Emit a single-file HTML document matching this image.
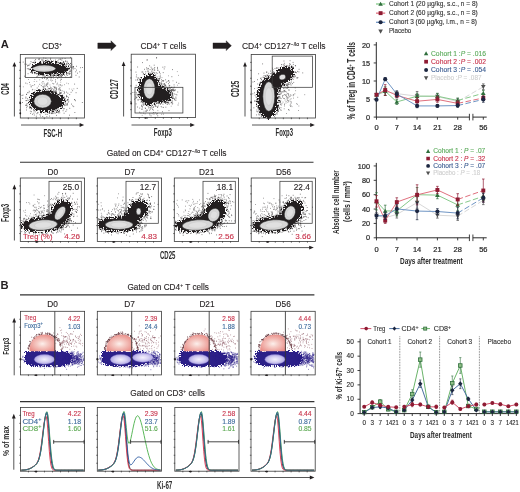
<!DOCTYPE html>
<html><head><meta charset="utf-8"><style>html,body{margin:0;padding:0;background:#fff;width:520px;height:492px;overflow:hidden}svg text{font-family:"Liberation Sans", sans-serif}</style></head><body>
<svg width="520" height="492" viewBox="0 0 520 492" style="position:absolute;left:0;top:0;will-change:transform" font-family="Liberation Sans, sans-serif">
<defs><filter id="spk" x="-50%" y="-50%" width="200%" height="200%" color-interpolation-filters="sRGB"><feGaussianBlur in="SourceAlpha" stdDeviation="2.2" result="b"/><feTurbulence type="fractalNoise" baseFrequency="0.7" numOctaves="2" seed="4" result="n"/><feColorMatrix in="n" type="matrix" values="0 0 0 0 0  0 0 0 0 0  0 0 0 0 0  4 0 0 0 -1.5" result="na"/><feComposite in="b" in2="na" operator="arithmetic" k1="0" k2="1.8" k3="-1.0" k4="0" result="m"/><feComponentTransfer in="m" result="t"><feFuncA type="discrete" tableValues="0 1"/></feComponentTransfer><feFlood flood-color="#231f20"/><feComposite operator="in" in2="t"/></filter><filter id="spkn" x="-50%" y="-50%" width="200%" height="200%" color-interpolation-filters="sRGB"><feGaussianBlur in="SourceAlpha" stdDeviation="1.6" result="b"/><feTurbulence type="fractalNoise" baseFrequency="0.7" numOctaves="2" seed="9" result="n"/><feColorMatrix in="n" type="matrix" values="0 0 0 0 0  0 0 0 0 0  0 0 0 0 0  4 0 0 0 -1.5" result="na"/><feComposite in="b" in2="na" operator="arithmetic" k1="0" k2="1.8" k3="-1.0" k4="0" result="m"/><feComponentTransfer in="m" result="t"><feFuncA type="discrete" tableValues="0 1"/></feComponentTransfer><feFlood flood-color="#2c2088"/><feComposite operator="in" in2="t"/></filter></defs>
<defs><filter id="bl" x="-30%" y="-30%" width="160%" height="160%"><feGaussianBlur stdDeviation="0.9"/></filter><filter id="bl2" x="-30%" y="-30%" width="160%" height="160%"><feGaussianBlur stdDeviation="0.5"/></filter></defs>
<rect width="520" height="492" fill="#ffffff"/>
<text x="0.7" y="48.3" font-size="11.2" fill="#231f20" font-weight="bold">A</text>
<text x="42.0" y="49.25" font-size="8.5" fill="#231f20" stroke="#231f20" stroke-width="0.12">CD3<tspan font-size="5.0" dy="-3.2">+</tspan><tspan dy="3.2">​</tspan></text>
<text x="140.4" y="49.3" font-size="8.5" fill="#231f20" stroke="#231f20" stroke-width="0.12" textLength="46.1" lengthAdjust="spacingAndGlyphs">CD4<tspan font-size="5.0" dy="-3.2">+</tspan><tspan dy="3.2">​</tspan> T cells</text>
<text x="241.9" y="49.1" font-size="8.5" fill="#231f20" stroke="#231f20" stroke-width="0.12" textLength="83.7" lengthAdjust="spacingAndGlyphs">CD4<tspan font-size="5.0" dy="-3.2">+</tspan><tspan dy="3.2">​</tspan> CD127<tspan font-size="5.0" dy="-3.2">−/lo</tspan><tspan dy="3.2">​</tspan> T cells</text>
<path d="M97.8,42.95 L111.2,42.95 L110.9,40.800000000000004 L116.2,45.7 L110.9,50.6 L111.2,48.45 L97.8,48.45 Z" fill="#231f20" stroke="#231f20" stroke-width="0.4" stroke-linejoin="round"/>
<path d="M213.0,42.95 L226.4,42.95 L226.1,40.800000000000004 L231.4,45.7 L226.1,50.6 L226.4,48.45 L213.0,48.45 Z" fill="#231f20" stroke="#231f20" stroke-width="0.4" stroke-linejoin="round"/>
<path d="M38.5 70.7h0.75M62.9 66.7h0.75M37.4 68.7h0.75M57.3 73.9h0.75M38.6 63.2h0.75M59.8 71.1h0.75M68.9 73.4h0.75M50.9 67.8h0.75M80.3 67.7h0.75M43.4 63.9h0.75M53.1 69.7h0.75M48.2 68.7h0.75M55.0 72.1h0.75M64.1 69.9h0.75M32.3 72.2h0.75M36.4 68.2h0.75M35.8 69.0h0.75M43.4 70.0h0.75M61.3 63.0h0.75M48.8 72.0h0.75M51.0 70.7h0.75M53.1 64.5h0.75M58.2 65.3h0.75M72.6 66.7h0.75M59.5 69.0h0.75M62.5 66.3h0.75M63.0 68.4h0.75M65.9 71.8h0.75M53.6 65.5h0.75M60.4 71.1h0.75M70.1 67.3h0.75M58.1 71.3h0.75M55.1 69.9h0.75M54.0 66.3h0.75M40.8 67.2h0.75M58.5 75.8h0.75M62.7 73.7h0.75M60.6 72.1h0.75M54.0 72.5h0.75M71.5 67.5h0.75M44.4 77.8h0.75M54.7 73.4h0.75M61.6 63.9h0.75M78.8 77.0h0.75M53.9 72.4h0.75M53.4 65.0h0.75M50.8 70.7h0.75M64.3 72.2h0.75M52.7 75.1h0.75M43.6 72.6h0.75M64.2 67.7h0.75M32.3 64.9h0.75M54.6 71.4h0.75M69.0 64.5h0.75M52.0 71.9h0.75M50.3 58.3h0.75M60.9 79.4h0.75M63.0 64.9h0.75M47.5 70.0h0.75M79.4 71.8h0.75M53.3 76.0h0.75M51.1 77.4h0.75M44.5 66.9h0.75M59.9 75.4h0.75M59.2 70.4h0.75M32.0 65.8h0.75M45.3 66.6h0.75M58.5 67.5h0.75M60.7 69.4h0.75M48.3 69.5h0.75M56.7 72.9h0.75M46.7 68.0h0.75M37.0 76.2h0.75M68.0 68.2h0.75M46.7 63.4h0.75M53.9 69.9h0.75M76.0 70.1h0.75M43.4 58.0h0.75M67.5 69.9h0.75M34.3 69.8h0.75M34.3 84.7h0.75M64.3 71.6h0.75M50.1 59.4h0.75M50.6 62.0h0.75M58.6 59.4h0.75M42.0 74.5h0.75M70.1 63.7h0.75M35.1 73.0h0.75M61.4 64.6h0.75M44.4 65.9h0.75M38.9 65.9h0.75M65.8 72.1h0.75M74.6 68.6h0.75M50.5 64.6h0.75M50.6 63.1h0.75M32.4 72.1h0.75M67.8 72.8h0.75M66.7 70.1h0.75M44.1 69.4h0.75M47.9 64.0h0.75M33.4 62.3h0.75M51.9 69.7h0.75M46.8 75.4h0.75M54.0 71.6h0.75M65.4 65.3h0.75M30.3 72.4h0.75M44.4 74.9h0.75M55.7 73.5h0.75M60.4 59.6h0.75M59.9 66.0h0.75M43.7 67.0h0.75M60.4 73.0h0.75M63.1 61.5h0.75M45.5 58.3h0.75M50.9 71.7h0.75M43.6 70.1h0.75M54.5 73.5h0.75M43.0 65.3h0.75M43.6 76.9h0.75M64.0 68.4h0.75M54.5 69.5h0.75M54.2 68.1h0.75M48.3 63.3h0.75M44.9 76.4h0.75M57.9 69.3h0.75M49.6 69.3h0.75M55.9 66.1h0.75M54.2 70.1h0.75M43.8 65.4h0.75M41.0 64.2h0.75M61.8 58.4h0.75M49.1 66.2h0.75M45.2 69.4h0.75M64.4 69.3h0.75M50.5 66.2h0.75M50.6 73.1h0.75M47.7 63.8h0.75M38.1 64.0h0.75M36.7 73.9h0.75M55.9 67.9h0.75M68.1 66.0h0.75M60.3 72.6h0.75M35.0 62.0h0.75M41.8 73.1h0.75M66.3 63.5h0.75M63.5 67.3h0.75M47.7 66.5h0.75M48.4 60.8h0.75M41.0 63.4h0.75M57.4 78.4h0.75M82.0 67.5h0.75M33.1 67.2h0.75M41.7 77.9h0.75M58.3 65.7h0.75M62.3 71.4h0.75M34.1 66.6h0.75M49.4 69.1h0.75M53.5 67.5h0.75M54.1 66.4h0.75M42.1 75.8h0.75M56.0 71.0h0.75M34.5 68.3h0.75M61.0 63.2h0.75M64.1 67.2h0.75M56.4 68.4h0.75M54.4 74.4h0.75M47.6 76.0h0.75M43.4 64.8h0.75M59.8 64.2h0.75M47.9 73.1h0.75M65.3 61.0h0.75M57.6 77.5h0.75M65.1 67.9h0.75M45.4 67.7h0.75M39.3 67.8h0.75M49.9 68.3h0.75M65.0 68.0h0.75M36.0 73.7h0.75M40.2 67.0h0.75M50.5 67.5h0.75M41.0 67.9h0.75M76.0 66.3h0.75M50.5 74.1h0.75M60.2 72.4h0.75M61.5 60.1h0.75M42.5 69.6h0.75M57.5 74.8h0.75M57.2 67.9h0.75M52.4 68.1h0.75M54.7 72.0h0.75M48.3 65.3h0.75M42.6 73.9h0.75M66.1 73.5h0.75M61.4 72.7h0.75M52.0 72.0h0.75M40.4 68.1h0.75M43.9 72.3h0.75M45.6 68.5h0.75M56.4 75.1h0.75M43.3 64.8h0.75M61.0 64.0h0.75M57.0 66.4h0.75M50.8 60.8h0.75M59.8 66.7h0.75M42.1 78.3h0.75M59.8 84.8h0.75M56.5 67.4h0.75M53.2 76.2h0.75M51.7 71.0h0.75M57.7 64.9h0.75M53.4 66.7h0.75M38.3 72.9h0.75M59.3 69.3h0.75M42.0 60.0h0.75M57.3 68.6h0.75M33.5 68.7h0.75M35.3 68.9h0.75M53.6 70.6h0.75M54.4 69.8h0.75M39.5 67.3h0.75M46.4 67.9h0.75M55.0 71.8h0.75M70.0 57.4h0.75M56.4 68.1h0.75M77.0 73.2h0.75M33.8 70.8h0.75M46.3 73.5h0.75M40.4 68.5h0.75M50.6 68.6h0.75M45.6 60.7h0.75M57.1 73.5h0.75M51.2 64.4h0.75M54.2 71.5h0.75M50.1 68.9h0.75M67.5 64.0h0.75M45.9 60.4h0.75M44.3 65.7h0.75M41.4 65.9h0.75M71.8 68.1h0.75M50.7 78.9h0.75M51.3 61.2h0.75M56.4 64.8h0.75M70.0 63.4h0.75M45.6 61.8h0.75M53.1 64.4h0.75M51.3 67.3h0.75M45.3 73.2h0.75M62.3 69.3h0.75M42.1 64.2h0.75M55.0 79.8h0.75M47.0 65.5h0.75M44.3 64.1h0.75M41.3 68.1h0.75M67.8 69.0h0.75M46.4 61.7h0.75M54.3 68.9h0.75M38.5 64.1h0.75M51.5 73.6h0.75M58.9 69.9h0.75" stroke="#231f20" stroke-width="0.75" opacity="0.9"/>
<path d="M44.4 103.4h0.75M35.5 98.2h0.75M61.9 99.0h0.75M63.7 100.7h0.75M49.6 98.2h0.75M32.8 93.7h0.75M72.4 105.8h0.75M54.7 108.2h0.75M54.3 108.7h0.75M45.1 99.3h0.75M58.8 98.4h0.75M33.4 99.3h0.75M42.0 105.6h0.75M40.1 93.0h0.75M44.3 112.6h0.75M47.5 102.2h0.75M48.1 103.2h0.75M58.2 111.5h0.75M29.9 111.2h0.75M48.0 98.6h0.75M74.4 99.7h0.75M69.4 108.3h0.75M36.7 104.7h0.75M56.1 100.1h0.75M22.4 98.4h0.75M45.9 92.7h0.75M68.1 99.2h0.75M43.7 98.8h0.75M39.4 95.2h0.75M49.0 103.3h0.75M42.4 100.3h0.75M32.7 104.9h0.75M39.8 102.6h0.75M38.0 97.1h0.75M50.4 91.9h0.75M75.2 100.7h0.75M47.2 95.5h0.75M65.5 111.4h0.75M51.3 90.7h0.75M42.5 105.6h0.75M42.4 92.1h0.75M34.9 95.2h0.75M48.2 96.1h0.75M67.5 93.2h0.75M51.8 101.7h0.75M46.5 108.8h0.75M44.3 98.6h0.75M43.9 100.2h0.75M62.1 106.8h0.75M33.2 97.7h0.75M39.2 107.1h0.75M50.5 107.7h0.75M47.3 86.7h0.75M53.0 102.7h0.75M53.6 91.2h0.75M48.9 95.8h0.75M40.4 103.7h0.75M51.9 94.3h0.75M29.2 82.4h0.75M41.7 109.4h0.75M47.4 84.1h0.75M38.5 104.2h0.75M66.4 109.8h0.75M52.0 102.5h0.75M36.3 97.6h0.75M44.3 95.2h0.75M48.7 98.1h0.75M51.7 111.8h0.75M56.2 104.1h0.75M45.4 89.6h0.75M46.7 105.1h0.75M36.9 110.4h0.75M44.3 103.8h0.75M44.4 91.6h0.75M70.7 92.3h0.75M58.1 96.8h0.75M51.1 95.0h0.75M43.4 107.9h0.75M69.4 94.6h0.75M48.1 108.1h0.75M41.1 106.3h0.75M39.4 105.5h0.75M52.8 110.1h0.75M52.0 92.1h0.75M55.3 92.7h0.75M56.3 112.3h0.75M54.6 96.9h0.75M61.1 102.3h0.75M34.3 98.3h0.75M63.6 98.7h0.75M49.3 98.4h0.75M29.5 97.2h0.75M51.9 102.6h0.75M46.1 85.0h0.75M61.4 106.4h0.75M59.3 110.8h0.75M43.1 96.5h0.75M51.5 113.6h0.75M29.5 99.3h0.75M40.1 105.2h0.75M64.1 98.8h0.75M34.4 101.4h0.75M44.9 89.4h0.75M57.7 97.1h0.75M55.5 91.1h0.75M60.1 90.2h0.75M59.6 87.4h0.75M63.2 98.2h0.75M30.9 99.2h0.75M51.7 93.6h0.75M42.6 103.0h0.75M46.1 78.0h0.75M43.3 104.2h0.75M51.3 108.6h0.75M56.8 103.3h0.75M59.9 108.2h0.75M49.1 96.3h0.75M59.3 104.2h0.75M27.2 92.7h0.75M53.1 101.8h0.75M51.1 105.8h0.75M49.6 112.9h0.75M41.5 98.0h0.75M51.5 106.6h0.75M56.7 112.2h0.75M42.8 109.8h0.75M53.1 93.2h0.75M46.5 116.6h0.75M56.6 97.5h0.75M21.6 95.5h0.75M40.3 101.6h0.75M73.4 106.6h0.75M51.4 94.0h0.75M35.0 99.4h0.75M43.6 96.4h0.75M60.4 101.6h0.75M34.4 110.7h0.75M44.6 91.0h0.75M51.5 104.7h0.75M44.3 106.2h0.75M57.0 94.4h0.75M25.4 83.1h0.75M46.6 110.2h0.75M59.0 111.4h0.75M68.4 101.1h0.75M59.6 89.5h0.75M55.6 103.9h0.75M47.0 97.7h0.75M35.7 102.1h0.75M62.1 98.2h0.75M53.8 96.0h0.75M50.8 93.4h0.75M52.2 99.4h0.75M51.5 96.5h0.75M35.1 98.5h0.75M59.4 112.8h0.75M44.4 107.0h0.75M56.3 103.9h0.75M30.9 103.4h0.75M37.3 109.8h0.75M56.7 105.6h0.75M55.7 91.4h0.75M58.7 101.6h0.75M46.0 95.7h0.75M36.8 97.7h0.75M81.9 102.5h0.75M50.3 96.1h0.75M41.2 96.9h0.75M38.2 107.6h0.75M45.0 107.5h0.75M35.3 108.0h0.75M47.7 106.0h0.75M46.9 94.3h0.75M61.3 97.7h0.75M46.4 94.4h0.75M50.2 98.1h0.75M51.1 103.6h0.75M40.4 90.4h0.75M52.8 107.9h0.75M55.7 92.4h0.75M54.7 103.9h0.75M51.1 104.2h0.75M44.4 102.6h0.75M58.2 97.2h0.75M32.2 100.2h0.75M50.2 87.2h0.75M40.6 105.4h0.75M46.3 101.7h0.75M34.1 107.8h0.75M67.3 99.5h0.75M39.9 92.3h0.75M57.8 101.8h0.75M39.3 110.1h0.75M56.4 105.5h0.75M28.6 100.2h0.75M54.9 91.8h0.75M58.2 111.7h0.75M59.4 95.6h0.75M40.2 108.1h0.75M58.9 110.2h0.75M61.2 100.3h0.75M43.5 87.1h0.75M42.9 97.4h0.75M55.1 103.8h0.75M32.9 95.6h0.75M35.9 116.2h0.75M40.1 107.4h0.75M69.1 115.2h0.75M63.7 113.2h0.75M34.4 98.4h0.75M40.0 98.8h0.75M76.8 88.4h0.75M54.1 91.7h0.75M62.7 110.7h0.75M42.4 116.5h0.75M48.8 110.8h0.75M51.4 96.8h0.75M43.8 100.1h0.75M54.8 101.9h0.75M74.0 99.6h0.75M42.9 95.6h0.75M39.5 90.2h0.75M37.2 107.8h0.75M48.7 99.7h0.75M51.9 109.0h0.75M54.8 106.8h0.75M41.8 99.0h0.75M39.5 100.3h0.75M39.0 98.2h0.75M46.1 99.4h0.75M45.1 97.3h0.75M62.4 98.4h0.75M36.9 102.5h0.75M36.0 93.0h0.75M48.9 88.5h0.75M59.4 88.5h0.75M38.1 105.3h0.75M26.1 94.4h0.75M34.8 99.5h0.75M26.3 107.7h0.75M46.4 103.3h0.75M44.4 85.1h0.75M46.3 90.9h0.75M48.1 94.6h0.75M44.5 99.4h0.75M56.5 106.8h0.75M36.9 100.9h0.75M64.1 104.7h0.75M40.0 100.1h0.75M44.2 108.1h0.75M48.4 103.8h0.75M72.3 90.7h0.75M36.8 88.0h0.75M30.5 107.4h0.75M51.2 113.2h0.75M26.3 94.4h0.75M63.9 108.7h0.75M57.7 107.5h0.75M48.4 100.9h0.75M48.4 107.3h0.75M46.2 103.4h0.75M64.0 92.6h0.75M39.7 105.2h0.75M45.1 99.8h0.75M71.1 104.1h0.75M43.4 109.2h0.75M75.7 92.7h0.75M40.6 101.9h0.75M53.8 98.0h0.75M53.4 95.0h0.75M41.3 101.8h0.75M74.3 84.1h0.75M52.6 111.1h0.75M56.1 115.4h0.75M53.0 102.1h0.75M46.6 94.6h0.75M66.0 92.1h0.75M46.6 97.1h0.75M39.4 84.3h0.75M43.8 102.0h0.75M49.6 107.3h0.75M46.2 96.2h0.75M51.4 106.0h0.75M38.1 89.6h0.75M36.7 108.9h0.75M59.0 94.4h0.75M49.2 107.3h0.75M62.6 96.1h0.75M45.4 111.6h0.75M74.5 112.5h0.75M35.5 104.4h0.75M44.7 100.6h0.75" stroke="#231f20" stroke-width="0.75" opacity="0.9"/>
<path d="M42.0 81.6h0.75M49.9 93.0h0.75M58.4 86.1h0.75M50.3 80.2h0.75M47.2 90.2h0.75M60.0 93.8h0.75M53.1 83.9h0.75M30.6 86.0h0.75M29.3 91.6h0.75M42.4 84.0h0.75M33.8 81.5h0.75M38.8 89.7h0.75M53.0 78.1h0.75M26.8 83.7h0.75M44.2 78.4h0.75M57.1 83.1h0.75M51.3 81.0h0.75M43.2 81.7h0.75M30.8 87.1h0.75M54.8 75.4h0.75M51.2 89.8h0.75M52.8 90.5h0.75M46.8 84.0h0.75M34.4 79.5h0.75M28.1 79.5h0.75M52.9 86.6h0.75M64.0 84.7h0.75M38.1 86.2h0.75M48.3 92.9h0.75M73.5 88.8h0.75M36.4 81.4h0.75M52.3 80.4h0.75M56.3 87.4h0.75M60.1 85.1h0.75M39.4 79.8h0.75M48.5 90.6h0.75M68.9 88.9h0.75M54.4 87.4h0.75M59.9 90.5h0.75M60.3 76.3h0.75M61.4 85.9h0.75M44.5 86.6h0.75M53.5 83.7h0.75M29.7 84.6h0.75M56.7 83.8h0.75M30.9 86.3h0.75M58.6 84.9h0.75M55.1 82.2h0.75M42.1 86.6h0.75M45.7 84.9h0.75M51.6 75.9h0.75M51.2 87.8h0.75M41.5 82.8h0.75M22.9 86.8h0.75M42.9 87.4h0.75M66.4 83.2h0.75M61.8 85.3h0.75M47.5 82.6h0.75M39.8 90.4h0.75M60.6 79.0h0.75M60.1 80.4h0.75M31.9 90.0h0.75M34.6 89.9h0.75M52.4 88.5h0.75M56.1 89.8h0.75M54.2 86.9h0.75M53.0 89.5h0.75M45.3 89.1h0.75M68.1 83.7h0.75M55.3 81.4h0.75M46.5 85.3h0.75M45.9 79.6h0.75M49.6 85.0h0.75M53.9 87.6h0.75M28.7 91.1h0.75M47.9 80.1h0.75M45.5 86.2h0.75M60.4 82.2h0.75M51.9 76.0h0.75M52.0 83.4h0.75M44.8 88.4h0.75M71.5 89.2h0.75M40.6 91.6h0.75M46.0 83.8h0.75M43.0 86.3h0.75M56.6 84.7h0.75M47.5 83.3h0.75M45.2 88.9h0.75M43.8 83.3h0.75" stroke="#231f20" stroke-width="0.75" opacity="0.6"/>
<path d="M43.0 61.6h0.75M35.3 59.5h0.75M57.9 73.9h0.75M42.8 60.1h0.75M27.7 73.7h0.75M50.9 77.5h0.75M42.8 75.4h0.75M66.0 70.2h0.75M67.9 69.5h0.75M55.1 60.1h0.75M65.7 67.0h0.75M67.9 63.5h0.75M51.5 75.8h0.75M69.8 65.5h0.75M58.9 63.1h0.75M67.2 73.3h0.75M31.7 71.4h0.75M34.7 73.0h0.75M37.9 75.6h0.75M56.3 73.8h0.75M31.8 72.7h0.75M39.1 62.3h0.75M48.8 76.4h0.75M31.0 71.8h0.75M60.9 75.9h0.75M28.5 65.5h0.75M41.0 59.9h0.75M36.4 73.4h0.75M63.7 71.0h0.75M30.4 68.4h0.75M29.8 63.8h0.75M47.1 75.2h0.75M69.6 69.6h0.75M24.6 64.1h0.75M46.2 75.5h0.75M28.9 69.7h0.75M31.9 62.5h0.75M32.0 64.9h0.75M63.5 65.7h0.75M30.6 61.6h0.75M30.8 72.5h0.75M56.2 61.6h0.75M65.3 61.3h0.75M70.5 70.5h0.75M61.0 74.6h0.75M37.0 73.4h0.75M65.4 67.1h0.75M50.0 75.9h0.75M40.6 62.2h0.75M31.7 66.4h0.75M34.5 72.4h0.75M34.5 60.8h0.75M27.6 65.6h0.75M57.6 60.7h0.75M65.7 66.7h0.75M62.8 62.7h0.75M40.6 75.0h0.75M38.2 59.2h0.75M64.6 66.6h0.75M33.9 62.8h0.75M26.9 68.7h0.75M43.5 75.5h0.75M47.4 60.0h0.75M47.6 75.2h0.75M39.0 75.1h0.75M62.7 74.5h0.75M64.4 71.1h0.75M42.7 61.4h0.75M66.1 74.8h0.75M28.9 69.1h0.75M59.5 76.3h0.75M70.0 71.4h0.75M46.9 78.6h0.75M34.6 72.5h0.75M44.1 61.7h0.75M36.2 77.0h0.75M39.1 74.2h0.75M59.8 58.8h0.75M26.4 64.3h0.75M33.2 62.5h0.75M55.8 62.1h0.75M34.1 73.6h0.75M39.5 62.2h0.75M66.8 68.9h0.75M22.8 62.1h0.75M61.5 74.7h0.75M38.9 59.7h0.75M31.8 73.1h0.75M63.7 65.2h0.75M43.8 61.7h0.75M62.4 73.8h0.75M45.5 61.1h0.75M67.0 67.9h0.75M66.5 69.5h0.75M27.2 65.9h0.75M41.4 74.6h0.75M53.2 61.0h0.75M32.2 73.3h0.75M34.6 63.3h0.75M24.1 76.2h0.75M38.9 58.6h0.75M58.8 74.4h0.75M59.0 77.5h0.75M47.3 77.9h0.75M28.1 68.8h0.75M66.6 69.2h0.75M28.7 64.8h0.75M44.2 77.1h0.75M50.4 76.8h0.75M46.5 75.1h0.75" stroke="#231f20" stroke-width="0.75" opacity="0.9"/>
<path d="M75.4 71.8h0.75M52.8 75.5h0.75M69.5 72.0h0.75M73.2 68.9h0.75M62.2 75.5h0.75M45.6 72.6h0.75M62.3 63.4h0.75M46.5 67.2h0.75M50.6 63.6h0.75M70.4 66.6h0.75M68.1 63.4h0.75M63.8 64.2h0.75M56.2 63.4h0.75M63.9 74.1h0.75M68.6 73.7h0.75M58.3 62.7h0.75M53.6 74.4h0.75M60.8 74.4h0.75M73.3 67.1h0.75M62.3 63.7h0.75M61.1 63.5h0.75M62.9 62.1h0.75M63.9 63.6h0.75M75.6 75.3h0.75M73.2 66.6h0.75M58.0 76.1h0.75M71.5 64.8h0.75M59.7 74.8h0.75M46.5 73.7h0.75M63.7 62.2h0.75M49.0 73.9h0.75M55.5 75.6h0.75M68.0 65.7h0.75M51.5 74.3h0.75M57.3 62.8h0.75M41.6 66.6h0.75M52.8 63.7h0.75M66.1 73.9h0.75M51.0 73.6h0.75M46.4 68.9h0.75M47.0 72.7h0.75M72.7 66.8h0.75M61.9 75.4h0.75M58.4 62.4h0.75M69.8 73.6h0.75M69.4 67.7h0.75M61.1 76.7h0.75M64.3 75.3h0.75M55.8 76.3h0.75M49.6 77.4h0.75M65.4 77.0h0.75M69.9 76.7h0.75M48.0 63.5h0.75M61.5 76.0h0.75M45.5 63.6h0.75M46.9 63.4h0.75M45.0 68.8h0.75M64.3 64.0h0.75M51.9 61.6h0.75M46.7 72.0h0.75M49.0 72.8h0.75M43.4 65.5h0.75M41.7 68.2h0.75M46.3 71.0h0.75M42.8 64.1h0.75M67.3 75.3h0.75M41.0 70.6h0.75M53.5 74.2h0.75M56.7 61.8h0.75M65.8 64.8h0.75M68.9 74.4h0.75M59.2 74.6h0.75M66.8 62.3h0.75M66.7 61.3h0.75M64.7 58.5h0.75M69.2 71.3h0.75M66.3 64.8h0.75M62.9 62.6h0.75M40.3 71.5h0.75" stroke="#231f20" stroke-width="0.75" opacity="0.9"/>
<g filter="url(#spk)"><ellipse cx="47.50" cy="68.20" rx="16.80" ry="6.80"/><ellipse cx="58.00" cy="69.00" rx="11.80" ry="5.60"/></g>
<ellipse cx="44.20" cy="68.60" rx="11.6" ry="3.5" fill="#d6d6d6" stroke="#1a1a1a" stroke-width="0.5"/>
<ellipse cx="44.20" cy="68.60" rx="6.96" ry="2.1" fill="#e0e0e0" stroke="#bcbcbc" stroke-width="0.3"/>
<path d="M49.2 112.8h0.75M41.0 112.6h0.75M29.1 97.2h0.75M47.9 88.3h0.75M48.3 90.9h0.75M53.0 92.3h0.75M60.3 92.8h0.75M48.6 89.1h0.75M58.1 109.1h0.75M62.6 104.5h0.75M54.7 87.1h0.75M55.7 109.4h0.75M54.5 90.0h0.75M32.2 93.3h0.75M59.0 100.3h0.75M49.3 116.1h0.75M40.9 85.6h0.75M49.2 113.0h0.75M62.1 102.5h0.75M34.8 111.9h0.75M40.2 116.1h0.75M31.7 94.3h0.75M55.5 110.4h0.75M38.1 89.5h0.75M54.8 108.6h0.75M60.1 96.4h0.75M49.4 113.2h0.75M60.7 100.8h0.75M30.3 113.4h0.75M37.7 112.7h0.75M33.2 92.6h0.75M29.4 106.8h0.75M26.1 104.9h0.75M25.7 100.6h0.75M39.3 89.8h0.75M45.4 114.3h0.75M55.0 92.5h0.75M39.6 114.7h0.75M25.0 105.3h0.75M62.0 95.1h0.75M28.5 92.7h0.75M26.2 105.7h0.75M40.7 113.1h0.75M27.2 106.1h0.75M38.6 90.4h0.75M37.0 91.6h0.75M56.5 111.7h0.75M55.1 94.6h0.75M33.5 113.2h0.75M51.4 89.1h0.75M25.5 97.1h0.75M56.6 108.2h0.75M33.7 110.0h0.75M33.0 109.4h0.75M32.2 114.3h0.75M56.0 94.4h0.75M34.0 93.1h0.75M26.6 103.7h0.75M36.5 113.7h0.75M32.5 85.5h0.75M65.2 98.8h0.75M64.7 100.5h0.75M32.4 89.4h0.75M39.0 89.8h0.75M29.9 103.7h0.75M30.8 108.2h0.75M60.6 100.4h0.75M47.8 112.8h0.75M31.1 108.6h0.75M42.9 88.7h0.75M34.5 91.7h0.75M33.5 93.6h0.75M50.4 88.9h0.75M42.0 90.3h0.75M27.6 103.6h0.75M64.8 102.8h0.75M61.7 90.8h0.75M61.2 103.2h0.75M25.5 98.2h0.75M55.4 108.6h0.75M25.9 100.6h0.75M55.4 109.9h0.75M56.7 107.2h0.75M27.5 100.3h0.75M29.0 107.9h0.75M29.2 104.6h0.75M22.6 95.1h0.75M56.9 108.8h0.75M56.1 88.4h0.75M26.2 110.0h0.75M63.4 97.8h0.75M29.4 107.8h0.75M49.8 91.3h0.75M42.3 90.1h0.75M27.3 98.7h0.75M60.7 103.5h0.75M60.1 98.6h0.75M34.4 92.3h0.75M30.5 107.0h0.75M56.5 106.3h0.75M58.1 95.2h0.75M33.9 115.0h0.75M54.9 94.0h0.75M61.8 96.5h0.75M57.3 94.2h0.75M30.8 108.9h0.75M31.1 111.7h0.75M33.4 110.8h0.75M29.6 106.2h0.75M51.3 91.7h0.75M62.2 106.9h0.75M31.5 108.0h0.75M46.8 114.4h0.75M37.2 112.8h0.75M28.7 102.3h0.75M22.2 102.5h0.75M67.8 102.2h0.75M64.5 101.9h0.75" stroke="#231f20" stroke-width="0.75" opacity="0.9"/>
<path d="M40.7 95.5h0.75M43.0 96.3h0.75M44.2 108.5h0.75M39.4 95.2h0.75M46.7 112.1h0.75M53.3 93.1h0.75M65.9 104.8h0.75M51.4 110.9h0.75M58.0 89.0h0.75M41.0 107.7h0.75M50.3 110.1h0.75M65.7 100.6h0.75M59.3 93.3h0.75M59.0 92.1h0.75M55.9 92.8h0.75M54.1 92.5h0.75M67.0 104.7h0.75M66.1 96.8h0.75M40.3 90.4h0.75M53.2 92.3h0.75M37.8 95.4h0.75M42.9 105.7h0.75M44.7 88.7h0.75M63.9 105.6h0.75M56.3 89.3h0.75M43.2 108.4h0.75M40.6 104.6h0.75M47.9 109.5h0.75M51.8 92.0h0.75M59.1 93.8h0.75M46.4 93.2h0.75M61.8 107.4h0.75M47.2 112.3h0.75M64.2 97.1h0.75M56.7 112.3h0.75M60.3 93.0h0.75M63.2 108.8h0.75M67.0 103.6h0.75M39.1 106.1h0.75M66.6 96.7h0.75M40.3 101.9h0.75M55.6 90.9h0.75M62.1 106.7h0.75M41.4 96.4h0.75M56.7 110.3h0.75M45.3 109.3h0.75M40.5 95.5h0.75M42.4 97.6h0.75M60.9 92.7h0.75M38.0 102.9h0.75M66.9 100.3h0.75M54.7 113.4h0.75M52.2 110.3h0.75M52.3 113.3h0.75M64.9 105.2h0.75M50.0 91.1h0.75M39.5 106.0h0.75M67.3 99.9h0.75M66.0 95.4h0.75M54.5 110.6h0.75M53.3 91.3h0.75M60.6 93.6h0.75M65.6 103.6h0.75M38.0 97.8h0.75M44.8 112.0h0.75M54.7 87.9h0.75M58.7 90.1h0.75M56.0 112.3h0.75M58.1 112.8h0.75M62.1 107.8h0.75M54.7 88.3h0.75M66.5 96.4h0.75M46.6 89.8h0.75M49.5 88.5h0.75M49.2 112.2h0.75M51.5 113.1h0.75M53.1 113.1h0.75M52.7 110.3h0.75M49.9 109.6h0.75M39.7 102.4h0.75M51.3 110.2h0.75M38.8 100.9h0.75M63.7 93.6h0.75M63.7 91.4h0.75M39.8 93.6h0.75M40.3 99.4h0.75M44.0 91.1h0.75M52.1 112.1h0.75M66.7 105.1h0.75M56.0 92.4h0.75M54.5 112.2h0.75M51.4 92.5h0.75M68.1 97.4h0.75M46.3 108.4h0.75" stroke="#231f20" stroke-width="0.75" opacity="0.9"/>
<g filter="url(#spk)"><ellipse cx="43.80" cy="101.20" rx="14.80" ry="11.10"/><ellipse cx="53.00" cy="101.50" rx="11.80" ry="8.60"/></g>
<ellipse cx="42.60" cy="101.20" rx="8.8" ry="6.9" fill="#d6d6d6" stroke="#1a1a1a" stroke-width="0.5"/>
<ellipse cx="42.60" cy="101.20" rx="5.28" ry="4.14" fill="#e0e0e0" stroke="#bcbcbc" stroke-width="0.3"/>
<rect x="20.3" y="54.4" width="64.10000000000001" height="63.6" stroke="#3a3a3a" stroke-width="0.8" fill="none"/>
<line x1="19.20" y1="62.35" x2="20.70" y2="62.35" stroke="#333" stroke-width="0.7"/>
<line x1="19.20" y1="70.30" x2="20.70" y2="70.30" stroke="#333" stroke-width="0.7"/>
<line x1="19.20" y1="78.25" x2="20.70" y2="78.25" stroke="#333" stroke-width="0.7"/>
<line x1="19.20" y1="86.20" x2="20.70" y2="86.20" stroke="#333" stroke-width="0.7"/>
<line x1="19.20" y1="94.15" x2="20.70" y2="94.15" stroke="#333" stroke-width="0.7"/>
<line x1="19.20" y1="102.10" x2="20.70" y2="102.10" stroke="#333" stroke-width="0.7"/>
<line x1="19.20" y1="110.05" x2="20.70" y2="110.05" stroke="#333" stroke-width="0.7"/>
<line x1="28.31" y1="119.20" x2="28.31" y2="117.60" stroke="#333" stroke-width="0.7"/>
<line x1="36.33" y1="119.20" x2="36.33" y2="117.60" stroke="#333" stroke-width="0.7"/>
<line x1="44.34" y1="119.20" x2="44.34" y2="117.60" stroke="#333" stroke-width="0.7"/>
<line x1="52.35" y1="119.20" x2="52.35" y2="117.60" stroke="#333" stroke-width="0.7"/>
<line x1="60.36" y1="119.20" x2="60.36" y2="117.60" stroke="#333" stroke-width="0.7"/>
<line x1="68.38" y1="119.20" x2="68.38" y2="117.60" stroke="#333" stroke-width="0.7"/>
<line x1="76.39" y1="119.20" x2="76.39" y2="117.60" stroke="#333" stroke-width="0.7"/>
<rect x="25.3" y="58.0" width="46.45" height="19.4" stroke="#3a3a3a" stroke-width="0.75" fill="none"/>
<line x1="14.40" y1="116.50" x2="14.40" y2="65.00" stroke="#444" stroke-width="0.9"/>
<path d="M12.5,66.6 L14.4,62.0 L16.3,66.6 Z" fill="#231f20"/>
<line x1="21.00" y1="125.00" x2="81.20" y2="125.00" stroke="#444" stroke-width="0.9"/>
<path d="M79.60000000000001,123.1 L84.2,125.0 L79.60000000000001,126.9 Z" fill="#231f20"/>
<text x="0" y="0" font-size="10.39" fill="#2a2a2a" font-weight="bold" transform="translate(8.8 94.8) rotate(-90)" textLength="11.6" lengthAdjust="spacingAndGlyphs">CD4</text>
<text x="43.5" y="136.6" font-size="10.18" fill="#2a2a2a" font-weight="bold" textLength="18.5" lengthAdjust="spacingAndGlyphs">FSC-H</text>
<path d="M165.5 107.2h0.75M148.2 85.1h0.75M153.2 85.8h0.75M146.1 86.6h0.75M157.3 88.3h0.75M152.1 85.9h0.75M148.4 85.1h0.75M160.9 91.9h0.75M162.8 87.0h0.75M159.2 72.4h0.75M146.6 88.4h0.75M144.6 87.7h0.75M142.2 87.1h0.75M144.4 89.1h0.75M147.5 77.0h0.75M146.6 89.4h0.75M139.2 90.3h0.75M160.8 86.4h0.75M154.8 96.6h0.75M143.2 105.0h0.75M171.5 76.7h0.75M168.4 80.5h0.75M162.5 67.2h0.75M159.8 90.8h0.75M139.1 79.2h0.75M141.1 78.2h0.75M153.3 86.9h0.75M154.1 90.2h0.75M164.5 66.9h0.75M152.1 89.5h0.75M156.2 72.9h0.75M138.9 87.0h0.75M150.7 67.2h0.75M153.2 89.0h0.75M156.3 57.6h0.75M154.4 78.4h0.75M146.0 98.5h0.75M164.5 90.9h0.75M149.1 104.9h0.75M142.4 87.2h0.75M145.7 77.2h0.75M151.7 113.7h0.75M152.2 95.1h0.75M149.8 102.7h0.75M151.6 78.4h0.75M150.9 106.4h0.75M149.3 103.6h0.75M149.5 113.6h0.75M152.5 97.0h0.75M147.6 99.2h0.75M148.1 71.2h0.75M152.7 74.5h0.75M162.7 98.7h0.75M150.2 97.4h0.75M144.5 97.2h0.75M172.0 69.6h0.75M146.5 93.2h0.75M153.7 68.7h0.75M142.1 107.0h0.75M144.9 95.8h0.75M138.4 78.1h0.75M134.5 92.3h0.75M160.0 90.2h0.75M147.7 92.0h0.75M154.1 85.6h0.75M154.8 112.7h0.75M169.1 82.2h0.75M139.3 112.2h0.75M158.5 103.8h0.75M155.2 86.4h0.75M158.4 102.6h0.75M160.1 76.0h0.75M158.9 84.9h0.75M147.0 93.4h0.75M154.9 92.3h0.75M148.4 92.1h0.75M148.1 96.1h0.75M157.5 99.2h0.75M139.3 85.1h0.75M150.8 74.4h0.75M153.3 87.4h0.75M150.6 93.7h0.75M144.8 107.9h0.75M158.9 82.5h0.75M154.1 98.1h0.75M143.5 84.8h0.75M156.1 58.0h0.75M138.8 93.1h0.75M155.4 77.9h0.75M157.4 115.8h0.75M151.9 88.6h0.75M150.7 76.9h0.75M154.8 91.3h0.75M156.5 106.3h0.75M150.4 91.3h0.75M152.9 110.1h0.75M137.6 89.1h0.75M144.7 90.7h0.75M157.2 90.0h0.75M156.4 91.4h0.75M144.0 81.2h0.75M138.3 91.8h0.75M146.7 99.3h0.75M158.4 78.5h0.75M140.8 96.5h0.75M142.6 91.7h0.75M155.3 84.5h0.75M165.3 79.8h0.75M153.7 84.2h0.75M148.7 96.1h0.75M149.0 80.3h0.75M145.7 85.5h0.75M156.6 85.8h0.75M160.6 99.5h0.75M143.8 101.6h0.75M141.7 88.0h0.75M160.0 89.1h0.75M148.7 104.6h0.75M143.6 79.1h0.75M158.4 96.5h0.75M137.9 91.0h0.75M156.8 87.2h0.75M146.7 90.8h0.75M151.9 80.7h0.75M157.2 70.1h0.75M149.5 114.9h0.75M141.0 88.7h0.75M140.3 89.9h0.75M145.9 111.3h0.75M142.2 88.8h0.75M152.0 96.9h0.75M157.7 70.3h0.75M168.8 85.4h0.75M144.0 69.3h0.75M146.3 67.8h0.75M151.7 81.9h0.75M152.9 79.6h0.75M150.7 115.9h0.75M160.1 91.1h0.75M141.7 106.7h0.75M135.6 72.1h0.75M161.1 81.9h0.75M161.6 96.0h0.75M168.6 110.6h0.75M155.1 81.5h0.75M155.1 106.0h0.75M146.8 84.7h0.75M149.6 84.9h0.75M159.8 73.8h0.75M153.8 65.2h0.75M143.7 78.3h0.75M144.1 96.4h0.75M155.0 90.0h0.75M151.7 80.7h0.75M141.6 72.0h0.75M146.5 75.4h0.75M147.3 97.8h0.75M154.7 105.0h0.75M142.1 62.6h0.75M140.6 113.0h0.75M156.0 83.8h0.75M161.3 84.0h0.75M164.3 84.2h0.75M146.6 97.4h0.75M140.3 87.0h0.75M166.5 94.3h0.75M140.6 86.0h0.75M149.8 79.9h0.75M153.5 104.0h0.75M150.4 99.7h0.75M152.5 90.7h0.75M143.6 100.6h0.75M161.5 83.6h0.75M142.5 95.3h0.75M150.9 102.5h0.75M154.2 87.4h0.75M138.2 96.5h0.75M150.8 73.8h0.75M137.3 67.0h0.75M155.3 83.8h0.75M144.6 87.7h0.75M150.3 84.9h0.75M156.3 101.3h0.75M148.1 107.9h0.75M148.9 78.6h0.75M151.3 71.8h0.75M147.4 76.2h0.75M146.3 91.3h0.75M152.2 86.4h0.75M156.1 93.1h0.75M146.9 76.9h0.75M156.2 98.1h0.75M137.4 80.2h0.75M139.9 98.9h0.75M145.1 73.9h0.75M162.8 94.4h0.75M152.0 91.9h0.75M148.5 89.4h0.75M157.6 94.3h0.75M146.1 90.1h0.75M165.9 82.3h0.75M138.7 90.3h0.75M155.3 96.0h0.75M153.1 112.6h0.75M141.3 88.3h0.75M135.7 103.9h0.75M149.3 110.2h0.75M147.6 76.4h0.75M143.9 98.6h0.75M142.9 92.0h0.75M143.8 80.3h0.75M145.2 108.5h0.75M140.8 92.8h0.75M156.8 79.9h0.75M137.1 107.0h0.75M164.8 85.9h0.75M139.7 99.4h0.75M149.6 79.0h0.75M146.6 60.0h0.75M142.9 74.2h0.75M138.6 95.9h0.75M152.2 109.4h0.75M142.7 104.9h0.75M158.8 90.3h0.75M150.7 79.7h0.75M145.5 83.5h0.75M156.2 114.0h0.75M160.5 94.8h0.75M157.0 68.4h0.75M141.2 99.1h0.75M146.6 69.2h0.75M149.8 73.2h0.75M149.9 107.8h0.75M140.1 83.3h0.75M154.6 88.5h0.75M151.4 78.6h0.75M146.9 59.9h0.75M148.3 104.3h0.75M140.2 86.5h0.75M155.9 103.6h0.75M159.8 78.0h0.75M146.3 110.1h0.75M145.8 92.2h0.75M142.6 80.8h0.75M141.4 105.2h0.75M156.4 93.6h0.75M145.4 71.8h0.75M153.9 78.7h0.75M148.8 100.2h0.75M148.2 88.4h0.75M141.2 101.5h0.75M154.4 97.3h0.75M163.8 68.9h0.75M150.0 96.5h0.75M152.7 92.4h0.75M153.8 70.1h0.75M149.1 102.9h0.75M149.3 86.3h0.75M157.1 67.4h0.75M153.2 107.2h0.75M147.6 78.7h0.75M154.3 83.2h0.75M142.7 90.7h0.75M135.5 96.8h0.75M139.5 82.0h0.75M156.0 88.3h0.75M152.0 105.4h0.75M162.9 114.1h0.75M145.0 99.9h0.75M135.5 98.4h0.75M161.0 79.8h0.75M153.8 98.9h0.75M148.4 80.9h0.75M162.8 72.6h0.75M151.2 100.3h0.75M151.8 107.9h0.75M162.5 94.4h0.75M165.1 97.8h0.75M139.2 84.7h0.75M152.1 91.0h0.75M136.3 74.9h0.75M153.6 91.1h0.75M163.0 91.4h0.75" stroke="#231f20" stroke-width="0.75" opacity="0.9"/>
<path d="M167.1 98.9h0.75M160.4 87.6h0.75M162.0 100.5h0.75M163.1 101.8h0.75M161.5 99.1h0.75M165.0 99.6h0.75M164.9 96.0h0.75M162.0 101.8h0.75M164.7 97.7h0.75M168.8 89.9h0.75M159.8 94.6h0.75M172.6 89.0h0.75M158.7 89.4h0.75M162.5 88.9h0.75M159.9 97.8h0.75M158.3 94.8h0.75M157.7 93.8h0.75M168.0 83.7h0.75M165.2 96.2h0.75M164.5 96.3h0.75M167.4 87.7h0.75M164.1 98.5h0.75M172.7 87.3h0.75M161.3 87.3h0.75M164.8 88.9h0.75M158.9 99.2h0.75M178.5 83.4h0.75M174.9 89.8h0.75M169.0 96.9h0.75M172.4 93.8h0.75M159.9 94.6h0.75M169.7 89.9h0.75M167.4 94.9h0.75M166.0 95.0h0.75M168.6 99.4h0.75M163.1 93.0h0.75M151.9 90.0h0.75M155.7 98.7h0.75M158.4 91.0h0.75M168.1 100.4h0.75M172.3 90.2h0.75M166.4 100.9h0.75M159.8 93.7h0.75M157.5 91.4h0.75M169.2 95.4h0.75M162.7 91.8h0.75M174.1 99.1h0.75M157.4 107.0h0.75M162.4 94.1h0.75M161.9 91.7h0.75M168.8 86.9h0.75M165.1 93.1h0.75M175.5 97.1h0.75M167.6 97.9h0.75M168.5 95.6h0.75M150.1 97.3h0.75M163.0 98.8h0.75M166.8 91.9h0.75M159.5 89.3h0.75M166.6 94.3h0.75M159.6 92.9h0.75M167.0 91.2h0.75M164.2 91.6h0.75M149.2 95.4h0.75M165.3 99.4h0.75M172.8 90.9h0.75M168.5 96.4h0.75M165.4 99.5h0.75M170.2 87.9h0.75M173.9 94.0h0.75M160.9 91.1h0.75M163.6 88.7h0.75M171.5 97.3h0.75M159.5 99.5h0.75M166.4 95.4h0.75M170.7 94.4h0.75M163.4 97.7h0.75M153.9 88.3h0.75M168.0 100.9h0.75M154.8 95.0h0.75M160.9 93.4h0.75M168.6 103.2h0.75M175.6 100.2h0.75M168.8 95.7h0.75M153.7 97.1h0.75M157.7 88.8h0.75M165.7 86.2h0.75M175.6 98.3h0.75M167.1 97.6h0.75M166.4 95.3h0.75M169.2 91.2h0.75M166.6 95.9h0.75M169.6 88.9h0.75M166.4 94.2h0.75M168.7 97.9h0.75M166.1 97.5h0.75M167.6 102.5h0.75M166.8 97.9h0.75M159.3 93.8h0.75M169.6 100.8h0.75M159.1 94.7h0.75M163.3 95.3h0.75M162.1 92.6h0.75M164.6 95.6h0.75M171.1 90.3h0.75M159.2 99.3h0.75M168.0 93.9h0.75M158.0 100.8h0.75M158.5 101.2h0.75M166.5 94.1h0.75M163.9 99.5h0.75M165.0 85.4h0.75M160.7 83.1h0.75M167.4 100.1h0.75M171.2 87.5h0.75M177.7 105.0h0.75M164.3 84.0h0.75M159.7 100.7h0.75M177.4 92.0h0.75M153.8 89.6h0.75M176.5 94.9h0.75M156.5 83.4h0.75M168.8 99.4h0.75M162.1 93.9h0.75M165.4 93.1h0.75M161.6 91.8h0.75M161.4 101.7h0.75M167.4 100.6h0.75M176.0 82.3h0.75M164.5 100.2h0.75M163.7 91.7h0.75M167.3 92.0h0.75M159.9 93.3h0.75M165.3 95.0h0.75M170.4 95.1h0.75M162.1 111.7h0.75M163.6 93.5h0.75M164.1 91.1h0.75M155.5 96.0h0.75M173.7 84.9h0.75M160.4 97.3h0.75M160.8 97.9h0.75M164.6 88.9h0.75M163.6 92.1h0.75M168.2 81.0h0.75M167.4 102.3h0.75M165.8 96.3h0.75M161.7 96.8h0.75M164.1 87.9h0.75M157.8 82.2h0.75M167.5 95.9h0.75M171.5 96.4h0.75M169.1 87.6h0.75M153.7 91.8h0.75M163.0 96.9h0.75M164.1 94.0h0.75M165.2 96.3h0.75M166.1 96.7h0.75M161.9 94.4h0.75M156.1 88.8h0.75M163.3 97.3h0.75M160.4 87.2h0.75M170.7 90.3h0.75M154.6 89.6h0.75M157.8 81.6h0.75M162.6 104.2h0.75M160.5 90.4h0.75M171.8 95.4h0.75M164.3 102.4h0.75M157.8 94.6h0.75M168.0 96.1h0.75M157.9 89.8h0.75M175.6 94.4h0.75M163.4 100.9h0.75M154.2 94.6h0.75M154.4 102.6h0.75M159.0 95.6h0.75M159.4 95.7h0.75M166.8 95.0h0.75M163.0 96.3h0.75M163.5 92.2h0.75M168.7 99.7h0.75M156.8 89.4h0.75M160.3 96.6h0.75M156.5 103.5h0.75M165.2 95.8h0.75M170.2 90.8h0.75M167.2 97.2h0.75M172.7 89.2h0.75M173.3 98.2h0.75M166.5 100.8h0.75M163.5 93.9h0.75M170.0 93.0h0.75M171.5 102.5h0.75M166.3 96.0h0.75M161.1 89.9h0.75M173.6 89.3h0.75M165.5 96.6h0.75M159.6 91.2h0.75M160.8 106.6h0.75" stroke="#231f20" stroke-width="0.75" opacity="0.9"/>
<path d="M161.7 107.3h0.75M178.3 103.1h0.75M171.2 87.2h0.75M151.1 108.0h0.75M172.6 80.8h0.75M169.5 95.3h0.75M166.0 102.7h0.75M177.0 85.2h0.75M158.1 105.9h0.75M155.5 98.1h0.75M157.3 73.4h0.75M152.6 101.8h0.75M152.7 75.3h0.75M153.1 93.3h0.75M163.0 95.8h0.75M163.4 80.6h0.75M152.1 83.7h0.75M153.8 97.0h0.75M171.5 89.6h0.75M168.8 104.4h0.75M146.7 83.2h0.75M159.7 77.1h0.75M176.9 71.6h0.75M146.0 100.8h0.75M150.8 100.0h0.75M148.4 103.8h0.75M152.4 100.2h0.75M168.2 75.8h0.75M149.4 73.0h0.75M147.2 102.4h0.75M157.9 101.6h0.75M172.4 103.6h0.75M165.5 87.6h0.75M154.4 95.8h0.75M166.9 104.2h0.75M161.3 89.1h0.75M157.5 110.6h0.75M161.1 114.3h0.75M151.2 101.9h0.75M160.5 100.7h0.75M150.8 96.1h0.75M157.7 89.3h0.75M146.4 76.8h0.75M155.0 98.4h0.75M160.9 95.0h0.75M161.6 77.6h0.75M168.9 93.1h0.75M150.9 86.4h0.75M168.2 94.5h0.75M141.8 115.4h0.75M143.6 111.2h0.75M166.8 81.4h0.75M170.8 106.2h0.75M168.8 99.5h0.75M161.6 94.8h0.75M153.1 95.4h0.75M171.1 91.3h0.75M178.0 75.4h0.75M158.7 76.2h0.75M140.9 95.2h0.75" stroke="#231f20" stroke-width="0.75" opacity="0.6"/>
<path d="M143.2 73.4h0.75M137.6 99.9h0.75M137.9 87.9h0.75M135.5 80.0h0.75M151.8 73.8h0.75M156.3 103.0h0.75M163.2 95.8h0.75M142.9 113.2h0.75M135.9 97.4h0.75M147.1 105.8h0.75M151.6 70.1h0.75M154.4 67.5h0.75M160.8 89.6h0.75M157.2 79.0h0.75M159.0 96.3h0.75M135.9 76.9h0.75M142.4 72.0h0.75M152.8 106.9h0.75M139.0 93.1h0.75M161.0 103.4h0.75M156.7 102.5h0.75M137.0 79.3h0.75M165.6 90.0h0.75M141.4 100.4h0.75M157.0 107.4h0.75M157.1 113.7h0.75M149.7 69.6h0.75M153.6 114.1h0.75M157.5 101.2h0.75M159.1 78.8h0.75M159.3 80.0h0.75M142.9 102.0h0.75M149.9 109.2h0.75M151.6 68.4h0.75M136.5 97.4h0.75M141.5 101.6h0.75M137.4 94.6h0.75M142.3 109.1h0.75M139.3 82.9h0.75M140.8 100.2h0.75M141.9 102.7h0.75M139.8 96.5h0.75M159.2 83.9h0.75M144.7 104.3h0.75M141.8 101.4h0.75M139.2 80.0h0.75M155.4 74.8h0.75M158.4 100.1h0.75M159.6 91.0h0.75M147.2 71.1h0.75M152.3 72.2h0.75M144.7 104.9h0.75M150.4 74.1h0.75M136.8 95.2h0.75M139.4 108.1h0.75M148.4 106.2h0.75M154.4 70.1h0.75M161.2 84.8h0.75M163.1 81.1h0.75M153.3 72.4h0.75M137.8 95.9h0.75M155.1 75.5h0.75M159.0 78.6h0.75M156.7 77.0h0.75M146.9 104.4h0.75M144.7 113.8h0.75M137.6 77.8h0.75M154.5 72.8h0.75M147.9 72.9h0.75M143.6 102.5h0.75M160.0 94.8h0.75M137.8 99.9h0.75M138.9 82.9h0.75M145.4 111.1h0.75M143.7 103.2h0.75M137.1 90.5h0.75M160.6 95.2h0.75M146.1 104.7h0.75M160.8 92.7h0.75M132.5 92.5h0.75M142.1 102.1h0.75M138.9 95.1h0.75M157.5 98.6h0.75M152.2 69.6h0.75M142.8 103.8h0.75M149.3 65.8h0.75M154.5 76.3h0.75M157.8 79.4h0.75M134.6 94.8h0.75M135.8 85.3h0.75M154.3 73.2h0.75M158.9 71.8h0.75M140.3 77.6h0.75M140.1 79.9h0.75M138.5 92.0h0.75M140.6 102.1h0.75M139.2 83.3h0.75M155.6 101.6h0.75M147.9 68.8h0.75M145.5 104.1h0.75M150.9 104.9h0.75M147.7 68.4h0.75M147.0 110.2h0.75M159.3 97.9h0.75M163.4 97.9h0.75M159.4 83.0h0.75M138.9 91.5h0.75M141.0 109.2h0.75M162.4 81.0h0.75M158.2 102.7h0.75M144.0 74.9h0.75M158.4 100.7h0.75M136.2 92.8h0.75M134.0 99.2h0.75M162.5 80.5h0.75M158.7 80.2h0.75M149.6 107.7h0.75M136.6 94.3h0.75M141.2 106.0h0.75M159.7 88.7h0.75M158.3 98.2h0.75M152.0 105.3h0.75M165.1 95.8h0.75" stroke="#231f20" stroke-width="0.75" opacity="0.9"/>
<path d="M163.7 102.3h0.75M169.4 85.4h0.75M163.1 107.4h0.75M172.6 89.8h0.75M155.5 84.8h0.75M159.8 86.8h0.75M152.2 96.9h0.75M152.7 88.0h0.75M158.8 103.4h0.75M169.8 91.0h0.75M165.4 102.4h0.75M174.0 87.2h0.75M169.6 87.9h0.75M163.7 83.5h0.75M148.8 93.6h0.75M164.1 85.8h0.75M163.9 86.8h0.75M158.0 87.8h0.75M146.8 99.9h0.75M149.6 102.2h0.75M154.2 88.1h0.75M155.2 104.8h0.75M150.0 88.2h0.75M156.8 86.2h0.75M162.0 85.7h0.75M153.4 99.5h0.75M155.0 88.5h0.75M169.7 92.9h0.75M155.5 101.2h0.75M165.2 103.4h0.75M153.4 101.9h0.75M152.0 85.7h0.75M171.9 93.4h0.75M157.2 85.7h0.75M152.2 91.3h0.75M171.2 96.5h0.75M152.4 87.5h0.75M167.9 88.3h0.75M152.6 87.3h0.75M171.2 89.6h0.75M162.8 84.7h0.75M169.6 93.4h0.75M150.4 90.5h0.75M149.8 90.5h0.75M154.8 106.2h0.75M153.6 91.3h0.75M173.2 90.6h0.75M159.9 84.8h0.75M174.5 90.6h0.75M154.8 102.2h0.75M170.5 93.1h0.75M171.3 91.8h0.75M155.3 101.7h0.75M172.7 98.5h0.75M159.9 103.6h0.75M152.3 92.3h0.75M154.0 100.9h0.75M171.0 90.9h0.75M166.6 102.5h0.75M169.8 93.4h0.75M160.1 104.3h0.75M151.6 98.2h0.75M152.2 96.1h0.75M172.6 96.3h0.75M157.4 103.2h0.75M159.6 83.2h0.75M154.3 85.4h0.75M157.7 85.2h0.75M172.5 95.6h0.75M164.8 84.8h0.75M169.3 92.2h0.75M151.1 93.8h0.75M152.8 90.9h0.75M169.5 91.0h0.75M151.8 96.9h0.75" stroke="#231f20" stroke-width="0.75" opacity="0.9"/>
<path d="M158.5 103.1h0.75M172.3 98.7h0.75M167.9 102.8h0.75M164.3 102.6h0.75M163.1 90.3h0.75M174.3 90.7h0.75M171.7 93.2h0.75M166.4 102.0h0.75M160.9 92.9h0.75M174.7 100.2h0.75M172.3 101.9h0.75M165.3 90.3h0.75M168.0 90.5h0.75M174.1 99.1h0.75M158.6 96.2h0.75M158.5 98.8h0.75M172.5 97.5h0.75M158.5 94.7h0.75M171.7 100.6h0.75M165.4 89.9h0.75M167.5 88.8h0.75M159.8 92.4h0.75M165.4 102.7h0.75M164.9 102.8h0.75M167.4 89.3h0.75M162.7 100.3h0.75M172.1 94.7h0.75M166.6 87.9h0.75M172.0 98.3h0.75M170.7 102.9h0.75M161.9 91.5h0.75M172.3 94.3h0.75M167.8 102.8h0.75M171.2 102.2h0.75M161.2 98.9h0.75M161.6 101.3h0.75M169.4 90.5h0.75M160.6 94.8h0.75M161.9 92.2h0.75M172.4 90.1h0.75M167.2 102.5h0.75M163.8 89.4h0.75M166.8 104.2h0.75M171.9 104.0h0.75M172.3 93.0h0.75M159.4 94.1h0.75M171.8 92.7h0.75M171.8 98.4h0.75M171.0 91.8h0.75M162.2 101.7h0.75" stroke="#231f20" stroke-width="0.75" opacity="0.9"/>
<g filter="url(#spk)"><ellipse cx="149.20" cy="89.50" rx="10.60" ry="15.80"/><ellipse cx="161.00" cy="95.00" rx="8.80" ry="7.80" transform="rotate(-15 161 95)"/><ellipse cx="166.50" cy="96.00" rx="5.80" ry="5.80"/></g>
<ellipse cx="149.30" cy="88.80" rx="5.8" ry="10.1" fill="#d6d6d6" stroke="#1a1a1a" stroke-width="0.5"/>
<ellipse cx="149.30" cy="88.80" rx="3.48" ry="6.06" fill="#e0e0e0" stroke="#bcbcbc" stroke-width="0.3"/>
<rect x="131.2" y="54.2" width="64.30000000000001" height="63.39999999999999" stroke="#3a3a3a" stroke-width="0.8" fill="none"/>
<line x1="130.10" y1="62.12" x2="131.60" y2="62.12" stroke="#333" stroke-width="0.7"/>
<line x1="130.10" y1="70.05" x2="131.60" y2="70.05" stroke="#333" stroke-width="0.7"/>
<line x1="130.10" y1="77.97" x2="131.60" y2="77.97" stroke="#333" stroke-width="0.7"/>
<line x1="130.10" y1="85.90" x2="131.60" y2="85.90" stroke="#333" stroke-width="0.7"/>
<line x1="130.10" y1="93.82" x2="131.60" y2="93.82" stroke="#333" stroke-width="0.7"/>
<line x1="130.10" y1="101.75" x2="131.60" y2="101.75" stroke="#333" stroke-width="0.7"/>
<line x1="130.10" y1="109.67" x2="131.60" y2="109.67" stroke="#333" stroke-width="0.7"/>
<line x1="139.24" y1="118.80" x2="139.24" y2="117.20" stroke="#333" stroke-width="0.7"/>
<line x1="147.27" y1="118.80" x2="147.27" y2="117.20" stroke="#333" stroke-width="0.7"/>
<line x1="155.31" y1="118.80" x2="155.31" y2="117.20" stroke="#333" stroke-width="0.7"/>
<line x1="163.35" y1="118.80" x2="163.35" y2="117.20" stroke="#333" stroke-width="0.7"/>
<line x1="171.39" y1="118.80" x2="171.39" y2="117.20" stroke="#333" stroke-width="0.7"/>
<line x1="179.43" y1="118.80" x2="179.43" y2="117.20" stroke="#333" stroke-width="0.7"/>
<line x1="187.46" y1="118.80" x2="187.46" y2="117.20" stroke="#333" stroke-width="0.7"/>
<rect x="135.0" y="87.3" width="47.9" height="25.7" stroke="#3a3a3a" stroke-width="0.75" fill="none"/>
<line x1="123.60" y1="116.50" x2="123.60" y2="64.50" stroke="#444" stroke-width="0.9"/>
<path d="M121.69999999999999,66.1 L123.6,61.5 L125.5,66.1 Z" fill="#231f20"/>
<line x1="131.50" y1="125.00" x2="191.80" y2="125.00" stroke="#444" stroke-width="0.9"/>
<path d="M190.20000000000002,123.1 L194.8,125.0 L190.20000000000002,126.9 Z" fill="#231f20"/>
<text x="0" y="0" font-size="10.39" fill="#2a2a2a" font-weight="bold" transform="translate(118.1 99.1) rotate(-90)" textLength="19.9" lengthAdjust="spacingAndGlyphs">CD127</text>
<text x="153.8" y="136.4" font-size="10.18" fill="#2a2a2a" font-weight="bold" textLength="18.0" lengthAdjust="spacingAndGlyphs">Foxp3</text>
<path d="M271.2 103.4h0.75M275.1 88.0h0.75M261.2 111.2h0.75M272.9 111.1h0.75M270.6 103.1h0.75M262.9 103.6h0.75M263.3 84.7h0.75M275.7 114.0h0.75M268.2 83.0h0.75M265.5 116.0h0.75M264.5 101.2h0.75M272.6 91.1h0.75M268.6 95.5h0.75M267.0 96.1h0.75M261.2 105.3h0.75M262.6 108.0h0.75M263.3 106.7h0.75M267.6 96.1h0.75M268.6 103.2h0.75M270.1 105.0h0.75M259.0 94.6h0.75M268.5 96.3h0.75M265.0 109.9h0.75M275.0 87.7h0.75M258.1 102.8h0.75M264.6 98.0h0.75M271.7 97.4h0.75M268.1 111.2h0.75M260.2 104.6h0.75M261.0 109.5h0.75M256.9 102.1h0.75M272.1 68.2h0.75M271.4 97.1h0.75M254.3 101.0h0.75M253.5 107.8h0.75M265.4 97.0h0.75M266.3 87.9h0.75M252.5 93.8h0.75M267.9 96.3h0.75M266.9 95.6h0.75M268.7 82.4h0.75M274.4 98.6h0.75M254.3 88.6h0.75M272.2 89.8h0.75M265.0 107.5h0.75M274.1 105.1h0.75M269.4 110.2h0.75M271.5 113.4h0.75M278.0 83.0h0.75M259.0 93.9h0.75M266.6 96.5h0.75M281.2 86.3h0.75M262.9 97.7h0.75M266.4 103.6h0.75M275.1 114.7h0.75M254.1 92.8h0.75M265.1 113.5h0.75M270.6 78.6h0.75M276.7 102.0h0.75M272.6 102.6h0.75M268.2 107.9h0.75M254.7 101.1h0.75M269.0 92.7h0.75M265.6 81.8h0.75M257.8 99.8h0.75M262.3 92.9h0.75M264.4 100.5h0.75M262.6 111.3h0.75M260.3 107.9h0.75M263.9 113.9h0.75M265.4 99.3h0.75M278.1 98.0h0.75M271.2 114.6h0.75M270.4 100.3h0.75M271.2 101.0h0.75M264.2 100.3h0.75M262.4 83.3h0.75M280.3 109.9h0.75M256.3 114.9h0.75M266.8 114.1h0.75M264.1 91.5h0.75M264.9 89.6h0.75M274.3 100.3h0.75M278.0 111.5h0.75M259.6 100.4h0.75M269.6 92.1h0.75M273.5 107.9h0.75M260.8 85.1h0.75M266.9 84.3h0.75M264.6 87.0h0.75M264.9 100.5h0.75M271.6 78.7h0.75M273.4 108.7h0.75M266.1 88.1h0.75M264.2 93.4h0.75M269.2 101.1h0.75M265.1 101.2h0.75M273.6 102.1h0.75M272.4 111.7h0.75M272.1 107.4h0.75M276.9 87.6h0.75M262.2 85.0h0.75M269.2 96.5h0.75M275.5 97.1h0.75M263.5 98.5h0.75M258.8 115.0h0.75M266.5 82.1h0.75M264.4 97.5h0.75M274.6 83.7h0.75M272.7 98.6h0.75M262.3 63.9h0.75M268.7 92.2h0.75M263.2 101.8h0.75M268.7 85.3h0.75M262.0 85.6h0.75M259.9 83.3h0.75M272.5 87.6h0.75M262.0 84.4h0.75M264.9 95.5h0.75M266.9 92.2h0.75M258.3 73.8h0.75M276.1 93.4h0.75M268.5 89.7h0.75M267.5 111.7h0.75M280.6 107.7h0.75M277.9 106.4h0.75M275.4 104.7h0.75M267.9 100.8h0.75M265.8 85.1h0.75M271.2 93.6h0.75M269.0 92.7h0.75M273.9 103.7h0.75M265.5 88.0h0.75M266.1 81.6h0.75M264.0 92.1h0.75M264.4 114.3h0.75M265.3 98.2h0.75M276.7 102.3h0.75M266.4 92.4h0.75M261.5 98.5h0.75M272.0 101.3h0.75M275.5 86.8h0.75M272.5 98.0h0.75M277.7 80.7h0.75M270.1 102.7h0.75M263.1 113.7h0.75M266.7 95.7h0.75M272.6 97.3h0.75M260.7 96.6h0.75M263.1 105.5h0.75M263.8 108.1h0.75M262.5 88.3h0.75M273.4 86.3h0.75M266.7 75.0h0.75M261.6 99.8h0.75M264.9 101.9h0.75M272.2 99.6h0.75M269.7 105.8h0.75M275.3 101.2h0.75M266.8 100.9h0.75M269.0 109.0h0.75M270.0 71.1h0.75M269.0 87.1h0.75M257.0 79.7h0.75M259.7 96.2h0.75M263.4 91.3h0.75M278.1 92.7h0.75M268.5 80.1h0.75M268.7 97.9h0.75M277.2 106.9h0.75M270.8 105.0h0.75M275.7 97.0h0.75M263.4 94.5h0.75M259.4 100.2h0.75M288.3 87.4h0.75M270.3 102.0h0.75M270.6 96.9h0.75M265.4 104.5h0.75M268.6 93.0h0.75M266.8 98.4h0.75M279.9 94.1h0.75M269.3 84.7h0.75M262.7 83.4h0.75M265.4 110.2h0.75M257.6 100.2h0.75M280.2 104.6h0.75M270.2 93.0h0.75M267.8 91.7h0.75M265.9 111.0h0.75M265.4 110.6h0.75M252.6 82.0h0.75M271.5 88.9h0.75M268.3 111.5h0.75M275.2 114.8h0.75M263.0 94.5h0.75M275.8 93.2h0.75M273.5 100.2h0.75M267.2 86.9h0.75M269.0 110.8h0.75M277.1 99.7h0.75M275.1 100.2h0.75M277.4 84.9h0.75M272.5 82.8h0.75M273.5 95.1h0.75M267.0 91.6h0.75M268.3 92.1h0.75M284.3 82.1h0.75M269.4 108.6h0.75M276.2 105.7h0.75M271.4 101.7h0.75M258.1 98.8h0.75M268.8 98.4h0.75M271.4 107.3h0.75M270.1 103.4h0.75M256.2 101.3h0.75M276.3 104.7h0.75M259.0 93.1h0.75M267.3 106.5h0.75M269.9 85.4h0.75M266.6 84.8h0.75M270.5 85.4h0.75M264.1 82.1h0.75M275.1 77.8h0.75M266.8 102.3h0.75M257.4 92.1h0.75M266.3 112.9h0.75M274.2 100.2h0.75M277.6 85.7h0.75M265.1 92.7h0.75M270.2 94.4h0.75M278.2 107.3h0.75M264.0 95.3h0.75M275.0 86.0h0.75M272.3 100.7h0.75M256.0 106.4h0.75M257.5 111.8h0.75M266.7 84.9h0.75M271.3 91.9h0.75M280.1 87.8h0.75M272.4 89.6h0.75M267.2 108.9h0.75M268.4 73.3h0.75M270.6 115.5h0.75M265.9 99.6h0.75M269.4 103.0h0.75M266.2 92.2h0.75M283.8 90.5h0.75M256.4 103.5h0.75M264.2 95.1h0.75M267.9 90.7h0.75M273.6 103.7h0.75M262.7 97.0h0.75M264.7 99.8h0.75M270.4 87.2h0.75M263.5 97.4h0.75M260.9 116.2h0.75M263.7 79.7h0.75M262.1 103.9h0.75M273.3 85.9h0.75M265.0 115.9h0.75M272.9 92.7h0.75M269.0 101.2h0.75M258.2 108.5h0.75M261.0 99.6h0.75M275.9 90.0h0.75M269.4 94.5h0.75M266.1 99.9h0.75M271.5 113.2h0.75M269.4 99.1h0.75M260.9 112.3h0.75M262.5 95.1h0.75M263.2 108.2h0.75M264.2 104.6h0.75M263.7 115.9h0.75M264.8 107.8h0.75M278.2 106.1h0.75M273.7 92.8h0.75M272.4 95.8h0.75M271.2 96.1h0.75M269.8 102.9h0.75M261.7 97.3h0.75M265.7 94.2h0.75" stroke="#231f20" stroke-width="0.75" opacity="0.9"/>
<path d="M279.1 91.5h0.75M273.9 76.1h0.75M290.5 76.7h0.75M284.4 71.7h0.75M295.9 77.9h0.75M287.1 79.5h0.75M281.2 66.3h0.75M283.9 73.7h0.75M280.6 76.2h0.75M278.2 75.4h0.75M283.0 83.1h0.75M281.9 76.7h0.75M291.5 76.2h0.75M282.8 77.2h0.75M287.8 66.3h0.75M274.3 87.6h0.75M285.9 73.5h0.75M275.8 78.4h0.75M276.8 82.7h0.75M286.1 76.8h0.75M289.4 74.3h0.75M288.8 73.7h0.75M280.1 68.6h0.75M283.2 78.0h0.75M286.0 74.3h0.75M283.8 80.6h0.75M287.7 70.3h0.75M290.1 64.3h0.75M283.2 75.5h0.75M286.2 77.1h0.75M279.5 80.5h0.75M278.3 73.0h0.75M287.6 74.8h0.75M292.1 83.6h0.75M282.3 84.9h0.75M283.6 75.4h0.75M274.5 78.9h0.75M282.5 72.9h0.75M278.8 78.9h0.75M282.1 76.5h0.75M287.0 74.5h0.75M276.3 79.0h0.75M291.4 65.8h0.75M283.2 76.2h0.75M284.9 76.9h0.75M290.3 83.8h0.75M274.6 68.6h0.75M276.0 72.6h0.75M284.3 81.0h0.75M285.5 70.2h0.75M278.7 76.5h0.75M278.6 77.4h0.75M277.7 73.9h0.75M283.4 74.4h0.75M283.9 76.5h0.75M294.7 72.0h0.75M293.6 77.7h0.75M283.2 75.5h0.75M277.0 86.8h0.75M279.1 71.3h0.75M293.0 76.4h0.75M284.5 74.6h0.75M290.6 70.0h0.75M268.3 77.7h0.75M287.3 81.6h0.75M291.6 78.3h0.75M277.2 73.5h0.75M282.9 73.5h0.75M287.6 77.0h0.75M292.8 68.1h0.75M279.8 70.3h0.75M275.8 79.5h0.75M282.8 80.5h0.75M279.7 72.2h0.75M284.8 77.9h0.75M288.6 74.2h0.75M291.2 79.5h0.75M285.0 73.0h0.75M283.1 82.7h0.75M275.9 68.2h0.75M285.7 70.8h0.75M278.7 79.5h0.75M274.2 82.0h0.75M285.5 73.8h0.75M273.4 81.0h0.75M282.2 77.1h0.75M281.6 80.2h0.75M275.6 80.3h0.75M279.2 72.8h0.75M291.6 72.0h0.75M280.2 68.4h0.75M288.4 69.9h0.75M285.7 84.9h0.75M291.8 75.7h0.75M277.8 83.0h0.75M295.0 72.1h0.75M281.2 71.5h0.75M298.7 69.3h0.75M284.3 74.8h0.75M274.2 82.6h0.75M290.9 81.0h0.75M275.0 88.9h0.75M284.0 84.6h0.75M285.6 68.1h0.75M275.5 82.4h0.75M280.4 85.2h0.75M279.2 71.2h0.75M287.6 75.4h0.75M278.7 84.2h0.75M287.0 83.8h0.75M276.5 80.4h0.75M281.9 70.6h0.75M282.8 84.4h0.75M281.4 76.2h0.75M276.5 85.7h0.75M289.6 68.2h0.75M285.1 74.3h0.75M289.0 71.7h0.75M276.4 80.5h0.75M286.9 76.4h0.75M277.3 86.3h0.75M277.5 85.1h0.75M283.5 71.4h0.75M286.0 76.5h0.75M283.7 82.9h0.75M285.2 76.5h0.75M281.4 71.3h0.75M278.1 77.9h0.75M280.2 71.8h0.75M280.7 76.8h0.75M289.7 75.9h0.75M286.9 68.5h0.75M288.6 70.5h0.75M278.2 76.4h0.75M281.2 77.9h0.75M276.2 73.2h0.75M279.8 81.2h0.75M284.4 90.9h0.75M275.9 83.2h0.75M278.4 79.1h0.75M293.2 72.2h0.75M290.0 79.1h0.75M283.7 65.7h0.75M293.6 71.9h0.75M276.0 78.7h0.75M289.6 74.9h0.75M286.6 77.8h0.75M288.5 89.9h0.75M281.2 70.3h0.75M283.6 61.0h0.75M291.2 77.0h0.75M286.8 73.3h0.75M285.2 79.9h0.75M280.9 77.1h0.75M283.0 79.0h0.75M286.8 77.5h0.75M273.8 89.7h0.75M284.6 84.4h0.75M284.4 65.1h0.75M281.1 72.8h0.75M279.2 81.0h0.75M289.5 77.8h0.75M285.3 71.4h0.75M302.4 72.9h0.75M287.9 75.3h0.75M287.6 77.3h0.75M279.0 72.8h0.75M277.6 75.9h0.75M290.0 77.8h0.75M288.1 67.4h0.75M290.1 72.8h0.75M279.6 74.1h0.75M290.1 79.5h0.75M281.7 79.8h0.75M293.4 76.7h0.75M286.0 77.6h0.75M281.8 70.0h0.75M284.5 77.5h0.75M289.7 68.4h0.75M297.5 77.6h0.75M285.9 71.1h0.75M284.1 73.8h0.75M297.0 78.0h0.75M291.6 71.8h0.75M292.6 76.0h0.75M288.6 76.6h0.75M284.7 78.9h0.75M289.5 70.0h0.75M282.3 78.8h0.75M291.7 70.7h0.75M283.4 72.2h0.75M275.1 86.4h0.75M274.0 84.2h0.75M285.6 68.1h0.75M276.8 75.6h0.75M279.0 79.9h0.75M289.1 74.3h0.75M283.9 73.8h0.75M288.0 84.2h0.75M278.4 89.6h0.75" stroke="#231f20" stroke-width="0.75" opacity="0.9"/>
<path d="M297.4 97.3h0.75M284.5 91.7h0.75M288.8 96.8h0.75M287.1 98.1h0.75M286.1 88.2h0.75M287.2 100.3h0.75M298.5 106.0h0.75M280.4 100.7h0.75M279.7 98.3h0.75M274.6 89.2h0.75M292.9 94.7h0.75M288.0 94.1h0.75M286.4 96.6h0.75M280.5 81.6h0.75M285.2 81.9h0.75M277.4 95.9h0.75M275.9 97.2h0.75M275.8 108.6h0.75M281.1 92.0h0.75M278.6 77.1h0.75M282.0 96.2h0.75M288.7 90.2h0.75M285.0 95.1h0.75M276.7 104.2h0.75M285.1 91.4h0.75M280.9 93.7h0.75M278.9 108.5h0.75M290.9 101.9h0.75M284.6 88.7h0.75M279.5 89.9h0.75M280.4 70.9h0.75M284.2 104.7h0.75M280.4 103.2h0.75M276.8 108.8h0.75M265.2 103.6h0.75M286.8 99.9h0.75M296.0 103.7h0.75M283.0 79.2h0.75M286.1 95.9h0.75M277.1 114.0h0.75M293.4 94.8h0.75M293.0 98.1h0.75M280.0 91.2h0.75M297.2 104.3h0.75M269.1 108.5h0.75M289.7 96.5h0.75M270.0 96.9h0.75M280.2 102.5h0.75M287.2 97.3h0.75M292.8 95.7h0.75M288.1 109.7h0.75M289.7 99.8h0.75M282.2 72.9h0.75M283.6 90.9h0.75M290.7 98.7h0.75M283.8 108.8h0.75M277.6 97.3h0.75M279.5 76.6h0.75M285.7 101.5h0.75M285.9 83.9h0.75M273.6 101.4h0.75M288.1 82.6h0.75M287.6 85.8h0.75M281.6 103.7h0.75M286.3 85.6h0.75M280.1 101.3h0.75M286.4 94.3h0.75M290.7 95.3h0.75M288.2 109.6h0.75M288.9 110.2h0.75M282.6 102.1h0.75M283.5 91.6h0.75M281.2 105.0h0.75M278.4 82.9h0.75M276.3 102.7h0.75M284.1 94.5h0.75M286.0 92.0h0.75M283.4 95.3h0.75M285.6 103.0h0.75M288.4 94.9h0.75M284.7 100.0h0.75M275.6 107.3h0.75M290.6 105.6h0.75M290.3 104.1h0.75M287.7 87.3h0.75M287.3 86.3h0.75M273.7 93.7h0.75M289.8 101.7h0.75M294.5 93.8h0.75M288.1 101.3h0.75M290.9 103.0h0.75M279.5 102.0h0.75M278.8 92.0h0.75M282.7 85.8h0.75M290.2 106.5h0.75M288.3 97.9h0.75M290.0 94.9h0.75M288.4 95.7h0.75M284.2 98.5h0.75M289.7 105.2h0.75M295.3 90.7h0.75M273.4 101.9h0.75M287.9 93.8h0.75M291.6 106.6h0.75M275.2 99.1h0.75M284.1 106.0h0.75M285.9 97.1h0.75M285.3 95.2h0.75M287.5 102.3h0.75M282.1 95.7h0.75M288.4 100.5h0.75M282.6 92.1h0.75M286.6 98.7h0.75M304.4 94.7h0.75M275.4 82.8h0.75M298.0 110.5h0.75M283.2 98.4h0.75M286.9 88.0h0.75M268.7 100.7h0.75M280.9 110.3h0.75M284.2 104.0h0.75M286.0 113.5h0.75M282.3 97.2h0.75M287.0 93.4h0.75M294.8 87.9h0.75M283.3 78.1h0.75" stroke="#231f20" stroke-width="0.75" opacity="0.7"/>
<path d="M273.3 80.3h0.75M259.2 111.5h0.75M261.3 116.0h0.75M278.5 98.8h0.75M278.6 94.3h0.75M278.9 107.3h0.75M277.4 111.1h0.75M257.9 108.0h0.75M260.2 113.0h0.75M258.1 91.5h0.75M279.7 97.2h0.75M277.2 87.7h0.75M256.6 92.2h0.75M277.4 81.7h0.75M270.5 78.5h0.75M258.4 114.1h0.75M279.9 90.1h0.75M279.2 108.6h0.75M280.2 101.7h0.75M265.0 75.8h0.75M277.3 110.8h0.75M266.0 77.9h0.75M279.3 91.7h0.75M260.3 82.7h0.75M258.6 110.1h0.75M278.1 97.4h0.75M278.7 85.1h0.75M266.4 71.8h0.75M266.9 75.9h0.75M256.7 100.0h0.75M276.9 112.3h0.75M278.0 109.7h0.75M277.8 91.9h0.75M260.4 82.3h0.75M278.0 104.8h0.75M263.4 77.4h0.75M256.3 97.6h0.75M258.7 109.6h0.75M270.8 78.2h0.75M257.2 107.8h0.75M257.5 91.2h0.75M265.2 76.3h0.75M259.6 83.1h0.75M257.5 90.5h0.75M259.6 85.1h0.75M257.8 93.6h0.75M274.7 83.3h0.75M259.6 83.3h0.75M260.3 83.9h0.75M275.6 84.6h0.75M276.6 81.4h0.75M273.9 81.9h0.75M279.5 94.7h0.75M278.8 90.5h0.75M276.9 109.9h0.75M260.2 82.3h0.75M260.7 78.0h0.75M280.7 98.6h0.75M277.4 87.3h0.75M257.4 102.6h0.75M260.9 115.8h0.75M271.1 78.2h0.75M257.4 84.0h0.75M261.2 79.5h0.75M278.3 96.5h0.75M259.7 114.1h0.75M254.0 81.5h0.75M263.7 75.5h0.75M259.7 111.5h0.75M263.9 77.7h0.75M277.8 110.4h0.75M279.3 97.1h0.75M270.1 76.5h0.75M255.6 96.9h0.75M278.1 102.6h0.75M276.3 113.1h0.75M256.7 101.9h0.75M277.9 92.1h0.75M278.8 96.5h0.75M275.9 83.5h0.75M261.7 82.3h0.75M280.5 92.9h0.75M266.4 72.5h0.75M279.2 94.4h0.75M268.6 77.5h0.75M256.5 110.0h0.75M256.9 88.0h0.75M278.8 102.0h0.75M256.4 106.1h0.75M255.8 101.1h0.75M277.2 90.4h0.75M264.4 77.3h0.75M277.4 78.5h0.75M258.3 106.9h0.75M274.5 80.0h0.75M260.3 78.6h0.75M277.3 86.8h0.75M258.7 111.1h0.75M270.6 78.6h0.75M278.4 77.3h0.75M257.5 94.7h0.75M254.7 95.2h0.75M262.6 77.2h0.75M278.7 102.5h0.75M273.9 82.4h0.75M274.1 116.6h0.75M261.8 80.7h0.75M276.9 86.9h0.75M263.6 73.1h0.75M257.1 106.1h0.75M258.8 109.3h0.75M279.3 84.5h0.75M278.7 101.1h0.75M265.9 76.2h0.75M258.8 87.2h0.75M256.6 111.6h0.75M256.3 99.4h0.75M271.4 77.9h0.75M272.1 79.7h0.75M260.4 112.4h0.75" stroke="#231f20" stroke-width="0.75" opacity="0.9"/>
<path d="M277.0 88.6h0.75M290.7 85.0h0.75M276.4 67.9h0.75M270.2 73.6h0.75M297.2 71.4h0.75M274.2 84.7h0.75M271.1 80.7h0.75M269.8 83.8h0.75M283.6 66.4h0.75M294.5 76.5h0.75M287.0 85.4h0.75M287.4 65.8h0.75M292.3 67.2h0.75M276.9 68.1h0.75M269.7 85.1h0.75M272.2 75.6h0.75M273.9 72.4h0.75M270.8 80.0h0.75M274.6 87.0h0.75M293.4 82.4h0.75M279.5 85.6h0.75M266.0 89.0h0.75M270.9 89.0h0.75M286.0 65.6h0.75M271.1 84.1h0.75M296.0 72.7h0.75M276.0 88.4h0.75M293.0 67.5h0.75M271.5 81.9h0.75M273.4 72.7h0.75M269.7 84.0h0.75M276.0 87.0h0.75M274.0 73.0h0.75M272.9 83.4h0.75M288.8 84.3h0.75M278.5 68.0h0.75M291.7 67.8h0.75M268.7 85.3h0.75M293.6 75.0h0.75M278.2 87.3h0.75M271.7 78.8h0.75M265.8 83.6h0.75M294.9 65.5h0.75M282.7 85.2h0.75M269.6 80.0h0.75M292.9 64.4h0.75M272.9 87.8h0.75M268.3 81.9h0.75M286.9 84.6h0.75M294.8 72.5h0.75M267.0 83.8h0.75M282.8 64.6h0.75M270.0 77.4h0.75M292.0 78.1h0.75M273.9 86.3h0.75M295.3 65.9h0.75M281.2 64.5h0.75M276.0 86.1h0.75M289.2 65.9h0.75M289.3 65.2h0.75M271.9 72.4h0.75M274.0 88.6h0.75M272.1 70.8h0.75M289.5 66.9h0.75M289.1 63.8h0.75M276.3 71.1h0.75M271.6 73.2h0.75M286.2 85.1h0.75M272.4 74.8h0.75M288.3 84.0h0.75M287.0 87.9h0.75M271.0 75.2h0.75M273.3 75.0h0.75M274.1 87.7h0.75M272.4 74.6h0.75M292.7 62.4h0.75M289.7 60.7h0.75M290.7 82.6h0.75M295.1 76.0h0.75M292.8 79.4h0.75M268.7 77.8h0.75M272.1 82.9h0.75M271.9 76.9h0.75M272.6 69.6h0.75M283.9 63.3h0.75M294.2 74.9h0.75M298.5 71.9h0.75M289.1 82.5h0.75M292.0 67.1h0.75M271.3 86.8h0.75M292.9 67.1h0.75M271.3 75.7h0.75M279.8 86.1h0.75" stroke="#231f20" stroke-width="0.75" opacity="0.9"/>
<path d="M281.0 79.4h0.75M265.9 87.5h0.75M281.3 80.5h0.75M279.8 89.2h0.75M266.2 82.2h0.75M269.7 93.5h0.75M278.2 76.5h0.75M281.6 85.6h0.75M264.6 95.3h0.75M281.0 86.0h0.75M264.9 82.2h0.75M268.1 90.1h0.75M264.7 86.1h0.75M278.1 94.4h0.75M267.3 80.2h0.75M273.5 74.3h0.75M281.1 81.0h0.75M279.8 90.0h0.75M266.0 89.5h0.75M276.0 93.2h0.75M265.8 81.2h0.75M267.2 77.7h0.75M280.0 91.4h0.75M266.6 81.7h0.75M284.7 79.2h0.75M281.8 91.7h0.75M268.4 90.4h0.75M285.0 79.5h0.75M280.6 87.4h0.75M267.5 90.2h0.75M262.8 84.4h0.75M278.6 77.6h0.75M271.6 73.7h0.75M263.3 82.7h0.75M279.7 74.4h0.75M279.8 78.7h0.75M284.7 87.0h0.75M266.0 84.0h0.75M266.8 91.3h0.75M263.9 80.3h0.75M269.3 75.8h0.75M272.7 92.5h0.75M270.0 92.7h0.75M264.2 89.6h0.75M281.2 83.1h0.75M273.4 92.9h0.75M283.7 84.5h0.75M267.3 75.4h0.75M267.3 79.4h0.75M267.3 90.9h0.75M281.2 84.9h0.75M279.8 89.2h0.75M273.3 71.8h0.75M269.1 91.3h0.75M275.1 93.0h0.75M264.1 78.6h0.75M271.1 92.4h0.75M281.7 77.8h0.75M265.4 79.1h0.75M276.9 97.3h0.75M283.2 85.0h0.75M270.3 91.7h0.75M275.2 74.2h0.75M268.4 75.4h0.75M281.0 76.4h0.75M283.3 88.6h0.75M279.5 78.2h0.75M265.0 80.7h0.75M267.4 80.7h0.75M282.7 78.0h0.75" stroke="#231f20" stroke-width="0.75" opacity="0.9"/>
<g filter="url(#spk)"><ellipse cx="267.80" cy="98.50" rx="10.60" ry="20.80"/><ellipse cx="283.00" cy="76.00" rx="12.30" ry="8.00" transform="rotate(-35 283 76)"/><ellipse cx="274.00" cy="84.00" rx="7.30" ry="8.30"/></g>
<ellipse cx="268.80" cy="96.50" rx="6.0" ry="14.8" fill="#d6d6d6" stroke="#1a1a1a" stroke-width="0.5"/>
<ellipse cx="268.80" cy="96.50" rx="3.5999999999999996" ry="8.88" fill="#e0e0e0" stroke="#bcbcbc" stroke-width="0.3"/>
<ellipse cx="282.40" cy="77.10" rx="3.4" ry="2.7" fill="#e0e0e0" stroke="#1a1a1a" stroke-width="0.45" transform="rotate(-20 282.4 77.1)"/>
<rect x="251.2" y="54.4" width="64.30000000000001" height="63.6" stroke="#3a3a3a" stroke-width="0.8" fill="none"/>
<line x1="250.10" y1="62.35" x2="251.60" y2="62.35" stroke="#333" stroke-width="0.7"/>
<line x1="250.10" y1="70.30" x2="251.60" y2="70.30" stroke="#333" stroke-width="0.7"/>
<line x1="250.10" y1="78.25" x2="251.60" y2="78.25" stroke="#333" stroke-width="0.7"/>
<line x1="250.10" y1="86.20" x2="251.60" y2="86.20" stroke="#333" stroke-width="0.7"/>
<line x1="250.10" y1="94.15" x2="251.60" y2="94.15" stroke="#333" stroke-width="0.7"/>
<line x1="250.10" y1="102.10" x2="251.60" y2="102.10" stroke="#333" stroke-width="0.7"/>
<line x1="250.10" y1="110.05" x2="251.60" y2="110.05" stroke="#333" stroke-width="0.7"/>
<line x1="259.24" y1="119.20" x2="259.24" y2="117.60" stroke="#333" stroke-width="0.7"/>
<line x1="267.27" y1="119.20" x2="267.27" y2="117.60" stroke="#333" stroke-width="0.7"/>
<line x1="275.31" y1="119.20" x2="275.31" y2="117.60" stroke="#333" stroke-width="0.7"/>
<line x1="283.35" y1="119.20" x2="283.35" y2="117.60" stroke="#333" stroke-width="0.7"/>
<line x1="291.39" y1="119.20" x2="291.39" y2="117.60" stroke="#333" stroke-width="0.7"/>
<line x1="299.43" y1="119.20" x2="299.43" y2="117.60" stroke="#333" stroke-width="0.7"/>
<line x1="307.46" y1="119.20" x2="307.46" y2="117.60" stroke="#333" stroke-width="0.7"/>
<rect x="272.2" y="56.1" width="40.2" height="31.2" stroke="#3a3a3a" stroke-width="0.75" fill="none"/>
<line x1="245.00" y1="116.50" x2="245.00" y2="65.00" stroke="#444" stroke-width="0.9"/>
<path d="M243.1,66.6 L245.0,62.0 L246.9,66.6 Z" fill="#231f20"/>
<line x1="252.00" y1="125.00" x2="311.80" y2="125.00" stroke="#444" stroke-width="0.9"/>
<path d="M310.2,123.1 L314.8,125.0 L310.2,126.9 Z" fill="#231f20"/>
<text x="0" y="0" font-size="10.39" fill="#2a2a2a" font-weight="bold" transform="translate(239.4 97.0) rotate(-90)" textLength="16.3" lengthAdjust="spacingAndGlyphs">CD25</text>
<text x="275.5" y="136.4" font-size="10.18" fill="#2a2a2a" font-weight="bold" textLength="17.5" lengthAdjust="spacingAndGlyphs">Foxp3</text>
<text x="106.7" y="156.3" font-size="8.4" fill="#231f20" stroke="#231f20" stroke-width="0.12" textLength="119.8" lengthAdjust="spacingAndGlyphs">Gated on CD4<tspan font-size="5.0" dy="-3">+</tspan><tspan dy="3">​</tspan> CD127<tspan font-size="5.0" dy="-3">−/lo</tspan><tspan dy="3">​</tspan> T cells</text>
<line x1="20.00" y1="162.30" x2="313.50" y2="162.30" stroke="#333" stroke-width="1.1"/>
<rect x="49.0" y="181.3" width="32.3" height="42.0" stroke="#3a3a3a" stroke-width="0.75" fill="none"/>
<path d="M30.9 217.2h0.75M47.6 225.0h0.75M28.1 223.5h0.75M51.9 229.6h0.75M40.0 228.4h0.75M48.6 220.1h0.75M49.4 222.9h0.75M67.7 217.8h0.75M44.8 224.0h0.75M67.3 220.2h0.75M38.0 216.6h0.75M53.8 220.4h0.75M36.6 221.9h0.75M52.3 224.0h0.75M55.2 224.4h0.75M47.1 223.9h0.75M44.4 223.7h0.75M37.7 227.1h0.75M36.4 223.9h0.75M57.3 223.0h0.75M60.9 221.8h0.75M67.8 225.7h0.75M43.4 228.6h0.75M30.0 224.1h0.75M59.5 221.8h0.75M53.3 223.8h0.75M57.1 220.4h0.75M23.6 224.3h0.75M57.9 217.8h0.75M32.3 217.4h0.75M45.3 227.8h0.75M36.7 216.6h0.75M59.9 220.6h0.75M35.2 225.3h0.75M26.2 219.3h0.75M40.3 224.2h0.75M54.0 230.2h0.75M43.3 227.1h0.75M24.8 230.4h0.75M38.7 227.0h0.75M48.9 226.0h0.75M39.6 229.1h0.75M27.4 226.0h0.75M48.9 223.9h0.75M25.0 228.8h0.75M45.1 227.2h0.75M64.3 223.9h0.75M41.9 224.1h0.75M43.4 230.7h0.75M28.3 224.5h0.75M41.5 227.1h0.75M38.7 220.9h0.75M25.8 222.8h0.75M40.1 224.7h0.75M61.7 227.0h0.75M50.5 227.9h0.75M37.2 227.5h0.75M56.5 220.8h0.75M59.5 220.0h0.75M59.2 225.5h0.75M35.6 220.8h0.75M38.5 230.2h0.75M60.8 221.8h0.75M56.1 232.7h0.75M53.2 229.9h0.75M40.1 228.1h0.75M55.2 220.5h0.75M45.0 224.9h0.75M49.0 227.3h0.75M28.8 224.4h0.75M22.6 220.8h0.75M51.1 222.8h0.75M58.8 218.8h0.75M51.2 223.6h0.75M53.7 225.4h0.75M44.0 224.6h0.75M44.5 221.4h0.75M47.7 225.3h0.75M39.9 226.1h0.75M41.8 226.1h0.75M32.4 224.6h0.75M58.8 224.1h0.75M44.0 228.2h0.75M55.5 222.3h0.75M62.8 222.1h0.75M54.4 223.8h0.75M54.5 226.9h0.75M37.6 217.5h0.75M54.3 218.2h0.75M48.9 221.2h0.75M39.9 223.5h0.75M25.1 215.2h0.75M71.1 230.4h0.75M55.0 223.5h0.75M23.7 218.6h0.75M45.6 229.7h0.75M47.2 227.0h0.75M33.1 224.2h0.75M23.8 218.3h0.75M42.1 222.7h0.75M42.9 218.5h0.75M39.4 226.6h0.75M53.8 224.8h0.75M40.6 226.7h0.75M33.8 220.9h0.75M56.4 221.8h0.75M37.9 226.6h0.75M52.7 233.5h0.75M24.2 221.4h0.75M48.0 224.9h0.75M40.3 220.9h0.75M40.6 228.9h0.75M34.0 224.7h0.75M46.6 220.0h0.75M44.9 219.9h0.75M45.5 227.6h0.75M46.6 225.9h0.75M33.6 225.4h0.75M49.3 231.2h0.75M33.2 221.8h0.75M48.3 219.5h0.75M60.6 232.0h0.75M26.2 227.9h0.75M28.1 230.9h0.75M61.5 227.4h0.75M59.4 223.9h0.75M44.9 223.0h0.75M34.6 226.2h0.75M37.4 222.6h0.75M31.1 227.3h0.75M45.2 222.2h0.75M61.6 225.6h0.75M49.4 222.3h0.75M49.8 226.1h0.75M61.6 229.0h0.75M42.8 226.6h0.75M50.0 223.5h0.75M55.2 230.0h0.75M35.0 214.6h0.75M57.8 224.4h0.75M50.0 220.5h0.75M26.8 223.8h0.75M28.2 223.9h0.75M31.7 230.1h0.75M36.0 225.9h0.75M28.1 228.0h0.75M35.7 228.2h0.75M38.4 227.5h0.75M39.1 219.9h0.75M40.7 217.9h0.75M35.2 225.8h0.75M36.1 223.3h0.75M28.2 223.0h0.75M45.7 233.6h0.75M22.9 223.7h0.75M26.9 227.2h0.75M47.5 223.8h0.75M46.8 222.1h0.75M50.4 223.3h0.75M44.7 230.5h0.75M64.1 222.0h0.75M39.4 221.3h0.75M45.9 222.3h0.75M43.0 224.2h0.75M28.6 219.0h0.75M39.8 223.5h0.75M45.8 218.2h0.75M48.9 224.0h0.75M39.3 225.0h0.75M39.0 222.3h0.75M41.4 223.7h0.75M50.6 220.3h0.75M29.8 227.7h0.75M32.8 225.4h0.75M43.5 226.1h0.75M45.5 225.9h0.75M51.3 228.6h0.75M61.3 221.9h0.75M52.9 225.0h0.75M34.9 223.5h0.75M42.3 216.3h0.75M44.9 221.7h0.75M38.1 221.7h0.75M31.8 219.4h0.75M42.5 222.7h0.75M37.9 226.5h0.75M25.4 225.2h0.75M34.8 226.7h0.75M64.1 223.8h0.75M43.3 224.4h0.75M35.9 223.4h0.75M69.1 227.0h0.75M63.2 223.8h0.75M63.5 221.1h0.75M52.8 222.2h0.75M24.8 225.9h0.75M59.6 225.9h0.75M50.1 224.9h0.75M35.5 223.0h0.75M45.3 222.6h0.75M38.6 218.1h0.75M67.8 220.5h0.75M47.1 227.3h0.75M44.2 228.4h0.75M52.6 225.8h0.75M48.5 228.2h0.75M57.7 222.8h0.75M34.2 223.4h0.75M51.2 220.0h0.75M37.7 225.9h0.75M47.4 222.5h0.75M35.4 223.4h0.75M35.9 225.6h0.75M44.9 227.3h0.75M30.7 227.9h0.75M43.7 222.8h0.75M36.1 224.7h0.75M41.3 219.9h0.75M39.8 228.5h0.75M75.1 222.7h0.75M40.5 224.5h0.75M39.4 221.7h0.75M21.6 224.0h0.75" stroke="#231f20" stroke-width="0.75" opacity="0.9"/>
<path d="M69.5 219.7h0.75M67.8 209.7h0.75M66.9 221.6h0.75M66.1 222.2h0.75M72.3 209.1h0.75M63.5 211.5h0.75M63.9 206.5h0.75M65.4 214.1h0.75M59.9 209.9h0.75M63.5 220.0h0.75M51.6 206.2h0.75M57.8 206.2h0.75M64.2 216.7h0.75M66.1 200.1h0.75M63.7 219.8h0.75M61.8 211.2h0.75M55.4 209.6h0.75M66.5 205.2h0.75M61.2 210.7h0.75M60.0 215.9h0.75M47.5 214.3h0.75M61.8 207.5h0.75M62.2 216.7h0.75M56.7 203.7h0.75M63.5 214.3h0.75M61.8 216.2h0.75M68.3 208.7h0.75M58.4 201.0h0.75M65.0 212.8h0.75M58.6 203.8h0.75M66.3 213.0h0.75M57.5 194.1h0.75M63.8 221.9h0.75M65.2 217.6h0.75M64.8 207.6h0.75M72.2 213.6h0.75M63.5 205.7h0.75M61.0 215.8h0.75M69.8 190.0h0.75M60.3 213.6h0.75M72.2 199.0h0.75M60.7 220.1h0.75M68.6 210.9h0.75M63.2 211.0h0.75M61.3 214.3h0.75M69.0 209.7h0.75M56.8 206.7h0.75M70.8 213.8h0.75M67.6 213.0h0.75M57.1 202.4h0.75M72.8 193.3h0.75M61.9 207.7h0.75M67.8 209.7h0.75M64.2 206.1h0.75M58.5 215.2h0.75M64.5 210.6h0.75M57.4 213.6h0.75M76.9 207.9h0.75M69.1 220.0h0.75M66.1 207.4h0.75M59.4 209.8h0.75M67.9 199.7h0.75M65.9 213.7h0.75M65.0 214.3h0.75M75.9 211.8h0.75M62.6 212.5h0.75M63.9 212.4h0.75M71.1 206.6h0.75M58.3 208.2h0.75M66.0 226.8h0.75M62.4 207.4h0.75M67.9 208.4h0.75M55.6 215.4h0.75M59.3 210.3h0.75M64.0 216.4h0.75M51.3 214.2h0.75M65.5 224.9h0.75M60.1 211.4h0.75M78.6 235.8h0.75M65.2 210.6h0.75M51.0 198.6h0.75M51.3 216.1h0.75M66.1 212.6h0.75M59.9 207.9h0.75M64.4 206.6h0.75M64.6 213.4h0.75M71.6 206.9h0.75M62.7 202.6h0.75M63.0 211.7h0.75M61.7 216.7h0.75M53.6 217.1h0.75M67.0 218.3h0.75M71.3 208.5h0.75M57.5 208.0h0.75M57.3 219.4h0.75M60.9 213.3h0.75M62.4 207.9h0.75M57.4 214.2h0.75M57.3 211.2h0.75M53.8 208.1h0.75M67.5 211.5h0.75M61.7 212.2h0.75M64.0 215.6h0.75M76.3 212.3h0.75M69.2 209.1h0.75M58.4 211.3h0.75M61.2 222.7h0.75M55.2 205.4h0.75M68.2 203.0h0.75M69.4 197.8h0.75M69.8 211.4h0.75M58.4 220.3h0.75M73.1 209.5h0.75M55.7 205.1h0.75M59.0 212.5h0.75M55.7 213.4h0.75M61.4 206.2h0.75M59.7 214.2h0.75M61.1 212.5h0.75M65.4 219.5h0.75M54.7 216.0h0.75M64.7 210.1h0.75M73.6 216.2h0.75M61.8 212.7h0.75M57.7 206.2h0.75M52.1 204.5h0.75M60.7 215.1h0.75M65.2 218.1h0.75M58.7 209.4h0.75M63.0 210.7h0.75M64.1 206.9h0.75M67.8 205.2h0.75M67.3 208.7h0.75M67.6 214.1h0.75M57.4 211.3h0.75M63.8 211.0h0.75M62.5 211.4h0.75M59.7 211.1h0.75M60.6 199.0h0.75M57.8 202.5h0.75M62.7 217.6h0.75M63.1 208.6h0.75M65.6 203.9h0.75M64.5 211.1h0.75M69.7 216.1h0.75M70.5 214.8h0.75M62.9 214.4h0.75M64.5 201.3h0.75M63.6 212.1h0.75M58.4 213.9h0.75M64.1 210.2h0.75M65.3 193.3h0.75M59.7 206.4h0.75M59.2 207.4h0.75M64.7 204.7h0.75M72.0 210.3h0.75M66.9 214.2h0.75M55.9 197.6h0.75M67.2 219.7h0.75M51.7 214.4h0.75M64.9 211.0h0.75M59.2 211.7h0.75M66.3 212.8h0.75M57.9 220.7h0.75M64.7 216.0h0.75M51.4 212.3h0.75M62.7 214.2h0.75M67.3 225.8h0.75M55.0 210.6h0.75M57.6 197.8h0.75M69.4 209.6h0.75M55.9 212.0h0.75M61.8 204.5h0.75M52.4 212.8h0.75M58.2 214.6h0.75M54.8 204.4h0.75M62.2 209.0h0.75M55.5 221.0h0.75M79.0 206.9h0.75M62.4 213.5h0.75M60.8 215.0h0.75M55.8 198.5h0.75M54.0 206.7h0.75M71.6 203.0h0.75M77.0 228.1h0.75M57.3 200.0h0.75M64.8 213.5h0.75M68.5 223.2h0.75M67.4 214.3h0.75M60.0 212.6h0.75M67.6 217.5h0.75M66.9 220.3h0.75M59.5 210.1h0.75M55.4 199.6h0.75M55.9 206.2h0.75M61.6 212.7h0.75M65.1 208.7h0.75M55.4 196.3h0.75" stroke="#231f20" stroke-width="0.75" opacity="0.9"/>
<path d="M47.3 211.4h0.75M50.9 211.2h0.75M52.4 210.2h0.75M44.5 218.3h0.75M50.7 212.1h0.75M51.0 214.3h0.75M29.4 203.9h0.75M35.4 211.4h0.75M41.2 211.9h0.75M39.6 215.4h0.75M48.6 214.4h0.75M47.3 213.1h0.75M64.1 213.6h0.75M28.5 202.5h0.75M36.2 210.0h0.75M39.7 208.1h0.75M44.3 195.7h0.75M48.3 213.7h0.75M52.3 204.3h0.75M33.6 209.9h0.75M53.6 198.2h0.75M42.5 224.0h0.75M50.0 199.5h0.75M32.9 205.3h0.75M53.4 216.2h0.75M43.5 208.8h0.75M33.7 195.0h0.75M38.5 203.7h0.75M35.7 207.8h0.75M38.7 217.8h0.75M41.3 218.2h0.75M44.2 208.5h0.75M46.5 209.9h0.75M44.3 218.8h0.75M37.0 210.3h0.75M57.0 207.0h0.75M35.8 214.4h0.75M30.0 221.1h0.75M32.8 210.7h0.75M35.6 207.2h0.75M39.0 211.9h0.75M43.0 205.6h0.75M26.0 202.6h0.75M37.2 201.7h0.75M36.1 215.8h0.75M53.5 210.4h0.75M39.0 199.7h0.75M32.1 220.3h0.75M52.5 209.6h0.75M38.7 206.4h0.75M34.5 204.4h0.75M48.3 206.4h0.75M60.6 205.9h0.75M38.6 202.6h0.75M40.5 217.7h0.75M23.4 210.9h0.75M33.6 215.0h0.75M42.3 218.2h0.75M49.5 218.0h0.75M48.6 212.2h0.75M29.4 216.0h0.75M34.2 207.3h0.75M43.2 217.4h0.75M53.8 214.4h0.75M47.1 209.6h0.75M61.1 216.2h0.75M41.2 212.9h0.75M74.0 202.6h0.75M31.9 220.8h0.75M42.2 212.3h0.75M76.3 212.4h0.75M41.7 220.5h0.75M38.8 212.8h0.75M55.8 208.7h0.75M61.9 209.9h0.75M45.3 216.1h0.75M35.4 216.3h0.75M58.8 217.6h0.75M54.2 209.1h0.75M44.4 220.9h0.75M37.1 224.1h0.75M51.1 205.2h0.75M24.7 212.5h0.75M35.0 210.6h0.75M49.1 217.5h0.75M34.4 219.2h0.75M40.2 207.5h0.75M45.8 215.1h0.75M41.8 216.3h0.75M64.1 215.9h0.75M43.6 207.7h0.75M40.7 211.0h0.75M44.1 210.8h0.75M38.2 211.3h0.75M47.7 210.6h0.75M34.4 210.5h0.75M41.3 207.0h0.75M37.9 215.3h0.75M38.0 208.5h0.75M65.5 218.5h0.75M47.5 207.0h0.75M43.2 215.5h0.75M54.6 212.8h0.75M42.6 210.7h0.75M53.7 211.5h0.75M61.2 204.9h0.75M50.6 204.0h0.75M32.2 219.0h0.75M35.9 209.4h0.75M27.9 222.1h0.75M52.8 210.3h0.75M41.7 211.7h0.75M28.2 217.9h0.75M38.2 199.4h0.75M46.9 221.3h0.75M33.3 206.0h0.75M46.7 210.9h0.75M47.2 205.0h0.75M36.6 213.1h0.75M51.8 211.4h0.75M76.8 216.2h0.75M43.7 215.2h0.75M63.4 209.6h0.75M33.2 219.0h0.75M53.4 211.8h0.75M25.1 210.2h0.75M26.5 222.5h0.75M46.3 214.5h0.75M37.0 199.2h0.75M65.4 222.9h0.75M39.0 213.9h0.75M36.4 219.9h0.75M26.5 216.1h0.75M67.5 217.2h0.75M39.1 217.3h0.75M61.3 214.6h0.75M52.1 214.7h0.75M49.6 205.4h0.75M34.3 212.2h0.75M50.0 204.7h0.75M30.0 213.7h0.75M61.8 205.8h0.75M32.7 205.9h0.75M40.3 219.4h0.75M43.7 205.4h0.75M20.9 220.5h0.75M39.4 218.3h0.75M62.4 198.8h0.75M58.2 214.4h0.75M40.5 213.8h0.75" stroke="#231f20" stroke-width="0.75" opacity="0.7"/>
<path d="M32.2 218.5h0.75M22.8 221.4h0.75M60.7 227.8h0.75M46.3 233.9h0.75M62.9 229.6h0.75M68.7 218.5h0.75M56.8 218.5h0.75M54.2 230.1h0.75M63.7 224.6h0.75M23.2 219.2h0.75M62.0 227.7h0.75M50.5 213.0h0.75M46.0 216.5h0.75M26.1 231.5h0.75M43.6 214.8h0.75M67.5 218.2h0.75M49.0 215.8h0.75M47.2 216.3h0.75M63.8 223.6h0.75M58.0 217.1h0.75M25.0 221.3h0.75M24.1 231.7h0.75M32.9 217.1h0.75M60.7 218.3h0.75M70.9 221.7h0.75M62.9 221.6h0.75M62.5 224.5h0.75M24.6 219.2h0.75M33.4 217.5h0.75M28.6 232.7h0.75M54.8 230.1h0.75M41.9 233.9h0.75M49.6 215.9h0.75M21.4 231.6h0.75M21.6 224.1h0.75M61.1 219.7h0.75M64.8 227.5h0.75M33.2 234.0h0.75M61.0 218.9h0.75M22.7 228.4h0.75M26.8 219.5h0.75M53.4 214.5h0.75M51.1 231.2h0.75M22.2 227.5h0.75M29.2 232.3h0.75M62.8 222.9h0.75M71.0 220.6h0.75M38.8 212.4h0.75M64.2 224.7h0.75M38.8 232.7h0.75M37.2 217.3h0.75M66.0 223.2h0.75M33.5 232.1h0.75M60.6 227.9h0.75M41.5 233.7h0.75M24.5 233.1h0.75M51.3 231.8h0.75M65.7 227.4h0.75M64.9 218.2h0.75M21.0 227.7h0.75M59.1 219.0h0.75M42.1 217.1h0.75M57.6 232.1h0.75M42.6 233.8h0.75M22.3 224.0h0.75M58.4 228.5h0.75M47.5 215.5h0.75M29.9 218.7h0.75M41.9 232.6h0.75M41.7 215.9h0.75M38.6 215.6h0.75M42.0 232.5h0.75M65.4 220.1h0.75M25.1 232.7h0.75M22.9 222.2h0.75M43.1 215.4h0.75M39.7 232.4h0.75M59.4 231.1h0.75M66.7 224.6h0.75M52.5 232.6h0.75M33.2 217.9h0.75M33.3 218.0h0.75M57.2 231.2h0.75M22.3 223.9h0.75M21.3 225.7h0.75M68.4 221.2h0.75M26.2 220.2h0.75M72.8 225.1h0.75M28.0 218.4h0.75M35.3 233.8h0.75M63.4 219.6h0.75M55.6 216.5h0.75M33.5 232.3h0.75M64.0 222.5h0.75M29.2 233.3h0.75M34.3 232.7h0.75M60.6 228.5h0.75M58.9 217.0h0.75M41.5 215.3h0.75M51.0 231.2h0.75M41.0 217.0h0.75M46.6 216.7h0.75M63.0 227.9h0.75M31.3 218.8h0.75M25.3 220.6h0.75M59.1 217.4h0.75M38.8 234.9h0.75M68.0 223.8h0.75M51.0 232.0h0.75M55.6 217.5h0.75M50.1 217.0h0.75M32.9 231.9h0.75M36.0 232.2h0.75M60.3 227.0h0.75M65.6 223.1h0.75M37.7 216.6h0.75M61.9 217.5h0.75M47.1 232.8h0.75M50.4 235.2h0.75M63.0 221.7h0.75M45.3 232.5h0.75" stroke="#231f20" stroke-width="0.75" opacity="0.9"/>
<path d="M62.6 225.5h0.75M69.2 222.1h0.75M55.5 224.1h0.75M72.4 205.4h0.75M57.5 201.3h0.75M69.4 217.1h0.75M62.9 224.1h0.75M67.1 198.3h0.75M51.3 206.2h0.75M70.1 216.5h0.75M58.5 192.4h0.75M71.3 202.3h0.75M52.7 199.6h0.75M47.0 221.7h0.75M47.7 221.0h0.75M54.2 223.7h0.75M61.3 226.0h0.75M42.0 218.0h0.75M62.1 193.8h0.75M70.7 220.7h0.75M54.8 226.2h0.75M76.4 202.1h0.75M61.3 230.0h0.75M61.2 197.4h0.75M64.4 197.4h0.75M70.0 196.1h0.75M66.2 200.2h0.75M66.1 222.4h0.75M61.4 199.1h0.75M47.6 222.9h0.75M62.7 197.7h0.75M50.1 225.7h0.75M64.2 223.6h0.75M68.3 198.1h0.75M74.7 204.3h0.75M46.6 215.9h0.75M71.4 215.3h0.75M60.1 224.6h0.75M56.3 227.0h0.75M72.0 208.2h0.75M77.2 204.2h0.75M58.6 199.7h0.75M53.7 204.6h0.75M61.2 223.9h0.75M71.5 212.5h0.75M66.4 196.2h0.75M50.5 218.5h0.75M75.4 203.9h0.75M44.7 217.3h0.75M65.7 223.4h0.75M55.7 226.6h0.75M54.2 203.5h0.75M69.1 198.7h0.75M70.9 215.0h0.75M47.4 223.1h0.75M46.9 226.2h0.75M69.7 218.5h0.75M56.1 227.9h0.75M73.2 221.5h0.75M63.0 225.9h0.75M52.6 223.1h0.75M65.5 199.6h0.75M62.3 193.6h0.75M53.5 224.4h0.75M50.4 222.0h0.75M58.5 199.9h0.75M57.3 200.8h0.75M77.0 210.3h0.75M51.4 224.8h0.75M67.9 222.3h0.75M48.9 212.9h0.75M54.8 202.6h0.75M77.5 206.5h0.75M69.4 220.5h0.75M62.6 195.9h0.75M56.5 225.7h0.75M71.1 203.3h0.75M51.6 221.8h0.75M63.3 199.4h0.75M74.2 202.2h0.75M46.4 211.3h0.75M73.2 216.6h0.75M57.1 201.9h0.75M56.7 230.1h0.75M77.1 199.2h0.75M44.0 225.1h0.75M45.7 220.1h0.75M70.2 220.1h0.75M74.9 211.3h0.75M63.3 225.1h0.75M71.2 214.6h0.75M43.4 213.0h0.75M64.5 222.3h0.75M47.3 201.1h0.75M65.3 194.0h0.75M73.5 214.1h0.75M53.6 226.9h0.75M49.9 218.7h0.75M48.6 214.6h0.75M56.7 200.6h0.75M69.8 218.7h0.75M48.7 218.1h0.75M66.9 222.1h0.75M50.9 211.3h0.75M76.1 209.5h0.75M64.3 233.9h0.75M53.6 228.7h0.75M58.4 202.0h0.75M74.6 209.3h0.75" stroke="#231f20" stroke-width="0.75" opacity="0.9"/>
<path d="M43.9 226.0h0.75M46.5 229.2h0.75M59.4 226.2h0.75M58.8 230.1h0.75M62.7 220.6h0.75M63.4 221.1h0.75M58.5 212.4h0.75M41.6 220.9h0.75M43.8 224.7h0.75M52.3 214.2h0.75M58.7 214.0h0.75M57.7 215.0h0.75M56.5 229.5h0.75M66.0 220.4h0.75M62.3 220.5h0.75M63.3 221.5h0.75M61.9 227.2h0.75M52.9 209.7h0.75M57.6 228.9h0.75M58.8 227.9h0.75M62.0 223.6h0.75M63.8 222.9h0.75M65.0 219.6h0.75M43.1 223.8h0.75M41.9 218.4h0.75M63.0 216.9h0.75M62.1 219.1h0.75M65.2 218.4h0.75M48.0 229.6h0.75M47.7 215.0h0.75M63.0 226.1h0.75M55.7 229.2h0.75M64.7 219.4h0.75M54.4 212.8h0.75M48.1 228.1h0.75M54.6 211.2h0.75M47.5 228.4h0.75M40.1 223.9h0.75M38.4 222.7h0.75M59.5 227.3h0.75M55.1 229.2h0.75M55.6 229.1h0.75M61.7 217.9h0.75M53.7 212.2h0.75M50.0 228.8h0.75M49.4 213.9h0.75M45.8 227.3h0.75M49.0 227.7h0.75M41.5 221.3h0.75M61.6 225.9h0.75M42.8 220.8h0.75M64.6 220.1h0.75M44.1 215.5h0.75M50.2 229.0h0.75M63.2 226.2h0.75M55.2 214.2h0.75M66.3 226.3h0.75M45.4 226.8h0.75M50.5 213.2h0.75M57.2 228.0h0.75M54.3 213.7h0.75M65.2 221.1h0.75M42.4 217.0h0.75M55.9 227.7h0.75M62.7 217.4h0.75M47.8 228.0h0.75M46.4 227.6h0.75M63.9 218.9h0.75M64.2 221.9h0.75M42.8 215.4h0.75M47.3 227.1h0.75M59.7 228.2h0.75M61.4 217.0h0.75M65.0 216.8h0.75M57.0 226.9h0.75" stroke="#231f20" stroke-width="0.75" opacity="0.9"/>
<g filter="url(#spk)"><ellipse cx="42.10" cy="224.60" rx="21.30" ry="7.60" transform="rotate(-4 42.1 224.6)"/><ellipse cx="61.10" cy="212.30" rx="13.60" ry="9.80" transform="rotate(-55 61.099999999999994 212.3)"/><ellipse cx="52.30" cy="221.00" rx="9.80" ry="6.80"/></g>
<ellipse cx="43.10" cy="225.00" rx="14.4" ry="5.2" fill="#d6d6d6" stroke="#1a1a1a" stroke-width="0.5" transform="rotate(-4 43.1 225.0)"/>
<ellipse cx="43.10" cy="225.00" rx="8.64" ry="3.12" fill="#e0e0e0" stroke="#bcbcbc" stroke-width="0.3" transform="rotate(-4 43.1 225.0)"/>
<ellipse cx="60.10" cy="213.20" rx="7.8" ry="4.2" fill="#d6d6d6" stroke="#1a1a1a" stroke-width="0.5" transform="rotate(-55 60.099999999999994 213.2)"/>
<ellipse cx="60.10" cy="213.20" rx="4.68" ry="2.52" fill="#e0e0e0" stroke="#bcbcbc" stroke-width="0.3" transform="rotate(-55 60.099999999999994 213.2)"/>
<rect x="20.3" y="178.0" width="64.3" height="63.5" stroke="#3a3a3a" stroke-width="0.8" fill="none"/>
<line x1="19.20" y1="185.94" x2="20.70" y2="185.94" stroke="#333" stroke-width="0.7"/>
<line x1="19.20" y1="193.88" x2="20.70" y2="193.88" stroke="#333" stroke-width="0.7"/>
<line x1="19.20" y1="201.81" x2="20.70" y2="201.81" stroke="#333" stroke-width="0.7"/>
<line x1="19.20" y1="209.75" x2="20.70" y2="209.75" stroke="#333" stroke-width="0.7"/>
<line x1="19.20" y1="217.69" x2="20.70" y2="217.69" stroke="#333" stroke-width="0.7"/>
<line x1="19.20" y1="225.62" x2="20.70" y2="225.62" stroke="#333" stroke-width="0.7"/>
<line x1="19.20" y1="233.56" x2="20.70" y2="233.56" stroke="#333" stroke-width="0.7"/>
<line x1="28.34" y1="242.70" x2="28.34" y2="241.10" stroke="#333" stroke-width="0.7"/>
<line x1="36.38" y1="242.70" x2="36.38" y2="241.10" stroke="#333" stroke-width="0.7"/>
<line x1="44.41" y1="242.70" x2="44.41" y2="241.10" stroke="#333" stroke-width="0.7"/>
<line x1="52.45" y1="242.70" x2="52.45" y2="241.10" stroke="#333" stroke-width="0.7"/>
<line x1="60.49" y1="242.70" x2="60.49" y2="241.10" stroke="#333" stroke-width="0.7"/>
<line x1="68.52" y1="242.70" x2="68.52" y2="241.10" stroke="#333" stroke-width="0.7"/>
<line x1="76.56" y1="242.70" x2="76.56" y2="241.10" stroke="#333" stroke-width="0.7"/>
<text x="52.7" y="174.9" font-size="8.3" fill="#231f20" stroke="#231f20" stroke-width="0.12" text-anchor="middle">D0</text>
<text x="79.0" y="189.7" font-size="8.3" fill="#231f20" stroke="#231f20" stroke-width="0.12" text-anchor="end">25.0</text>
<text x="80.1" y="239.0" font-size="8.1" fill="#c8324a" stroke="#c8324a" stroke-width="0.12" text-anchor="end">4.26</text>
<rect x="126.0" y="181.3" width="32.3" height="42.0" stroke="#3a3a3a" stroke-width="0.75" fill="none"/>
<path d="M98.5 219.9h0.75M141.3 227.3h0.75M130.4 228.9h0.75M117.4 227.1h0.75M110.8 222.0h0.75M108.2 223.0h0.75M100.4 223.3h0.75M99.4 225.7h0.75M136.3 226.1h0.75M100.2 226.5h0.75M132.9 234.0h0.75M122.2 222.9h0.75M112.1 222.0h0.75M113.1 218.6h0.75M111.9 230.9h0.75M106.7 222.4h0.75M118.6 231.9h0.75M124.6 231.2h0.75M115.6 226.4h0.75M134.9 225.6h0.75M129.3 226.6h0.75M120.9 223.1h0.75M101.3 226.5h0.75M128.2 224.4h0.75M111.2 226.5h0.75M131.3 225.9h0.75M127.5 225.9h0.75M126.2 227.5h0.75M126.7 223.5h0.75M124.9 226.1h0.75M130.3 227.2h0.75M123.6 230.2h0.75M124.7 227.4h0.75M128.7 228.1h0.75M133.0 230.0h0.75M116.2 226.5h0.75M123.4 228.3h0.75M140.8 229.8h0.75M129.5 225.4h0.75M124.9 221.4h0.75M133.3 218.9h0.75M121.2 218.1h0.75M128.1 222.2h0.75M113.7 222.2h0.75M123.4 225.5h0.75M117.4 221.4h0.75M126.7 223.2h0.75M115.8 223.6h0.75M113.6 224.0h0.75M129.5 236.3h0.75M139.0 231.7h0.75M129.0 221.2h0.75M111.0 220.2h0.75M124.4 223.4h0.75M125.9 219.0h0.75M108.4 232.3h0.75M115.6 222.6h0.75M114.3 222.5h0.75M116.7 228.3h0.75M103.8 222.2h0.75M126.7 227.5h0.75M111.1 229.2h0.75M127.7 222.9h0.75M122.1 226.0h0.75M112.8 226.1h0.75M133.0 224.5h0.75M130.1 216.6h0.75M127.8 221.3h0.75M112.4 228.5h0.75M117.9 226.6h0.75M99.8 223.1h0.75M100.5 223.2h0.75M112.4 230.3h0.75M110.3 224.8h0.75M134.1 225.5h0.75M127.4 223.1h0.75M114.6 229.5h0.75M120.2 218.6h0.75M101.9 227.6h0.75M121.1 230.3h0.75M137.5 225.2h0.75M112.8 219.1h0.75M122.6 221.5h0.75M109.9 222.1h0.75M117.3 226.5h0.75M122.0 222.5h0.75M119.0 226.7h0.75M112.7 229.7h0.75M120.7 221.4h0.75M102.3 217.0h0.75M128.2 220.8h0.75M110.1 222.3h0.75M122.7 222.1h0.75M110.5 221.2h0.75M122.1 226.6h0.75M133.6 224.0h0.75M108.3 227.9h0.75M131.3 221.3h0.75M108.7 228.6h0.75M103.1 228.8h0.75M113.5 222.1h0.75M118.4 223.0h0.75M129.6 224.2h0.75M128.9 225.2h0.75M124.4 220.9h0.75M114.9 226.4h0.75M101.1 231.6h0.75M108.0 228.6h0.75M130.5 225.8h0.75M117.1 225.0h0.75M121.2 228.3h0.75M145.5 226.0h0.75M114.7 226.2h0.75M119.5 226.6h0.75M111.4 221.4h0.75M114.5 220.0h0.75M127.4 225.7h0.75M117.7 219.5h0.75M128.4 225.7h0.75M102.9 224.3h0.75M122.0 225.1h0.75M134.5 228.3h0.75M109.5 221.6h0.75M112.5 224.5h0.75M122.1 221.8h0.75M117.5 225.7h0.75M116.7 217.3h0.75M132.4 221.3h0.75M114.1 225.4h0.75M130.5 224.4h0.75M101.2 218.1h0.75M99.1 222.5h0.75M126.5 218.5h0.75M100.2 222.6h0.75M117.1 222.7h0.75M112.4 221.8h0.75M100.1 225.3h0.75M112.0 223.0h0.75M124.4 227.2h0.75M102.8 220.3h0.75M113.8 224.2h0.75M106.1 228.3h0.75M146.2 225.1h0.75M105.4 222.2h0.75M116.2 224.6h0.75M123.3 221.1h0.75M100.5 224.3h0.75M127.2 221.8h0.75M123.3 224.6h0.75M110.3 224.3h0.75M131.5 228.1h0.75M104.6 226.0h0.75M123.7 229.6h0.75M125.0 223.3h0.75M113.3 223.1h0.75M142.3 230.1h0.75M125.2 227.0h0.75M103.9 222.0h0.75M137.2 228.6h0.75M112.1 221.0h0.75M108.0 233.3h0.75M105.4 222.4h0.75M107.4 227.5h0.75M129.0 219.7h0.75M127.7 221.8h0.75M120.1 226.4h0.75M138.3 218.9h0.75M110.4 225.9h0.75M131.5 226.2h0.75M124.2 222.8h0.75M127.1 226.1h0.75M117.7 222.9h0.75M118.9 225.8h0.75M115.6 226.4h0.75M111.1 223.5h0.75M123.5 223.5h0.75M116.0 222.3h0.75M106.4 223.7h0.75M136.5 224.2h0.75M115.0 230.8h0.75M106.6 226.9h0.75M124.6 217.2h0.75M130.5 223.8h0.75M114.1 224.5h0.75M123.5 227.1h0.75M110.2 225.6h0.75M104.2 226.0h0.75M125.5 221.7h0.75M113.6 224.5h0.75M119.6 212.7h0.75M134.0 222.4h0.75M123.8 221.1h0.75M131.0 226.7h0.75M120.5 221.1h0.75M117.5 223.9h0.75M113.4 231.8h0.75M129.5 224.5h0.75M102.1 222.6h0.75M114.6 226.8h0.75M129.8 222.9h0.75M107.1 223.0h0.75M119.3 227.0h0.75M116.5 219.5h0.75M133.2 227.8h0.75M115.5 217.9h0.75M126.3 222.7h0.75M119.7 225.2h0.75M130.0 225.8h0.75M119.4 229.9h0.75M105.2 226.0h0.75M110.3 219.6h0.75M142.4 228.1h0.75M123.4 220.6h0.75M134.3 219.9h0.75M115.9 228.7h0.75M111.3 225.7h0.75M133.1 223.6h0.75M145.4 225.0h0.75M114.0 221.4h0.75M105.4 224.8h0.75M112.6 223.0h0.75M116.4 221.4h0.75M124.4 222.2h0.75M129.0 222.8h0.75M118.8 223.1h0.75M118.5 224.2h0.75M116.2 224.2h0.75M119.4 226.2h0.75M106.1 218.6h0.75M124.0 227.5h0.75M124.5 222.3h0.75M120.2 221.3h0.75M122.2 227.6h0.75M131.6 222.8h0.75M121.7 222.0h0.75M117.4 221.6h0.75" stroke="#231f20" stroke-width="0.75" opacity="0.9"/>
<path d="M135.3 208.9h0.75M133.0 218.3h0.75M138.5 209.2h0.75M133.6 213.5h0.75M130.8 223.7h0.75M130.7 206.3h0.75M143.6 210.9h0.75M140.5 206.8h0.75M150.0 204.4h0.75M130.2 214.3h0.75M130.1 209.6h0.75M137.6 217.8h0.75M141.5 213.0h0.75M135.8 216.1h0.75M134.8 210.9h0.75M139.5 202.9h0.75M142.5 211.2h0.75M146.6 215.7h0.75M133.3 207.4h0.75M137.7 203.1h0.75M136.6 205.8h0.75M131.3 204.5h0.75M130.7 212.4h0.75M138.9 200.4h0.75M139.1 217.9h0.75M127.4 207.5h0.75M140.9 209.6h0.75M132.7 217.1h0.75M145.7 212.4h0.75M145.1 206.9h0.75M132.7 218.9h0.75M144.9 215.6h0.75M139.3 208.5h0.75M134.0 211.0h0.75M140.6 217.4h0.75M150.1 204.3h0.75M151.6 212.2h0.75M131.1 206.1h0.75M138.6 205.5h0.75M141.1 209.2h0.75M131.4 213.6h0.75M131.6 213.3h0.75M146.5 212.4h0.75M141.9 200.1h0.75M141.1 213.9h0.75M136.1 207.2h0.75M141.3 206.4h0.75M139.7 201.0h0.75M132.3 199.6h0.75M138.0 203.5h0.75M137.7 192.6h0.75M131.6 199.7h0.75M129.1 211.4h0.75M142.8 209.8h0.75M151.0 206.0h0.75M142.2 208.2h0.75M135.7 208.5h0.75M133.7 214.5h0.75M154.0 203.0h0.75M137.6 215.3h0.75M150.5 217.0h0.75M143.6 203.1h0.75M146.2 212.0h0.75M139.2 205.1h0.75M136.0 207.8h0.75M134.3 218.0h0.75M128.2 219.9h0.75M131.1 207.5h0.75M142.6 200.1h0.75M142.0 206.9h0.75M145.1 212.9h0.75M150.7 218.6h0.75M129.1 213.8h0.75M143.6 208.7h0.75M141.0 210.2h0.75M131.9 209.6h0.75M140.6 206.3h0.75M135.2 212.3h0.75M140.7 214.0h0.75M132.2 204.8h0.75M141.3 208.5h0.75M148.0 194.8h0.75M140.5 214.8h0.75M132.7 214.1h0.75M135.1 209.4h0.75M140.0 202.7h0.75M139.6 212.1h0.75M133.5 206.4h0.75M140.3 203.3h0.75M141.6 194.7h0.75M135.4 202.8h0.75M149.1 206.3h0.75M139.3 223.1h0.75M133.6 213.1h0.75M147.4 207.2h0.75M136.9 213.8h0.75M135.8 213.4h0.75M138.7 222.1h0.75M133.7 210.9h0.75M136.1 203.7h0.75M131.1 208.8h0.75M148.0 196.0h0.75M142.7 208.2h0.75M146.4 200.5h0.75M139.8 213.3h0.75M139.6 215.5h0.75M140.9 196.5h0.75M140.2 200.1h0.75M140.6 205.0h0.75M126.9 217.3h0.75M139.1 204.6h0.75M139.5 210.1h0.75M132.2 210.7h0.75M139.9 207.1h0.75M143.8 205.4h0.75M141.5 204.9h0.75M150.4 207.9h0.75M142.9 205.5h0.75M139.4 213.3h0.75M129.1 214.4h0.75M145.9 217.3h0.75M147.7 212.7h0.75M136.7 201.2h0.75M130.6 206.2h0.75M135.5 199.3h0.75M142.5 211.0h0.75M138.0 202.0h0.75M136.3 204.9h0.75M136.4 214.8h0.75M137.9 210.3h0.75M138.3 210.2h0.75M134.9 209.2h0.75M145.8 207.8h0.75M131.3 200.8h0.75M132.9 201.1h0.75M144.4 217.9h0.75M138.2 209.0h0.75M138.9 197.6h0.75M141.0 220.8h0.75M137.7 211.2h0.75M128.7 211.2h0.75M126.9 216.9h0.75M135.2 211.8h0.75M147.0 209.9h0.75M138.1 211.4h0.75M132.0 208.9h0.75M130.3 222.6h0.75M136.3 206.7h0.75M137.4 212.3h0.75M139.1 218.2h0.75M143.6 198.3h0.75M139.8 213.8h0.75M148.8 197.6h0.75M124.5 210.9h0.75M141.4 204.2h0.75M142.1 216.0h0.75M135.7 202.1h0.75M147.7 204.4h0.75M127.3 210.7h0.75M132.4 203.5h0.75M133.7 211.3h0.75M149.1 212.1h0.75M140.2 203.5h0.75M138.7 205.7h0.75M127.9 215.2h0.75M132.6 197.5h0.75M135.4 221.3h0.75M140.3 199.3h0.75M135.5 217.6h0.75M145.8 220.9h0.75M147.0 214.9h0.75M133.3 202.0h0.75M138.3 222.6h0.75M148.7 197.4h0.75M143.7 208.7h0.75M140.3 212.0h0.75M131.7 201.7h0.75M137.7 208.4h0.75M129.8 209.2h0.75M128.4 216.7h0.75M139.9 198.6h0.75M133.3 210.3h0.75M137.8 209.6h0.75M146.8 210.5h0.75M131.5 211.7h0.75M143.8 200.6h0.75M151.3 196.6h0.75M125.4 213.6h0.75M140.8 208.6h0.75M137.7 216.5h0.75M132.6 218.2h0.75M131.9 211.7h0.75M136.9 209.2h0.75M144.7 213.2h0.75M144.4 212.9h0.75M142.1 209.3h0.75M144.3 211.9h0.75M118.6 213.9h0.75M133.5 214.9h0.75M144.9 207.2h0.75" stroke="#231f20" stroke-width="0.75" opacity="0.9"/>
<path d="M116.3 208.8h0.75M125.5 212.6h0.75M126.1 211.4h0.75M108.4 217.3h0.75M118.3 210.5h0.75M108.3 212.3h0.75M115.1 216.5h0.75M118.4 211.7h0.75M108.7 219.4h0.75M120.9 219.4h0.75M134.2 212.4h0.75M123.0 204.3h0.75M115.5 206.0h0.75M104.6 224.4h0.75M127.4 215.5h0.75M100.7 217.0h0.75M119.7 215.5h0.75M143.1 211.3h0.75M131.3 214.5h0.75M138.1 216.9h0.75M128.6 212.1h0.75M107.9 213.1h0.75M133.5 215.6h0.75M137.3 213.7h0.75M111.2 217.5h0.75M122.9 223.6h0.75M120.9 219.7h0.75M114.7 204.1h0.75M117.0 207.2h0.75M130.7 203.2h0.75M103.9 211.0h0.75M125.8 210.2h0.75M120.6 209.3h0.75M132.6 216.9h0.75M106.7 222.5h0.75M117.6 224.3h0.75M116.9 210.2h0.75M125.9 208.8h0.75M100.7 202.7h0.75M131.5 205.2h0.75M101.8 223.5h0.75M119.6 215.2h0.75M113.3 214.5h0.75M111.4 218.6h0.75M100.9 213.3h0.75M114.6 214.6h0.75M133.5 212.4h0.75M131.0 224.8h0.75M112.6 213.9h0.75M125.5 213.4h0.75M104.0 227.2h0.75M121.0 213.0h0.75M123.9 220.4h0.75M104.4 218.3h0.75M128.6 230.6h0.75M105.3 221.6h0.75M106.8 217.6h0.75M114.6 209.1h0.75M104.7 217.4h0.75M102.2 223.5h0.75M107.1 214.7h0.75M113.8 208.3h0.75M131.1 216.9h0.75M119.5 223.3h0.75M120.1 217.7h0.75M128.9 216.7h0.75M115.1 205.9h0.75M100.9 205.9h0.75M122.8 211.1h0.75M112.0 209.7h0.75M126.7 216.1h0.75M122.8 216.9h0.75M101.9 209.6h0.75M122.7 207.1h0.75M118.5 203.9h0.75M102.1 208.6h0.75M127.5 217.5h0.75M98.4 210.1h0.75M109.1 213.9h0.75M117.4 221.6h0.75M117.9 215.4h0.75M122.1 216.0h0.75M129.0 217.6h0.75M105.4 223.1h0.75M108.6 213.1h0.75M123.8 215.5h0.75M113.7 222.7h0.75M98.3 204.3h0.75M132.7 213.8h0.75M133.2 218.0h0.75M131.1 216.0h0.75M129.2 228.4h0.75M124.3 207.9h0.75M112.1 213.6h0.75M140.0 204.3h0.75M120.2 217.5h0.75M122.3 200.8h0.75M124.1 212.5h0.75M123.0 207.9h0.75M117.3 214.8h0.75M120.7 205.7h0.75M120.9 211.1h0.75M137.9 216.8h0.75M122.4 207.5h0.75M119.6 217.3h0.75M117.0 197.9h0.75M127.3 207.7h0.75M118.2 193.8h0.75M124.8 214.5h0.75M110.3 224.2h0.75M131.4 211.2h0.75M124.0 203.1h0.75M129.1 204.5h0.75M134.9 220.3h0.75M112.5 217.9h0.75M108.5 219.8h0.75M128.5 211.6h0.75M141.1 217.4h0.75M111.2 211.5h0.75M115.7 204.2h0.75M111.3 214.0h0.75M117.1 215.3h0.75M138.5 207.0h0.75M110.8 214.3h0.75M118.5 214.0h0.75M115.0 212.4h0.75M136.9 221.7h0.75M125.8 208.2h0.75M139.3 208.3h0.75M113.9 215.4h0.75M114.2 209.9h0.75M120.9 207.4h0.75M122.4 200.1h0.75M114.9 211.7h0.75M98.0 218.5h0.75M124.1 203.7h0.75M129.0 212.6h0.75M118.3 215.5h0.75M111.1 220.2h0.75M122.7 197.1h0.75M112.6 214.2h0.75M106.6 214.3h0.75M118.2 205.3h0.75M100.1 210.0h0.75M103.1 217.0h0.75M135.9 204.2h0.75M108.1 210.4h0.75M120.1 211.8h0.75M135.4 215.0h0.75M128.1 209.2h0.75M122.9 210.7h0.75M132.2 220.2h0.75M109.3 216.8h0.75M126.4 212.0h0.75M119.3 209.5h0.75" stroke="#231f20" stroke-width="0.75" opacity="0.7"/>
<path d="M117.7 233.7h0.75M138.9 225.1h0.75M106.0 217.2h0.75M138.2 228.2h0.75M142.2 226.7h0.75M99.3 219.9h0.75M99.0 228.8h0.75M105.8 231.2h0.75M109.4 217.4h0.75M137.7 225.6h0.75M136.2 232.0h0.75M139.6 227.2h0.75M98.8 228.9h0.75M136.8 218.9h0.75M139.0 228.5h0.75M101.9 229.4h0.75M125.5 231.8h0.75M108.4 217.8h0.75M111.8 232.0h0.75M123.1 232.1h0.75M125.8 231.4h0.75M136.2 217.2h0.75M135.1 229.7h0.75M135.7 229.3h0.75M137.9 223.7h0.75M136.4 227.8h0.75M124.1 231.7h0.75M99.8 219.7h0.75M120.1 216.2h0.75M105.0 231.9h0.75M109.3 216.9h0.75M109.4 217.8h0.75M123.6 217.5h0.75M105.7 231.9h0.75M124.9 217.4h0.75M120.4 232.6h0.75M137.8 225.4h0.75M111.3 215.7h0.75M130.3 218.6h0.75M140.6 231.0h0.75M118.4 231.9h0.75M102.1 219.3h0.75M100.9 217.1h0.75M132.0 230.6h0.75M125.0 215.9h0.75M136.1 228.6h0.75M98.7 227.1h0.75M115.6 232.2h0.75M139.0 226.6h0.75M127.1 232.4h0.75M129.2 218.2h0.75M123.6 233.2h0.75M144.4 226.0h0.75M116.5 232.9h0.75M118.9 217.0h0.75M126.0 235.1h0.75M111.9 231.8h0.75M127.8 231.3h0.75M105.9 231.8h0.75M111.0 234.9h0.75M101.4 230.8h0.75M135.9 230.1h0.75M137.7 222.0h0.75M137.3 221.7h0.75M101.6 230.1h0.75M123.8 233.5h0.75M139.8 226.0h0.75M123.9 215.6h0.75M120.2 215.5h0.75M144.2 225.2h0.75M111.2 232.5h0.75M100.5 219.7h0.75M117.7 217.0h0.75M103.8 217.6h0.75M99.9 219.9h0.75M123.1 216.4h0.75M136.4 229.2h0.75M141.3 222.3h0.75M128.0 230.6h0.75M99.7 228.6h0.75M103.6 230.4h0.75M105.1 230.4h0.75M138.9 224.1h0.75M131.2 217.1h0.75M115.8 217.1h0.75M144.5 226.9h0.75M141.6 228.4h0.75M107.6 231.9h0.75M116.1 217.0h0.75M125.6 216.1h0.75M108.1 230.8h0.75M129.0 216.4h0.75M140.2 225.6h0.75M139.0 223.8h0.75M127.1 217.5h0.75M98.1 219.8h0.75M99.6 227.8h0.75M101.4 215.2h0.75M132.5 231.4h0.75M134.9 219.7h0.75M107.2 232.4h0.75M99.2 219.2h0.75M136.0 228.6h0.75M101.0 229.0h0.75M103.5 233.1h0.75M123.4 232.1h0.75M130.4 218.5h0.75M123.8 217.1h0.75M138.7 226.4h0.75" stroke="#231f20" stroke-width="0.75" opacity="0.9"/>
<path d="M134.4 219.6h0.75M127.2 206.1h0.75M144.5 216.2h0.75M130.6 203.9h0.75M150.1 218.3h0.75M153.4 209.2h0.75M153.7 206.5h0.75M127.1 212.3h0.75M124.8 216.4h0.75M136.8 199.4h0.75M149.8 211.6h0.75M149.7 213.3h0.75M153.5 209.5h0.75M135.8 194.0h0.75M139.9 223.2h0.75M136.5 193.0h0.75M126.7 210.5h0.75M132.5 201.7h0.75M135.9 220.0h0.75M128.7 204.6h0.75M128.0 215.6h0.75M143.8 217.7h0.75M131.9 225.7h0.75M147.5 215.0h0.75M147.6 215.5h0.75M147.2 203.6h0.75M125.9 217.5h0.75M127.1 216.5h0.75M149.3 207.2h0.75M148.6 207.5h0.75M140.4 193.9h0.75M129.5 200.1h0.75M124.5 209.3h0.75M139.2 218.8h0.75M141.9 193.8h0.75M136.3 220.5h0.75M144.9 219.2h0.75M127.0 218.7h0.75M147.3 218.0h0.75M149.7 211.4h0.75M139.1 195.6h0.75M142.6 218.6h0.75M142.7 200.1h0.75M157.6 204.4h0.75M131.0 201.3h0.75M121.1 210.1h0.75M129.1 199.5h0.75M141.8 219.3h0.75M135.3 219.5h0.75M141.3 218.9h0.75M146.6 215.1h0.75M149.4 203.8h0.75M123.8 214.1h0.75M146.9 200.1h0.75M124.5 210.6h0.75M149.2 197.8h0.75M130.5 219.6h0.75M129.3 219.1h0.75M143.0 217.1h0.75M139.7 220.9h0.75M128.2 222.5h0.75M147.2 203.3h0.75M151.8 211.7h0.75M150.3 203.0h0.75M145.1 216.0h0.75M144.2 216.5h0.75M137.5 220.0h0.75M130.4 204.5h0.75M145.4 215.5h0.75M133.0 201.9h0.75M147.4 194.1h0.75M140.1 197.1h0.75M139.9 218.9h0.75M146.4 213.8h0.75M149.2 206.1h0.75M150.0 206.8h0.75M148.4 206.8h0.75M148.5 211.3h0.75M138.2 199.1h0.75M140.1 199.6h0.75M146.8 213.3h0.75M138.2 199.4h0.75M129.5 220.3h0.75M139.4 198.4h0.75M142.6 199.4h0.75M127.6 202.8h0.75M146.6 217.0h0.75M150.0 203.5h0.75M138.5 221.2h0.75M148.7 210.3h0.75M149.2 200.5h0.75M136.2 220.8h0.75" stroke="#231f20" stroke-width="0.75" opacity="0.9"/>
<path d="M129.6 227.1h0.75M116.1 219.7h0.75M127.9 211.9h0.75M138.5 215.0h0.75M138.2 215.7h0.75M128.9 212.4h0.75M136.5 225.2h0.75M119.5 218.2h0.75M128.6 226.7h0.75M139.6 219.7h0.75M119.2 217.2h0.75M119.1 220.8h0.75M136.3 212.9h0.75M124.2 223.9h0.75M142.8 220.3h0.75M119.3 220.5h0.75M124.1 212.5h0.75M142.6 214.2h0.75M125.4 224.7h0.75M127.9 226.7h0.75M122.6 224.0h0.75M140.6 213.6h0.75M122.6 214.1h0.75M140.9 223.2h0.75M134.3 224.5h0.75M129.7 226.1h0.75M126.1 213.5h0.75M119.3 216.6h0.75M124.2 213.6h0.75M123.0 225.1h0.75M120.6 218.0h0.75M121.3 220.7h0.75M121.6 218.9h0.75M140.7 217.0h0.75M128.5 211.3h0.75M135.4 225.8h0.75M125.1 224.9h0.75M140.5 222.7h0.75M139.1 219.8h0.75M127.7 224.9h0.75M121.3 223.5h0.75M128.2 225.1h0.75M118.0 219.8h0.75M125.6 210.6h0.75M142.2 223.4h0.75M139.8 224.3h0.75M135.8 210.5h0.75M140.5 215.6h0.75M126.2 226.9h0.75M136.3 211.4h0.75M121.1 214.0h0.75M122.0 224.4h0.75M139.4 216.7h0.75M138.2 215.5h0.75M123.3 224.3h0.75M133.0 209.1h0.75M126.6 212.3h0.75M121.3 224.1h0.75M133.8 212.5h0.75M132.1 211.0h0.75M137.4 223.4h0.75M125.1 211.3h0.75M126.6 213.3h0.75M120.0 212.0h0.75M124.1 224.6h0.75M139.8 220.5h0.75M128.0 225.3h0.75" stroke="#231f20" stroke-width="0.75" opacity="0.9"/>
<g filter="url(#spk)"><ellipse cx="117.80" cy="224.40" rx="20.80" ry="7.40"/><ellipse cx="138.10" cy="209.60" rx="10.80" ry="9.20" transform="rotate(-35 138.1 209.6)"/><ellipse cx="130.30" cy="219.00" rx="8.80" ry="6.30"/></g>
<ellipse cx="119.10" cy="224.80" rx="13.9" ry="4.6" fill="#d6d6d6" stroke="#1a1a1a" stroke-width="0.5"/>
<ellipse cx="119.10" cy="224.80" rx="8.34" ry="2.76" fill="#e0e0e0" stroke="#bcbcbc" stroke-width="0.3"/>
<ellipse cx="138.60" cy="211.40" rx="2.4" ry="3.4" fill="#e0e0e0" stroke="#1a1a1a" stroke-width="0.45"/>
<rect x="97.3" y="178.0" width="64.3" height="63.5" stroke="#3a3a3a" stroke-width="0.8" fill="none"/>
<line x1="96.20" y1="185.94" x2="97.70" y2="185.94" stroke="#333" stroke-width="0.7"/>
<line x1="96.20" y1="193.88" x2="97.70" y2="193.88" stroke="#333" stroke-width="0.7"/>
<line x1="96.20" y1="201.81" x2="97.70" y2="201.81" stroke="#333" stroke-width="0.7"/>
<line x1="96.20" y1="209.75" x2="97.70" y2="209.75" stroke="#333" stroke-width="0.7"/>
<line x1="96.20" y1="217.69" x2="97.70" y2="217.69" stroke="#333" stroke-width="0.7"/>
<line x1="96.20" y1="225.62" x2="97.70" y2="225.62" stroke="#333" stroke-width="0.7"/>
<line x1="96.20" y1="233.56" x2="97.70" y2="233.56" stroke="#333" stroke-width="0.7"/>
<line x1="105.34" y1="242.70" x2="105.34" y2="241.10" stroke="#333" stroke-width="0.7"/>
<line x1="113.38" y1="242.70" x2="113.38" y2="241.10" stroke="#333" stroke-width="0.7"/>
<line x1="121.41" y1="242.70" x2="121.41" y2="241.10" stroke="#333" stroke-width="0.7"/>
<line x1="129.45" y1="242.70" x2="129.45" y2="241.10" stroke="#333" stroke-width="0.7"/>
<line x1="137.49" y1="242.70" x2="137.49" y2="241.10" stroke="#333" stroke-width="0.7"/>
<line x1="145.52" y1="242.70" x2="145.52" y2="241.10" stroke="#333" stroke-width="0.7"/>
<line x1="153.56" y1="242.70" x2="153.56" y2="241.10" stroke="#333" stroke-width="0.7"/>
<text x="129.7" y="174.9" font-size="8.3" fill="#231f20" stroke="#231f20" stroke-width="0.12" text-anchor="middle">D7</text>
<text x="156.0" y="189.7" font-size="8.3" fill="#231f20" stroke="#231f20" stroke-width="0.12" text-anchor="end">12.7</text>
<text x="157.1" y="239.0" font-size="8.1" fill="#c8324a" stroke="#c8324a" stroke-width="0.12" text-anchor="end">4.83</text>
<rect x="203.0" y="181.3" width="32.3" height="42.0" stroke="#3a3a3a" stroke-width="0.75" fill="none"/>
<path d="M198.6 226.1h0.75M198.1 224.8h0.75M201.6 223.9h0.75M201.6 227.1h0.75M209.5 220.6h0.75M209.1 225.1h0.75M213.6 223.8h0.75M208.8 224.5h0.75M201.5 227.3h0.75M196.2 229.5h0.75M196.6 226.1h0.75M198.2 224.8h0.75M204.3 222.2h0.75M204.1 222.3h0.75M215.7 218.8h0.75M213.8 222.3h0.75M200.8 213.0h0.75M175.1 229.3h0.75M205.0 226.6h0.75M182.7 233.6h0.75M226.2 220.7h0.75M220.3 222.7h0.75M197.2 221.6h0.75M194.2 221.8h0.75M219.9 228.3h0.75M187.1 221.5h0.75M181.6 218.7h0.75M202.7 215.7h0.75M199.4 226.3h0.75M204.7 231.0h0.75M207.0 220.1h0.75M200.5 227.4h0.75M178.1 225.2h0.75M193.9 227.8h0.75M204.4 215.5h0.75M178.5 223.3h0.75M201.6 224.6h0.75M202.5 224.4h0.75M181.2 224.5h0.75M216.5 222.7h0.75M201.6 230.1h0.75M205.4 227.2h0.75M179.7 233.5h0.75M188.5 226.4h0.75M196.5 220.2h0.75M196.0 223.0h0.75M203.0 223.5h0.75M228.8 220.7h0.75M196.8 224.1h0.75M176.9 226.4h0.75M176.3 223.5h0.75M204.7 218.6h0.75M196.0 223.6h0.75M222.3 226.4h0.75M202.3 222.8h0.75M201.2 226.6h0.75M203.9 229.4h0.75M197.2 222.6h0.75M194.3 224.3h0.75M184.0 217.4h0.75M189.0 222.8h0.75M196.3 223.5h0.75M202.3 226.5h0.75M190.6 228.1h0.75M202.0 221.3h0.75M214.3 227.0h0.75M197.5 223.8h0.75M201.6 216.9h0.75M194.2 228.7h0.75M188.9 229.6h0.75M197.5 227.1h0.75M208.3 218.2h0.75M176.3 222.0h0.75M192.5 229.7h0.75M206.6 222.6h0.75M204.6 219.3h0.75M191.6 224.1h0.75M195.2 227.2h0.75M181.2 228.2h0.75M183.3 222.9h0.75M188.3 219.7h0.75M219.3 221.4h0.75M220.6 224.2h0.75M209.5 229.5h0.75M192.5 224.0h0.75M196.1 223.0h0.75M200.2 215.4h0.75M182.9 224.0h0.75M223.9 226.5h0.75M192.9 228.8h0.75M183.8 225.5h0.75M202.1 219.0h0.75M180.4 222.5h0.75M215.8 223.3h0.75M191.5 223.7h0.75M186.8 226.4h0.75M207.9 231.7h0.75M201.6 234.6h0.75M204.1 232.0h0.75M194.2 215.7h0.75M176.2 227.8h0.75M199.5 222.4h0.75M197.4 221.9h0.75M175.9 223.4h0.75M197.6 221.0h0.75M217.0 228.0h0.75M195.3 231.7h0.75M198.4 224.2h0.75M193.0 221.1h0.75M196.2 229.2h0.75M195.4 227.9h0.75M190.9 222.0h0.75M208.4 227.6h0.75M202.8 223.6h0.75M203.2 226.9h0.75M182.9 223.6h0.75M180.2 225.0h0.75M205.9 226.5h0.75M211.8 223.8h0.75M202.2 225.3h0.75M190.6 227.7h0.75M194.7 219.7h0.75M220.9 222.3h0.75M209.2 220.2h0.75M200.6 222.0h0.75M177.6 220.5h0.75M209.0 227.6h0.75M186.2 220.6h0.75M198.8 226.5h0.75M211.3 224.2h0.75M207.9 227.2h0.75M192.1 221.9h0.75M211.5 218.9h0.75M182.2 226.5h0.75M203.0 225.4h0.75M202.2 219.6h0.75M209.0 225.7h0.75M189.4 223.9h0.75M188.8 222.7h0.75M198.1 225.0h0.75M218.3 223.7h0.75M182.6 225.8h0.75M192.5 223.0h0.75M213.5 227.2h0.75M205.8 222.5h0.75M199.6 224.0h0.75M205.5 221.3h0.75M193.4 221.6h0.75M191.8 223.2h0.75M181.1 223.0h0.75M197.4 226.4h0.75M191.5 229.8h0.75M205.3 228.1h0.75M204.3 223.4h0.75M198.0 222.8h0.75M198.0 222.4h0.75M203.8 220.7h0.75M206.4 227.1h0.75M194.6 224.0h0.75M195.2 225.6h0.75M194.3 221.4h0.75M201.3 221.9h0.75M193.7 226.4h0.75M209.6 228.3h0.75M200.9 223.7h0.75M201.7 229.0h0.75M180.9 229.6h0.75M216.5 219.7h0.75M196.6 220.4h0.75M181.7 225.3h0.75M207.2 219.7h0.75M191.1 224.1h0.75M187.9 226.3h0.75M213.3 215.8h0.75M211.1 233.3h0.75M188.1 231.9h0.75M193.2 224.8h0.75M192.5 226.5h0.75M201.4 226.3h0.75M192.0 227.7h0.75M199.7 222.7h0.75M204.6 226.0h0.75M208.5 225.0h0.75M193.6 216.1h0.75M200.0 224.8h0.75M193.6 222.4h0.75M193.0 228.6h0.75M216.1 234.9h0.75M175.8 225.1h0.75M196.5 222.7h0.75M206.2 230.7h0.75M213.0 214.3h0.75M203.8 228.4h0.75M200.1 232.1h0.75M215.9 225.9h0.75M192.7 218.7h0.75M221.9 221.5h0.75M189.5 221.4h0.75M187.7 225.4h0.75M192.0 217.4h0.75M184.3 227.6h0.75M198.2 220.3h0.75M204.3 226.7h0.75M183.3 232.2h0.75M211.4 227.1h0.75M216.3 225.8h0.75M199.9 222.6h0.75M185.9 225.2h0.75M192.8 225.7h0.75M199.4 222.4h0.75M198.6 226.6h0.75M207.6 225.6h0.75M175.4 221.8h0.75M202.8 224.2h0.75M214.7 220.6h0.75M209.8 226.4h0.75M202.0 224.1h0.75M195.9 230.0h0.75M182.4 223.0h0.75M198.5 222.1h0.75M204.0 222.2h0.75M206.5 225.3h0.75" stroke="#231f20" stroke-width="0.75" opacity="0.9"/>
<path d="M219.8 212.0h0.75M219.1 211.4h0.75M222.4 208.1h0.75M213.2 203.8h0.75M212.1 212.6h0.75M220.3 200.9h0.75M219.5 215.5h0.75M215.2 219.0h0.75M224.2 210.6h0.75M220.9 213.3h0.75M212.1 212.8h0.75M207.6 202.3h0.75M224.0 211.9h0.75M226.2 226.3h0.75M221.6 218.7h0.75M221.9 205.6h0.75M219.3 201.5h0.75M221.3 215.0h0.75M232.2 201.6h0.75M215.8 217.4h0.75M203.8 211.5h0.75M224.5 207.3h0.75M216.5 218.2h0.75M216.1 215.2h0.75M226.7 202.5h0.75M210.5 211.4h0.75M216.1 211.7h0.75M224.1 223.1h0.75M209.4 204.7h0.75M217.9 197.3h0.75M218.9 210.0h0.75M219.7 215.5h0.75M209.2 203.5h0.75M215.0 213.3h0.75M218.4 209.8h0.75M219.3 214.0h0.75M223.8 197.2h0.75M220.1 211.3h0.75M221.0 206.6h0.75M214.9 203.2h0.75M222.4 214.4h0.75M217.1 213.3h0.75M215.5 209.3h0.75M201.2 206.8h0.75M209.1 216.5h0.75M209.4 198.6h0.75M227.0 209.6h0.75M212.4 214.5h0.75M209.3 211.9h0.75M210.6 203.6h0.75M203.2 207.3h0.75M213.5 214.9h0.75M222.0 200.5h0.75M203.7 216.2h0.75M209.6 206.8h0.75M218.0 202.9h0.75M223.6 194.3h0.75M196.6 221.1h0.75M220.7 210.1h0.75M211.9 230.7h0.75M226.0 209.5h0.75M213.2 211.3h0.75M215.7 207.1h0.75M209.8 213.2h0.75M219.2 209.5h0.75M217.4 214.3h0.75M211.8 208.8h0.75M219.3 211.3h0.75M217.6 211.0h0.75M217.0 210.6h0.75M210.9 197.6h0.75M203.6 205.4h0.75M208.3 204.2h0.75M221.4 206.6h0.75M221.4 207.2h0.75M207.6 193.4h0.75M217.1 210.4h0.75M210.1 214.1h0.75M215.5 195.6h0.75M208.7 221.8h0.75M217.0 213.4h0.75M213.5 210.6h0.75M220.3 207.8h0.75M222.1 207.7h0.75M220.6 205.1h0.75M223.4 206.9h0.75M218.3 213.3h0.75M220.6 212.1h0.75M229.8 201.6h0.75M212.9 217.2h0.75M219.1 213.8h0.75M219.8 213.0h0.75M203.0 213.8h0.75M219.6 197.8h0.75M221.3 208.7h0.75M204.8 214.8h0.75M217.1 215.0h0.75M234.4 220.9h0.75M218.0 219.9h0.75M216.4 221.4h0.75M222.3 215.9h0.75M211.9 207.7h0.75M205.1 209.8h0.75M209.0 208.8h0.75M220.8 215.1h0.75M206.7 204.2h0.75M207.8 218.2h0.75M220.9 210.9h0.75M217.1 211.5h0.75M231.4 215.6h0.75M211.8 203.5h0.75M217.3 217.5h0.75M205.1 201.6h0.75M228.7 212.1h0.75M209.8 213.6h0.75M228.2 203.6h0.75M215.3 209.4h0.75M225.3 220.8h0.75M223.2 201.2h0.75M220.2 210.9h0.75M216.7 215.7h0.75M211.9 214.0h0.75M226.1 203.8h0.75M229.5 200.7h0.75M224.0 217.2h0.75M224.7 201.8h0.75M219.0 206.9h0.75M213.2 206.3h0.75M218.4 218.7h0.75M202.6 212.2h0.75M219.9 215.6h0.75M220.1 217.7h0.75M216.7 215.7h0.75M218.7 210.8h0.75M204.5 227.9h0.75M218.1 212.1h0.75M210.2 222.4h0.75M215.0 202.4h0.75M207.8 209.4h0.75M228.7 216.8h0.75M209.4 211.3h0.75M228.0 197.6h0.75M212.1 198.8h0.75M229.4 217.4h0.75M220.9 209.5h0.75M204.1 209.0h0.75M221.0 209.9h0.75M215.1 221.8h0.75M215.9 207.7h0.75M223.4 208.5h0.75M218.9 217.2h0.75M213.7 210.9h0.75M210.5 218.7h0.75M209.0 219.0h0.75M215.2 196.6h0.75M226.6 203.5h0.75M218.5 210.4h0.75M220.9 213.8h0.75M215.2 204.0h0.75M215.6 216.2h0.75M223.4 216.3h0.75M216.2 208.5h0.75M217.0 200.4h0.75M220.9 200.0h0.75M218.4 211.7h0.75M203.2 208.2h0.75M213.4 221.5h0.75M216.0 206.9h0.75M223.6 212.1h0.75M217.0 209.4h0.75M209.1 229.8h0.75M209.6 218.8h0.75M207.4 199.1h0.75M214.6 222.6h0.75M212.0 204.4h0.75M224.5 207.3h0.75M209.1 218.7h0.75M213.1 209.5h0.75M207.1 219.2h0.75M222.3 214.7h0.75M213.6 225.4h0.75M214.7 208.1h0.75M214.2 195.1h0.75M218.2 211.8h0.75M211.5 211.6h0.75M220.1 217.9h0.75M212.5 198.0h0.75M228.7 213.4h0.75M209.7 212.7h0.75M216.4 210.3h0.75M208.7 202.3h0.75M227.0 222.8h0.75M231.3 220.9h0.75M215.2 209.5h0.75M224.3 212.4h0.75M203.7 203.0h0.75M219.4 210.1h0.75M215.1 210.1h0.75M210.3 208.5h0.75M215.0 213.6h0.75" stroke="#231f20" stroke-width="0.75" opacity="0.9"/>
<path d="M177.3 205.4h0.75M178.0 207.1h0.75M199.6 217.7h0.75M201.3 211.9h0.75M193.3 208.3h0.75M233.5 202.2h0.75M220.0 211.1h0.75M188.5 211.5h0.75M217.9 210.5h0.75M186.9 202.7h0.75M194.9 206.4h0.75M176.8 200.3h0.75M211.4 206.7h0.75M184.7 219.8h0.75M193.0 210.1h0.75M195.8 223.8h0.75M205.1 206.1h0.75M195.1 213.8h0.75M202.5 206.7h0.75M205.0 210.1h0.75M190.9 213.2h0.75M207.7 219.2h0.75M203.1 219.0h0.75M190.1 218.8h0.75M187.8 213.5h0.75M189.5 214.9h0.75M198.6 219.3h0.75M199.0 199.9h0.75M194.2 207.5h0.75M185.4 224.9h0.75M198.8 210.4h0.75M197.1 201.7h0.75M180.4 220.3h0.75M202.8 212.0h0.75M196.3 211.9h0.75M202.3 205.3h0.75M198.8 209.0h0.75M213.8 212.6h0.75M194.3 208.7h0.75M202.0 206.3h0.75M194.6 210.8h0.75M184.5 217.5h0.75M213.7 211.0h0.75M208.2 213.1h0.75M184.9 215.8h0.75M206.2 217.6h0.75M206.4 215.7h0.75M197.0 215.2h0.75M181.8 199.9h0.75M204.2 215.4h0.75M202.7 211.0h0.75M216.3 210.8h0.75M198.4 211.0h0.75M199.9 216.5h0.75M204.5 216.5h0.75M190.2 206.3h0.75M188.4 200.7h0.75M196.6 213.4h0.75M202.3 212.9h0.75M207.4 211.0h0.75M204.6 214.6h0.75M211.8 206.6h0.75M209.3 214.3h0.75M206.2 215.7h0.75M217.5 211.3h0.75M206.4 217.4h0.75M207.3 210.7h0.75M214.2 205.6h0.75M206.4 198.5h0.75M191.9 212.1h0.75M219.8 214.9h0.75M210.4 211.5h0.75M194.0 209.8h0.75M207.8 217.6h0.75M212.9 216.8h0.75M204.4 215.4h0.75M213.9 208.4h0.75M176.3 203.9h0.75M193.6 217.1h0.75M189.3 216.7h0.75M193.1 201.3h0.75M209.1 217.5h0.75M203.4 210.5h0.75M180.6 217.8h0.75M198.2 215.0h0.75M184.9 209.9h0.75M204.3 212.0h0.75M192.6 212.3h0.75M186.5 200.8h0.75M198.8 215.3h0.75M176.8 213.5h0.75M202.1 217.3h0.75M185.2 210.7h0.75M208.2 203.3h0.75M211.3 212.5h0.75M183.5 212.0h0.75M204.0 210.0h0.75M195.9 211.2h0.75M185.4 201.3h0.75M209.1 212.4h0.75M202.3 212.7h0.75M195.1 218.7h0.75M188.2 221.9h0.75M202.9 211.4h0.75M207.4 214.1h0.75M193.5 204.5h0.75M219.3 204.2h0.75M197.8 230.4h0.75M206.1 204.2h0.75M178.2 214.6h0.75M200.6 210.8h0.75M217.0 225.1h0.75M205.8 216.3h0.75M188.8 205.4h0.75M206.7 208.7h0.75M193.0 209.4h0.75M198.8 216.1h0.75M195.7 216.6h0.75M185.1 206.2h0.75M197.4 216.3h0.75M186.9 215.5h0.75M206.1 216.4h0.75M201.5 211.3h0.75M226.3 202.2h0.75M201.2 217.2h0.75M197.7 214.3h0.75M180.3 217.8h0.75M193.5 214.5h0.75M191.1 205.1h0.75M192.4 199.4h0.75M204.5 219.6h0.75M190.8 216.7h0.75M192.6 202.9h0.75M224.0 205.0h0.75M228.3 216.5h0.75M200.4 203.6h0.75M178.5 216.0h0.75M197.3 215.8h0.75M197.4 207.6h0.75M195.2 218.7h0.75M208.3 222.1h0.75M221.0 220.1h0.75M176.7 223.7h0.75M183.6 215.4h0.75M189.6 214.6h0.75M196.6 217.6h0.75M196.6 203.4h0.75M204.2 210.0h0.75M199.3 204.5h0.75M206.4 210.9h0.75M194.7 203.6h0.75M205.4 214.6h0.75M206.3 214.8h0.75M200.9 213.2h0.75M216.7 212.0h0.75M189.6 208.8h0.75M207.1 206.5h0.75" stroke="#231f20" stroke-width="0.75" opacity="0.7"/>
<path d="M216.1 225.2h0.75M218.9 223.1h0.75M203.1 216.3h0.75M202.3 216.6h0.75M217.5 223.4h0.75M187.2 233.5h0.75M195.6 215.5h0.75M213.6 227.9h0.75M216.7 224.4h0.75M212.4 229.1h0.75M196.2 232.1h0.75M197.9 232.6h0.75M194.8 216.7h0.75M201.5 232.5h0.75M211.0 229.8h0.75M218.6 224.8h0.75M187.4 217.9h0.75M215.9 220.2h0.75M177.1 222.6h0.75M175.0 221.2h0.75M207.3 216.6h0.75M198.6 233.4h0.75M219.4 226.7h0.75M187.1 217.9h0.75M203.5 216.2h0.75M199.0 215.1h0.75M207.3 231.5h0.75M210.9 216.9h0.75M175.7 225.0h0.75M217.6 220.5h0.75M213.2 228.1h0.75M220.3 225.8h0.75M217.0 219.7h0.75M181.7 216.9h0.75M208.5 217.8h0.75M190.9 233.0h0.75M179.4 230.4h0.75M209.3 233.7h0.75M216.0 220.6h0.75M201.0 216.4h0.75M190.3 233.5h0.75M213.1 228.2h0.75M212.9 218.7h0.75M216.9 227.0h0.75M190.7 217.7h0.75M215.7 219.7h0.75M203.9 232.0h0.75M175.8 230.2h0.75M175.3 223.4h0.75M214.3 218.9h0.75M181.5 230.7h0.75M182.8 235.3h0.75M183.2 232.0h0.75M197.0 232.3h0.75M205.8 216.3h0.75M221.0 222.0h0.75M199.2 232.8h0.75M185.0 217.6h0.75M179.2 231.6h0.75M221.0 225.4h0.75M179.5 232.4h0.75M214.5 230.0h0.75M181.3 218.2h0.75M217.5 221.8h0.75M186.2 233.5h0.75M194.5 232.2h0.75M218.2 222.6h0.75M205.8 217.0h0.75M216.8 220.5h0.75M214.8 219.1h0.75M219.4 225.0h0.75M217.3 220.5h0.75M184.7 218.6h0.75M222.1 224.2h0.75M202.4 216.9h0.75M198.8 216.5h0.75M216.6 219.9h0.75M207.4 230.1h0.75M195.9 233.8h0.75M196.9 233.1h0.75M215.0 227.7h0.75M215.9 220.9h0.75M208.6 217.8h0.75M214.5 230.8h0.75M187.9 215.6h0.75M219.8 219.7h0.75M214.5 229.5h0.75M218.5 226.9h0.75M215.9 217.6h0.75M208.8 232.8h0.75M186.0 217.8h0.75M217.8 225.8h0.75M176.2 223.3h0.75M201.2 217.0h0.75M213.8 218.7h0.75M175.6 227.1h0.75M181.1 231.9h0.75M191.1 217.6h0.75M188.3 232.8h0.75M203.1 216.7h0.75M181.5 220.2h0.75M220.3 224.0h0.75M184.0 231.6h0.75M186.7 233.3h0.75M184.7 231.8h0.75M185.4 231.9h0.75M175.3 223.2h0.75M194.6 215.3h0.75M183.1 231.6h0.75M175.1 229.7h0.75M204.5 215.8h0.75M197.3 216.8h0.75" stroke="#231f20" stroke-width="0.75" opacity="0.9"/>
<path d="M201.4 225.2h0.75M214.3 196.3h0.75M202.1 224.9h0.75M222.1 220.8h0.75M220.3 224.4h0.75M218.2 223.9h0.75M214.0 199.9h0.75M204.3 212.1h0.75M211.8 197.1h0.75M228.7 198.6h0.75M220.8 220.8h0.75M218.1 197.4h0.75M228.1 211.1h0.75M203.8 214.3h0.75M215.4 198.6h0.75M208.5 227.4h0.75M204.3 206.3h0.75M220.6 223.8h0.75M218.7 198.2h0.75M222.9 217.9h0.75M220.7 194.5h0.75M213.1 200.9h0.75M220.4 200.1h0.75M214.8 199.2h0.75M226.3 200.7h0.75M202.4 218.7h0.75M226.9 209.4h0.75M223.4 223.7h0.75M221.4 195.3h0.75M201.0 212.7h0.75M204.4 223.8h0.75M208.3 225.2h0.75M211.0 201.5h0.75M208.1 225.3h0.75M231.2 214.9h0.75M225.2 204.0h0.75M204.4 219.8h0.75M230.0 209.1h0.75M213.8 198.2h0.75M203.7 203.7h0.75M200.2 216.1h0.75M210.1 203.1h0.75M214.3 200.6h0.75M203.6 228.6h0.75M220.7 199.1h0.75M208.0 228.9h0.75M215.6 224.3h0.75M227.0 207.1h0.75M227.7 206.0h0.75M224.3 203.0h0.75M202.0 209.5h0.75M202.1 220.0h0.75M226.7 196.0h0.75M221.7 219.6h0.75M228.1 202.0h0.75M217.1 198.2h0.75M229.8 203.2h0.75M203.9 218.3h0.75M226.4 205.9h0.75M211.7 224.4h0.75M206.1 224.8h0.75M229.7 194.6h0.75M227.3 211.3h0.75M206.0 223.8h0.75M226.5 207.9h0.75M201.0 216.8h0.75M224.8 220.0h0.75M218.2 225.0h0.75M218.6 194.7h0.75M217.2 199.7h0.75M222.1 199.0h0.75M223.1 195.8h0.75M201.1 214.9h0.75M220.1 199.9h0.75M210.9 225.5h0.75M225.7 199.4h0.75M230.8 205.7h0.75M209.4 225.0h0.75M203.3 224.0h0.75M224.9 202.5h0.75M218.9 200.1h0.75M216.0 190.4h0.75M227.0 215.4h0.75M223.8 199.3h0.75M220.8 197.0h0.75M214.7 200.9h0.75M228.0 203.8h0.75M213.7 196.6h0.75M215.9 224.3h0.75M204.0 215.2h0.75M198.5 219.1h0.75M209.0 199.7h0.75M220.9 223.0h0.75M224.6 202.5h0.75M227.9 214.8h0.75M208.9 225.0h0.75M223.7 201.7h0.75M209.3 225.4h0.75M225.6 214.5h0.75M219.4 223.2h0.75M217.2 200.1h0.75M224.4 216.1h0.75M210.6 197.4h0.75M200.4 219.6h0.75M226.1 213.7h0.75M214.8 197.0h0.75M209.6 226.7h0.75M209.9 199.2h0.75M203.8 210.8h0.75" stroke="#231f20" stroke-width="0.75" opacity="0.9"/>
<path d="M204.6 231.5h0.75M209.9 227.3h0.75M201.6 215.0h0.75M216.6 217.5h0.75M212.3 215.5h0.75M217.8 219.5h0.75M195.2 215.6h0.75M209.6 228.0h0.75M195.3 217.6h0.75M203.7 227.8h0.75M198.7 215.2h0.75M195.8 214.7h0.75M193.4 221.2h0.75M215.5 228.6h0.75M213.8 227.6h0.75M203.4 232.3h0.75M212.6 216.0h0.75M201.9 228.5h0.75M216.5 222.8h0.75M207.5 230.5h0.75M194.6 226.4h0.75M197.2 213.2h0.75M194.4 218.1h0.75M213.2 214.0h0.75M212.3 215.5h0.75M209.3 228.2h0.75M217.4 217.3h0.75M197.8 211.2h0.75M206.4 230.6h0.75M195.5 219.1h0.75M215.0 218.2h0.75M215.2 214.9h0.75M197.1 228.2h0.75M205.1 229.2h0.75M207.3 211.0h0.75M199.8 212.8h0.75M206.5 230.0h0.75M216.8 222.5h0.75M199.3 226.6h0.75M216.4 223.2h0.75M195.4 218.9h0.75M217.3 226.7h0.75M202.8 213.0h0.75M216.3 218.4h0.75M210.5 228.1h0.75M209.4 212.9h0.75M196.3 216.3h0.75M221.4 222.4h0.75M213.6 212.3h0.75M195.7 221.0h0.75M215.5 216.8h0.75M209.9 214.7h0.75M196.3 216.5h0.75M213.8 225.8h0.75M213.8 225.3h0.75M203.9 228.2h0.75M195.0 226.4h0.75M195.4 219.9h0.75M216.8 216.4h0.75M217.3 219.9h0.75M206.1 229.8h0.75M196.4 216.9h0.75M194.5 220.0h0.75M197.2 212.4h0.75M197.1 214.8h0.75M204.3 211.5h0.75M213.6 216.1h0.75M210.4 214.0h0.75M201.5 214.7h0.75M201.9 230.2h0.75M211.9 229.0h0.75M201.4 213.4h0.75M213.6 230.0h0.75M197.4 217.1h0.75M217.2 217.6h0.75" stroke="#231f20" stroke-width="0.75" opacity="0.9"/>
<g filter="url(#spk)"><ellipse cx="196.10" cy="224.60" rx="21.30" ry="7.60" transform="rotate(-4 196.10000000000002 224.6)"/><ellipse cx="215.10" cy="212.30" rx="13.60" ry="9.80" transform="rotate(-55 215.10000000000002 212.3)"/><ellipse cx="206.30" cy="221.00" rx="9.80" ry="6.80"/></g>
<ellipse cx="197.70" cy="225.00" rx="15.6" ry="5.2" fill="#d6d6d6" stroke="#1a1a1a" stroke-width="0.5" transform="rotate(-4 197.70000000000002 225.0)"/>
<ellipse cx="197.70" cy="225.00" rx="9.36" ry="3.12" fill="#e0e0e0" stroke="#bcbcbc" stroke-width="0.3" transform="rotate(-4 197.70000000000002 225.0)"/>
<ellipse cx="213.90" cy="215.00" rx="7.0" ry="5.6" fill="#d6d6d6" stroke="#1a1a1a" stroke-width="0.5" transform="rotate(-60 213.9 215.0)"/>
<ellipse cx="213.90" cy="215.00" rx="4.2" ry="3.36" fill="#e0e0e0" stroke="#bcbcbc" stroke-width="0.3" transform="rotate(-60 213.9 215.0)"/>
<rect x="174.3" y="178.0" width="64.3" height="63.5" stroke="#3a3a3a" stroke-width="0.8" fill="none"/>
<line x1="173.20" y1="185.94" x2="174.70" y2="185.94" stroke="#333" stroke-width="0.7"/>
<line x1="173.20" y1="193.88" x2="174.70" y2="193.88" stroke="#333" stroke-width="0.7"/>
<line x1="173.20" y1="201.81" x2="174.70" y2="201.81" stroke="#333" stroke-width="0.7"/>
<line x1="173.20" y1="209.75" x2="174.70" y2="209.75" stroke="#333" stroke-width="0.7"/>
<line x1="173.20" y1="217.69" x2="174.70" y2="217.69" stroke="#333" stroke-width="0.7"/>
<line x1="173.20" y1="225.62" x2="174.70" y2="225.62" stroke="#333" stroke-width="0.7"/>
<line x1="173.20" y1="233.56" x2="174.70" y2="233.56" stroke="#333" stroke-width="0.7"/>
<line x1="182.34" y1="242.70" x2="182.34" y2="241.10" stroke="#333" stroke-width="0.7"/>
<line x1="190.38" y1="242.70" x2="190.38" y2="241.10" stroke="#333" stroke-width="0.7"/>
<line x1="198.41" y1="242.70" x2="198.41" y2="241.10" stroke="#333" stroke-width="0.7"/>
<line x1="206.45" y1="242.70" x2="206.45" y2="241.10" stroke="#333" stroke-width="0.7"/>
<line x1="214.49" y1="242.70" x2="214.49" y2="241.10" stroke="#333" stroke-width="0.7"/>
<line x1="222.53" y1="242.70" x2="222.53" y2="241.10" stroke="#333" stroke-width="0.7"/>
<line x1="230.56" y1="242.70" x2="230.56" y2="241.10" stroke="#333" stroke-width="0.7"/>
<text x="206.70000000000002" y="174.9" font-size="8.3" fill="#231f20" stroke="#231f20" stroke-width="0.12" text-anchor="middle">D21</text>
<text x="233.0" y="189.7" font-size="8.3" fill="#231f20" stroke="#231f20" stroke-width="0.12" text-anchor="end">18.1</text>
<text x="234.10000000000002" y="239.0" font-size="8.1" fill="#c8324a" stroke="#c8324a" stroke-width="0.12" text-anchor="end">2.56</text>
<rect x="279.9" y="181.3" width="32.3" height="42.0" stroke="#3a3a3a" stroke-width="0.75" fill="none"/>
<path d="M300.3 226.0h0.75M284.5 224.7h0.75M254.9 226.4h0.75M286.9 223.4h0.75M268.2 225.1h0.75M279.6 229.2h0.75M276.5 225.4h0.75M294.0 220.5h0.75M286.6 219.6h0.75M274.9 223.9h0.75M279.9 225.9h0.75M286.1 225.2h0.75M296.2 230.2h0.75M269.2 223.9h0.75M269.5 223.0h0.75M270.9 226.6h0.75M283.2 227.8h0.75M261.8 228.4h0.75M278.1 222.3h0.75M258.2 233.7h0.75M258.3 225.9h0.75M271.2 231.3h0.75M269.3 224.9h0.75M272.6 224.4h0.75M263.2 226.0h0.75M269.7 220.0h0.75M272.1 214.6h0.75M278.9 226.1h0.75M286.0 228.0h0.75M258.2 231.0h0.75M280.2 228.0h0.75M293.8 227.5h0.75M266.4 223.2h0.75M279.0 227.8h0.75M252.0 222.3h0.75M277.2 224.9h0.75M258.1 220.9h0.75M289.9 220.1h0.75M271.3 224.0h0.75M265.9 224.2h0.75M269.0 226.7h0.75M280.0 221.9h0.75M263.5 223.6h0.75M267.2 225.7h0.75M256.6 221.5h0.75M269.4 220.0h0.75M305.0 233.9h0.75M295.2 223.0h0.75M281.2 225.0h0.75M261.3 227.3h0.75M281.2 223.0h0.75M283.5 221.7h0.75M284.6 225.6h0.75M273.9 232.6h0.75M263.6 221.9h0.75M279.0 224.0h0.75M277.5 220.2h0.75M290.5 227.0h0.75M270.3 222.3h0.75M274.3 221.3h0.75M266.7 219.4h0.75M279.2 224.8h0.75M269.0 228.7h0.75M253.8 226.5h0.75M300.4 220.7h0.75M263.4 225.5h0.75M290.1 223.1h0.75M299.3 228.7h0.75M262.8 223.4h0.75M267.1 224.1h0.75M264.9 226.0h0.75M264.6 231.2h0.75M267.9 224.8h0.75M298.0 228.6h0.75M254.7 226.3h0.75M252.5 225.8h0.75M260.3 227.9h0.75M270.3 225.0h0.75M252.6 225.4h0.75M279.9 228.8h0.75M262.9 223.1h0.75M292.8 219.0h0.75M273.8 217.0h0.75M279.5 225.4h0.75M268.3 225.3h0.75M258.4 227.6h0.75M276.9 226.2h0.75M261.5 226.6h0.75M285.4 225.9h0.75M276.7 224.5h0.75M274.3 218.3h0.75M279.3 224.8h0.75M254.2 231.0h0.75M287.0 223.1h0.75M266.4 222.8h0.75M262.3 225.6h0.75M283.3 228.1h0.75M271.2 220.9h0.75M258.1 224.1h0.75M280.2 225.0h0.75M272.5 218.5h0.75M290.8 219.0h0.75M271.8 219.7h0.75M270.9 228.6h0.75M289.3 224.0h0.75M292.2 226.0h0.75M272.4 224.8h0.75M269.6 227.9h0.75M285.6 226.4h0.75M257.1 226.8h0.75M294.8 224.9h0.75M286.3 228.0h0.75M270.0 224.8h0.75M283.1 225.6h0.75M298.2 224.2h0.75M276.3 230.4h0.75M277.2 220.9h0.75M265.4 226.0h0.75M291.8 234.3h0.75M291.8 221.5h0.75M283.2 224.3h0.75M279.1 225.4h0.75M264.7 227.0h0.75M273.4 224.3h0.75M278.9 222.2h0.75M267.9 220.6h0.75M282.4 226.4h0.75M269.7 222.8h0.75M283.0 219.8h0.75M269.9 230.0h0.75M278.5 231.1h0.75M290.8 221.1h0.75M276.1 220.8h0.75M280.3 220.1h0.75M273.9 223.2h0.75M287.6 224.2h0.75M259.5 225.3h0.75M252.7 220.5h0.75M281.9 224.9h0.75M262.3 225.4h0.75M275.2 223.9h0.75M290.4 228.4h0.75M261.2 222.7h0.75M258.0 219.4h0.75M285.2 228.9h0.75M260.8 221.7h0.75M266.3 222.2h0.75M256.4 228.2h0.75M271.0 221.4h0.75M283.3 223.0h0.75M272.8 223.2h0.75M261.5 220.6h0.75M258.4 232.0h0.75M286.7 230.6h0.75M257.0 223.5h0.75M290.8 224.4h0.75M268.6 230.4h0.75M291.9 228.7h0.75M264.2 217.3h0.75M257.1 223.4h0.75M279.0 225.0h0.75M271.6 223.6h0.75M263.0 227.8h0.75M253.0 227.3h0.75M282.2 223.5h0.75M271.9 226.6h0.75M261.5 222.1h0.75M281.4 228.6h0.75M293.6 231.2h0.75M266.4 229.9h0.75M288.1 227.2h0.75M279.8 224.8h0.75M255.9 225.5h0.75M277.5 217.6h0.75M261.7 221.5h0.75M270.4 224.5h0.75M290.9 220.0h0.75M267.7 219.9h0.75M271.8 224.1h0.75M262.3 221.0h0.75M282.4 219.3h0.75M277.5 220.9h0.75M281.3 213.2h0.75M274.6 226.2h0.75M283.8 226.2h0.75M252.8 229.0h0.75M274.2 224.3h0.75M270.8 225.6h0.75M264.6 230.5h0.75M270.4 220.3h0.75M260.8 225.6h0.75M296.1 218.4h0.75M285.0 223.9h0.75M261.1 227.2h0.75M263.2 223.7h0.75M274.8 225.3h0.75M277.3 219.5h0.75M261.8 236.6h0.75M273.4 223.1h0.75M270.1 220.9h0.75M274.3 222.6h0.75M301.7 231.1h0.75M271.8 229.1h0.75M264.4 225.2h0.75M275.9 228.0h0.75M285.1 226.6h0.75M255.3 225.1h0.75M285.9 227.2h0.75M275.4 223.1h0.75M268.7 227.2h0.75M279.4 224.3h0.75M270.9 221.4h0.75M275.1 226.0h0.75M276.5 222.8h0.75M263.5 219.1h0.75M281.5 225.0h0.75M283.5 222.4h0.75M304.2 226.3h0.75M261.0 228.3h0.75" stroke="#231f20" stroke-width="0.75" opacity="0.9"/>
<path d="M291.4 198.8h0.75M285.3 216.5h0.75M291.7 219.8h0.75M294.5 209.6h0.75M301.4 206.0h0.75M287.4 226.0h0.75M288.1 203.5h0.75M288.4 215.7h0.75M296.2 219.9h0.75M295.2 198.8h0.75M305.2 216.3h0.75M290.8 205.3h0.75M305.6 211.6h0.75M295.9 206.8h0.75M286.0 197.9h0.75M301.4 201.9h0.75M300.6 219.0h0.75M291.6 203.5h0.75M303.6 220.5h0.75M288.8 218.1h0.75M287.1 205.4h0.75M301.1 203.5h0.75M297.2 221.7h0.75M293.3 226.1h0.75M292.5 214.8h0.75M297.5 214.3h0.75M286.0 209.4h0.75M295.9 201.5h0.75M287.2 209.6h0.75M298.5 210.6h0.75M287.7 206.7h0.75M299.2 214.3h0.75M289.5 217.3h0.75M287.4 214.8h0.75M299.1 210.1h0.75M293.3 212.1h0.75M292.1 212.6h0.75M303.6 214.5h0.75M278.7 200.0h0.75M298.0 218.2h0.75M293.0 201.1h0.75M289.9 212.8h0.75M298.7 207.4h0.75M289.2 205.3h0.75M287.8 222.3h0.75M292.3 201.7h0.75M288.4 217.8h0.75M286.1 195.2h0.75M302.3 210.7h0.75M301.3 204.3h0.75M286.0 210.8h0.75M294.0 217.5h0.75M301.1 214.6h0.75M297.1 208.1h0.75M283.8 205.2h0.75M290.8 197.5h0.75M293.4 222.6h0.75M297.8 212.4h0.75M292.8 212.2h0.75M290.1 215.6h0.75M281.3 208.6h0.75M282.7 202.2h0.75M289.3 209.5h0.75M289.2 205.2h0.75M292.7 202.2h0.75M299.1 208.2h0.75M295.9 213.5h0.75M290.9 217.6h0.75M300.8 207.2h0.75M289.8 206.9h0.75M294.1 209.1h0.75M291.1 205.3h0.75M292.2 208.6h0.75M283.3 221.4h0.75M288.4 210.6h0.75M290.5 207.9h0.75M301.2 207.4h0.75M298.1 214.4h0.75M294.0 211.8h0.75M293.0 211.2h0.75M295.7 208.2h0.75M297.6 221.7h0.75M300.0 204.5h0.75M283.9 211.7h0.75M280.4 220.0h0.75M287.4 223.5h0.75M309.6 214.2h0.75M300.5 217.4h0.75M290.2 210.2h0.75M295.6 218.8h0.75M301.1 227.4h0.75M295.1 213.2h0.75M305.2 214.2h0.75M298.3 215.6h0.75M300.3 214.6h0.75M296.9 208.3h0.75M293.9 207.0h0.75M293.6 207.7h0.75M291.1 214.7h0.75M294.5 215.3h0.75M307.8 217.7h0.75M293.7 219.6h0.75M295.8 206.8h0.75M278.8 207.6h0.75M306.0 210.6h0.75M305.5 219.6h0.75M302.8 217.3h0.75M285.8 211.4h0.75M289.2 204.0h0.75M289.6 207.5h0.75M296.8 209.7h0.75M289.8 212.9h0.75M292.3 203.1h0.75M291.9 205.5h0.75M295.9 220.4h0.75M291.3 212.5h0.75M300.5 188.0h0.75M287.7 216.4h0.75M291.4 201.2h0.75M292.1 205.1h0.75M304.6 203.0h0.75M294.6 201.7h0.75M284.9 222.6h0.75M290.0 216.8h0.75M286.8 217.4h0.75M297.6 214.1h0.75M286.7 210.5h0.75M301.7 221.6h0.75M296.0 216.3h0.75M300.5 210.4h0.75M288.1 200.1h0.75M301.8 209.4h0.75M294.9 213.6h0.75M295.2 207.5h0.75M290.3 207.2h0.75M289.3 202.1h0.75M290.3 208.5h0.75M302.6 213.1h0.75M296.4 210.9h0.75M289.5 201.6h0.75M288.5 204.5h0.75M291.6 207.8h0.75M294.7 216.4h0.75M295.4 200.8h0.75M290.3 212.8h0.75M290.2 212.9h0.75M289.0 206.1h0.75M290.5 197.8h0.75M299.2 216.8h0.75M290.1 204.9h0.75M289.0 210.6h0.75M284.1 206.8h0.75M290.0 217.4h0.75M292.6 209.8h0.75M303.6 210.7h0.75M291.7 217.5h0.75M286.8 211.9h0.75M282.5 223.1h0.75M288.3 211.2h0.75M299.7 212.9h0.75M290.8 220.2h0.75M297.4 204.9h0.75M291.1 224.0h0.75M290.5 221.9h0.75M285.9 212.3h0.75M289.2 218.2h0.75M297.8 208.9h0.75M288.2 214.0h0.75M299.2 208.9h0.75M295.3 221.0h0.75M291.4 206.0h0.75M285.1 216.5h0.75M296.0 216.4h0.75M306.0 216.9h0.75M289.7 208.7h0.75M292.2 212.8h0.75M287.7 218.9h0.75M292.1 209.7h0.75M283.6 221.2h0.75M291.2 216.7h0.75M284.7 198.4h0.75M292.6 203.3h0.75M300.1 208.0h0.75M290.2 204.9h0.75M292.1 207.5h0.75M300.5 205.4h0.75M291.4 202.7h0.75M296.4 204.3h0.75M301.0 215.1h0.75M290.3 208.8h0.75M302.8 213.7h0.75M300.8 218.5h0.75M294.0 206.0h0.75M289.2 214.0h0.75M282.6 208.1h0.75M296.4 212.3h0.75M290.6 199.3h0.75M294.0 218.1h0.75M292.3 210.8h0.75M286.4 208.2h0.75" stroke="#231f20" stroke-width="0.75" opacity="0.9"/>
<path d="M276.5 207.6h0.75M284.7 210.9h0.75M279.9 207.4h0.75M265.0 220.6h0.75M266.6 208.9h0.75M280.1 209.9h0.75M280.8 212.2h0.75M277.6 221.5h0.75M272.3 212.0h0.75M295.1 204.6h0.75M277.9 206.2h0.75M254.7 220.5h0.75M285.4 210.8h0.75M275.2 203.2h0.75M280.8 206.8h0.75M288.5 220.1h0.75M283.5 211.2h0.75M271.4 212.9h0.75M278.0 216.8h0.75M260.6 211.2h0.75M268.0 219.3h0.75M294.3 215.7h0.75M274.1 206.6h0.75M264.0 203.7h0.75M268.9 213.8h0.75M262.2 209.1h0.75M270.5 221.7h0.75M258.2 216.4h0.75M276.9 218.0h0.75M281.7 218.0h0.75M283.4 210.0h0.75M277.1 215.9h0.75M273.5 209.5h0.75M270.0 208.4h0.75M281.7 195.7h0.75M270.7 218.9h0.75M264.0 214.7h0.75M272.6 204.9h0.75M256.6 226.5h0.75M276.3 205.9h0.75M280.3 210.4h0.75M266.9 207.4h0.75M268.2 214.2h0.75M279.8 214.6h0.75M268.5 217.0h0.75M280.0 213.4h0.75M287.6 210.9h0.75M264.1 211.5h0.75M286.0 210.1h0.75M288.0 200.7h0.75M281.9 213.4h0.75M256.9 224.3h0.75M266.2 210.2h0.75M296.8 220.5h0.75M261.5 213.6h0.75M271.2 220.1h0.75M266.5 215.8h0.75M291.5 218.1h0.75M262.9 220.6h0.75M267.5 202.2h0.75M261.4 223.0h0.75M268.7 203.2h0.75M267.7 212.1h0.75M281.0 216.5h0.75M280.6 213.6h0.75M255.8 213.6h0.75M263.9 207.1h0.75M295.7 221.3h0.75M290.8 214.3h0.75M263.6 218.3h0.75M263.3 221.6h0.75M295.6 220.3h0.75M277.6 212.3h0.75M253.9 212.3h0.75M289.6 213.3h0.75M282.2 212.2h0.75M294.2 206.0h0.75M267.0 206.0h0.75M285.2 209.3h0.75M269.8 222.7h0.75M262.6 207.3h0.75M260.6 216.7h0.75M260.1 209.8h0.75M261.9 220.3h0.75M295.6 221.0h0.75M266.6 211.6h0.75M268.0 213.5h0.75M282.9 218.7h0.75M277.7 222.0h0.75M263.1 198.2h0.75M276.5 209.0h0.75M269.5 203.1h0.75M287.0 209.2h0.75M268.3 214.4h0.75M290.7 207.7h0.75M271.7 212.7h0.75M279.2 219.0h0.75M257.4 215.5h0.75M255.3 214.2h0.75M275.2 210.0h0.75M256.7 216.9h0.75M255.0 204.5h0.75M280.7 213.7h0.75M272.1 206.7h0.75M263.1 203.2h0.75M273.3 209.3h0.75M276.8 210.9h0.75M276.0 216.2h0.75M260.4 215.7h0.75M265.1 207.1h0.75M283.2 208.7h0.75M274.8 218.7h0.75M282.8 213.8h0.75M287.4 208.6h0.75M283.6 203.5h0.75M294.1 214.9h0.75M274.6 215.4h0.75M273.7 207.3h0.75M265.3 215.4h0.75M269.7 203.1h0.75M295.3 206.3h0.75M273.6 198.6h0.75M260.2 215.0h0.75M262.1 220.4h0.75M282.4 217.0h0.75M266.0 216.7h0.75M277.9 211.2h0.75M265.1 209.4h0.75M271.0 203.8h0.75M280.0 219.0h0.75M280.4 212.6h0.75M286.0 211.6h0.75M271.5 204.9h0.75M278.3 219.3h0.75M271.7 221.1h0.75M256.3 217.0h0.75M262.6 214.9h0.75M281.0 213.9h0.75M275.7 203.2h0.75M280.2 209.2h0.75M253.4 213.0h0.75M279.4 218.9h0.75M276.0 209.3h0.75M292.3 212.2h0.75M262.5 211.5h0.75M287.4 220.0h0.75M253.9 211.1h0.75M254.4 211.3h0.75M270.8 211.7h0.75M271.3 216.3h0.75M274.2 209.0h0.75M292.7 210.7h0.75" stroke="#231f20" stroke-width="0.75" opacity="0.7"/>
<path d="M295.6 221.7h0.75M300.3 224.1h0.75M289.7 228.6h0.75M259.0 219.7h0.75M298.0 224.3h0.75M271.2 216.0h0.75M285.6 230.6h0.75M289.5 229.5h0.75M260.2 232.3h0.75M274.3 233.1h0.75M262.7 218.5h0.75M256.6 231.2h0.75M293.7 223.5h0.75M253.8 230.8h0.75M253.2 223.2h0.75M269.4 215.7h0.75M291.1 219.2h0.75M293.5 223.3h0.75M251.9 223.4h0.75M284.0 215.5h0.75M253.5 231.1h0.75M294.5 220.0h0.75M290.2 231.3h0.75M278.6 231.7h0.75M267.7 216.8h0.75M252.1 224.9h0.75M261.2 232.2h0.75M291.1 228.1h0.75M295.4 220.4h0.75M284.3 230.5h0.75M256.7 230.4h0.75M257.5 218.6h0.75M265.8 217.5h0.75M255.9 230.2h0.75M259.5 218.2h0.75M253.6 223.5h0.75M283.3 230.8h0.75M275.0 232.9h0.75M275.1 232.9h0.75M290.5 215.5h0.75M285.2 216.3h0.75M258.6 232.4h0.75M297.2 222.9h0.75M294.7 226.5h0.75M279.4 232.3h0.75M295.6 223.1h0.75M263.3 217.2h0.75M293.9 222.5h0.75M261.1 233.0h0.75M267.2 232.5h0.75M291.1 227.8h0.75M262.9 233.2h0.75M288.2 231.5h0.75M284.9 217.8h0.75M254.0 222.4h0.75M270.8 232.5h0.75M277.0 233.5h0.75M283.5 230.8h0.75M291.3 216.1h0.75M271.8 233.3h0.75M268.8 233.1h0.75M268.6 232.8h0.75M252.7 225.3h0.75M254.5 231.4h0.75M293.6 224.1h0.75M256.2 218.4h0.75M278.4 231.9h0.75M268.1 216.6h0.75M272.8 216.0h0.75M255.5 230.3h0.75M257.7 231.5h0.75M263.4 231.8h0.75M253.3 222.7h0.75M294.7 220.0h0.75M255.6 231.6h0.75M265.0 233.9h0.75M276.8 232.4h0.75M272.1 217.2h0.75M255.5 229.7h0.75M289.9 228.1h0.75M291.4 227.7h0.75M269.2 215.6h0.75M293.4 226.5h0.75M264.9 232.7h0.75M258.7 233.3h0.75M285.0 217.3h0.75M259.0 231.1h0.75M283.6 230.5h0.75M265.2 217.7h0.75M273.5 232.6h0.75M293.8 225.5h0.75M261.8 218.6h0.75M282.3 216.7h0.75M286.7 217.1h0.75M271.2 214.8h0.75M257.2 231.4h0.75M287.5 217.6h0.75M290.3 217.7h0.75M293.6 220.4h0.75M254.0 221.5h0.75M283.6 217.1h0.75M295.0 223.3h0.75M292.7 220.6h0.75M277.4 216.4h0.75M272.7 216.4h0.75M290.2 219.3h0.75M260.4 218.4h0.75M284.5 230.8h0.75M268.2 217.4h0.75M253.8 231.1h0.75M256.2 232.3h0.75M300.6 225.2h0.75M256.0 219.9h0.75M290.4 227.6h0.75M282.6 231.0h0.75M300.3 223.1h0.75M279.8 231.7h0.75M261.0 218.1h0.75M280.1 216.2h0.75M283.4 217.6h0.75M275.2 232.8h0.75M289.9 228.5h0.75M252.6 231.4h0.75M279.3 216.8h0.75M260.2 231.4h0.75" stroke="#231f20" stroke-width="0.75" opacity="0.9"/>
<path d="M285.8 225.0h0.75M289.7 198.7h0.75M299.4 220.4h0.75M279.3 213.3h0.75M298.7 197.7h0.75M293.2 225.9h0.75M282.0 211.1h0.75M281.0 218.1h0.75M294.7 197.3h0.75M277.7 217.5h0.75M307.0 210.5h0.75M302.9 200.4h0.75M281.8 211.3h0.75M275.2 220.4h0.75M286.9 200.8h0.75M280.9 217.1h0.75M289.0 201.4h0.75M304.7 214.2h0.75M280.3 215.3h0.75M282.9 202.1h0.75M281.2 209.2h0.75M302.8 206.2h0.75M281.4 209.3h0.75M277.4 216.7h0.75M291.2 225.3h0.75M276.2 220.7h0.75M281.5 224.6h0.75M304.2 216.7h0.75M288.2 202.7h0.75M298.4 199.3h0.75M301.9 202.6h0.75M285.3 203.0h0.75M295.7 227.8h0.75M280.7 210.9h0.75M276.4 221.0h0.75M295.5 199.8h0.75M279.5 223.7h0.75M301.0 190.5h0.75M305.7 205.6h0.75M289.3 225.5h0.75M300.3 217.4h0.75M283.2 206.0h0.75M287.1 202.6h0.75M282.5 229.9h0.75M296.5 229.2h0.75M301.6 218.6h0.75M280.0 228.2h0.75M279.2 213.2h0.75M303.5 201.5h0.75M290.7 197.1h0.75M281.3 208.0h0.75M300.3 200.1h0.75M304.5 197.8h0.75M299.0 200.9h0.75M308.7 213.7h0.75M290.0 199.6h0.75M300.7 217.4h0.75M279.2 217.3h0.75M295.8 198.9h0.75M301.7 197.4h0.75M288.5 195.7h0.75M303.2 216.8h0.75M303.5 212.3h0.75M299.9 194.2h0.75M298.5 197.8h0.75M300.4 223.3h0.75M282.2 223.9h0.75M288.8 227.0h0.75M299.9 201.2h0.75M282.3 223.7h0.75M301.4 215.0h0.75M312.2 207.2h0.75M292.8 195.3h0.75M305.3 197.6h0.75M283.6 222.3h0.75M300.3 218.6h0.75M289.2 201.9h0.75M292.2 228.6h0.75M284.5 204.0h0.75M297.3 198.0h0.75M279.6 202.0h0.75M285.2 202.9h0.75M286.4 204.2h0.75M282.8 202.1h0.75M286.2 202.3h0.75M296.8 197.8h0.75M279.2 220.7h0.75M295.2 225.9h0.75M282.8 224.2h0.75M284.8 223.8h0.75M304.4 214.0h0.75M284.6 224.4h0.75M299.8 201.1h0.75M273.7 220.8h0.75M280.4 225.0h0.75M298.6 222.4h0.75M300.9 217.6h0.75M288.5 232.2h0.75M287.1 201.8h0.75M274.1 220.0h0.75M296.0 200.2h0.75M281.1 209.4h0.75M301.4 217.7h0.75M292.8 199.2h0.75M281.7 206.1h0.75M306.8 207.5h0.75M293.0 199.2h0.75M282.8 224.9h0.75M302.6 212.5h0.75" stroke="#231f20" stroke-width="0.75" opacity="0.9"/>
<path d="M281.6 232.4h0.75M269.0 219.8h0.75M287.7 227.5h0.75M298.7 218.5h0.75M288.2 227.1h0.75M272.2 213.4h0.75M300.4 221.6h0.75M294.9 221.8h0.75M271.9 219.9h0.75M279.0 227.4h0.75M298.3 222.2h0.75M284.4 227.6h0.75M280.9 229.6h0.75M284.4 214.4h0.75M279.1 227.1h0.75M278.2 215.2h0.75M296.0 223.2h0.75M291.7 214.1h0.75M281.2 207.9h0.75M286.5 227.4h0.75M266.8 227.5h0.75M271.5 219.4h0.75M274.5 223.7h0.75M274.3 217.0h0.75M295.1 218.3h0.75M272.8 222.0h0.75M272.0 223.3h0.75M281.2 228.0h0.75M294.9 221.6h0.75M272.4 226.2h0.75M292.4 223.5h0.75M297.0 221.2h0.75M276.9 228.3h0.75M274.6 224.4h0.75M292.9 221.7h0.75M293.7 225.2h0.75M277.2 215.6h0.75M276.8 215.4h0.75M282.6 230.9h0.75M275.8 214.3h0.75M280.9 210.9h0.75M269.8 219.4h0.75M282.1 228.7h0.75M286.7 229.8h0.75M298.6 225.3h0.75M289.2 227.3h0.75M267.7 222.1h0.75M287.3 214.7h0.75M282.2 228.0h0.75M293.1 222.9h0.75M287.4 227.2h0.75M279.7 230.2h0.75M292.0 215.4h0.75M292.7 218.5h0.75M290.0 216.4h0.75M280.2 228.9h0.75M292.0 225.0h0.75M272.0 226.2h0.75M295.1 221.8h0.75M276.1 227.2h0.75M287.8 213.2h0.75M287.7 228.4h0.75M293.7 222.9h0.75M294.1 214.9h0.75M277.2 214.2h0.75M270.5 225.1h0.75M285.9 213.8h0.75M274.9 215.7h0.75M281.2 213.2h0.75M289.9 215.1h0.75M277.1 208.2h0.75M269.9 217.9h0.75M273.5 217.7h0.75M287.4 210.7h0.75M276.9 228.0h0.75" stroke="#231f20" stroke-width="0.75" opacity="0.9"/>
<g filter="url(#spk)"><ellipse cx="273.00" cy="224.60" rx="21.30" ry="7.60" transform="rotate(-4 273.0 224.6)"/><ellipse cx="292.00" cy="212.30" rx="13.60" ry="9.80" transform="rotate(-55 292.0 212.3)"/><ellipse cx="283.20" cy="221.00" rx="9.80" ry="6.80"/></g>
<ellipse cx="274.00" cy="225.00" rx="14.4" ry="5.2" fill="#d6d6d6" stroke="#1a1a1a" stroke-width="0.5" transform="rotate(-4 274.0 225.0)"/>
<ellipse cx="274.00" cy="225.00" rx="8.64" ry="3.12" fill="#e0e0e0" stroke="#bcbcbc" stroke-width="0.3" transform="rotate(-4 274.0 225.0)"/>
<ellipse cx="289.90" cy="213.00" rx="7.4" ry="5.3" fill="#d6d6d6" stroke="#1a1a1a" stroke-width="0.5" transform="rotate(-68 289.9 213.0)"/>
<ellipse cx="289.90" cy="213.00" rx="4.44" ry="3.1799999999999997" fill="#e0e0e0" stroke="#bcbcbc" stroke-width="0.3" transform="rotate(-68 289.9 213.0)"/>
<rect x="251.2" y="178.0" width="64.3" height="63.5" stroke="#3a3a3a" stroke-width="0.8" fill="none"/>
<line x1="250.10" y1="185.94" x2="251.60" y2="185.94" stroke="#333" stroke-width="0.7"/>
<line x1="250.10" y1="193.88" x2="251.60" y2="193.88" stroke="#333" stroke-width="0.7"/>
<line x1="250.10" y1="201.81" x2="251.60" y2="201.81" stroke="#333" stroke-width="0.7"/>
<line x1="250.10" y1="209.75" x2="251.60" y2="209.75" stroke="#333" stroke-width="0.7"/>
<line x1="250.10" y1="217.69" x2="251.60" y2="217.69" stroke="#333" stroke-width="0.7"/>
<line x1="250.10" y1="225.62" x2="251.60" y2="225.62" stroke="#333" stroke-width="0.7"/>
<line x1="250.10" y1="233.56" x2="251.60" y2="233.56" stroke="#333" stroke-width="0.7"/>
<line x1="259.24" y1="242.70" x2="259.24" y2="241.10" stroke="#333" stroke-width="0.7"/>
<line x1="267.27" y1="242.70" x2="267.27" y2="241.10" stroke="#333" stroke-width="0.7"/>
<line x1="275.31" y1="242.70" x2="275.31" y2="241.10" stroke="#333" stroke-width="0.7"/>
<line x1="283.35" y1="242.70" x2="283.35" y2="241.10" stroke="#333" stroke-width="0.7"/>
<line x1="291.39" y1="242.70" x2="291.39" y2="241.10" stroke="#333" stroke-width="0.7"/>
<line x1="299.42" y1="242.70" x2="299.42" y2="241.10" stroke="#333" stroke-width="0.7"/>
<line x1="307.46" y1="242.70" x2="307.46" y2="241.10" stroke="#333" stroke-width="0.7"/>
<text x="283.59999999999997" y="174.9" font-size="8.3" fill="#231f20" stroke="#231f20" stroke-width="0.12" text-anchor="middle">D56</text>
<text x="309.9" y="189.7" font-size="8.3" fill="#231f20" stroke="#231f20" stroke-width="0.12" text-anchor="end">22.4</text>
<text x="311.0" y="239.0" font-size="8.1" fill="#c8324a" stroke="#c8324a" stroke-width="0.12" text-anchor="end">3.66</text>
<text x="22.9" y="239.0" font-size="8.1" fill="#c8324a" stroke="#c8324a" stroke-width="0.12" textLength="29.6" lengthAdjust="spacingAndGlyphs">Treg (%)</text>
<line x1="14.40" y1="240.50" x2="14.40" y2="187.60" stroke="#444" stroke-width="0.9"/>
<path d="M12.5,189.2 L14.4,184.6 L16.3,189.2 Z" fill="#231f20"/>
<text x="0" y="0" font-size="10.39" fill="#2a2a2a" font-weight="bold" transform="translate(9.1 222.0) rotate(-90)" textLength="18.2" lengthAdjust="spacingAndGlyphs">Foxp3</text>
<line x1="20.00" y1="247.60" x2="310.80" y2="247.60" stroke="#444" stroke-width="0.9"/>
<path d="M309.2,245.7 L313.8,247.6 L309.2,249.5 Z" fill="#231f20"/>
<text x="160.0" y="259.2" font-size="10.18" fill="#2a2a2a" font-weight="bold" textLength="15.4" lengthAdjust="spacingAndGlyphs">CD25</text>
<text x="0.6" y="288.8" font-size="11.2" fill="#231f20" font-weight="bold">B</text>
<text x="127.4" y="290.1" font-size="8.4" fill="#231f20" stroke="#231f20" stroke-width="0.12" textLength="81.5" lengthAdjust="spacingAndGlyphs">Gated on CD4<tspan font-size="5.0" dy="-3">+</tspan><tspan dy="3">​</tspan> T cells</text>
<line x1="20.00" y1="294.90" x2="314.40" y2="294.90" stroke="#333" stroke-width="1.1"/>
<defs><radialGradient id="rg" cx="0.5" cy="0.55" r="0.55"><stop offset="0" stop-color="#fcf0ec"/><stop offset="0.35" stop-color="#f6cdc7"/><stop offset="1" stop-color="#ea928c"/></radialGradient><radialGradient id="lg" cx="0.5" cy="0.5" r="0.55"><stop offset="0" stop-color="#f4f2fc"/><stop offset="0.5" stop-color="#d6d0f2"/><stop offset="1" stop-color="#a89ee0"/></radialGradient></defs>
<path d="M54.0 338.2h0.65M61.5 335.6h0.65M70.1 343.4h0.65M78.6 343.1h0.65M61.8 348.3h0.65M60.4 330.6h0.65M62.9 336.4h0.65M55.0 340.0h0.65M80.4 340.4h0.65M57.4 333.9h0.65M77.7 336.7h0.65M72.4 334.2h0.65M79.6 343.5h0.65M65.5 336.6h0.65M62.5 342.3h0.65M74.1 349.5h0.65M62.6 343.4h0.65M67.1 347.5h0.65M68.7 342.8h0.65M66.9 342.5h0.65M82.4 343.4h0.65M75.4 341.0h0.65M68.2 335.1h0.65M73.6 340.9h0.65M79.4 326.8h0.65M70.4 333.5h0.65M79.7 341.8h0.65M65.6 347.4h0.65M63.1 340.3h0.65M79.1 336.1h0.65M65.9 340.9h0.65M63.2 336.0h0.65M79.2 337.1h0.65M73.1 339.8h0.65M56.2 335.5h0.65M61.5 343.8h0.65M70.4 339.9h0.65M69.1 339.0h0.65M81.2 335.5h0.65M66.4 341.5h0.65M70.3 340.6h0.65M68.9 337.2h0.65M79.5 339.3h0.65M67.0 333.6h0.65M53.0 343.1h0.65M68.8 345.5h0.65M75.7 346.2h0.65M78.1 338.2h0.65M77.8 338.5h0.65M61.7 342.0h0.65M65.8 340.2h0.65M64.3 340.7h0.65M62.8 342.4h0.65M71.0 344.0h0.65M57.4 334.2h0.65M67.0 341.7h0.65M59.1 340.6h0.65M73.2 331.6h0.65M66.3 343.9h0.65M73.4 339.4h0.65M61.9 345.1h0.65M68.8 344.1h0.65M72.7 339.5h0.65M67.0 338.1h0.65M59.0 342.1h0.65M64.8 346.9h0.65M69.5 349.3h0.65M59.2 344.8h0.65M67.0 342.5h0.65M66.9 340.2h0.65M51.9 341.8h0.65M70.7 343.6h0.65M53.1 333.0h0.65M50.4 341.2h0.65M71.3 344.2h0.65M64.0 344.3h0.65M71.0 334.0h0.65M62.7 346.5h0.65M70.1 340.5h0.65M64.6 336.8h0.65M68.7 339.0h0.65M63.8 341.6h0.65M55.3 340.0h0.65M61.1 332.9h0.65M71.3 346.5h0.65M74.3 343.7h0.65M74.2 328.7h0.65M72.0 341.0h0.65M82.0 345.7h0.65M66.5 336.7h0.65M55.5 343.3h0.65M53.0 341.3h0.65M59.8 344.4h0.65M62.3 343.0h0.65M68.0 344.4h0.65M57.6 334.6h0.65M64.0 337.1h0.65M65.9 332.4h0.65M58.3 341.5h0.65M73.5 346.1h0.65M75.3 342.0h0.65M65.1 336.5h0.65M69.4 341.8h0.65M76.0 342.4h0.65M75.1 335.9h0.65M62.6 341.4h0.65M77.9 340.3h0.65M76.1 337.6h0.65M62.7 341.1h0.65M80.4 344.1h0.65M58.6 338.6h0.65M80.2 334.3h0.65M69.8 334.4h0.65M61.3 343.1h0.65M63.3 340.1h0.65M71.6 342.4h0.65M64.9 337.2h0.65M54.9 338.1h0.65M68.9 336.2h0.65M63.4 338.2h0.65M63.1 347.7h0.65M76.5 347.0h0.65M61.4 330.0h0.65M53.3 339.0h0.65M65.0 341.8h0.65M53.8 343.1h0.65M59.6 327.6h0.65M63.7 342.4h0.65M75.2 336.7h0.65M68.0 343.8h0.65" stroke="#5a1020" stroke-width="0.65" opacity="0.8"/>
<g filter="url(#spkn)"><path d="M25.4,350.8 L60.4,350.8 Q72.4,350.8 72.4,358.8 Q72.4,366 60.4,366.6 L34.4,366.6 Q24.4,366 24.4,358.8 Z"/></g>
<path d="M72.4 363.6h0.75M69.2 355.6h0.75M66.4 360.4h0.75M83.1 359.0h0.75M77.2 355.0h0.75M77.8 358.3h0.75M70.3 357.5h0.75M81.3 363.3h0.75M74.8 363.7h0.75M71.5 362.8h0.75M76.8 357.1h0.75M72.4 361.6h0.75M72.4 361.1h0.75M73.7 361.7h0.75M68.5 361.4h0.75M72.1 359.3h0.75M79.0 362.5h0.75M76.7 359.6h0.75M73.3 361.5h0.75M68.3 357.1h0.75M61.7 355.3h0.75M74.8 358.0h0.75M67.4 360.2h0.75M81.7 360.9h0.75M68.2 360.2h0.75M77.7 354.0h0.75M65.9 357.1h0.75M74.4 358.2h0.75M75.3 361.5h0.75M77.9 356.4h0.75M62.3 356.8h0.75M61.5 362.3h0.75M72.6 355.8h0.75M80.8 357.8h0.75M72.1 357.3h0.75M70.2 358.1h0.75M67.7 356.0h0.75M66.0 363.7h0.75M60.4 362.8h0.75M68.6 361.4h0.75M63.8 356.7h0.75M82.2 362.1h0.75M76.9 359.6h0.75M79.3 362.3h0.75M77.8 351.6h0.75M75.6 361.7h0.75M76.9 359.7h0.75M72.8 363.0h0.75M73.1 362.1h0.75M58.8 363.8h0.75M71.7 357.9h0.75M78.6 361.9h0.75M77.9 358.5h0.75M71.3 353.7h0.75M68.7 364.3h0.75M74.2 358.6h0.75M67.1 360.0h0.75M81.9 361.4h0.75M71.5 358.9h0.75M70.4 356.8h0.75M67.4 363.6h0.75M65.3 358.1h0.75M78.9 358.8h0.75M67.0 356.5h0.75M78.4 355.4h0.75M72.8 355.3h0.75M70.1 361.3h0.75M64.9 356.7h0.75M77.6 361.0h0.75M65.6 363.6h0.75M72.6 356.9h0.75M82.3 362.2h0.75M72.8 360.2h0.75M73.6 357.4h0.75M71.9 362.3h0.75M73.2 354.2h0.75M71.3 353.6h0.75M63.4 362.5h0.75M69.3 361.0h0.75M74.1 356.6h0.75M75.3 363.8h0.75M71.9 356.0h0.75M77.4 358.0h0.75M74.1 356.7h0.75M68.4 359.3h0.75M76.6 358.0h0.75M64.5 358.8h0.75M70.5 355.1h0.75M72.2 355.9h0.75M67.8 364.6h0.75M69.7 358.9h0.75M79.6 357.0h0.75M78.9 355.7h0.75M75.6 359.6h0.75M72.2 357.9h0.75M72.9 361.6h0.75M62.0 358.1h0.75M81.2 360.9h0.75M72.0 362.5h0.75M65.1 359.8h0.75M57.0 355.6h0.75M80.1 355.4h0.75M70.6 353.9h0.75M75.8 355.7h0.75M60.3 361.3h0.75M65.9 361.8h0.75M74.3 357.2h0.75M79.2 360.9h0.75M76.2 359.1h0.75M67.8 353.5h0.75M63.4 356.9h0.75M77.4 364.3h0.75M75.5 358.5h0.75M60.4 364.4h0.75M81.9 363.9h0.75M80.6 354.4h0.75M73.7 351.7h0.75M75.5 355.5h0.75M80.4 354.8h0.75M71.7 364.3h0.75M70.2 359.1h0.75M70.0 359.8h0.75M73.6 359.8h0.75M70.9 358.1h0.75M73.0 359.2h0.75M70.3 358.1h0.75M82.9 358.2h0.75M69.8 352.9h0.75M61.3 360.7h0.75M65.6 363.1h0.75M70.9 363.4h0.75M69.4 354.9h0.75M67.5 362.2h0.75M67.4 357.3h0.75M65.1 357.8h0.75M78.7 359.8h0.75M72.2 358.5h0.75M68.0 357.6h0.75M64.6 352.7h0.75M79.5 360.4h0.75M72.2 359.2h0.75M78.6 359.6h0.75M74.6 355.9h0.75M74.1 361.5h0.75M68.3 360.9h0.75M76.4 353.8h0.75M71.2 352.9h0.75M77.4 358.5h0.75M66.8 360.0h0.75M68.1 358.8h0.75M68.2 356.3h0.75M76.0 355.9h0.75M68.2 358.3h0.75M77.9 359.4h0.75M69.2 361.0h0.75M62.5 358.9h0.75M62.4 360.4h0.75M81.7 356.0h0.75M76.3 359.4h0.75M75.6 358.2h0.75M58.7 361.2h0.75M71.4 360.5h0.75M71.7 351.3h0.75M58.2 355.2h0.75M80.1 361.7h0.75M79.5 360.9h0.75M76.9 359.1h0.75M68.4 357.9h0.75M72.3 361.0h0.75M57.7 356.6h0.75M71.7 357.4h0.75M79.1 354.7h0.75M63.2 359.4h0.75M73.2 357.2h0.75M68.1 355.6h0.75M81.2 357.9h0.75M69.0 356.7h0.75M66.5 360.0h0.75M76.7 359.6h0.75M73.0 356.9h0.75M73.1 355.5h0.75M71.8 362.0h0.75M78.5 366.4h0.75M78.2 355.4h0.75M53.8 358.0h0.75M79.6 363.0h0.75M79.5 358.7h0.75M69.2 354.9h0.75M64.7 355.8h0.75M70.2 362.3h0.75M65.8 351.7h0.75M76.2 363.7h0.75M71.4 355.4h0.75M63.6 363.9h0.75M65.4 355.2h0.75M69.2 356.1h0.75M67.2 356.1h0.75M75.4 360.7h0.75M65.6 355.5h0.75M71.6 360.5h0.75M64.6 361.9h0.75M60.8 363.8h0.75M77.4 361.7h0.75M76.8 359.3h0.75M74.2 363.9h0.75M62.6 358.8h0.75M80.3 357.6h0.75M77.9 360.0h0.75M67.7 358.8h0.75M66.8 355.6h0.75M70.4 362.5h0.75M69.5 354.2h0.75M69.9 366.1h0.75M73.3 352.3h0.75M70.7 358.3h0.75M65.2 359.2h0.75M57.2 359.8h0.75M56.3 359.1h0.75M74.3 360.8h0.75M54.0 363.8h0.75M57.8 359.8h0.75M70.6 361.1h0.75M67.1 359.9h0.75M68.1 355.0h0.75M77.6 357.1h0.75M78.0 363.5h0.75M65.2 359.8h0.75M71.6 353.6h0.75M70.4 360.1h0.75M79.6 362.0h0.75M72.2 354.7h0.75M81.0 361.3h0.75M69.9 357.4h0.75M74.7 356.5h0.75M62.7 352.7h0.75M76.2 357.9h0.75M70.2 357.9h0.75M74.6 357.4h0.75M73.4 361.9h0.75M81.1 359.7h0.75M65.6 361.6h0.75M67.9 357.7h0.75M80.7 359.8h0.75M69.5 360.1h0.75M72.3 358.2h0.75M76.9 362.6h0.75M69.4 353.0h0.75M72.6 361.4h0.75M72.0 353.4h0.75M72.3 357.4h0.75M62.2 361.4h0.75M76.4 360.1h0.75M77.1 367.2h0.75M68.2 366.0h0.75M78.4 361.5h0.75M72.0 355.1h0.75M75.6 358.8h0.75M77.0 362.3h0.75M82.7 352.3h0.75M74.4 363.6h0.75M70.2 355.7h0.75M71.0 360.1h0.75M73.0 361.5h0.75M72.4 360.0h0.75M73.5 358.9h0.75M60.9 361.2h0.75M66.3 369.3h0.75M60.2 358.0h0.75M72.1 362.6h0.75M71.3 355.8h0.75M69.6 359.6h0.75M62.7 360.9h0.75M75.8 358.2h0.75M65.7 359.8h0.75M70.3 360.5h0.75M68.4 353.8h0.75M75.4 355.5h0.75M61.0 360.3h0.75M79.7 361.7h0.75M74.2 356.5h0.75M63.2 355.1h0.75M68.9 358.3h0.75M71.6 365.0h0.75M74.3 356.6h0.75M73.5 355.1h0.75M76.8 356.2h0.75M61.6 363.5h0.75M74.6 356.2h0.75M76.3 362.3h0.75M65.7 358.5h0.75M64.5 357.9h0.75M65.5 356.4h0.75M71.6 359.2h0.75M72.9 358.0h0.75M79.8 365.3h0.75M79.9 356.4h0.75M69.3 359.5h0.75M67.9 354.9h0.75M62.0 361.2h0.75M63.1 360.0h0.75M73.1 357.8h0.75M77.9 354.1h0.75M68.2 360.0h0.75M70.8 351.9h0.75M75.9 356.9h0.75M72.8 357.1h0.75M74.3 361.8h0.75M72.6 361.0h0.75M77.6 362.4h0.75M55.1 355.2h0.75M68.7 358.6h0.75M65.5 359.3h0.75" stroke="#2c2088" stroke-width="0.75" opacity="0.9"/>
<path d="M83.1 355.9h0.75M77.8 360.0h0.75M74.8 358.3h0.75M77.0 355.8h0.75M79.5 359.9h0.75M81.9 356.3h0.75M75.5 363.5h0.75M76.0 359.6h0.75M81.1 359.9h0.75M75.6 361.2h0.75M76.6 362.2h0.75M81.1 354.4h0.75M74.2 361.6h0.75M82.5 357.8h0.75M76.2 355.8h0.75M78.2 361.0h0.75M76.6 354.2h0.75M73.6 358.6h0.75M70.9 357.2h0.75M71.0 357.0h0.75M74.8 362.3h0.75M74.2 358.7h0.75M78.9 363.9h0.75M68.7 358.9h0.75M71.8 365.3h0.75M71.7 353.0h0.75M72.4 354.8h0.75M77.6 363.0h0.75M72.6 362.2h0.75M77.5 362.0h0.75M68.5 359.1h0.75M75.9 359.7h0.75M78.1 360.4h0.75M77.1 362.2h0.75M79.2 356.0h0.75M83.2 359.9h0.75M77.8 361.6h0.75M76.4 363.4h0.75M76.1 357.4h0.75M76.8 359.2h0.75M74.1 359.9h0.75M80.2 359.3h0.75M83.0 360.6h0.75M80.0 359.9h0.75M71.5 361.2h0.75M73.5 357.1h0.75M76.7 360.4h0.75M71.3 355.0h0.75M75.7 359.7h0.75M78.8 354.0h0.75M77.2 352.0h0.75M80.1 355.9h0.75M74.3 358.7h0.75M80.5 354.7h0.75M76.6 358.3h0.75M75.6 356.6h0.75M79.0 356.5h0.75M73.1 358.3h0.75M80.7 359.1h0.75M78.5 364.4h0.75M76.6 352.5h0.75M80.9 365.5h0.75M76.5 360.2h0.75M83.2 364.7h0.75M77.9 353.0h0.75M72.1 358.9h0.75M79.7 359.3h0.75M81.7 353.4h0.75M73.5 357.1h0.75M72.3 355.9h0.75M74.6 360.4h0.75M83.2 359.9h0.75M80.6 356.7h0.75M77.8 354.1h0.75M79.2 358.8h0.75M78.5 360.4h0.75M80.1 353.5h0.75M74.5 360.6h0.75M81.3 363.4h0.75M72.6 358.1h0.75M72.6 364.8h0.75" stroke="#2c2088" stroke-width="0.75" opacity="0.9"/>
<path d="M58.6 365.7h0.75M22.5 359.4h0.75M66.2 353.0h0.75M52.0 351.5h0.75M77.4 359.0h0.75M33.1 353.1h0.75M59.1 366.6h0.75M72.6 354.2h0.75M55.8 351.5h0.75M32.6 353.2h0.75M42.1 366.4h0.75M31.0 364.4h0.75M30.0 364.8h0.75M62.1 365.9h0.75M72.9 363.9h0.75M62.5 365.7h0.75M26.9 362.9h0.75M73.8 362.8h0.75M75.3 360.8h0.75M29.7 363.3h0.75M53.4 367.1h0.75M72.4 364.5h0.75M71.5 354.0h0.75M55.3 366.8h0.75M54.5 366.9h0.75M42.7 366.0h0.75M78.8 358.3h0.75M27.8 362.4h0.75M43.0 366.5h0.75M46.1 365.9h0.75M29.9 353.6h0.75M74.2 361.5h0.75M43.4 366.3h0.75M76.4 359.2h0.75M28.4 354.3h0.75M27.7 362.2h0.75M57.3 366.7h0.75M63.5 352.3h0.75M67.8 364.6h0.75M28.6 354.8h0.75M47.8 366.7h0.75M46.4 366.7h0.75M77.2 357.4h0.75M49.7 366.8h0.75M22.6 356.2h0.75M77.4 359.3h0.75M71.9 352.6h0.75M24.2 361.0h0.75M25.4 360.7h0.75M65.7 352.2h0.75M76.9 356.9h0.75M61.2 365.7h0.75M36.6 352.5h0.75M33.9 352.2h0.75M77.7 356.3h0.75M78.5 359.7h0.75M32.4 365.6h0.75M64.2 365.2h0.75M51.1 366.2h0.75M28.4 354.0h0.75M78.2 357.7h0.75M81.8 359.8h0.75M38.9 366.8h0.75M76.2 356.7h0.75M75.0 362.6h0.75M38.0 351.7h0.75M27.9 363.3h0.75M76.8 357.4h0.75M64.9 367.2h0.75M22.4 359.7h0.75M67.4 365.0h0.75M55.7 366.3h0.75M72.0 364.5h0.75M72.1 353.1h0.75M68.8 364.1h0.75M52.8 366.3h0.75M56.9 366.0h0.75M74.0 363.7h0.75M28.0 352.4h0.75M23.8 362.6h0.75M70.3 353.3h0.75M28.9 364.3h0.75M47.3 351.5h0.75M41.8 351.8h0.75M75.5 360.9h0.75M50.3 351.5h0.75M44.1 368.3h0.75M53.8 351.7h0.75M43.2 366.0h0.75M22.1 357.2h0.75M42.3 365.9h0.75M76.8 357.2h0.75M67.0 353.3h0.75M40.0 365.5h0.75M45.8 365.8h0.75M74.7 361.5h0.75M49.0 366.6h0.75M65.6 365.5h0.75M27.1 362.1h0.75M23.6 360.4h0.75M48.1 351.6h0.75M41.8 366.4h0.75M26.7 362.0h0.75M32.0 364.5h0.75M37.1 365.0h0.75M63.1 351.6h0.75M58.6 366.2h0.75M68.4 364.6h0.75M26.4 355.2h0.75M40.4 367.2h0.75M73.7 353.7h0.75M76.6 361.3h0.75M67.6 352.0h0.75M22.7 356.8h0.75M71.3 353.8h0.75M73.8 362.4h0.75M74.7 362.4h0.75M50.2 366.6h0.75M69.1 364.2h0.75M55.9 367.0h0.75M32.1 353.7h0.75M47.8 366.4h0.75M34.4 365.7h0.75M25.2 356.2h0.75M37.8 351.5h0.75M24.7 359.7h0.75M38.8 365.8h0.75M77.2 357.3h0.75M76.8 358.3h0.75M74.5 356.3h0.75M76.1 358.8h0.75M71.4 353.1h0.75M69.8 353.6h0.75M76.6 360.1h0.75M50.7 351.4h0.75M60.8 366.1h0.75M49.5 366.2h0.75M77.4 357.2h0.75M35.9 352.7h0.75M24.4 360.6h0.75M23.4 360.1h0.75M63.8 365.2h0.75M64.5 352.2h0.75M49.7 366.6h0.75M29.1 363.5h0.75M41.4 351.9h0.75" stroke="#2c2088" stroke-width="0.75" opacity="0.9"/>
<ellipse cx="44.40" cy="359.40" rx="10.1" ry="4.8" fill="url(#lg)" stroke="#8a80d0" stroke-width="0.4"/>
<path d="M29.4,351.3 C29.4,339 36.9,334.6 44.4,334.6 C52.9,334.6 55.4,339 55.4,344 L55.4,351.3 Z" fill="url(#rg)"/>
<path d="M27.5 348.0h0.75M28.6 345.8h0.75M28.9 345.8h0.75M35.3 336.0h0.75M42.2 333.7h0.75M52.2 335.8h0.75M49.2 334.3h0.75M54.1 336.6h0.75M28.3 348.2h0.75M53.6 337.0h0.75M36.4 334.8h0.75M52.6 336.5h0.75M59.0 342.8h0.75M54.2 337.6h0.75M30.5 342.1h0.75M27.8 348.3h0.75M58.6 339.3h0.75M60.1 344.2h0.75M33.3 337.6h0.75M49.9 334.7h0.75M54.4 337.0h0.75M57.1 340.4h0.75M59.3 340.2h0.75M28.4 345.8h0.75M29.3 344.5h0.75M28.3 348.2h0.75M47.2 333.1h0.75M46.5 334.2h0.75M53.8 336.6h0.75M51.2 335.3h0.75M56.1 337.5h0.75M61.9 348.0h0.75M45.1 333.0h0.75M50.3 334.0h0.75M30.3 341.6h0.75M48.7 333.2h0.75M53.8 337.4h0.75M54.5 337.9h0.75M59.7 343.9h0.75M29.1 341.4h0.75M31.8 340.1h0.75M60.6 345.2h0.75M57.9 338.6h0.75M47.5 334.2h0.75M54.0 335.6h0.75M28.3 349.3h0.75M51.0 335.4h0.75M39.1 334.8h0.75M36.1 334.6h0.75M49.2 333.9h0.75M37.6 334.9h0.75M48.6 333.3h0.75M39.8 334.6h0.75M53.2 336.7h0.75M51.7 335.0h0.75M60.0 346.2h0.75M33.5 338.4h0.75M29.8 343.4h0.75M28.9 346.3h0.75M49.1 334.6h0.75M55.9 337.8h0.75M41.4 334.4h0.75M36.1 336.0h0.75M60.1 343.1h0.75M34.0 338.0h0.75M56.5 337.2h0.75M31.4 337.2h0.75M40.7 332.5h0.75M56.9 338.9h0.75M34.1 336.8h0.75M60.6 349.5h0.75M38.2 334.2h0.75M59.9 344.5h0.75M45.8 333.5h0.75M47.3 334.3h0.75M45.3 334.0h0.75M49.4 333.9h0.75M28.6 346.8h0.75M57.6 339.8h0.75M29.8 344.1h0.75M56.5 339.8h0.75M41.2 334.2h0.75M61.5 348.9h0.75M47.1 333.2h0.75M60.7 343.0h0.75M50.5 334.6h0.75M54.4 337.6h0.75M55.2 336.5h0.75M59.7 345.5h0.75M29.3 345.5h0.75M61.5 349.6h0.75M40.9 333.7h0.75M42.0 332.4h0.75M57.2 340.9h0.75M56.8 339.8h0.75M53.0 336.0h0.75M39.2 334.5h0.75M55.0 337.9h0.75M38.9 334.1h0.75M58.1 340.6h0.75M51.9 335.2h0.75" stroke="#4a1018" stroke-width="0.75" opacity="0.9"/>
<rect x="20.4" y="311.3" width="64.2" height="63.6" stroke="#3a3a3a" stroke-width="0.8" fill="none"/>
<line x1="19.30" y1="319.25" x2="20.80" y2="319.25" stroke="#333" stroke-width="0.7"/>
<line x1="19.30" y1="327.20" x2="20.80" y2="327.20" stroke="#333" stroke-width="0.7"/>
<line x1="19.30" y1="335.15" x2="20.80" y2="335.15" stroke="#333" stroke-width="0.7"/>
<line x1="19.30" y1="343.10" x2="20.80" y2="343.10" stroke="#333" stroke-width="0.7"/>
<line x1="19.30" y1="351.05" x2="20.80" y2="351.05" stroke="#333" stroke-width="0.7"/>
<line x1="19.30" y1="359.00" x2="20.80" y2="359.00" stroke="#333" stroke-width="0.7"/>
<line x1="19.30" y1="366.95" x2="20.80" y2="366.95" stroke="#333" stroke-width="0.7"/>
<line x1="28.42" y1="376.10" x2="28.42" y2="374.50" stroke="#333" stroke-width="0.7"/>
<line x1="36.45" y1="376.10" x2="36.45" y2="374.50" stroke="#333" stroke-width="0.7"/>
<line x1="44.48" y1="376.10" x2="44.48" y2="374.50" stroke="#333" stroke-width="0.7"/>
<line x1="52.50" y1="376.10" x2="52.50" y2="374.50" stroke="#333" stroke-width="0.7"/>
<line x1="60.52" y1="376.10" x2="60.52" y2="374.50" stroke="#333" stroke-width="0.7"/>
<line x1="68.55" y1="376.10" x2="68.55" y2="374.50" stroke="#333" stroke-width="0.7"/>
<line x1="76.58" y1="376.10" x2="76.58" y2="374.50" stroke="#333" stroke-width="0.7"/>
<line x1="54.80" y1="311.30" x2="54.80" y2="374.90" stroke="#333" stroke-width="0.85"/>
<text x="52.6" y="306.8" font-size="8.3" fill="#231f20" stroke="#231f20" stroke-width="0.12" text-anchor="middle">D0</text>
<text x="80.4" y="320.6" font-size="7.2" fill="#c8324a" stroke="#c8324a" stroke-width="0.12" text-anchor="end" textLength="12.5" lengthAdjust="spacingAndGlyphs">4.22</text>
<text x="80.4" y="328.6" font-size="7.2" fill="#3c6a9c" stroke="#3c6a9c" stroke-width="0.12" text-anchor="end" textLength="12.5" lengthAdjust="spacingAndGlyphs">1.03</text>
<path d="M144.4 345.8h0.65M151.8 345.5h0.65M136.6 343.7h0.65M134.4 338.6h0.65M139.2 345.7h0.65M153.5 342.3h0.65M152.2 336.6h0.65M138.4 347.6h0.65M153.2 337.7h0.65M139.4 343.7h0.65M146.0 338.2h0.65M154.1 337.5h0.65M134.0 331.3h0.65M148.9 343.2h0.65M141.7 336.0h0.65M147.4 348.8h0.65M126.1 335.7h0.65M141.3 333.6h0.65M136.5 345.6h0.65M138.4 341.4h0.65M133.9 349.0h0.65M145.1 343.0h0.65M144.7 331.7h0.65M154.2 350.3h0.65M131.0 337.0h0.65M135.8 338.8h0.65M149.0 335.3h0.65M140.8 330.9h0.65M153.0 342.7h0.65M114.4 344.2h0.65M133.2 349.3h0.65M122.3 339.8h0.65M148.3 334.0h0.65M154.2 337.3h0.65M127.6 338.5h0.65M142.5 339.9h0.65M151.5 348.6h0.65M158.1 342.2h0.65M158.4 345.1h0.65M142.7 345.8h0.65M133.1 339.0h0.65M155.2 337.6h0.65M151.7 350.3h0.65M145.0 346.2h0.65M138.3 350.1h0.65M136.0 339.7h0.65M150.9 340.7h0.65M156.0 340.5h0.65M129.9 347.0h0.65M155.9 344.1h0.65M142.6 345.7h0.65M152.3 341.6h0.65M157.7 346.7h0.65M146.9 346.8h0.65M142.0 334.5h0.65M138.7 333.8h0.65M151.3 346.6h0.65M151.5 340.6h0.65M128.4 347.6h0.65M146.0 332.3h0.65M138.9 339.7h0.65M145.2 328.1h0.65M154.5 337.6h0.65M147.5 333.9h0.65M123.8 344.1h0.65M150.7 338.2h0.65M153.0 337.5h0.65M154.2 338.9h0.65M125.6 336.0h0.65M146.1 336.5h0.65M146.8 343.9h0.65M144.5 337.6h0.65M145.1 343.9h0.65M156.6 326.5h0.65M138.3 337.2h0.65M150.1 339.9h0.65M141.5 338.5h0.65M138.3 336.6h0.65M130.9 333.6h0.65M152.6 335.6h0.65M138.9 325.8h0.65M147.8 345.9h0.65M143.6 342.2h0.65M147.9 339.8h0.65M150.5 339.4h0.65M140.6 341.2h0.65M132.1 347.6h0.65M138.1 337.6h0.65M149.5 348.7h0.65M132.5 337.5h0.65M142.2 341.0h0.65M144.3 339.4h0.65M128.7 335.3h0.65M156.6 348.3h0.65M146.1 340.7h0.65M140.3 345.8h0.65M140.3 349.1h0.65M131.9 342.5h0.65M136.8 347.3h0.65M149.3 345.6h0.65M142.0 335.4h0.65M146.1 346.1h0.65M160.2 336.0h0.65M138.9 340.0h0.65M138.9 332.0h0.65M145.9 340.6h0.65M153.9 347.4h0.65M142.6 345.3h0.65M129.2 342.2h0.65M136.4 348.2h0.65M158.6 337.8h0.65M155.7 342.7h0.65M146.3 348.3h0.65M144.2 339.4h0.65M148.3 342.6h0.65M139.1 340.6h0.65M148.2 337.8h0.65M139.7 331.2h0.65M147.6 341.8h0.65M143.0 348.7h0.65M136.8 347.0h0.65M155.2 329.8h0.65M141.7 340.4h0.65M139.8 338.8h0.65M143.6 339.8h0.65M144.0 340.2h0.65M150.3 331.4h0.65M144.9 338.5h0.65M141.8 342.2h0.65M145.1 346.9h0.65M137.1 337.2h0.65M130.1 338.6h0.65M152.4 337.7h0.65M141.7 346.0h0.65M151.2 342.9h0.65M147.8 350.3h0.65M135.8 344.8h0.65" stroke="#5a1020" stroke-width="0.65" opacity="0.8"/>
<g filter="url(#spkn)"><path d="M102.3,350.8 L137.3,350.8 Q149.3,350.8 149.3,358.8 Q149.3,366 137.3,366.6 L111.3,366.6 Q101.3,366 101.3,358.8 Z"/></g>
<path d="M159.5 354.9h0.75M138.7 351.7h0.75M145.3 360.6h0.75M151.7 357.0h0.75M147.6 359.4h0.75M144.4 358.4h0.75M149.2 351.7h0.75M155.1 359.5h0.75M147.8 356.8h0.75M147.7 364.0h0.75M147.7 354.7h0.75M143.9 363.1h0.75M149.4 357.7h0.75M151.9 356.1h0.75M151.4 355.2h0.75M145.7 366.1h0.75M156.7 357.7h0.75M144.9 358.0h0.75M152.0 358.4h0.75M142.6 361.3h0.75M145.2 355.5h0.75M149.6 361.4h0.75M153.3 361.4h0.75M147.1 359.5h0.75M145.9 354.7h0.75M153.3 358.9h0.75M147.2 356.8h0.75M152.6 360.3h0.75M135.9 363.2h0.75M156.3 358.1h0.75M153.1 361.9h0.75M156.5 361.6h0.75M150.5 369.7h0.75M154.0 356.8h0.75M158.6 356.0h0.75M158.2 363.7h0.75M158.5 359.1h0.75M154.9 357.8h0.75M138.8 356.2h0.75M142.2 360.0h0.75M154.2 359.5h0.75M152.3 359.2h0.75M155.9 360.8h0.75M140.9 359.6h0.75M154.4 363.3h0.75M157.2 352.1h0.75M142.9 357.0h0.75M141.8 357.0h0.75M151.4 363.7h0.75M149.5 355.9h0.75M156.4 358.4h0.75M153.4 358.1h0.75M152.4 355.3h0.75M143.8 362.4h0.75M146.2 355.1h0.75M149.8 357.5h0.75M144.5 354.9h0.75M154.6 353.6h0.75M158.7 358.0h0.75M146.3 360.5h0.75M157.7 357.3h0.75M143.2 358.5h0.75M157.2 360.8h0.75M154.4 359.9h0.75M147.8 355.5h0.75M152.9 362.5h0.75M153.1 357.2h0.75M141.0 361.3h0.75M147.4 359.3h0.75M145.8 358.4h0.75M148.6 363.4h0.75M135.1 358.4h0.75M150.9 360.7h0.75M156.8 366.1h0.75M142.9 360.3h0.75M145.8 358.5h0.75M143.1 363.7h0.75M152.9 357.3h0.75M155.5 364.6h0.75M143.7 360.4h0.75M154.5 358.1h0.75M151.2 360.9h0.75M150.4 362.2h0.75M158.6 361.1h0.75M148.8 354.6h0.75M156.5 359.1h0.75M147.6 357.4h0.75M146.7 364.6h0.75M154.5 359.2h0.75M155.6 361.3h0.75M157.2 360.4h0.75M159.7 363.2h0.75M144.3 363.9h0.75M140.1 360.9h0.75M149.8 360.9h0.75M150.9 359.9h0.75M138.8 361.2h0.75M154.0 357.4h0.75M141.4 366.2h0.75M146.7 362.4h0.75M145.7 358.9h0.75M153.1 355.3h0.75M147.8 363.5h0.75M157.2 360.8h0.75M153.4 366.8h0.75M151.0 357.0h0.75M152.9 362.5h0.75M150.3 361.0h0.75M153.9 360.1h0.75M154.4 362.8h0.75M154.0 362.8h0.75M155.7 360.3h0.75M147.3 361.5h0.75M146.3 357.9h0.75M157.0 364.1h0.75M145.1 356.8h0.75M150.1 355.6h0.75M145.8 364.1h0.75M155.1 353.8h0.75M145.7 362.7h0.75M144.1 355.4h0.75M156.9 356.8h0.75M149.4 364.4h0.75M150.3 364.2h0.75M150.6 355.6h0.75M144.7 355.1h0.75M154.2 351.8h0.75M139.7 358.2h0.75M152.9 356.3h0.75M144.4 357.0h0.75M148.6 356.8h0.75M138.7 356.5h0.75M148.5 358.3h0.75M159.2 358.8h0.75M145.1 358.0h0.75M151.8 363.7h0.75M149.8 361.8h0.75M146.7 358.6h0.75M149.2 359.6h0.75M155.9 366.0h0.75M159.7 363.3h0.75M151.5 352.9h0.75M148.3 361.0h0.75M148.8 360.5h0.75M156.0 357.5h0.75M156.4 357.7h0.75M151.9 354.1h0.75M150.0 358.7h0.75M156.3 363.9h0.75M141.7 358.9h0.75M153.1 361.5h0.75M149.0 358.8h0.75M151.8 355.3h0.75M143.9 359.1h0.75M141.5 356.5h0.75M145.1 365.4h0.75M155.6 360.8h0.75M147.0 356.0h0.75M139.4 365.0h0.75M152.5 356.9h0.75M151.5 352.2h0.75M151.9 361.0h0.75M146.4 358.6h0.75M144.5 359.7h0.75M149.8 358.5h0.75M147.6 354.9h0.75M147.2 361.7h0.75M156.2 357.4h0.75M157.3 363.8h0.75M141.2 359.7h0.75M160.1 362.1h0.75M151.4 354.7h0.75M150.6 355.4h0.75M151.9 364.7h0.75M150.7 356.8h0.75M144.9 360.5h0.75M144.2 360.1h0.75M151.9 364.1h0.75M151.5 360.5h0.75M149.9 359.2h0.75M138.4 361.6h0.75M153.0 366.1h0.75M146.9 353.6h0.75M151.3 362.3h0.75M145.3 353.0h0.75M147.6 353.2h0.75M146.7 356.5h0.75M145.7 360.8h0.75M149.1 360.0h0.75M145.8 351.4h0.75M149.6 357.5h0.75M140.6 358.9h0.75M156.3 359.6h0.75M156.8 358.1h0.75M147.8 360.9h0.75M146.7 356.7h0.75M137.0 360.3h0.75M141.9 363.4h0.75M153.2 355.1h0.75M151.3 358.3h0.75M143.3 351.7h0.75M156.1 357.8h0.75M136.8 359.2h0.75M156.6 351.5h0.75M154.7 356.3h0.75M150.9 360.9h0.75M146.3 360.3h0.75M153.3 356.5h0.75M154.9 358.1h0.75M145.2 362.3h0.75M135.7 365.1h0.75M153.3 355.5h0.75M148.1 366.5h0.75M139.0 364.5h0.75M157.8 362.8h0.75M150.0 359.6h0.75M151.4 357.6h0.75M147.1 361.5h0.75M155.0 353.7h0.75M154.5 363.8h0.75M152.6 363.8h0.75M139.7 356.3h0.75M147.9 364.3h0.75M143.0 355.2h0.75M150.7 361.9h0.75M147.3 362.0h0.75M150.3 356.0h0.75M159.4 359.9h0.75M142.9 357.4h0.75M146.3 361.7h0.75M136.2 358.6h0.75M146.3 358.9h0.75M139.3 364.2h0.75M143.9 359.5h0.75M148.0 356.8h0.75M153.9 355.5h0.75M148.9 359.4h0.75M158.1 362.8h0.75M144.1 361.3h0.75M144.9 362.5h0.75M154.8 356.8h0.75M137.5 355.1h0.75M153.6 360.8h0.75M145.9 360.3h0.75M152.9 352.6h0.75M149.4 360.3h0.75M145.7 357.5h0.75M153.5 353.0h0.75M140.4 362.9h0.75M155.2 358.9h0.75M145.1 355.0h0.75M138.8 362.9h0.75M154.6 364.0h0.75M154.8 358.9h0.75M153.8 359.6h0.75M149.9 363.1h0.75M141.6 362.6h0.75M152.5 357.1h0.75M154.7 356.4h0.75M149.1 360.9h0.75M143.9 359.7h0.75M144.2 363.6h0.75M142.0 351.4h0.75M156.7 357.7h0.75M146.2 358.4h0.75M148.1 359.4h0.75M138.2 356.9h0.75M142.9 352.4h0.75M155.5 360.6h0.75M140.7 364.4h0.75M149.5 362.3h0.75M146.9 357.3h0.75M150.0 360.7h0.75M143.8 363.4h0.75M137.5 363.3h0.75M142.4 356.2h0.75M138.7 358.6h0.75M147.7 363.3h0.75M154.2 363.4h0.75M155.6 359.2h0.75M151.9 359.6h0.75M148.8 358.3h0.75M156.4 358.4h0.75M146.4 360.4h0.75M153.0 351.3h0.75M140.8 359.0h0.75M149.1 362.5h0.75M155.6 362.3h0.75M150.8 357.6h0.75M153.4 362.5h0.75M145.4 359.4h0.75M143.9 366.3h0.75M148.3 364.0h0.75M150.6 357.8h0.75M139.9 360.4h0.75M146.3 361.1h0.75M142.2 362.1h0.75M148.0 359.4h0.75M158.4 360.7h0.75" stroke="#2c2088" stroke-width="0.75" opacity="0.9"/>
<path d="M153.8 353.2h0.75M154.6 361.2h0.75M153.2 356.2h0.75M156.3 361.7h0.75M157.6 361.7h0.75M148.3 357.5h0.75M156.7 359.1h0.75M153.6 365.0h0.75M155.1 358.9h0.75M157.6 363.4h0.75M152.6 357.5h0.75M158.2 352.5h0.75M158.6 362.4h0.75M159.5 357.5h0.75M157.9 361.0h0.75M154.6 359.9h0.75M160.1 363.2h0.75M158.2 359.3h0.75M154.2 353.0h0.75M156.3 355.1h0.75M158.2 358.2h0.75M150.9 363.6h0.75M157.1 355.4h0.75M152.4 357.2h0.75M156.2 357.2h0.75M156.4 362.9h0.75M150.4 358.0h0.75M152.8 362.0h0.75M153.2 362.8h0.75M155.3 363.5h0.75M157.3 364.8h0.75M160.0 359.9h0.75M160.0 359.8h0.75M156.8 360.7h0.75M152.8 355.5h0.75M153.9 359.3h0.75M157.6 357.7h0.75M154.8 357.6h0.75M154.3 357.7h0.75M151.0 354.3h0.75M155.7 360.8h0.75M151.0 359.5h0.75M159.8 354.8h0.75M154.8 355.4h0.75M154.6 364.3h0.75M159.3 366.1h0.75M154.9 352.1h0.75M157.0 362.4h0.75M153.3 359.4h0.75M158.0 359.8h0.75M152.1 360.2h0.75M159.2 354.6h0.75M151.1 358.4h0.75M152.0 362.0h0.75M159.4 353.7h0.75M157.4 360.8h0.75M159.1 354.7h0.75M152.9 352.2h0.75M153.8 364.0h0.75M157.5 356.8h0.75M156.7 354.2h0.75M157.9 362.2h0.75M147.4 361.2h0.75M151.8 356.4h0.75M156.4 358.1h0.75M152.4 358.4h0.75M153.9 361.3h0.75M158.6 356.6h0.75M151.8 359.6h0.75M154.5 359.5h0.75M154.4 355.4h0.75M157.7 355.9h0.75" stroke="#2c2088" stroke-width="0.75" opacity="0.9"/>
<path d="M135.6 351.4h0.75M101.9 356.3h0.75M146.7 353.1h0.75M126.7 366.6h0.75M153.6 361.8h0.75M111.3 352.3h0.75M107.7 353.7h0.75M100.9 359.0h0.75M143.9 353.2h0.75M153.9 357.5h0.75M100.4 359.5h0.75M119.7 367.3h0.75M153.0 356.7h0.75M152.4 361.8h0.75M153.4 357.4h0.75M156.5 361.0h0.75M105.7 352.6h0.75M101.0 357.9h0.75M107.2 365.7h0.75M144.0 353.3h0.75M144.5 352.6h0.75M116.6 366.3h0.75M103.3 354.7h0.75M145.9 352.4h0.75M113.5 351.7h0.75M123.4 367.0h0.75M112.7 365.3h0.75M116.5 366.6h0.75M103.6 352.6h0.75M153.3 362.2h0.75M105.2 362.5h0.75M135.6 352.0h0.75M134.5 366.4h0.75M101.7 360.2h0.75M107.7 363.5h0.75M155.0 363.0h0.75M132.2 367.9h0.75M150.2 362.7h0.75M113.5 365.8h0.75M103.7 354.4h0.75M143.1 353.0h0.75M101.5 362.9h0.75M148.2 364.9h0.75M125.4 367.0h0.75M149.0 362.7h0.75M140.0 352.2h0.75M107.4 363.4h0.75M149.7 353.9h0.75M125.0 351.4h0.75M118.0 366.3h0.75M124.7 366.1h0.75M134.8 366.8h0.75M151.8 355.5h0.75M106.5 365.2h0.75M133.2 366.3h0.75M153.1 356.5h0.75M108.8 353.3h0.75M100.6 360.2h0.75M112.7 365.8h0.75M103.9 362.8h0.75M155.1 354.8h0.75M146.2 353.6h0.75M107.0 363.2h0.75M100.4 357.9h0.75M98.3 362.0h0.75M148.2 351.8h0.75M149.4 355.0h0.75M139.1 366.0h0.75M105.2 365.4h0.75M99.8 363.0h0.75M124.2 351.5h0.75M129.1 366.4h0.75M147.1 364.8h0.75M156.0 359.6h0.75M124.7 351.6h0.75M124.8 351.6h0.75M159.4 356.4h0.75M101.1 364.5h0.75M107.6 352.4h0.75M152.7 356.9h0.75M132.1 367.1h0.75M103.9 355.5h0.75M152.8 363.1h0.75M154.0 361.6h0.75M156.0 357.4h0.75M151.6 355.1h0.75M101.2 362.8h0.75M145.1 364.7h0.75M147.9 354.0h0.75M102.7 354.0h0.75M152.8 361.5h0.75M131.7 366.4h0.75M150.7 353.9h0.75M130.4 367.1h0.75M111.9 366.0h0.75M151.8 355.7h0.75M156.9 355.7h0.75M99.1 358.1h0.75M156.3 358.8h0.75M110.0 353.3h0.75M143.7 365.1h0.75M99.7 362.9h0.75M103.1 355.0h0.75M101.8 361.2h0.75M127.1 366.1h0.75M104.3 354.8h0.75M101.5 360.7h0.75M127.7 367.6h0.75M115.8 365.9h0.75M153.5 360.0h0.75M101.2 356.6h0.75M147.1 363.5h0.75M133.1 351.8h0.75M108.0 353.5h0.75M157.0 357.9h0.75M107.6 353.8h0.75M101.1 361.5h0.75M137.5 366.3h0.75M129.3 367.3h0.75M145.8 365.0h0.75M99.9 358.5h0.75M144.6 353.4h0.75M136.6 351.9h0.75M155.3 357.2h0.75M113.0 365.0h0.75M148.2 364.7h0.75M99.2 356.0h0.75M156.2 359.0h0.75M104.1 355.6h0.75M100.0 358.2h0.75M140.8 365.7h0.75M101.8 355.8h0.75M154.1 357.3h0.75M128.7 366.3h0.75M116.1 365.8h0.75M113.4 352.3h0.75M99.6 359.1h0.75M107.1 352.5h0.75M143.3 351.3h0.75M129.3 367.9h0.75M142.4 352.5h0.75M147.9 363.9h0.75M102.0 360.1h0.75M119.3 367.2h0.75M133.1 366.4h0.75M103.7 353.5h0.75M108.4 353.2h0.75" stroke="#2c2088" stroke-width="0.75" opacity="0.9"/>
<ellipse cx="120.60" cy="359.50" rx="10.2" ry="5.0" fill="url(#lg)" stroke="#8a80d0" stroke-width="0.4"/>
<ellipse cx="142.80" cy="357.60" rx="10.3" ry="4.6" fill="url(#lg)" stroke="#8a80d0" stroke-width="0.4"/>
<path d="M106.3,351.3 C106.3,339 113.8,334.6 121.3,334.6 C129.8,334.6 132.3,339 132.3,344 L132.3,351.3 Z" fill="url(#rg)"/>
<path d="M131.3 336.0h0.75M107.7 341.2h0.75M131.1 337.2h0.75M118.5 334.3h0.75M109.6 338.6h0.75M104.6 347.4h0.75M117.7 334.4h0.75M135.0 341.3h0.75M106.4 343.6h0.75M105.5 342.0h0.75M121.4 333.4h0.75M108.4 339.8h0.75M104.1 349.3h0.75M128.1 334.3h0.75M119.0 333.9h0.75M107.4 341.1h0.75M137.3 349.7h0.75M106.7 341.6h0.75M135.7 343.1h0.75M111.1 337.8h0.75M105.2 344.1h0.75M138.3 349.5h0.75M118.4 333.4h0.75M134.0 338.5h0.75M125.4 333.5h0.75M112.1 337.0h0.75M105.3 348.9h0.75M137.0 346.5h0.75M124.8 334.3h0.75M136.5 342.9h0.75M109.1 339.9h0.75M136.2 344.0h0.75M136.3 342.5h0.75M137.2 347.9h0.75M109.5 339.5h0.75M119.7 334.1h0.75M138.5 344.9h0.75M105.2 346.7h0.75M104.8 348.8h0.75M137.5 348.0h0.75M104.2 347.5h0.75M130.1 335.6h0.75M132.4 338.6h0.75M121.9 331.9h0.75M108.2 339.9h0.75M127.5 335.1h0.75M122.4 332.6h0.75M120.4 332.2h0.75M137.3 347.1h0.75M118.8 333.4h0.75M105.7 345.7h0.75M106.7 342.2h0.75M104.3 348.0h0.75M135.8 343.7h0.75M136.7 345.4h0.75M130.2 336.9h0.75M109.0 340.2h0.75M105.3 349.3h0.75M107.7 341.3h0.75M122.4 334.1h0.75M103.9 347.9h0.75M109.1 337.4h0.75M104.1 348.9h0.75M117.4 334.1h0.75M108.6 339.9h0.75M107.4 341.7h0.75M126.8 334.7h0.75M113.3 336.2h0.75M106.2 341.7h0.75M137.5 349.1h0.75M129.9 335.8h0.75M114.3 334.8h0.75M137.7 348.2h0.75M105.2 346.3h0.75M107.1 340.4h0.75M110.4 337.5h0.75M105.8 346.5h0.75M117.7 333.9h0.75M134.9 339.8h0.75M116.2 334.4h0.75M132.1 337.8h0.75M120.8 333.4h0.75M116.1 334.7h0.75M115.1 334.8h0.75M126.9 334.6h0.75M108.4 339.2h0.75M128.0 335.3h0.75M107.3 342.3h0.75M130.5 336.5h0.75M130.5 336.3h0.75M117.8 334.0h0.75M118.2 332.6h0.75M127.8 334.4h0.75M105.4 345.6h0.75M116.4 334.8h0.75M110.8 336.2h0.75M122.4 334.1h0.75M136.8 343.0h0.75M133.6 339.7h0.75M112.8 336.3h0.75M115.3 334.8h0.75M118.4 332.6h0.75M130.2 335.9h0.75M114.4 334.8h0.75M127.4 334.3h0.75M135.5 341.6h0.75M123.7 334.2h0.75M134.3 339.4h0.75M130.6 336.1h0.75M137.1 347.4h0.75M108.2 339.5h0.75M106.1 345.1h0.75M136.1 343.7h0.75M121.6 333.5h0.75" stroke="#4a1018" stroke-width="0.75" opacity="0.9"/>
<rect x="97.3" y="311.3" width="64.2" height="63.6" stroke="#3a3a3a" stroke-width="0.8" fill="none"/>
<line x1="96.20" y1="319.25" x2="97.70" y2="319.25" stroke="#333" stroke-width="0.7"/>
<line x1="96.20" y1="327.20" x2="97.70" y2="327.20" stroke="#333" stroke-width="0.7"/>
<line x1="96.20" y1="335.15" x2="97.70" y2="335.15" stroke="#333" stroke-width="0.7"/>
<line x1="96.20" y1="343.10" x2="97.70" y2="343.10" stroke="#333" stroke-width="0.7"/>
<line x1="96.20" y1="351.05" x2="97.70" y2="351.05" stroke="#333" stroke-width="0.7"/>
<line x1="96.20" y1="359.00" x2="97.70" y2="359.00" stroke="#333" stroke-width="0.7"/>
<line x1="96.20" y1="366.95" x2="97.70" y2="366.95" stroke="#333" stroke-width="0.7"/>
<line x1="105.33" y1="376.10" x2="105.33" y2="374.50" stroke="#333" stroke-width="0.7"/>
<line x1="113.35" y1="376.10" x2="113.35" y2="374.50" stroke="#333" stroke-width="0.7"/>
<line x1="121.38" y1="376.10" x2="121.38" y2="374.50" stroke="#333" stroke-width="0.7"/>
<line x1="129.40" y1="376.10" x2="129.40" y2="374.50" stroke="#333" stroke-width="0.7"/>
<line x1="137.43" y1="376.10" x2="137.43" y2="374.50" stroke="#333" stroke-width="0.7"/>
<line x1="145.45" y1="376.10" x2="145.45" y2="374.50" stroke="#333" stroke-width="0.7"/>
<line x1="153.47" y1="376.10" x2="153.47" y2="374.50" stroke="#333" stroke-width="0.7"/>
<line x1="131.70" y1="311.30" x2="131.70" y2="374.90" stroke="#333" stroke-width="0.85"/>
<text x="129.5" y="306.8" font-size="8.3" fill="#231f20" stroke="#231f20" stroke-width="0.12" text-anchor="middle">D7</text>
<text x="157.3" y="320.6" font-size="7.2" fill="#c8324a" stroke="#c8324a" stroke-width="0.12" text-anchor="end" textLength="12.5" lengthAdjust="spacingAndGlyphs">2.39</text>
<text x="157.3" y="328.6" font-size="7.2" fill="#3c6a9c" stroke="#3c6a9c" stroke-width="0.12" text-anchor="end" textLength="12.5" lengthAdjust="spacingAndGlyphs">24.4</text>
<path d="M218.0 344.5h0.65M209.1 342.8h0.65M207.6 339.8h0.65M219.0 344.9h0.65M220.1 331.5h0.65M214.2 350.3h0.65M211.7 340.6h0.65M219.7 333.2h0.65M227.5 341.4h0.65M229.0 330.4h0.65M208.7 338.1h0.65M209.2 336.2h0.65M224.5 342.6h0.65M213.6 344.2h0.65M217.5 336.8h0.65M205.5 333.6h0.65M210.3 336.1h0.65M221.9 343.7h0.65M218.7 349.7h0.65M217.5 344.3h0.65M234.8 343.5h0.65M222.5 340.9h0.65M215.9 347.6h0.65M226.3 346.9h0.65M221.1 341.2h0.65M216.4 341.2h0.65M222.3 343.1h0.65M223.0 350.0h0.65M237.5 341.3h0.65M223.6 347.2h0.65M222.5 342.7h0.65M209.0 340.2h0.65M214.5 338.6h0.65M212.2 349.4h0.65M209.6 342.8h0.65M226.0 344.2h0.65M231.1 341.0h0.65M234.5 343.9h0.65M210.2 339.9h0.65M223.1 342.5h0.65M209.0 340.9h0.65M223.7 338.5h0.65M223.3 342.6h0.65M221.3 349.3h0.65M226.7 346.3h0.65M218.1 343.9h0.65M228.2 340.2h0.65M213.7 341.7h0.65M233.0 342.6h0.65M227.8 345.9h0.65M230.9 341.4h0.65M219.9 343.3h0.65M214.4 341.5h0.65M227.1 335.0h0.65M229.6 349.9h0.65M214.5 332.7h0.65M208.6 348.3h0.65M234.0 336.3h0.65M228.8 345.6h0.65M219.3 345.2h0.65M221.8 346.1h0.65M230.4 334.9h0.65M225.1 338.4h0.65M219.7 340.0h0.65M220.3 344.6h0.65M233.0 336.5h0.65M229.5 328.4h0.65M222.2 345.5h0.65M214.2 345.5h0.65M224.6 343.7h0.65M224.1 343.9h0.65M205.5 335.8h0.65M236.8 340.3h0.65M223.0 343.4h0.65M208.7 344.9h0.65M226.4 334.0h0.65M227.7 342.3h0.65M196.8 341.0h0.65M228.1 336.1h0.65M220.7 344.8h0.65M203.8 330.9h0.65M222.5 331.8h0.65M231.8 339.2h0.65M218.8 341.9h0.65M217.0 349.7h0.65M216.0 341.2h0.65M211.0 335.9h0.65M208.7 337.9h0.65M223.2 336.9h0.65M218.5 339.4h0.65M231.7 341.8h0.65M224.7 333.9h0.65M222.3 344.4h0.65M227.4 336.3h0.65M235.1 348.0h0.65M235.1 344.1h0.65M212.1 337.0h0.65M224.8 341.9h0.65M229.7 346.6h0.65M208.9 343.9h0.65M205.1 338.0h0.65M213.7 346.6h0.65M233.3 340.8h0.65M216.4 333.2h0.65M222.2 338.8h0.65M214.6 346.4h0.65M228.9 348.7h0.65M212.4 340.3h0.65M215.0 349.5h0.65M226.5 348.1h0.65M223.0 334.3h0.65M218.1 332.9h0.65M204.8 329.0h0.65M220.3 341.3h0.65M208.6 338.1h0.65M222.9 341.2h0.65M224.8 344.6h0.65M225.9 346.9h0.65M209.1 334.6h0.65M228.3 330.1h0.65M222.4 340.1h0.65M219.6 335.9h0.65M209.8 344.5h0.65M229.4 341.4h0.65M230.2 340.2h0.65M228.8 338.4h0.65M205.5 341.6h0.65M228.2 342.9h0.65M227.6 349.9h0.65M201.1 334.4h0.65M212.8 343.1h0.65" stroke="#5a1020" stroke-width="0.65" opacity="0.8"/>
<g filter="url(#spkn)"><path d="M179.8,350.8 L214.8,350.8 Q226.8,350.8 226.8,358.8 Q226.8,366 214.8,366.6 L188.8,366.6 Q178.8,366 178.8,358.8 Z"/></g>
<path d="M216.8 360.6h0.75M225.5 361.8h0.75M231.6 360.0h0.75M217.8 355.8h0.75M225.9 353.8h0.75M222.7 355.8h0.75M230.0 365.5h0.75M225.4 362.5h0.75M223.7 359.6h0.75M219.2 361.6h0.75M231.3 362.6h0.75M232.5 362.1h0.75M219.1 354.5h0.75M230.7 356.1h0.75M222.7 358.9h0.75M223.9 357.5h0.75M234.9 362.9h0.75M224.4 353.0h0.75M224.9 359.5h0.75M233.9 357.6h0.75M228.8 361.5h0.75M220.2 355.3h0.75M229.5 356.5h0.75M219.4 358.0h0.75M218.8 355.1h0.75M231.3 365.7h0.75M222.9 353.5h0.75M220.5 356.9h0.75M215.1 358.7h0.75M222.6 362.9h0.75M226.4 355.0h0.75M220.5 355.2h0.75M221.0 355.7h0.75M226.9 360.7h0.75M223.5 362.1h0.75M237.6 356.7h0.75M218.5 354.3h0.75M215.9 356.9h0.75M224.2 359.5h0.75M235.8 357.7h0.75M222.5 353.8h0.75M225.5 357.3h0.75M223.5 352.1h0.75M230.2 355.6h0.75M228.1 352.7h0.75M222.2 354.1h0.75M220.2 362.7h0.75M233.1 364.4h0.75M222.4 362.1h0.75M233.1 360.6h0.75M228.9 358.0h0.75M217.5 353.0h0.75M231.8 359.9h0.75M221.6 358.8h0.75M216.8 362.6h0.75M227.0 356.9h0.75M213.0 356.9h0.75M213.9 356.0h0.75M230.6 364.5h0.75M219.3 354.2h0.75M228.1 359.9h0.75M218.2 359.1h0.75M215.8 354.8h0.75M223.4 354.9h0.75M215.9 356.1h0.75M233.9 356.5h0.75M224.8 361.1h0.75M226.0 355.2h0.75M228.4 356.5h0.75M228.3 352.5h0.75M231.1 361.8h0.75M221.3 357.9h0.75M226.8 359.6h0.75M232.8 360.2h0.75M226.3 363.2h0.75M220.0 357.5h0.75M228.5 368.5h0.75M230.9 357.7h0.75M227.1 360.6h0.75M229.0 360.6h0.75M229.2 357.8h0.75M224.6 362.1h0.75M221.9 360.7h0.75M225.1 357.0h0.75M218.1 355.3h0.75M222.3 358.2h0.75M227.2 358.1h0.75M222.3 355.4h0.75M231.5 359.1h0.75M236.1 358.5h0.75M229.4 364.4h0.75M230.9 358.2h0.75M214.6 357.9h0.75M226.7 352.3h0.75M222.3 364.1h0.75M224.2 357.1h0.75M228.0 357.0h0.75M230.7 358.4h0.75M229.1 355.5h0.75M229.6 360.6h0.75M206.9 355.8h0.75M217.9 363.4h0.75M231.6 360.2h0.75M213.0 357.3h0.75M224.3 365.1h0.75M227.7 359.8h0.75M225.9 358.9h0.75M233.8 357.3h0.75M233.8 359.1h0.75M225.8 359.4h0.75M234.7 358.2h0.75M218.0 361.8h0.75M230.1 360.6h0.75M235.8 359.1h0.75M231.7 361.1h0.75M225.0 361.0h0.75M225.1 362.1h0.75M228.8 367.8h0.75M230.2 359.6h0.75M231.8 361.9h0.75M223.4 361.9h0.75M214.8 359.1h0.75M220.0 359.7h0.75M223.5 355.4h0.75M228.0 354.0h0.75M234.2 360.7h0.75M224.3 360.3h0.75M224.7 360.5h0.75M231.8 365.9h0.75M221.2 359.3h0.75M225.0 359.5h0.75M229.7 361.8h0.75M225.5 360.9h0.75M234.0 363.0h0.75M229.8 363.7h0.75M220.4 357.6h0.75M235.3 354.0h0.75M219.9 357.5h0.75M226.9 358.7h0.75M230.2 355.8h0.75M229.9 363.9h0.75M230.7 358.5h0.75M212.1 359.0h0.75M221.9 360.0h0.75M223.7 352.6h0.75M232.2 360.6h0.75M229.9 358.7h0.75M233.2 354.3h0.75M224.4 360.0h0.75M224.8 357.4h0.75M229.3 355.8h0.75M230.0 355.5h0.75M228.9 358.5h0.75M227.8 365.3h0.75M225.4 361.9h0.75M218.1 354.1h0.75M227.1 359.8h0.75M220.2 360.8h0.75M220.8 356.1h0.75M230.0 358.5h0.75M230.4 356.3h0.75M231.6 357.2h0.75M223.5 368.8h0.75M217.5 361.9h0.75M221.7 356.7h0.75M234.0 353.3h0.75M233.3 352.9h0.75M218.5 357.5h0.75M227.0 352.4h0.75M226.5 361.2h0.75M214.9 361.0h0.75M235.4 353.3h0.75M222.4 360.9h0.75M228.4 355.7h0.75M227.1 363.7h0.75M220.4 359.6h0.75M220.3 355.3h0.75M219.0 357.6h0.75M232.6 355.9h0.75M219.3 358.3h0.75M232.8 358.3h0.75M221.7 362.4h0.75M232.8 367.1h0.75M219.1 359.4h0.75M231.1 362.2h0.75M233.9 362.6h0.75M215.4 362.1h0.75M225.7 358.0h0.75M205.9 353.8h0.75M220.4 355.8h0.75M232.0 354.4h0.75M232.6 357.1h0.75M227.9 357.6h0.75M229.0 355.8h0.75M233.4 364.6h0.75M227.1 360.9h0.75M225.3 358.1h0.75M226.1 360.9h0.75M231.3 359.2h0.75M226.9 356.8h0.75M232.6 356.8h0.75M216.9 355.5h0.75M231.5 357.1h0.75M229.0 357.4h0.75M233.0 367.0h0.75M216.1 359.8h0.75M219.3 359.5h0.75M226.1 361.1h0.75M230.3 356.1h0.75M226.2 360.8h0.75M221.7 360.3h0.75M219.5 354.3h0.75M228.8 362.1h0.75M233.7 361.8h0.75M218.8 357.9h0.75M233.2 359.8h0.75M228.0 357.5h0.75M215.5 361.4h0.75M230.0 360.2h0.75M215.9 355.8h0.75M218.4 357.0h0.75M230.4 351.9h0.75M234.4 359.4h0.75M233.9 358.1h0.75M236.0 354.2h0.75M211.5 356.2h0.75M220.7 363.3h0.75M230.5 363.8h0.75M217.4 359.7h0.75M226.1 362.2h0.75M236.8 361.8h0.75M218.2 359.1h0.75M220.1 359.1h0.75M222.7 358.8h0.75M226.9 359.8h0.75M229.1 362.4h0.75M223.6 357.9h0.75M227.7 360.8h0.75M231.0 352.6h0.75M236.4 361.9h0.75M227.1 361.8h0.75M235.4 356.8h0.75M224.6 360.3h0.75M218.5 362.3h0.75M228.2 363.3h0.75M237.1 354.2h0.75M220.5 360.2h0.75M230.0 363.1h0.75M229.9 356.3h0.75M217.7 355.1h0.75M225.5 365.5h0.75M233.8 354.7h0.75M219.3 358.4h0.75M236.4 363.5h0.75M225.5 359.0h0.75M218.5 359.9h0.75M226.9 353.8h0.75M233.6 358.6h0.75M222.9 359.1h0.75M223.5 360.2h0.75M217.4 357.2h0.75M229.7 358.9h0.75M232.1 354.1h0.75M219.4 353.9h0.75M231.0 362.5h0.75M232.1 359.4h0.75M228.0 363.8h0.75M225.8 358.2h0.75M227.7 357.1h0.75M225.2 353.0h0.75M237.2 358.8h0.75M217.0 357.1h0.75M216.4 363.9h0.75M226.9 357.9h0.75M219.2 367.4h0.75M231.1 357.0h0.75M230.9 360.7h0.75M232.4 358.9h0.75M234.6 357.1h0.75M230.1 357.6h0.75M213.6 366.8h0.75M234.1 356.9h0.75M229.2 353.7h0.75M222.6 359.9h0.75M231.8 357.1h0.75M223.9 356.8h0.75M231.7 361.5h0.75M226.6 356.5h0.75M220.5 355.2h0.75M224.2 365.3h0.75M226.0 357.3h0.75M220.7 357.7h0.75M228.8 352.7h0.75M229.8 359.4h0.75M222.1 353.9h0.75M226.2 361.1h0.75M228.0 360.3h0.75M218.6 361.6h0.75M232.5 361.4h0.75M217.1 362.6h0.75M226.4 355.3h0.75M224.7 355.8h0.75" stroke="#2c2088" stroke-width="0.75" opacity="0.9"/>
<path d="M230.0 357.0h0.75M221.8 358.1h0.75M231.7 362.7h0.75M233.6 363.5h0.75M232.2 357.6h0.75M223.3 354.0h0.75M231.5 357.8h0.75M232.0 355.9h0.75M236.1 359.4h0.75M232.0 356.5h0.75M237.2 354.5h0.75M233.9 356.9h0.75M234.5 355.2h0.75M229.7 362.7h0.75M234.5 355.3h0.75M225.2 363.2h0.75M228.7 359.1h0.75M228.1 355.2h0.75M227.9 360.5h0.75M224.6 366.4h0.75M235.6 361.8h0.75M237.0 361.0h0.75M236.5 362.2h0.75M236.9 363.0h0.75M231.4 356.4h0.75M233.0 359.8h0.75M226.5 360.5h0.75M230.7 361.3h0.75M230.9 352.1h0.75M231.5 352.9h0.75M226.3 364.9h0.75M231.0 360.9h0.75M236.2 361.1h0.75M237.6 363.8h0.75M233.1 359.8h0.75M237.2 359.1h0.75M229.8 366.7h0.75M234.6 364.8h0.75M230.4 362.3h0.75M232.0 359.8h0.75M229.7 356.7h0.75M234.8 356.9h0.75M230.9 357.5h0.75M232.7 360.8h0.75M233.9 354.9h0.75M229.3 358.0h0.75M234.5 357.0h0.75M228.7 356.1h0.75M236.1 356.3h0.75M232.7 357.4h0.75M236.3 366.2h0.75M231.8 357.5h0.75M227.1 359.5h0.75M237.0 353.4h0.75M228.8 357.5h0.75M231.8 361.9h0.75M230.2 362.9h0.75M235.8 355.0h0.75M224.2 357.8h0.75M236.5 357.0h0.75M228.0 357.6h0.75M227.0 361.5h0.75M234.8 364.1h0.75M232.3 364.7h0.75M231.6 364.4h0.75M228.8 361.3h0.75M233.1 354.9h0.75M232.5 367.2h0.75M228.8 354.5h0.75M235.1 355.1h0.75M236.8 361.6h0.75M232.1 361.5h0.75M236.8 357.2h0.75M225.4 357.9h0.75M236.1 354.3h0.75M228.8 361.5h0.75M231.7 352.7h0.75M233.8 362.2h0.75M236.9 360.1h0.75" stroke="#2c2088" stroke-width="0.75" opacity="0.9"/>
<path d="M227.7 362.4h0.75M180.9 354.6h0.75M198.9 366.6h0.75M199.8 367.1h0.75M189.4 365.5h0.75M196.9 365.8h0.75M176.9 360.4h0.75M230.5 358.6h0.75M226.0 363.5h0.75M178.7 358.9h0.75M211.1 366.2h0.75M181.9 363.5h0.75M181.6 354.1h0.75M178.9 358.0h0.75M230.4 361.3h0.75M231.9 359.4h0.75M195.4 365.5h0.75M233.4 357.9h0.75M201.3 367.2h0.75M225.4 365.8h0.75M182.4 355.2h0.75M177.3 359.5h0.75M231.6 356.1h0.75M211.1 365.8h0.75M228.8 355.7h0.75M179.2 361.3h0.75M177.9 358.8h0.75M178.9 362.6h0.75M195.7 351.6h0.75M210.7 351.7h0.75M215.3 366.1h0.75M231.7 359.1h0.75M186.5 353.1h0.75M224.9 364.0h0.75M187.0 364.7h0.75M229.3 354.8h0.75M219.5 352.5h0.75M176.8 362.0h0.75M230.9 359.5h0.75M180.8 362.5h0.75M217.6 352.3h0.75M191.5 352.1h0.75M177.7 357.1h0.75M187.8 353.4h0.75M230.7 358.3h0.75M180.7 362.3h0.75M189.1 352.9h0.75M227.9 354.8h0.75M231.7 358.4h0.75M228.5 364.6h0.75M178.6 364.2h0.75M181.8 354.4h0.75M232.0 360.8h0.75M233.4 360.0h0.75M196.3 351.5h0.75M226.8 353.2h0.75M212.8 366.5h0.75M228.2 363.7h0.75M208.4 366.1h0.75M232.3 356.7h0.75M177.0 359.4h0.75M220.9 366.2h0.75M232.5 354.4h0.75M202.3 366.4h0.75M220.9 366.4h0.75M231.0 359.8h0.75M180.6 362.1h0.75M231.5 355.3h0.75M188.9 364.9h0.75M221.3 352.6h0.75M187.5 365.4h0.75M178.1 360.6h0.75M229.5 356.1h0.75M201.5 367.5h0.75M194.0 365.7h0.75M227.9 363.9h0.75M199.7 366.8h0.75M209.8 366.2h0.75M224.7 354.1h0.75M214.1 366.7h0.75M223.2 363.9h0.75M182.9 354.0h0.75M208.5 365.9h0.75M177.2 362.7h0.75M217.6 352.0h0.75M193.7 365.9h0.75M205.0 366.6h0.75M231.2 359.5h0.75M191.7 366.0h0.75M203.1 351.4h0.75M222.1 364.3h0.75M231.6 360.1h0.75M192.9 351.9h0.75M226.0 354.6h0.75M222.1 352.9h0.75M229.0 363.4h0.75M180.4 362.1h0.75M225.8 363.1h0.75M178.9 355.7h0.75M231.8 356.9h0.75M231.2 363.3h0.75M187.3 365.4h0.75M228.6 355.7h0.75M220.3 364.8h0.75M186.4 352.0h0.75M175.7 357.4h0.75M230.9 356.2h0.75M180.3 361.8h0.75M197.2 367.1h0.75M225.3 353.3h0.75M228.4 353.9h0.75M231.0 362.3h0.75M211.3 365.8h0.75M191.0 366.8h0.75M182.7 354.0h0.75M207.8 351.4h0.75M179.1 357.3h0.75M226.5 353.6h0.75M188.2 364.4h0.75M194.3 365.3h0.75M178.0 356.2h0.75M223.6 365.4h0.75M194.8 367.1h0.75M183.8 362.9h0.75M230.5 357.2h0.75M231.0 359.5h0.75M230.5 360.3h0.75M231.0 359.2h0.75M181.8 355.6h0.75M236.4 358.2h0.75M176.4 359.1h0.75M217.2 352.4h0.75M228.4 362.5h0.75M202.1 351.4h0.75M212.5 351.4h0.75M178.0 359.7h0.75M228.9 361.4h0.75M230.7 356.3h0.75M180.5 362.4h0.75M186.1 363.9h0.75M177.4 358.2h0.75M230.5 358.3h0.75M223.7 353.0h0.75M181.5 355.2h0.75M218.5 352.6h0.75M178.5 363.0h0.75M201.8 366.3h0.75M225.3 364.5h0.75M226.8 353.7h0.75" stroke="#2c2088" stroke-width="0.75" opacity="0.9"/>
<ellipse cx="198.80" cy="359.40" rx="10.1" ry="4.8" fill="url(#lg)" stroke="#8a80d0" stroke-width="0.4"/>
<path d="M183.8,351.3 C183.8,339 191.3,334.6 198.8,334.6 C207.3,334.6 209.8,339 209.8,344 L209.8,351.3 Z" fill="url(#rg)"/>
<path d="M195.2 334.0h0.75M210.7 339.2h0.75M187.1 336.8h0.75M183.9 343.5h0.75M182.9 347.6h0.75M209.2 338.1h0.75M211.3 338.2h0.75M208.4 336.9h0.75M214.7 346.3h0.75M212.4 340.2h0.75M204.2 334.6h0.75M215.1 344.7h0.75M195.5 333.7h0.75M210.4 338.4h0.75M192.8 335.3h0.75M190.9 335.9h0.75M197.8 333.9h0.75M192.2 334.8h0.75M214.5 346.6h0.75M199.0 333.4h0.75M212.6 341.2h0.75M213.3 341.1h0.75M190.3 336.7h0.75M192.1 334.6h0.75M212.8 342.0h0.75M215.1 347.5h0.75M208.3 336.9h0.75M195.5 334.0h0.75M183.0 346.8h0.75M213.2 343.4h0.75M182.1 348.6h0.75M215.1 345.5h0.75M201.3 333.2h0.75M206.9 334.1h0.75M213.8 340.3h0.75M201.8 334.1h0.75M216.4 345.6h0.75M183.3 345.0h0.75M214.3 343.8h0.75M184.3 342.4h0.75M197.7 333.8h0.75M182.8 347.7h0.75M183.3 345.5h0.75M199.5 333.9h0.75M183.0 346.7h0.75M192.7 332.8h0.75M187.1 339.0h0.75M202.3 333.9h0.75M209.7 338.5h0.75M182.8 349.0h0.75M193.6 333.6h0.75M183.4 346.0h0.75M204.0 334.6h0.75M185.5 341.1h0.75M185.9 340.7h0.75M201.0 332.5h0.75M184.0 343.2h0.75M182.2 349.5h0.75M185.1 341.9h0.75M209.5 336.4h0.75M206.8 334.7h0.75M207.1 335.5h0.75M216.3 349.0h0.75M191.9 334.2h0.75M189.1 336.4h0.75M186.6 339.7h0.75M182.3 344.4h0.75M182.8 345.8h0.75M182.6 348.2h0.75M211.5 340.7h0.75M182.7 347.5h0.75M181.9 347.4h0.75M207.8 337.1h0.75M184.9 342.1h0.75M180.5 347.2h0.75M215.3 349.1h0.75M193.6 333.6h0.75M207.4 336.1h0.75M207.6 336.8h0.75M206.0 333.4h0.75M184.8 341.7h0.75M192.7 334.6h0.75M212.5 339.9h0.75M197.1 333.4h0.75M213.7 342.3h0.75M211.4 339.6h0.75M187.5 337.8h0.75M214.7 343.9h0.75M215.1 349.5h0.75M181.6 349.2h0.75M211.0 338.6h0.75M211.5 339.1h0.75M187.2 339.5h0.75M206.7 335.9h0.75M201.9 333.7h0.75M180.8 349.6h0.75M183.8 344.6h0.75M184.7 341.9h0.75M214.3 346.1h0.75M198.2 334.1h0.75M190.6 334.9h0.75" stroke="#4a1018" stroke-width="0.75" opacity="0.9"/>
<rect x="174.8" y="311.3" width="64.2" height="63.6" stroke="#3a3a3a" stroke-width="0.8" fill="none"/>
<line x1="173.70" y1="319.25" x2="175.20" y2="319.25" stroke="#333" stroke-width="0.7"/>
<line x1="173.70" y1="327.20" x2="175.20" y2="327.20" stroke="#333" stroke-width="0.7"/>
<line x1="173.70" y1="335.15" x2="175.20" y2="335.15" stroke="#333" stroke-width="0.7"/>
<line x1="173.70" y1="343.10" x2="175.20" y2="343.10" stroke="#333" stroke-width="0.7"/>
<line x1="173.70" y1="351.05" x2="175.20" y2="351.05" stroke="#333" stroke-width="0.7"/>
<line x1="173.70" y1="359.00" x2="175.20" y2="359.00" stroke="#333" stroke-width="0.7"/>
<line x1="173.70" y1="366.95" x2="175.20" y2="366.95" stroke="#333" stroke-width="0.7"/>
<line x1="182.83" y1="376.10" x2="182.83" y2="374.50" stroke="#333" stroke-width="0.7"/>
<line x1="190.85" y1="376.10" x2="190.85" y2="374.50" stroke="#333" stroke-width="0.7"/>
<line x1="198.88" y1="376.10" x2="198.88" y2="374.50" stroke="#333" stroke-width="0.7"/>
<line x1="206.90" y1="376.10" x2="206.90" y2="374.50" stroke="#333" stroke-width="0.7"/>
<line x1="214.93" y1="376.10" x2="214.93" y2="374.50" stroke="#333" stroke-width="0.7"/>
<line x1="222.95" y1="376.10" x2="222.95" y2="374.50" stroke="#333" stroke-width="0.7"/>
<line x1="230.98" y1="376.10" x2="230.98" y2="374.50" stroke="#333" stroke-width="0.7"/>
<line x1="209.20" y1="311.30" x2="209.20" y2="374.90" stroke="#333" stroke-width="0.85"/>
<text x="207.0" y="306.8" font-size="8.3" fill="#231f20" stroke="#231f20" stroke-width="0.12" text-anchor="middle">D21</text>
<text x="234.8" y="320.6" font-size="7.2" fill="#c8324a" stroke="#c8324a" stroke-width="0.12" text-anchor="end" textLength="12.5" lengthAdjust="spacingAndGlyphs">2.58</text>
<text x="234.8" y="328.6" font-size="7.2" fill="#3c6a9c" stroke="#3c6a9c" stroke-width="0.12" text-anchor="end" textLength="12.5" lengthAdjust="spacingAndGlyphs">1.88</text>
<path d="M285.1 343.1h0.65M296.4 336.9h0.65M296.0 330.8h0.65M304.4 345.4h0.65M289.0 348.6h0.65M303.4 339.9h0.65M281.4 344.7h0.65M286.5 340.0h0.65M305.9 341.2h0.65M306.3 340.7h0.65M303.0 333.7h0.65M294.2 340.0h0.65M290.0 339.9h0.65M294.4 336.2h0.65M290.0 336.8h0.65M302.7 342.8h0.65M289.3 334.2h0.65M297.8 348.6h0.65M303.2 339.4h0.65M299.9 341.4h0.65M287.4 341.9h0.65M301.3 345.9h0.65M300.4 337.1h0.65M280.8 343.0h0.65M304.0 340.0h0.65M288.5 338.1h0.65M293.4 346.6h0.65M309.0 339.8h0.65M299.0 340.4h0.65M290.0 337.8h0.65M290.7 340.8h0.65M287.1 347.8h0.65M291.2 341.5h0.65M299.5 339.0h0.65M295.8 337.7h0.65M300.0 345.1h0.65M295.1 330.1h0.65M306.0 342.6h0.65M308.8 345.0h0.65M300.3 345.0h0.65M292.9 336.0h0.65M309.2 336.8h0.65M302.8 341.3h0.65M305.9 335.6h0.65M301.6 340.4h0.65M289.9 339.9h0.65M306.2 339.0h0.65M299.8 338.0h0.65M301.7 334.4h0.65M291.6 344.4h0.65M294.7 338.0h0.65M303.4 333.7h0.65M297.6 336.5h0.65M281.3 339.5h0.65M298.5 343.0h0.65M295.2 336.3h0.65M300.0 335.6h0.65M291.5 338.9h0.65M300.2 338.7h0.65M312.4 335.2h0.65M310.2 337.2h0.65M294.0 345.9h0.65M293.9 346.0h0.65M296.9 330.9h0.65M294.7 339.8h0.65M283.1 332.2h0.65M283.1 340.9h0.65M312.3 339.4h0.65M304.4 347.2h0.65M288.8 345.8h0.65M307.8 344.7h0.65M302.7 337.3h0.65M286.5 342.9h0.65M307.4 335.2h0.65M307.0 347.3h0.65M298.7 334.9h0.65M287.1 335.3h0.65M288.5 338.6h0.65M305.9 341.8h0.65M289.5 336.7h0.65M287.0 343.4h0.65M296.1 338.1h0.65M294.2 338.8h0.65M293.3 336.5h0.65M294.2 344.4h0.65M312.2 336.0h0.65M307.6 339.4h0.65M293.9 345.5h0.65M288.2 340.0h0.65M299.1 346.1h0.65M301.9 334.1h0.65M289.7 336.7h0.65M305.2 338.7h0.65M281.9 348.4h0.65M284.5 338.0h0.65M310.8 334.8h0.65M290.6 331.6h0.65M292.8 344.8h0.65M298.4 347.9h0.65M278.2 345.4h0.65M274.6 342.0h0.65M305.1 346.1h0.65M296.6 335.0h0.65M307.3 334.1h0.65M306.4 343.5h0.65M294.5 349.1h0.65M280.0 340.5h0.65M278.5 334.3h0.65M294.9 345.6h0.65M297.1 346.3h0.65M308.0 342.3h0.65M311.5 344.4h0.65M307.4 339.1h0.65M300.0 342.8h0.65M311.7 348.5h0.65M285.1 344.4h0.65M299.0 332.0h0.65M309.8 336.8h0.65M305.6 339.1h0.65M303.4 339.2h0.65M302.6 339.2h0.65M309.1 347.8h0.65M294.6 348.7h0.65M296.4 347.0h0.65M284.6 335.8h0.65M273.4 343.9h0.65M298.0 338.0h0.65M285.0 339.9h0.65M287.9 328.9h0.65" stroke="#5a1020" stroke-width="0.65" opacity="0.8"/>
<g filter="url(#spkn)"><path d="M256.0,350.8 L291.0,350.8 Q303.0,350.8 303.0,358.8 Q303.0,366 291.0,366.6 L265.0,366.6 Q255.0,366 255.0,358.8 Z"/></g>
<path d="M302.6 365.2h0.75M301.2 360.7h0.75M296.0 365.1h0.75M298.8 365.2h0.75M305.1 363.1h0.75M305.1 363.1h0.75M312.5 361.3h0.75M301.1 359.2h0.75M299.5 359.3h0.75M300.4 359.7h0.75M292.4 363.2h0.75M301.3 358.3h0.75M307.3 357.5h0.75M310.8 356.0h0.75M308.2 369.4h0.75M301.7 361.3h0.75M305.8 356.1h0.75M308.7 358.5h0.75M309.7 355.8h0.75M294.7 355.8h0.75M298.5 360.7h0.75M305.6 355.3h0.75M297.5 359.6h0.75M307.3 355.5h0.75M291.2 356.2h0.75M306.2 356.5h0.75M303.4 353.9h0.75M306.3 357.1h0.75M306.5 365.9h0.75M306.8 358.4h0.75M297.2 355.9h0.75M301.8 362.0h0.75M294.9 357.0h0.75M301.2 362.3h0.75M310.7 361.0h0.75M307.5 356.6h0.75M306.2 362.9h0.75M300.4 361.5h0.75M295.0 355.4h0.75M301.0 356.9h0.75M300.8 352.6h0.75M302.6 357.9h0.75M296.3 360.6h0.75M295.5 357.9h0.75M305.5 354.9h0.75M296.1 364.4h0.75M300.7 357.1h0.75M299.8 356.6h0.75M303.2 357.2h0.75M307.2 358.4h0.75M286.6 361.7h0.75M301.8 359.3h0.75M292.6 357.9h0.75M298.4 358.4h0.75M298.2 356.0h0.75M297.3 358.3h0.75M296.6 360.4h0.75M298.6 357.0h0.75M298.5 352.2h0.75M308.0 354.8h0.75M307.3 361.0h0.75M305.6 358.7h0.75M303.0 357.6h0.75M309.0 358.9h0.75M295.4 357.4h0.75M291.9 354.0h0.75M303.0 357.8h0.75M307.2 354.9h0.75M299.7 360.5h0.75M305.4 356.9h0.75M298.6 356.7h0.75M301.6 364.3h0.75M295.5 360.3h0.75M307.0 354.7h0.75M312.6 365.0h0.75M293.6 360.9h0.75M298.0 355.8h0.75M288.0 360.4h0.75M306.1 366.9h0.75M299.8 361.3h0.75M293.6 362.5h0.75M305.1 362.8h0.75M307.7 358.9h0.75M297.4 358.7h0.75M299.7 359.7h0.75M290.3 359.8h0.75M293.3 364.2h0.75M303.1 356.2h0.75M303.5 361.0h0.75M304.2 353.6h0.75M312.2 355.1h0.75M309.5 359.7h0.75M294.6 361.6h0.75M304.4 352.8h0.75M300.8 361.2h0.75M295.5 353.2h0.75M307.1 358.0h0.75M304.5 356.0h0.75M304.8 358.5h0.75M303.7 362.2h0.75M297.1 363.5h0.75M303.5 360.1h0.75M298.9 359.8h0.75M304.1 357.0h0.75M311.3 366.3h0.75M306.5 355.5h0.75M298.2 359.2h0.75M312.0 359.6h0.75M308.7 360.8h0.75M312.1 352.9h0.75M298.5 356.8h0.75M302.1 361.0h0.75M295.3 361.8h0.75M313.2 354.9h0.75M298.4 359.7h0.75M302.7 361.9h0.75M306.1 360.5h0.75M309.1 365.2h0.75M294.7 362.5h0.75M289.8 354.3h0.75M290.6 356.0h0.75M304.7 360.4h0.75M306.0 354.3h0.75M297.2 355.8h0.75M308.5 357.2h0.75M308.2 356.8h0.75M301.0 358.9h0.75M290.7 361.8h0.75M303.6 358.2h0.75M301.7 358.6h0.75M297.3 358.9h0.75M302.4 361.3h0.75M312.5 355.8h0.75M298.1 362.9h0.75M311.4 365.1h0.75M313.5 359.0h0.75M305.5 360.7h0.75M301.0 363.4h0.75M313.0 362.6h0.75M301.6 357.2h0.75M306.9 358.3h0.75M304.4 359.0h0.75M301.8 363.3h0.75M308.2 359.0h0.75M301.6 356.6h0.75M297.6 357.8h0.75M308.2 359.2h0.75M288.8 357.8h0.75M303.8 358.3h0.75M295.6 358.0h0.75M313.4 366.4h0.75M294.7 359.2h0.75M298.8 356.7h0.75M302.8 357.0h0.75M304.8 352.4h0.75M301.8 356.1h0.75M310.7 365.2h0.75M295.2 354.0h0.75M298.0 357.2h0.75M309.5 360.2h0.75M288.8 356.8h0.75M308.3 358.1h0.75M302.9 361.6h0.75M303.3 359.1h0.75M313.6 355.0h0.75M306.0 361.1h0.75M312.4 354.5h0.75M305.3 357.6h0.75M305.8 357.6h0.75M307.0 357.5h0.75M294.8 354.7h0.75M303.5 359.4h0.75M291.3 364.4h0.75M296.2 353.5h0.75M298.9 360.9h0.75M305.5 360.7h0.75M298.7 362.1h0.75M295.5 353.6h0.75M291.5 358.1h0.75M289.0 360.1h0.75M300.1 355.8h0.75M308.3 361.4h0.75M296.0 361.3h0.75M305.4 358.3h0.75M304.9 356.0h0.75M302.2 362.1h0.75M307.3 362.6h0.75M300.7 357.5h0.75M307.1 358.2h0.75M309.8 358.0h0.75M300.8 362.5h0.75M299.5 358.5h0.75M295.5 363.3h0.75M294.2 355.8h0.75M304.9 362.4h0.75M307.5 353.2h0.75M304.6 356.6h0.75M299.6 361.2h0.75M303.3 358.4h0.75M303.2 354.6h0.75M306.5 359.2h0.75M298.3 361.9h0.75M300.3 353.1h0.75M303.6 357.7h0.75M301.9 359.2h0.75M293.0 356.9h0.75M306.7 362.3h0.75M302.3 362.2h0.75M309.8 358.4h0.75M298.6 358.9h0.75M306.9 358.8h0.75M303.4 356.6h0.75M305.6 353.1h0.75M306.4 353.8h0.75M303.8 351.7h0.75M307.7 358.0h0.75M302.9 360.4h0.75M311.9 360.0h0.75M300.3 357.7h0.75M294.6 364.2h0.75M298.9 355.3h0.75M297.1 355.6h0.75M305.9 356.5h0.75M312.1 354.0h0.75M298.1 358.0h0.75M296.4 360.7h0.75M308.3 354.6h0.75M300.5 359.5h0.75M303.1 360.6h0.75M308.2 360.4h0.75M299.6 354.3h0.75M301.8 363.0h0.75M289.6 355.1h0.75M299.2 360.6h0.75M300.9 355.0h0.75M309.0 355.8h0.75M310.1 365.3h0.75M311.6 365.1h0.75M308.2 361.8h0.75M309.7 355.2h0.75M308.3 354.8h0.75M300.9 363.9h0.75M305.3 355.3h0.75M299.7 363.5h0.75M309.0 356.1h0.75M292.4 360.9h0.75M310.9 361.2h0.75M313.0 354.9h0.75M312.7 360.8h0.75M304.1 362.7h0.75M297.6 358.2h0.75M303.8 359.1h0.75M309.0 353.6h0.75M303.2 362.8h0.75M312.0 366.4h0.75M303.5 353.8h0.75M308.2 357.3h0.75M297.2 357.9h0.75M288.5 363.4h0.75M294.6 355.9h0.75M313.1 353.1h0.75M305.4 363.4h0.75M306.4 357.8h0.75M311.5 358.7h0.75M298.1 357.3h0.75M309.3 356.2h0.75M312.6 356.0h0.75M296.7 356.9h0.75M308.5 359.2h0.75M290.6 357.6h0.75M308.9 355.9h0.75M312.5 360.6h0.75M302.3 359.3h0.75M298.4 359.8h0.75M292.9 351.6h0.75M306.3 358.7h0.75M311.5 360.6h0.75M309.2 353.9h0.75M306.4 358.1h0.75M299.8 361.8h0.75M305.7 359.1h0.75M308.5 355.0h0.75M294.5 355.8h0.75M292.7 354.4h0.75M303.5 364.2h0.75M309.8 357.2h0.75M305.8 360.5h0.75M304.5 355.3h0.75M299.6 357.9h0.75M307.4 360.3h0.75M306.9 355.1h0.75M299.0 358.1h0.75" stroke="#2c2088" stroke-width="0.75" opacity="0.9"/>
<path d="M308.6 362.0h0.75M305.5 351.7h0.75M310.7 358.5h0.75M313.6 354.3h0.75M305.8 357.7h0.75M310.1 360.1h0.75M304.4 364.4h0.75M309.5 359.1h0.75M304.4 358.1h0.75M312.9 362.8h0.75M308.8 357.7h0.75M311.3 357.9h0.75M304.1 358.8h0.75M307.5 357.7h0.75M307.8 360.8h0.75M313.0 359.8h0.75M307.8 363.7h0.75M312.6 361.6h0.75M311.9 359.8h0.75M306.5 357.4h0.75M308.9 358.2h0.75M311.6 357.9h0.75M312.7 361.3h0.75M307.8 357.8h0.75M306.8 363.2h0.75M307.3 361.3h0.75M308.5 362.9h0.75M311.0 360.4h0.75M313.0 355.7h0.75M313.5 361.4h0.75M303.4 358.3h0.75M304.8 355.1h0.75M313.1 358.0h0.75M306.1 358.2h0.75M308.1 361.7h0.75M311.0 360.5h0.75M309.5 353.9h0.75M309.6 358.9h0.75M310.0 358.0h0.75M310.7 361.8h0.75M303.9 361.5h0.75M312.1 358.8h0.75M312.2 357.7h0.75M301.7 361.3h0.75M302.8 352.6h0.75M309.5 358.2h0.75M299.6 358.3h0.75M304.7 358.5h0.75M308.7 364.3h0.75M313.0 357.8h0.75M312.7 362.4h0.75M311.7 357.4h0.75M300.5 365.6h0.75M305.6 352.8h0.75M308.0 360.2h0.75M308.6 362.4h0.75M306.5 364.7h0.75M306.7 361.2h0.75M301.9 365.0h0.75M306.6 359.5h0.75M311.1 356.3h0.75M309.9 355.7h0.75M308.9 360.3h0.75M311.7 356.8h0.75M303.9 361.5h0.75M306.6 356.6h0.75M309.6 357.7h0.75M302.1 360.2h0.75M304.4 356.9h0.75M308.0 361.3h0.75M312.4 360.1h0.75M312.6 355.2h0.75M312.5 362.4h0.75M309.6 361.8h0.75M307.1 358.8h0.75M312.2 357.0h0.75M313.1 367.8h0.75" stroke="#2c2088" stroke-width="0.75" opacity="0.9"/>
<path d="M257.8 362.1h0.75M272.7 351.8h0.75M262.4 365.0h0.75M311.1 358.3h0.75M279.0 351.7h0.75M306.7 358.7h0.75M293.4 352.4h0.75M287.9 366.1h0.75M255.0 358.3h0.75M266.0 365.6h0.75M294.4 351.5h0.75M307.4 363.3h0.75M301.3 351.3h0.75M276.1 366.0h0.75M258.5 362.4h0.75M307.1 361.6h0.75M253.4 356.1h0.75M303.3 354.0h0.75M278.1 351.5h0.75M282.4 366.2h0.75M283.4 366.0h0.75M256.5 354.5h0.75M274.6 351.6h0.75M303.0 363.0h0.75M254.8 357.5h0.75M303.1 363.3h0.75M267.9 365.8h0.75M263.7 352.6h0.75M255.2 362.7h0.75M265.7 365.8h0.75M263.5 353.6h0.75M296.2 352.9h0.75M268.6 352.6h0.75M302.1 354.5h0.75M262.9 363.9h0.75M305.7 362.1h0.75M289.6 365.9h0.75M307.4 362.0h0.75M254.6 362.5h0.75M298.6 352.6h0.75M308.8 360.9h0.75M279.8 366.6h0.75M306.9 356.5h0.75M309.5 360.1h0.75M305.3 354.2h0.75M255.8 356.9h0.75M268.2 351.4h0.75M274.4 351.9h0.75M296.9 365.4h0.75M263.3 367.9h0.75M305.8 356.9h0.75M261.7 353.1h0.75M268.0 366.5h0.75M295.6 365.9h0.75M274.5 367.2h0.75M257.4 354.8h0.75M268.5 365.8h0.75M307.2 361.8h0.75M293.3 352.4h0.75M260.2 363.1h0.75M287.9 367.0h0.75M266.8 366.1h0.75M256.5 361.9h0.75M251.8 358.5h0.75M299.4 353.3h0.75M300.6 364.1h0.75M309.7 358.5h0.75M274.6 367.5h0.75M253.4 361.8h0.75M265.8 366.5h0.75M307.2 355.6h0.75M272.5 365.9h0.75M256.4 361.9h0.75M262.8 364.8h0.75M307.2 356.4h0.75M288.9 366.1h0.75M281.4 367.0h0.75M255.9 361.7h0.75M261.6 365.0h0.75M307.0 361.5h0.75M284.2 351.3h0.75M252.4 359.3h0.75M303.1 354.6h0.75M299.3 364.9h0.75M311.8 361.3h0.75M259.7 364.7h0.75M271.8 352.1h0.75M259.7 354.4h0.75M254.9 359.9h0.75M261.8 353.9h0.75M276.8 351.3h0.75M282.4 366.2h0.75M308.1 359.7h0.75M264.2 353.0h0.75M294.0 351.6h0.75M254.0 358.7h0.75M279.7 366.7h0.75M269.4 352.2h0.75M300.4 352.3h0.75M282.0 366.2h0.75M264.5 351.4h0.75M300.9 363.8h0.75M309.4 359.1h0.75M309.6 356.7h0.75M283.2 366.7h0.75M266.6 365.5h0.75M268.4 351.3h0.75M256.9 356.1h0.75M298.2 353.3h0.75M294.7 352.6h0.75M270.5 352.0h0.75M306.1 355.8h0.75M304.5 364.0h0.75M309.3 362.5h0.75M311.8 356.2h0.75M307.5 359.4h0.75M281.9 366.9h0.75M285.2 366.6h0.75M259.8 354.1h0.75M254.7 356.1h0.75M256.2 363.5h0.75M288.4 367.4h0.75M261.7 364.9h0.75M260.4 354.0h0.75M265.7 365.2h0.75M294.3 352.7h0.75M280.2 351.4h0.75M294.5 365.1h0.75M292.0 365.7h0.75M262.1 353.4h0.75M266.3 365.4h0.75M254.0 357.6h0.75M287.6 366.2h0.75M307.0 356.4h0.75M264.1 364.6h0.75M286.4 366.2h0.75M281.7 351.6h0.75M301.2 353.9h0.75M308.8 357.4h0.75M310.5 359.1h0.75M300.2 364.1h0.75M255.2 360.3h0.75M306.3 360.5h0.75M267.0 352.4h0.75M261.9 364.1h0.75" stroke="#2c2088" stroke-width="0.75" opacity="0.9"/>
<ellipse cx="275.00" cy="359.40" rx="10.1" ry="4.8" fill="url(#lg)" stroke="#8a80d0" stroke-width="0.4"/>
<path d="M260.0,351.3 C260.0,339 267.5,334.6 275.0,334.6 C283.5,334.6 286.0,339 286.0,344 L286.0,351.3 Z" fill="url(#rg)"/>
<path d="M278.3 333.9h0.75M274.0 333.9h0.75M289.2 342.9h0.75M291.3 347.3h0.75M278.4 333.8h0.75M291.2 347.7h0.75M280.7 335.3h0.75M268.3 334.7h0.75M266.3 336.5h0.75M283.7 336.6h0.75M290.9 347.5h0.75M278.5 333.3h0.75M258.4 346.2h0.75M286.9 338.4h0.75M261.0 339.9h0.75M284.6 337.2h0.75M283.1 334.9h0.75M291.0 349.2h0.75M286.3 338.1h0.75M264.1 337.8h0.75M261.3 339.7h0.75M283.3 336.5h0.75M272.5 334.3h0.75M290.6 345.3h0.75M275.5 333.6h0.75M284.9 336.6h0.75M276.5 333.7h0.75M259.3 344.6h0.75M274.8 333.2h0.75M262.2 339.6h0.75M290.1 344.9h0.75M263.1 338.6h0.75M276.6 333.9h0.75M285.7 335.8h0.75M267.9 334.3h0.75M291.0 346.3h0.75M261.8 339.5h0.75M265.0 335.9h0.75M267.0 335.6h0.75M266.3 335.0h0.75M259.3 344.6h0.75M275.7 332.6h0.75M289.4 343.8h0.75M283.9 336.6h0.75M290.7 344.3h0.75M259.4 342.0h0.75M286.9 339.3h0.75M260.5 341.6h0.75M272.7 333.7h0.75M267.5 334.6h0.75M273.5 333.1h0.75M266.6 335.4h0.75M265.9 336.5h0.75M291.3 344.9h0.75M271.9 334.3h0.75M286.2 338.2h0.75M276.6 333.2h0.75M290.7 346.0h0.75M285.9 338.4h0.75M286.1 336.0h0.75M260.0 345.2h0.75M273.6 333.3h0.75M282.4 334.9h0.75M268.1 334.8h0.75M268.5 335.2h0.75M267.2 335.5h0.75M282.4 336.1h0.75M292.0 348.6h0.75M285.1 337.5h0.75M291.3 345.6h0.75M290.4 344.8h0.75M271.0 333.4h0.75M259.2 347.6h0.75M288.8 341.7h0.75M262.8 339.3h0.75M258.5 346.9h0.75M282.4 335.1h0.75M287.6 338.8h0.75M262.6 339.8h0.75M258.9 346.1h0.75M289.6 344.0h0.75M259.1 345.5h0.75M258.1 344.5h0.75M258.5 349.2h0.75M288.1 340.7h0.75M281.0 335.0h0.75M265.6 336.4h0.75M281.6 334.7h0.75M269.7 335.1h0.75M261.9 339.9h0.75M262.7 340.0h0.75M281.9 334.9h0.75M258.3 345.9h0.75M289.3 342.5h0.75M290.9 346.4h0.75M290.7 343.9h0.75M289.9 342.3h0.75M286.5 338.2h0.75M280.2 334.1h0.75M265.1 336.7h0.75M283.9 336.8h0.75M288.8 341.1h0.75M288.7 341.7h0.75" stroke="#4a1018" stroke-width="0.75" opacity="0.9"/>
<rect x="251.0" y="311.3" width="64.2" height="63.6" stroke="#3a3a3a" stroke-width="0.8" fill="none"/>
<line x1="249.90" y1="319.25" x2="251.40" y2="319.25" stroke="#333" stroke-width="0.7"/>
<line x1="249.90" y1="327.20" x2="251.40" y2="327.20" stroke="#333" stroke-width="0.7"/>
<line x1="249.90" y1="335.15" x2="251.40" y2="335.15" stroke="#333" stroke-width="0.7"/>
<line x1="249.90" y1="343.10" x2="251.40" y2="343.10" stroke="#333" stroke-width="0.7"/>
<line x1="249.90" y1="351.05" x2="251.40" y2="351.05" stroke="#333" stroke-width="0.7"/>
<line x1="249.90" y1="359.00" x2="251.40" y2="359.00" stroke="#333" stroke-width="0.7"/>
<line x1="249.90" y1="366.95" x2="251.40" y2="366.95" stroke="#333" stroke-width="0.7"/>
<line x1="259.02" y1="376.10" x2="259.02" y2="374.50" stroke="#333" stroke-width="0.7"/>
<line x1="267.05" y1="376.10" x2="267.05" y2="374.50" stroke="#333" stroke-width="0.7"/>
<line x1="275.07" y1="376.10" x2="275.07" y2="374.50" stroke="#333" stroke-width="0.7"/>
<line x1="283.10" y1="376.10" x2="283.10" y2="374.50" stroke="#333" stroke-width="0.7"/>
<line x1="291.12" y1="376.10" x2="291.12" y2="374.50" stroke="#333" stroke-width="0.7"/>
<line x1="299.15" y1="376.10" x2="299.15" y2="374.50" stroke="#333" stroke-width="0.7"/>
<line x1="307.18" y1="376.10" x2="307.18" y2="374.50" stroke="#333" stroke-width="0.7"/>
<line x1="285.40" y1="311.30" x2="285.40" y2="374.90" stroke="#333" stroke-width="0.85"/>
<text x="283.2" y="306.8" font-size="8.3" fill="#231f20" stroke="#231f20" stroke-width="0.12" text-anchor="middle">D56</text>
<text x="311.0" y="320.6" font-size="7.2" fill="#c8324a" stroke="#c8324a" stroke-width="0.12" text-anchor="end" textLength="12.5" lengthAdjust="spacingAndGlyphs">4.44</text>
<text x="311.0" y="328.6" font-size="7.2" fill="#3c6a9c" stroke="#3c6a9c" stroke-width="0.12" text-anchor="end" textLength="12.5" lengthAdjust="spacingAndGlyphs">0.73</text>
<text x="24.2" y="319.9" font-size="6.8" fill="#c8324a" stroke="#c8324a" stroke-width="0.12" textLength="12.0" lengthAdjust="spacingAndGlyphs">Treg</text>
<text x="24.2" y="328.1" font-size="6.8" fill="#3c6a9c" stroke="#3c6a9c" stroke-width="0.12" textLength="18.8" lengthAdjust="spacingAndGlyphs">Foxp3<tspan font-size="4.8" dy="-2.8">+</tspan><tspan dy="2.8">​</tspan></text>
<line x1="14.20" y1="375.30" x2="14.20" y2="320.80" stroke="#444" stroke-width="0.9"/>
<path d="M12.299999999999999,322.40000000000003 L14.2,317.8 L16.099999999999998,322.40000000000003 Z" fill="#231f20"/>
<text x="0" y="0" font-size="9.75" fill="#2a2a2a" font-weight="bold" transform="translate(9.0 354.7) rotate(-90)" textLength="17.0" lengthAdjust="spacingAndGlyphs">Foxp3</text>
<text x="130.2" y="396.0" font-size="8.4" fill="#231f20" stroke="#231f20" stroke-width="0.12" textLength="74.8" lengthAdjust="spacingAndGlyphs">Gated on CD3<tspan font-size="5.0" dy="-3">+</tspan><tspan dy="3">​</tspan> cells</text>
<line x1="20.00" y1="401.60" x2="314.40" y2="401.60" stroke="#333" stroke-width="1.1"/>
<path d="M21.40,470.13 L22.18,470.10 L22.95,470.06 L23.73,470.01 L24.51,469.93 L25.29,469.84 L26.06,469.72 L26.84,469.57 L27.62,469.38 L28.40,469.16 L29.17,468.89 L29.95,468.57 L30.73,468.21 L31.51,467.80 L32.28,467.34 L33.06,466.83 L33.84,466.28 L34.62,465.67 L35.39,464.99 L36.17,464.19 L36.95,463.19 L37.73,461.89 L38.50,460.10 L39.28,457.65 L40.06,454.33 L40.84,449.97 L41.61,444.56 L42.39,438.40 L43.17,431.87 L43.95,425.46 L44.72,419.81 L45.50,415.64 L46.28,413.53 L47.06,414.03 L47.83,419.19 L48.61,428.34 L49.39,439.21 L50.17,449.51 L50.94,457.76 L51.72,463.45 L52.50,466.90 L53.28,468.75 L54.05,469.62 L54.83,469.99 L55.61,470.13 L56.39,470.18 L57.16,470.19 L57.94,470.20 L58.72,470.20 L59.50,470.20 L60.27,470.20 L61.05,470.20 L61.83,470.20 L62.61,470.20 L63.38,470.20 L64.16,470.20 L64.94,470.20 L65.72,470.20 L66.50,470.20 L67.27,470.20 L68.05,470.20 L68.83,470.20 L69.60,470.20 L70.38,470.20 L71.16,470.20 L71.94,470.20 L72.72,470.20 L73.49,470.20 L74.27,470.20 L75.05,470.20 L75.82,470.20 L76.60,470.20 L77.38,470.20 L78.16,470.20 L78.93,470.20 L79.71,470.20 L80.49,470.20 L81.27,470.20 L82.04,470.20 L82.82,470.20 L83.60,470.20" fill="none" stroke="#222" stroke-width="0.9"/>
<path d="M21.40,470.11 L22.18,470.08 L22.95,470.03 L23.73,469.97 L24.51,469.88 L25.29,469.77 L26.06,469.64 L26.84,469.47 L27.62,469.27 L28.40,469.02 L29.17,468.73 L29.95,468.39 L30.73,468.01 L31.51,467.59 L32.28,467.13 L33.06,466.62 L33.84,466.07 L34.62,465.47 L35.39,464.79 L36.17,463.98 L36.95,462.93 L37.73,461.50 L38.50,459.52 L39.28,456.76 L40.06,453.02 L40.84,448.21 L41.61,442.52 L42.39,436.26 L43.17,429.90 L43.95,424.05 L44.72,419.45 L45.50,416.77 L46.28,416.51 L47.06,420.88 L47.83,430.06 L48.61,441.29 L49.39,451.79 L50.17,459.84 L50.94,465.05 L51.72,467.93 L52.50,469.32 L53.28,469.90 L54.05,470.11 L54.83,470.17 L55.61,470.19 L56.39,470.20 L57.16,470.20 L57.94,470.20 L58.72,470.20 L59.50,470.20 L60.27,470.20 L61.05,470.20 L61.83,470.20 L62.61,470.20 L63.38,470.20 L64.16,470.20 L64.94,470.20 L65.72,470.20 L66.50,470.20 L67.27,470.20 L68.05,470.20 L68.83,470.20 L69.60,470.20 L70.38,470.20 L71.16,470.20 L71.94,470.20 L72.72,470.20 L73.49,470.20 L74.27,470.20 L75.05,470.20 L75.82,470.20 L76.60,470.20 L77.38,470.20 L78.16,470.20 L78.93,470.20 L79.71,470.20 L80.49,470.20 L81.27,470.20 L82.04,470.20 L82.82,470.20 L83.60,470.20" fill="none" stroke="#d8304a" stroke-width="0.9"/>
<path d="M21.40,470.14 L22.18,470.11 L22.95,470.07 L23.73,470.02 L24.51,469.96 L25.29,469.87 L26.06,469.76 L26.84,469.62 L27.62,469.44 L28.40,469.22 L29.17,468.96 L29.95,468.65 L30.73,468.30 L31.51,467.89 L32.28,467.44 L33.06,466.93 L33.84,466.38 L34.62,465.78 L35.39,465.11 L36.17,464.34 L36.95,463.40 L37.73,462.20 L38.50,460.57 L39.28,458.34 L40.06,455.28 L40.84,451.21 L41.61,446.03 L42.39,439.94 L43.17,433.30 L43.95,426.57 L44.72,420.36 L45.50,415.39 L46.28,412.33 L47.06,411.68 L47.83,414.59 L48.61,421.68 L49.39,431.39 L50.17,441.77 L50.94,451.14 L51.72,458.50 L52.50,463.63 L53.28,466.83 L54.05,468.62 L54.83,469.52 L55.61,469.93 L56.39,470.10 L57.16,470.17 L57.94,470.19 L58.72,470.20 L59.50,470.20 L60.27,470.20 L61.05,470.20 L61.83,470.20 L62.61,470.20 L63.38,470.20 L64.16,470.20 L64.94,470.20 L65.72,470.20 L66.50,470.20 L67.27,470.20 L68.05,470.20 L68.83,470.20 L69.60,470.20 L70.38,470.20 L71.16,470.20 L71.94,470.20 L72.72,470.20 L73.49,470.20 L74.27,470.20 L75.05,470.20 L75.82,470.20 L76.60,470.20 L77.38,470.20 L78.16,470.20 L78.93,470.20 L79.71,470.20 L80.49,470.20 L81.27,470.20 L82.04,470.20 L82.82,470.20 L83.60,470.20" fill="none" stroke="#48b048" stroke-width="0.9"/>
<path d="M21.40,470.14 L22.18,470.11 L22.95,470.07 L23.73,470.02 L24.51,469.95 L25.29,469.86 L26.06,469.75 L26.84,469.60 L27.62,469.42 L28.40,469.20 L29.17,468.94 L29.95,468.63 L30.73,468.27 L31.51,467.86 L32.28,467.40 L33.06,466.90 L33.84,466.35 L34.62,465.74 L35.39,465.07 L36.17,464.29 L36.95,463.33 L37.73,462.10 L38.50,460.42 L39.28,458.11 L40.06,454.97 L40.84,450.80 L41.61,445.54 L42.39,439.42 L43.17,432.81 L43.95,426.17 L44.72,420.14 L45.50,415.43 L46.28,412.69 L47.06,412.38 L47.83,416.06 L48.61,424.01 L49.39,434.34 L50.17,444.89 L50.94,453.97 L51.72,460.74 L52.50,465.19 L53.28,467.79 L54.05,469.15 L54.83,469.78 L55.61,470.05 L56.39,470.15 L57.16,470.19 L57.94,470.20 L58.72,470.20 L59.50,470.20 L60.27,470.20 L61.05,470.20 L61.83,470.20 L62.61,470.20 L63.38,470.20 L64.16,470.20 L64.94,470.20 L65.72,470.20 L66.50,470.20 L67.27,470.20 L68.05,470.20 L68.83,470.20 L69.60,470.20 L70.38,470.20 L71.16,470.20 L71.94,470.20 L72.72,470.20 L73.49,470.20 L74.27,470.20 L75.05,470.20 L75.82,470.20 L76.60,470.20 L77.38,470.20 L78.16,470.20 L78.93,470.20 L79.71,470.20 L80.49,470.20 L81.27,470.20 L82.04,470.20 L82.82,470.20 L83.60,470.20" fill="none" stroke="#2b5aa0" stroke-width="0.8"/>
<rect x="20.4" y="407.4" width="64.2" height="63.8" stroke="#3a3a3a" stroke-width="0.8" fill="none"/>
<line x1="19.30" y1="415.38" x2="20.80" y2="415.38" stroke="#333" stroke-width="0.7"/>
<line x1="19.30" y1="423.35" x2="20.80" y2="423.35" stroke="#333" stroke-width="0.7"/>
<line x1="19.30" y1="431.32" x2="20.80" y2="431.32" stroke="#333" stroke-width="0.7"/>
<line x1="19.30" y1="439.30" x2="20.80" y2="439.30" stroke="#333" stroke-width="0.7"/>
<line x1="19.30" y1="447.27" x2="20.80" y2="447.27" stroke="#333" stroke-width="0.7"/>
<line x1="19.30" y1="455.25" x2="20.80" y2="455.25" stroke="#333" stroke-width="0.7"/>
<line x1="19.30" y1="463.22" x2="20.80" y2="463.22" stroke="#333" stroke-width="0.7"/>
<line x1="28.42" y1="472.40" x2="28.42" y2="470.80" stroke="#333" stroke-width="0.7"/>
<line x1="36.45" y1="472.40" x2="36.45" y2="470.80" stroke="#333" stroke-width="0.7"/>
<line x1="44.48" y1="472.40" x2="44.48" y2="470.80" stroke="#333" stroke-width="0.7"/>
<line x1="52.50" y1="472.40" x2="52.50" y2="470.80" stroke="#333" stroke-width="0.7"/>
<line x1="60.52" y1="472.40" x2="60.52" y2="470.80" stroke="#333" stroke-width="0.7"/>
<line x1="68.55" y1="472.40" x2="68.55" y2="470.80" stroke="#333" stroke-width="0.7"/>
<line x1="76.58" y1="472.40" x2="76.58" y2="470.80" stroke="#333" stroke-width="0.7"/>
<line x1="53.40" y1="441.80" x2="84.60" y2="441.80" stroke="#333" stroke-width="0.9"/>
<line x1="53.70" y1="439.90" x2="53.70" y2="443.80" stroke="#333" stroke-width="0.9"/>
<line x1="84.10" y1="439.90" x2="84.10" y2="443.80" stroke="#333" stroke-width="0.9"/>
<text x="81.0" y="415.6" font-size="7.4" fill="#c8324a" stroke="#c8324a" stroke-width="0.12" text-anchor="end" textLength="13.2" lengthAdjust="spacingAndGlyphs">4.22</text>
<text x="81.0" y="423.5" font-size="7.4" fill="#3c6a9c" stroke="#3c6a9c" stroke-width="0.12" text-anchor="end" textLength="13.2" lengthAdjust="spacingAndGlyphs">1.18</text>
<text x="81.0" y="431.3" font-size="7.4" fill="#5aa850" stroke="#5aa850" stroke-width="0.12" text-anchor="end" textLength="13.2" lengthAdjust="spacingAndGlyphs">1.60</text>
<path d="M98.30,470.13 L99.08,470.10 L99.86,470.06 L100.63,470.01 L101.41,469.93 L102.19,469.84 L102.97,469.72 L103.74,469.57 L104.52,469.38 L105.30,469.16 L106.08,468.89 L106.85,468.57 L107.63,468.21 L108.41,467.80 L109.19,467.34 L109.96,466.83 L110.74,466.28 L111.52,465.67 L112.30,464.99 L113.07,464.19 L113.85,463.19 L114.63,461.89 L115.41,460.10 L116.18,457.65 L116.96,454.33 L117.74,449.97 L118.52,444.56 L119.29,438.40 L120.07,431.87 L120.85,425.46 L121.62,419.81 L122.40,415.64 L123.18,413.53 L123.96,414.03 L124.73,419.19 L125.51,428.34 L126.29,439.21 L127.07,449.51 L127.84,457.76 L128.62,463.45 L129.40,466.90 L130.18,468.75 L130.95,469.62 L131.73,469.99 L132.51,470.13 L133.29,470.18 L134.06,470.19 L134.84,470.20 L135.62,470.20 L136.40,470.20 L137.18,470.20 L137.95,470.20 L138.73,470.20 L139.51,470.20 L140.28,470.20 L141.06,470.20 L141.84,470.20 L142.62,470.20 L143.40,470.20 L144.17,470.20 L144.95,470.20 L145.73,470.20 L146.50,470.20 L147.28,470.20 L148.06,470.20 L148.84,470.20 L149.62,470.20 L150.39,470.20 L151.17,470.20 L151.95,470.20 L152.72,470.20 L153.50,470.20 L154.28,470.20 L155.06,470.20 L155.84,470.20 L156.61,470.20 L157.39,470.20 L158.17,470.20 L158.94,470.20 L159.72,470.20 L160.50,470.20" fill="none" stroke="#222" stroke-width="0.9"/>
<path d="M98.30,470.12 L99.08,470.09 L99.86,470.04 L100.63,469.98 L101.41,469.90 L102.19,469.80 L102.97,469.67 L103.74,469.51 L104.52,469.31 L105.30,469.07 L106.08,468.79 L106.85,468.47 L107.63,468.09 L108.41,467.68 L109.19,467.22 L109.96,466.72 L110.74,466.18 L111.52,465.58 L112.30,464.92 L113.07,464.14 L113.85,463.15 L114.63,461.82 L115.41,459.98 L116.18,457.41 L116.96,453.91 L117.74,449.32 L118.52,443.76 L119.29,437.55 L120.07,431.09 L120.85,424.98 L121.62,419.93 L122.40,416.67 L123.18,415.73 L123.96,418.47 L124.73,426.14 L125.51,436.64 L126.29,447.36 L127.07,456.31 L127.84,462.66 L128.62,466.55 L129.40,468.62 L130.18,469.59 L130.95,469.99 L131.73,470.13 L132.51,470.18 L133.29,470.20 L134.06,470.20 L134.84,470.20 L135.62,470.20 L136.40,470.20 L137.18,470.20 L137.95,470.20 L138.73,470.20 L139.51,470.20 L140.28,470.20 L141.06,470.20 L141.84,470.20 L142.62,470.20 L143.40,470.20 L144.17,470.20 L144.95,470.20 L145.73,470.20 L146.50,470.20 L147.28,470.20 L148.06,470.20 L148.84,470.20 L149.62,470.20 L150.39,470.20 L151.17,470.20 L151.95,470.20 L152.72,470.20 L153.50,470.20 L154.28,470.20 L155.06,470.20 L155.84,470.20 L156.61,470.20 L157.39,470.20 L158.17,470.20 L158.94,470.20 L159.72,470.20 L160.50,470.20" fill="none" stroke="#d8304a" stroke-width="0.9"/>
<path d="M98.30,470.14 L99.08,470.11 L99.86,470.08 L100.63,470.03 L101.41,469.97 L102.19,469.88 L102.97,469.78 L103.74,469.64 L104.52,469.48 L105.30,469.27 L106.08,469.03 L106.85,468.74 L107.63,468.40 L108.41,468.02 L109.19,467.60 L109.96,467.13 L110.74,466.62 L111.52,466.05 L112.30,465.42 L113.07,464.68 L113.85,463.78 L114.63,462.61 L115.41,461.02 L116.18,458.82 L116.96,455.82 L117.74,451.84 L118.52,446.78 L119.29,440.86 L120.07,434.40 L120.85,427.81 L121.62,421.63 L122.40,416.49 L123.18,412.97 L123.96,411.45 L124.73,413.58 L125.51,419.61 L126.29,427.51 L127.07,434.99 L127.84,440.41 L128.62,443.10 L129.40,443.20 L130.18,441.37 L130.95,438.30 L131.73,434.61 L132.51,430.72 L133.29,426.94 L134.06,423.48 L134.84,420.51 L135.62,418.18 L136.40,416.59 L137.18,415.81 L137.95,415.85 L138.73,416.57 L139.51,417.93 L140.28,419.88 L141.06,422.35 L141.84,425.26 L142.62,428.51 L143.40,432.00 L144.17,435.62 L144.95,439.29 L145.73,442.90 L146.50,446.39 L147.28,449.69 L148.06,452.74 L148.84,455.53 L149.62,458.02 L150.39,460.21 L151.17,462.11 L151.95,463.73 L152.72,465.08 L153.50,466.21 L154.28,467.12 L155.06,467.86 L155.84,468.44 L156.61,468.89 L157.39,469.24 L158.17,469.50 L158.94,469.70 L159.72,469.85 L160.50,469.95" fill="none" stroke="#48b048" stroke-width="0.9"/>
<path d="M98.30,470.14 L99.08,470.11 L99.86,470.08 L100.63,470.03 L101.41,469.96 L102.19,469.88 L102.97,469.77 L103.74,469.63 L104.52,469.45 L105.30,469.24 L106.08,468.99 L106.85,468.69 L107.63,468.34 L108.41,467.94 L109.19,467.49 L109.96,467.00 L110.74,466.46 L111.52,465.87 L112.30,465.21 L113.07,464.46 L113.85,463.54 L114.63,462.36 L115.41,460.76 L116.18,458.57 L116.96,455.57 L117.74,451.59 L118.52,446.51 L119.29,440.53 L120.07,434.01 L120.85,427.40 L121.62,421.29 L122.40,416.38 L123.18,413.33 L123.96,412.60 L124.73,415.69 L125.51,423.44 L126.29,433.81 L127.07,444.34 L127.84,453.16 L128.62,459.37 L129.40,463.00 L130.18,464.61 L130.95,464.88 L131.73,464.37 L132.51,463.45 L133.29,462.34 L134.06,461.17 L134.84,460.03 L135.62,459.00 L136.40,458.13 L137.18,457.49 L137.95,457.10 L138.73,457.00 L139.51,457.11 L140.28,457.38 L141.06,457.79 L141.84,458.34 L142.62,459.00 L143.40,459.76 L144.17,460.58 L144.95,461.45 L145.73,462.34 L146.50,463.22 L147.28,464.08 L148.06,464.90 L148.84,465.67 L149.62,466.37 L150.39,467.01 L151.17,467.57 L151.95,468.06 L152.72,468.48 L153.50,468.83 L154.28,469.13 L155.06,469.37 L155.84,469.56 L156.61,469.72 L157.39,469.84 L158.17,469.93 L158.94,470.01 L159.72,470.06 L160.50,470.10" fill="none" stroke="#2b5aa0" stroke-width="0.9"/>
<rect x="97.3" y="407.4" width="64.2" height="63.8" stroke="#3a3a3a" stroke-width="0.8" fill="none"/>
<line x1="96.20" y1="415.38" x2="97.70" y2="415.38" stroke="#333" stroke-width="0.7"/>
<line x1="96.20" y1="423.35" x2="97.70" y2="423.35" stroke="#333" stroke-width="0.7"/>
<line x1="96.20" y1="431.32" x2="97.70" y2="431.32" stroke="#333" stroke-width="0.7"/>
<line x1="96.20" y1="439.30" x2="97.70" y2="439.30" stroke="#333" stroke-width="0.7"/>
<line x1="96.20" y1="447.27" x2="97.70" y2="447.27" stroke="#333" stroke-width="0.7"/>
<line x1="96.20" y1="455.25" x2="97.70" y2="455.25" stroke="#333" stroke-width="0.7"/>
<line x1="96.20" y1="463.22" x2="97.70" y2="463.22" stroke="#333" stroke-width="0.7"/>
<line x1="105.33" y1="472.40" x2="105.33" y2="470.80" stroke="#333" stroke-width="0.7"/>
<line x1="113.35" y1="472.40" x2="113.35" y2="470.80" stroke="#333" stroke-width="0.7"/>
<line x1="121.38" y1="472.40" x2="121.38" y2="470.80" stroke="#333" stroke-width="0.7"/>
<line x1="129.40" y1="472.40" x2="129.40" y2="470.80" stroke="#333" stroke-width="0.7"/>
<line x1="137.43" y1="472.40" x2="137.43" y2="470.80" stroke="#333" stroke-width="0.7"/>
<line x1="145.45" y1="472.40" x2="145.45" y2="470.80" stroke="#333" stroke-width="0.7"/>
<line x1="153.47" y1="472.40" x2="153.47" y2="470.80" stroke="#333" stroke-width="0.7"/>
<line x1="130.30" y1="441.80" x2="161.50" y2="441.80" stroke="#333" stroke-width="0.9"/>
<line x1="130.60" y1="439.90" x2="130.60" y2="443.80" stroke="#333" stroke-width="0.9"/>
<line x1="161.00" y1="439.90" x2="161.00" y2="443.80" stroke="#333" stroke-width="0.9"/>
<text x="157.9" y="415.6" font-size="7.4" fill="#c8324a" stroke="#c8324a" stroke-width="0.12" text-anchor="end" textLength="13.2" lengthAdjust="spacingAndGlyphs">2.39</text>
<text x="157.9" y="423.5" font-size="7.4" fill="#3c6a9c" stroke="#3c6a9c" stroke-width="0.12" text-anchor="end" textLength="13.2" lengthAdjust="spacingAndGlyphs">23.7</text>
<text x="157.9" y="431.3" font-size="7.4" fill="#5aa850" stroke="#5aa850" stroke-width="0.12" text-anchor="end" textLength="13.2" lengthAdjust="spacingAndGlyphs">51.6</text>
<path d="M175.80,470.13 L176.58,470.10 L177.36,470.06 L178.13,470.01 L178.91,469.93 L179.69,469.84 L180.47,469.72 L181.24,469.57 L182.02,469.38 L182.80,469.16 L183.58,468.89 L184.35,468.57 L185.13,468.21 L185.91,467.80 L186.69,467.34 L187.46,466.83 L188.24,466.28 L189.02,465.67 L189.80,464.99 L190.57,464.19 L191.35,463.19 L192.13,461.89 L192.91,460.10 L193.68,457.65 L194.46,454.33 L195.24,449.97 L196.02,444.56 L196.79,438.40 L197.57,431.87 L198.35,425.46 L199.12,419.81 L199.90,415.64 L200.68,413.53 L201.46,414.03 L202.24,419.19 L203.01,428.34 L203.79,439.21 L204.57,449.51 L205.34,457.76 L206.12,463.45 L206.90,466.90 L207.68,468.75 L208.46,469.62 L209.23,469.99 L210.01,470.13 L210.79,470.18 L211.56,470.19 L212.34,470.20 L213.12,470.20 L213.90,470.20 L214.68,470.20 L215.45,470.20 L216.23,470.20 L217.01,470.20 L217.78,470.20 L218.56,470.20 L219.34,470.20 L220.12,470.20 L220.90,470.20 L221.67,470.20 L222.45,470.20 L223.23,470.20 L224.00,470.20 L224.78,470.20 L225.56,470.20 L226.34,470.20 L227.12,470.20 L227.89,470.20 L228.67,470.20 L229.45,470.20 L230.22,470.20 L231.00,470.20 L231.78,470.20 L232.56,470.20 L233.34,470.20 L234.11,470.20 L234.89,470.20 L235.67,470.20 L236.44,470.20 L237.22,470.20 L238.00,470.20" fill="none" stroke="#222" stroke-width="0.9"/>
<path d="M175.80,470.11 L176.58,470.08 L177.36,470.03 L178.13,469.97 L178.91,469.88 L179.69,469.77 L180.47,469.64 L181.24,469.47 L182.02,469.27 L182.80,469.02 L183.58,468.73 L184.35,468.39 L185.13,468.01 L185.91,467.59 L186.69,467.13 L187.46,466.62 L188.24,466.07 L189.02,465.47 L189.80,464.79 L190.57,463.98 L191.35,462.93 L192.13,461.50 L192.91,459.52 L193.68,456.76 L194.46,453.02 L195.24,448.21 L196.02,442.52 L196.79,436.26 L197.57,429.90 L198.35,424.05 L199.12,419.45 L199.90,416.77 L200.68,416.51 L201.46,420.88 L202.24,430.06 L203.01,441.29 L203.79,451.79 L204.57,459.84 L205.34,465.05 L206.12,467.93 L206.90,469.32 L207.68,469.90 L208.46,470.11 L209.23,470.17 L210.01,470.19 L210.79,470.20 L211.56,470.20 L212.34,470.20 L213.12,470.20 L213.90,470.20 L214.68,470.20 L215.45,470.20 L216.23,470.20 L217.01,470.20 L217.78,470.20 L218.56,470.20 L219.34,470.20 L220.12,470.20 L220.90,470.20 L221.67,470.20 L222.45,470.20 L223.23,470.20 L224.00,470.20 L224.78,470.20 L225.56,470.20 L226.34,470.20 L227.12,470.20 L227.89,470.20 L228.67,470.20 L229.45,470.20 L230.22,470.20 L231.00,470.20 L231.78,470.20 L232.56,470.20 L233.34,470.20 L234.11,470.20 L234.89,470.20 L235.67,470.20 L236.44,470.20 L237.22,470.20 L238.00,470.20" fill="none" stroke="#d8304a" stroke-width="0.9"/>
<path d="M175.80,470.14 L176.58,470.11 L177.36,470.07 L178.13,470.02 L178.91,469.96 L179.69,469.87 L180.47,469.76 L181.24,469.62 L182.02,469.44 L182.80,469.22 L183.58,468.96 L184.35,468.65 L185.13,468.30 L185.91,467.89 L186.69,467.44 L187.46,466.93 L188.24,466.38 L189.02,465.78 L189.80,465.11 L190.57,464.34 L191.35,463.40 L192.13,462.20 L192.91,460.57 L193.68,458.34 L194.46,455.28 L195.24,451.21 L196.02,446.03 L196.79,439.94 L197.57,433.30 L198.35,426.57 L199.12,420.36 L199.90,415.39 L200.68,412.33 L201.46,411.68 L202.24,414.59 L203.01,421.68 L203.79,431.39 L204.57,441.77 L205.34,451.14 L206.12,458.50 L206.90,463.63 L207.68,466.83 L208.46,468.62 L209.23,469.52 L210.01,469.93 L210.79,470.10 L211.56,470.17 L212.34,470.19 L213.12,470.20 L213.90,470.20 L214.68,470.20 L215.45,470.20 L216.23,470.20 L217.01,470.20 L217.78,470.20 L218.56,470.20 L219.34,470.20 L220.12,470.20 L220.90,470.20 L221.67,470.20 L222.45,470.20 L223.23,470.20 L224.00,470.20 L224.78,470.20 L225.56,470.20 L226.34,470.20 L227.12,470.20 L227.89,470.20 L228.67,470.20 L229.45,470.20 L230.22,470.20 L231.00,470.20 L231.78,470.20 L232.56,470.20 L233.34,470.20 L234.11,470.20 L234.89,470.20 L235.67,470.20 L236.44,470.20 L237.22,470.20 L238.00,470.20" fill="none" stroke="#48b048" stroke-width="0.9"/>
<path d="M175.80,470.14 L176.58,470.11 L177.36,470.07 L178.13,470.02 L178.91,469.95 L179.69,469.86 L180.47,469.75 L181.24,469.60 L182.02,469.42 L182.80,469.20 L183.58,468.94 L184.35,468.63 L185.13,468.27 L185.91,467.86 L186.69,467.40 L187.46,466.90 L188.24,466.35 L189.02,465.74 L189.80,465.07 L190.57,464.29 L191.35,463.33 L192.13,462.10 L192.91,460.42 L193.68,458.11 L194.46,454.97 L195.24,450.80 L196.02,445.54 L196.79,439.42 L197.57,432.81 L198.35,426.17 L199.12,420.14 L199.90,415.43 L200.68,412.69 L201.46,412.38 L202.24,416.06 L203.01,424.01 L203.79,434.34 L204.57,444.89 L205.34,453.97 L206.12,460.74 L206.90,465.19 L207.68,467.79 L208.46,469.15 L209.23,469.78 L210.01,470.05 L210.79,470.15 L211.56,470.19 L212.34,470.20 L213.12,470.20 L213.90,470.20 L214.68,470.20 L215.45,470.20 L216.23,470.20 L217.01,470.20 L217.78,470.20 L218.56,470.20 L219.34,470.20 L220.12,470.20 L220.90,470.20 L221.67,470.20 L222.45,470.20 L223.23,470.20 L224.00,470.20 L224.78,470.20 L225.56,470.20 L226.34,470.20 L227.12,470.20 L227.89,470.20 L228.67,470.20 L229.45,470.20 L230.22,470.20 L231.00,470.20 L231.78,470.20 L232.56,470.20 L233.34,470.20 L234.11,470.20 L234.89,470.20 L235.67,470.20 L236.44,470.20 L237.22,470.20 L238.00,470.20" fill="none" stroke="#2b5aa0" stroke-width="0.8"/>
<rect x="174.8" y="407.4" width="64.2" height="63.8" stroke="#3a3a3a" stroke-width="0.8" fill="none"/>
<line x1="173.70" y1="415.38" x2="175.20" y2="415.38" stroke="#333" stroke-width="0.7"/>
<line x1="173.70" y1="423.35" x2="175.20" y2="423.35" stroke="#333" stroke-width="0.7"/>
<line x1="173.70" y1="431.32" x2="175.20" y2="431.32" stroke="#333" stroke-width="0.7"/>
<line x1="173.70" y1="439.30" x2="175.20" y2="439.30" stroke="#333" stroke-width="0.7"/>
<line x1="173.70" y1="447.27" x2="175.20" y2="447.27" stroke="#333" stroke-width="0.7"/>
<line x1="173.70" y1="455.25" x2="175.20" y2="455.25" stroke="#333" stroke-width="0.7"/>
<line x1="173.70" y1="463.22" x2="175.20" y2="463.22" stroke="#333" stroke-width="0.7"/>
<line x1="182.83" y1="472.40" x2="182.83" y2="470.80" stroke="#333" stroke-width="0.7"/>
<line x1="190.85" y1="472.40" x2="190.85" y2="470.80" stroke="#333" stroke-width="0.7"/>
<line x1="198.88" y1="472.40" x2="198.88" y2="470.80" stroke="#333" stroke-width="0.7"/>
<line x1="206.90" y1="472.40" x2="206.90" y2="470.80" stroke="#333" stroke-width="0.7"/>
<line x1="214.93" y1="472.40" x2="214.93" y2="470.80" stroke="#333" stroke-width="0.7"/>
<line x1="222.95" y1="472.40" x2="222.95" y2="470.80" stroke="#333" stroke-width="0.7"/>
<line x1="230.98" y1="472.40" x2="230.98" y2="470.80" stroke="#333" stroke-width="0.7"/>
<line x1="207.80" y1="441.80" x2="239.00" y2="441.80" stroke="#333" stroke-width="0.9"/>
<line x1="208.10" y1="439.90" x2="208.10" y2="443.80" stroke="#333" stroke-width="0.9"/>
<line x1="238.50" y1="439.90" x2="238.50" y2="443.80" stroke="#333" stroke-width="0.9"/>
<text x="235.4" y="415.6" font-size="7.4" fill="#c8324a" stroke="#c8324a" stroke-width="0.12" text-anchor="end" textLength="13.2" lengthAdjust="spacingAndGlyphs">2.58</text>
<text x="235.4" y="423.5" font-size="7.4" fill="#3c6a9c" stroke="#3c6a9c" stroke-width="0.12" text-anchor="end" textLength="13.2" lengthAdjust="spacingAndGlyphs">1.89</text>
<text x="235.4" y="431.3" font-size="7.4" fill="#5aa850" stroke="#5aa850" stroke-width="0.12" text-anchor="end" textLength="13.2" lengthAdjust="spacingAndGlyphs">1.61</text>
<path d="M252.00,470.13 L252.78,470.10 L253.56,470.06 L254.33,470.01 L255.11,469.93 L255.89,469.84 L256.67,469.72 L257.44,469.57 L258.22,469.38 L259.00,469.16 L259.77,468.89 L260.55,468.57 L261.33,468.21 L262.11,467.80 L262.88,467.34 L263.66,466.83 L264.44,466.28 L265.22,465.67 L266.00,464.99 L266.77,464.19 L267.55,463.19 L268.33,461.89 L269.11,460.10 L269.88,457.65 L270.66,454.33 L271.44,449.97 L272.21,444.56 L272.99,438.40 L273.77,431.87 L274.55,425.46 L275.32,419.81 L276.10,415.64 L276.88,413.53 L277.66,414.03 L278.44,419.19 L279.21,428.34 L279.99,439.21 L280.77,449.51 L281.55,457.76 L282.32,463.45 L283.10,466.90 L283.88,468.75 L284.65,469.62 L285.43,469.99 L286.21,470.13 L286.99,470.18 L287.76,470.19 L288.54,470.20 L289.32,470.20 L290.10,470.20 L290.88,470.20 L291.65,470.20 L292.43,470.20 L293.21,470.20 L293.99,470.20 L294.76,470.20 L295.54,470.20 L296.32,470.20 L297.09,470.20 L297.87,470.20 L298.65,470.20 L299.43,470.20 L300.20,470.20 L300.98,470.20 L301.76,470.20 L302.54,470.20 L303.31,470.20 L304.09,470.20 L304.87,470.20 L305.65,470.20 L306.43,470.20 L307.20,470.20 L307.98,470.20 L308.76,470.20 L309.53,470.20 L310.31,470.20 L311.09,470.20 L311.87,470.20 L312.64,470.20 L313.42,470.20 L314.20,470.20" fill="none" stroke="#222" stroke-width="0.9"/>
<path d="M252.00,470.11 L252.78,470.08 L253.56,470.03 L254.33,469.97 L255.11,469.88 L255.89,469.77 L256.67,469.64 L257.44,469.47 L258.22,469.27 L259.00,469.02 L259.77,468.73 L260.55,468.39 L261.33,468.01 L262.11,467.59 L262.88,467.13 L263.66,466.62 L264.44,466.07 L265.22,465.47 L266.00,464.79 L266.77,463.98 L267.55,462.93 L268.33,461.50 L269.11,459.52 L269.88,456.76 L270.66,453.02 L271.44,448.21 L272.21,442.52 L272.99,436.26 L273.77,429.90 L274.55,424.05 L275.32,419.45 L276.10,416.77 L276.88,416.51 L277.66,420.88 L278.44,430.06 L279.21,441.29 L279.99,451.79 L280.77,459.84 L281.55,465.05 L282.32,467.93 L283.10,469.32 L283.88,469.90 L284.65,470.11 L285.43,470.17 L286.21,470.19 L286.99,470.20 L287.76,470.20 L288.54,470.20 L289.32,470.20 L290.10,470.20 L290.88,470.20 L291.65,470.20 L292.43,470.20 L293.21,470.20 L293.99,470.20 L294.76,470.20 L295.54,470.20 L296.32,470.20 L297.09,470.20 L297.87,470.20 L298.65,470.20 L299.43,470.20 L300.20,470.20 L300.98,470.20 L301.76,470.20 L302.54,470.20 L303.31,470.20 L304.09,470.20 L304.87,470.20 L305.65,470.20 L306.43,470.20 L307.20,470.20 L307.98,470.20 L308.76,470.20 L309.53,470.20 L310.31,470.20 L311.09,470.20 L311.87,470.20 L312.64,470.20 L313.42,470.20 L314.20,470.20" fill="none" stroke="#d8304a" stroke-width="0.9"/>
<path d="M252.00,470.14 L252.78,470.11 L253.56,470.07 L254.33,470.02 L255.11,469.96 L255.89,469.87 L256.67,469.76 L257.44,469.62 L258.22,469.44 L259.00,469.22 L259.77,468.96 L260.55,468.65 L261.33,468.30 L262.11,467.89 L262.88,467.44 L263.66,466.93 L264.44,466.38 L265.22,465.78 L266.00,465.11 L266.77,464.34 L267.55,463.40 L268.33,462.20 L269.11,460.57 L269.88,458.34 L270.66,455.28 L271.44,451.21 L272.21,446.03 L272.99,439.94 L273.77,433.30 L274.55,426.57 L275.32,420.36 L276.10,415.39 L276.88,412.33 L277.66,411.68 L278.44,414.59 L279.21,421.68 L279.99,431.39 L280.77,441.77 L281.55,451.14 L282.32,458.50 L283.10,463.63 L283.88,466.83 L284.65,468.62 L285.43,469.52 L286.21,469.93 L286.99,470.10 L287.76,470.17 L288.54,470.19 L289.32,470.20 L290.10,470.20 L290.88,470.20 L291.65,470.20 L292.43,470.20 L293.21,470.20 L293.99,470.20 L294.76,470.20 L295.54,470.20 L296.32,470.20 L297.09,470.20 L297.87,470.20 L298.65,470.20 L299.43,470.20 L300.20,470.20 L300.98,470.20 L301.76,470.20 L302.54,470.20 L303.31,470.20 L304.09,470.20 L304.87,470.20 L305.65,470.20 L306.43,470.20 L307.20,470.20 L307.98,470.20 L308.76,470.20 L309.53,470.20 L310.31,470.20 L311.09,470.20 L311.87,470.20 L312.64,470.20 L313.42,470.20 L314.20,470.20" fill="none" stroke="#48b048" stroke-width="0.9"/>
<path d="M252.00,470.14 L252.78,470.11 L253.56,470.07 L254.33,470.02 L255.11,469.95 L255.89,469.86 L256.67,469.75 L257.44,469.60 L258.22,469.42 L259.00,469.20 L259.77,468.94 L260.55,468.63 L261.33,468.27 L262.11,467.86 L262.88,467.40 L263.66,466.90 L264.44,466.35 L265.22,465.74 L266.00,465.07 L266.77,464.29 L267.55,463.33 L268.33,462.10 L269.11,460.42 L269.88,458.11 L270.66,454.97 L271.44,450.80 L272.21,445.54 L272.99,439.42 L273.77,432.81 L274.55,426.17 L275.32,420.14 L276.10,415.43 L276.88,412.69 L277.66,412.38 L278.44,416.06 L279.21,424.01 L279.99,434.34 L280.77,444.89 L281.55,453.97 L282.32,460.74 L283.10,465.19 L283.88,467.79 L284.65,469.15 L285.43,469.78 L286.21,470.05 L286.99,470.15 L287.76,470.19 L288.54,470.20 L289.32,470.20 L290.10,470.20 L290.88,470.20 L291.65,470.20 L292.43,470.20 L293.21,470.20 L293.99,470.20 L294.76,470.20 L295.54,470.20 L296.32,470.20 L297.09,470.20 L297.87,470.20 L298.65,470.20 L299.43,470.20 L300.20,470.20 L300.98,470.20 L301.76,470.20 L302.54,470.20 L303.31,470.20 L304.09,470.20 L304.87,470.20 L305.65,470.20 L306.43,470.20 L307.20,470.20 L307.98,470.20 L308.76,470.20 L309.53,470.20 L310.31,470.20 L311.09,470.20 L311.87,470.20 L312.64,470.20 L313.42,470.20 L314.20,470.20" fill="none" stroke="#2b5aa0" stroke-width="0.8"/>
<rect x="251.0" y="407.4" width="64.2" height="63.8" stroke="#3a3a3a" stroke-width="0.8" fill="none"/>
<line x1="249.90" y1="415.38" x2="251.40" y2="415.38" stroke="#333" stroke-width="0.7"/>
<line x1="249.90" y1="423.35" x2="251.40" y2="423.35" stroke="#333" stroke-width="0.7"/>
<line x1="249.90" y1="431.32" x2="251.40" y2="431.32" stroke="#333" stroke-width="0.7"/>
<line x1="249.90" y1="439.30" x2="251.40" y2="439.30" stroke="#333" stroke-width="0.7"/>
<line x1="249.90" y1="447.27" x2="251.40" y2="447.27" stroke="#333" stroke-width="0.7"/>
<line x1="249.90" y1="455.25" x2="251.40" y2="455.25" stroke="#333" stroke-width="0.7"/>
<line x1="249.90" y1="463.22" x2="251.40" y2="463.22" stroke="#333" stroke-width="0.7"/>
<line x1="259.02" y1="472.40" x2="259.02" y2="470.80" stroke="#333" stroke-width="0.7"/>
<line x1="267.05" y1="472.40" x2="267.05" y2="470.80" stroke="#333" stroke-width="0.7"/>
<line x1="275.07" y1="472.40" x2="275.07" y2="470.80" stroke="#333" stroke-width="0.7"/>
<line x1="283.10" y1="472.40" x2="283.10" y2="470.80" stroke="#333" stroke-width="0.7"/>
<line x1="291.12" y1="472.40" x2="291.12" y2="470.80" stroke="#333" stroke-width="0.7"/>
<line x1="299.15" y1="472.40" x2="299.15" y2="470.80" stroke="#333" stroke-width="0.7"/>
<line x1="307.18" y1="472.40" x2="307.18" y2="470.80" stroke="#333" stroke-width="0.7"/>
<line x1="284.00" y1="441.80" x2="315.20" y2="441.80" stroke="#333" stroke-width="0.9"/>
<line x1="284.30" y1="439.90" x2="284.30" y2="443.80" stroke="#333" stroke-width="0.9"/>
<line x1="314.70" y1="439.90" x2="314.70" y2="443.80" stroke="#333" stroke-width="0.9"/>
<text x="311.6" y="415.6" font-size="7.4" fill="#c8324a" stroke="#c8324a" stroke-width="0.12" text-anchor="end" textLength="13.2" lengthAdjust="spacingAndGlyphs">4.44</text>
<text x="311.6" y="423.5" font-size="7.4" fill="#3c6a9c" stroke="#3c6a9c" stroke-width="0.12" text-anchor="end" textLength="13.2" lengthAdjust="spacingAndGlyphs">0.87</text>
<text x="311.6" y="431.3" font-size="7.4" fill="#5aa850" stroke="#5aa850" stroke-width="0.12" text-anchor="end" textLength="13.2" lengthAdjust="spacingAndGlyphs">0.85</text>
<text x="22.4" y="415.6" font-size="7.2" fill="#c8324a" stroke="#c8324a" stroke-width="0.12" textLength="12.2" lengthAdjust="spacingAndGlyphs">Treg</text>
<text x="22.4" y="423.5" font-size="7.2" fill="#3c6a9c" stroke="#3c6a9c" stroke-width="0.12" textLength="19.0" lengthAdjust="spacingAndGlyphs">CD4<tspan font-size="5.0" dy="-3">+</tspan><tspan dy="3">​</tspan></text>
<text x="22.4" y="431.3" font-size="7.2" fill="#5aa850" stroke="#5aa850" stroke-width="0.12" textLength="19.0" lengthAdjust="spacingAndGlyphs">CD8<tspan font-size="5.0" dy="-3">+</tspan><tspan dy="3">​</tspan></text>
<line x1="13.80" y1="469.70" x2="13.80" y2="416.80" stroke="#444" stroke-width="0.9"/>
<path d="M11.9,418.40000000000003 L13.8,413.8 L15.700000000000001,418.40000000000003 Z" fill="#231f20"/>
<text x="0" y="0" font-size="9.96" fill="#2a2a2a" font-weight="bold" transform="translate(8.9 456.0) rotate(-90)" textLength="30.0" lengthAdjust="spacingAndGlyphs">% of max</text>
<line x1="20.00" y1="477.50" x2="311.40" y2="477.50" stroke="#444" stroke-width="0.9"/>
<path d="M309.79999999999995,475.6 L314.4,477.5 L309.79999999999995,479.4 Z" fill="#231f20"/>
<text x="157.1" y="489.2" font-size="10.18" fill="#2a2a2a" font-weight="bold" textLength="15.2" lengthAdjust="spacingAndGlyphs">Ki-67</text>
<line x1="376.00" y1="4.00" x2="385.20" y2="4.00" stroke="#86c98a" stroke-width="1.3"/>
<path d="M378.30,5.84 L380.60,1.70 L382.90,5.84 Z" fill="#2f6e3c"/>
<text x="389.0" y="6.0" font-size="6.5" fill="#333" stroke="#333" stroke-width="0.12" textLength="88.7" lengthAdjust="spacingAndGlyphs">Cohort 1 (20 µg/kg, s.c., n = 8)</text>
<line x1="376.00" y1="13.15" x2="385.20" y2="13.15" stroke="#e0707e" stroke-width="1.3"/>
<rect x="378.65" y="11.20" width="3.91" height="3.91" fill="#8e1b33"/>
<text x="389.0" y="15.15" font-size="6.5" fill="#333" stroke="#333" stroke-width="0.12" textLength="88.7" lengthAdjust="spacingAndGlyphs">Cohort 2 (60 µg/kg, s.c., n = 8)</text>
<line x1="376.00" y1="22.30" x2="385.20" y2="22.30" stroke="#6f95c4" stroke-width="1.3"/>
<circle cx="380.60" cy="22.30" r="2.07" fill="#1c2640"/>
<text x="389.0" y="24.3" font-size="6.5" fill="#333" stroke="#333" stroke-width="0.12" textLength="88.0" lengthAdjust="spacingAndGlyphs">Cohort 3 (60 µg/kg, i.m., n = 8)</text>
<path d="M378.30,29.61 L380.60,33.75 L382.90,29.61 Z" fill="#505050"/>
<text x="389.0" y="33.45" font-size="6.5" fill="#333" stroke="#333" stroke-width="0.12" textLength="22.3" lengthAdjust="spacingAndGlyphs">Placebo</text>
<line x1="376.30" y1="42.10" x2="376.30" y2="117.50" stroke="#2a2a2a" stroke-width="1.0"/>
<line x1="373.70" y1="117.10" x2="376.30" y2="117.10" stroke="#2a2a2a" stroke-width="0.9"/>
<text x="370.0" y="119.69999999999999" font-size="7.3" fill="#2a2a2a" text-anchor="end" stroke="#2a2a2a" stroke-width="0.22">0</text>
<line x1="373.70" y1="99.05" x2="376.30" y2="99.05" stroke="#2a2a2a" stroke-width="0.9"/>
<text x="370.0" y="101.64999999999999" font-size="7.3" fill="#2a2a2a" text-anchor="end" stroke="#2a2a2a" stroke-width="0.22">5</text>
<line x1="373.70" y1="81.00" x2="376.30" y2="81.00" stroke="#2a2a2a" stroke-width="0.9"/>
<text x="370.0" y="83.6" font-size="7.3" fill="#2a2a2a" text-anchor="end" stroke="#2a2a2a" stroke-width="0.22">10</text>
<line x1="373.70" y1="62.95" x2="376.30" y2="62.95" stroke="#2a2a2a" stroke-width="0.9"/>
<text x="370.0" y="65.55" font-size="7.3" fill="#2a2a2a" text-anchor="end" stroke="#2a2a2a" stroke-width="0.22">15</text>
<line x1="373.70" y1="44.90" x2="376.30" y2="44.90" stroke="#2a2a2a" stroke-width="0.9"/>
<text x="370.0" y="47.49999999999999" font-size="7.3" fill="#2a2a2a" text-anchor="end" stroke="#2a2a2a" stroke-width="0.22">20</text>
<line x1="376.30" y1="117.10" x2="469.40" y2="117.10" stroke="#2a2a2a" stroke-width="1.0"/>
<line x1="472.90" y1="117.10" x2="486.70" y2="117.10" stroke="#2a2a2a" stroke-width="1.0"/>
<line x1="469.40" y1="113.80" x2="469.40" y2="120.40" stroke="#2a2a2a" stroke-width="0.9"/>
<line x1="472.90" y1="113.80" x2="472.90" y2="120.40" stroke="#2a2a2a" stroke-width="0.9"/>
<line x1="376.50" y1="117.10" x2="376.50" y2="119.70" stroke="#2a2a2a" stroke-width="0.9"/>
<text x="376.5" y="130.3" font-size="7.5" fill="#2a2a2a" text-anchor="middle" stroke="#2a2a2a" stroke-width="0.22">0</text>
<line x1="396.80" y1="117.10" x2="396.80" y2="119.70" stroke="#2a2a2a" stroke-width="0.9"/>
<text x="396.8" y="130.3" font-size="7.5" fill="#2a2a2a" text-anchor="middle" stroke="#2a2a2a" stroke-width="0.22">7</text>
<line x1="417.10" y1="117.10" x2="417.10" y2="119.70" stroke="#2a2a2a" stroke-width="0.9"/>
<text x="417.1" y="130.3" font-size="7.5" fill="#2a2a2a" text-anchor="middle" stroke="#2a2a2a" stroke-width="0.22">14</text>
<line x1="437.40" y1="117.10" x2="437.40" y2="119.70" stroke="#2a2a2a" stroke-width="0.9"/>
<text x="437.4" y="130.3" font-size="7.5" fill="#2a2a2a" text-anchor="middle" stroke="#2a2a2a" stroke-width="0.22">21</text>
<line x1="457.70" y1="117.10" x2="457.70" y2="119.70" stroke="#2a2a2a" stroke-width="0.9"/>
<text x="457.7" y="130.3" font-size="7.5" fill="#2a2a2a" text-anchor="middle" stroke="#2a2a2a" stroke-width="0.22">28</text>
<line x1="483.30" y1="117.10" x2="483.30" y2="119.70" stroke="#2a2a2a" stroke-width="0.9"/>
<text x="483.3" y="130.3" font-size="7.5" fill="#2a2a2a" text-anchor="middle" stroke="#2a2a2a" stroke-width="0.22">56</text>
<text x="0" y="0" font-size="10.18" fill="#2a2a2a" font-weight="bold" transform="translate(354.6 119.5) rotate(-90)" textLength="77.5" lengthAdjust="spacingAndGlyphs">% of Treg in CD4<tspan font-size="6" dy="-3">+</tspan><tspan dy="3">​</tspan> T cells</text>
<path d="M376.50,95.08 L385.20,91.83 L396.80,93.63 L417.10,96.16 L437.40,96.52 L457.70,101.58" fill="none" stroke="#d8d8d8" stroke-width="1.0"/>
<path d="M457.70,101.58 L483.30,86.78" fill="none" stroke="#d8d8d8" stroke-width="1.0" stroke-dasharray="5.5 2.5"/>
<path d="M376.50,94.72 L385.20,91.11 L396.80,101.94 L417.10,96.16 L437.40,96.16 L457.70,100.49" fill="none" stroke="#86c98a" stroke-width="1.0"/>
<path d="M457.70,100.49 L483.30,93.27" fill="none" stroke="#86c98a" stroke-width="1.0" stroke-dasharray="5.5 2.5"/>
<path d="M376.50,94.72 L385.20,90.02 L396.80,95.44 L417.10,101.22 L437.40,99.41 L457.70,103.38" fill="none" stroke="#e0707e" stroke-width="1.0"/>
<path d="M457.70,103.38 L483.30,97.97" fill="none" stroke="#e0707e" stroke-width="1.0" stroke-dasharray="5.5 2.5"/>
<path d="M376.50,99.77 L385.20,79.19 L396.80,94.00 L417.10,105.91 L437.40,105.91 L457.70,105.55" fill="none" stroke="#6f95c4" stroke-width="1.0"/>
<path d="M457.70,105.55 L483.30,99.41" fill="none" stroke="#6f95c4" stroke-width="1.0" stroke-dasharray="5.5 2.5"/>
<path d="M374.20,93.24 L376.50,97.38 L378.80,93.24 Z" fill="#505050"/>
<line x1="385.20" y1="88.22" x2="385.20" y2="95.44" stroke="#505050" stroke-width="0.7"/>
<line x1="383.90" y1="88.22" x2="386.50" y2="88.22" stroke="#505050" stroke-width="0.7"/>
<line x1="383.90" y1="95.44" x2="386.50" y2="95.44" stroke="#505050" stroke-width="0.7"/>
<path d="M382.90,89.99 L385.20,94.13 L387.50,89.99 Z" fill="#505050"/>
<line x1="396.80" y1="91.47" x2="396.80" y2="95.80" stroke="#505050" stroke-width="0.7"/>
<line x1="395.50" y1="91.47" x2="398.10" y2="91.47" stroke="#505050" stroke-width="0.7"/>
<line x1="395.50" y1="95.80" x2="398.10" y2="95.80" stroke="#505050" stroke-width="0.7"/>
<path d="M394.50,91.79 L396.80,95.93 L399.10,91.79 Z" fill="#505050"/>
<line x1="417.10" y1="91.47" x2="417.10" y2="100.85" stroke="#505050" stroke-width="0.7"/>
<line x1="415.80" y1="91.47" x2="418.40" y2="91.47" stroke="#505050" stroke-width="0.7"/>
<line x1="415.80" y1="100.85" x2="418.40" y2="100.85" stroke="#505050" stroke-width="0.7"/>
<path d="M414.80,94.32 L417.10,98.46 L419.40,94.32 Z" fill="#505050"/>
<line x1="437.40" y1="93.63" x2="437.40" y2="99.41" stroke="#505050" stroke-width="0.7"/>
<line x1="436.10" y1="93.63" x2="438.70" y2="93.63" stroke="#505050" stroke-width="0.7"/>
<line x1="436.10" y1="99.41" x2="438.70" y2="99.41" stroke="#505050" stroke-width="0.7"/>
<path d="M435.10,94.68 L437.40,98.82 L439.70,94.68 Z" fill="#505050"/>
<line x1="457.70" y1="98.69" x2="457.70" y2="104.46" stroke="#505050" stroke-width="0.7"/>
<line x1="456.40" y1="98.69" x2="459.00" y2="98.69" stroke="#505050" stroke-width="0.7"/>
<line x1="456.40" y1="104.46" x2="459.00" y2="104.46" stroke="#505050" stroke-width="0.7"/>
<path d="M455.40,99.74 L457.70,103.88 L460.00,99.74 Z" fill="#505050"/>
<line x1="483.30" y1="83.89" x2="483.30" y2="89.66" stroke="#505050" stroke-width="0.7"/>
<line x1="482.00" y1="83.89" x2="484.60" y2="83.89" stroke="#505050" stroke-width="0.7"/>
<line x1="482.00" y1="89.66" x2="484.60" y2="89.66" stroke="#505050" stroke-width="0.7"/>
<path d="M481.00,84.94 L483.30,89.08 L485.60,84.94 Z" fill="#505050"/>
<path d="M374.20,96.56 L376.50,92.42 L378.80,96.56 Z" fill="#2f6e3c"/>
<line x1="385.20" y1="86.78" x2="385.20" y2="95.44" stroke="#2f6e3c" stroke-width="0.7"/>
<line x1="383.90" y1="86.78" x2="386.50" y2="86.78" stroke="#2f6e3c" stroke-width="0.7"/>
<line x1="383.90" y1="95.44" x2="386.50" y2="95.44" stroke="#2f6e3c" stroke-width="0.7"/>
<path d="M382.90,92.95 L385.20,88.81 L387.50,92.95 Z" fill="#2f6e3c"/>
<line x1="396.80" y1="99.41" x2="396.80" y2="104.46" stroke="#2f6e3c" stroke-width="0.7"/>
<line x1="395.50" y1="99.41" x2="398.10" y2="99.41" stroke="#2f6e3c" stroke-width="0.7"/>
<line x1="395.50" y1="104.46" x2="398.10" y2="104.46" stroke="#2f6e3c" stroke-width="0.7"/>
<path d="M394.50,103.78 L396.80,99.64 L399.10,103.78 Z" fill="#2f6e3c"/>
<line x1="417.10" y1="93.27" x2="417.10" y2="99.05" stroke="#2f6e3c" stroke-width="0.7"/>
<line x1="415.80" y1="93.27" x2="418.40" y2="93.27" stroke="#2f6e3c" stroke-width="0.7"/>
<line x1="415.80" y1="99.05" x2="418.40" y2="99.05" stroke="#2f6e3c" stroke-width="0.7"/>
<path d="M414.80,98.00 L417.10,93.86 L419.40,98.00 Z" fill="#2f6e3c"/>
<line x1="437.40" y1="93.27" x2="437.40" y2="99.05" stroke="#2f6e3c" stroke-width="0.7"/>
<line x1="436.10" y1="93.27" x2="438.70" y2="93.27" stroke="#2f6e3c" stroke-width="0.7"/>
<line x1="436.10" y1="99.05" x2="438.70" y2="99.05" stroke="#2f6e3c" stroke-width="0.7"/>
<path d="M435.10,98.00 L437.40,93.86 L439.70,98.00 Z" fill="#2f6e3c"/>
<line x1="457.70" y1="97.97" x2="457.70" y2="103.02" stroke="#2f6e3c" stroke-width="0.7"/>
<line x1="456.40" y1="97.97" x2="459.00" y2="97.97" stroke="#2f6e3c" stroke-width="0.7"/>
<line x1="456.40" y1="103.02" x2="459.00" y2="103.02" stroke="#2f6e3c" stroke-width="0.7"/>
<path d="M455.40,102.33 L457.70,98.19 L460.00,102.33 Z" fill="#2f6e3c"/>
<line x1="483.30" y1="90.39" x2="483.30" y2="96.16" stroke="#2f6e3c" stroke-width="0.7"/>
<line x1="482.00" y1="90.39" x2="484.60" y2="90.39" stroke="#2f6e3c" stroke-width="0.7"/>
<line x1="482.00" y1="96.16" x2="484.60" y2="96.16" stroke="#2f6e3c" stroke-width="0.7"/>
<path d="M481.00,95.11 L483.30,90.97 L485.60,95.11 Z" fill="#2f6e3c"/>
<rect x="374.55" y="92.76" width="3.91" height="3.91" fill="#8e1b33"/>
<line x1="385.20" y1="84.61" x2="385.20" y2="95.44" stroke="#8e1b33" stroke-width="0.7"/>
<line x1="383.90" y1="84.61" x2="386.50" y2="84.61" stroke="#8e1b33" stroke-width="0.7"/>
<line x1="383.90" y1="95.44" x2="386.50" y2="95.44" stroke="#8e1b33" stroke-width="0.7"/>
<rect x="383.25" y="88.07" width="3.91" height="3.91" fill="#8e1b33"/>
<line x1="396.80" y1="92.91" x2="396.80" y2="97.97" stroke="#8e1b33" stroke-width="0.7"/>
<line x1="395.50" y1="92.91" x2="398.10" y2="92.91" stroke="#8e1b33" stroke-width="0.7"/>
<line x1="395.50" y1="97.97" x2="398.10" y2="97.97" stroke="#8e1b33" stroke-width="0.7"/>
<rect x="394.85" y="93.48" width="3.91" height="3.91" fill="#8e1b33"/>
<line x1="417.10" y1="97.61" x2="417.10" y2="104.83" stroke="#8e1b33" stroke-width="0.7"/>
<line x1="415.80" y1="97.61" x2="418.40" y2="97.61" stroke="#8e1b33" stroke-width="0.7"/>
<line x1="415.80" y1="104.83" x2="418.40" y2="104.83" stroke="#8e1b33" stroke-width="0.7"/>
<rect x="415.15" y="99.26" width="3.91" height="3.91" fill="#8e1b33"/>
<line x1="437.40" y1="96.52" x2="437.40" y2="102.30" stroke="#8e1b33" stroke-width="0.7"/>
<line x1="436.10" y1="96.52" x2="438.70" y2="96.52" stroke="#8e1b33" stroke-width="0.7"/>
<line x1="436.10" y1="102.30" x2="438.70" y2="102.30" stroke="#8e1b33" stroke-width="0.7"/>
<rect x="435.44" y="97.46" width="3.91" height="3.91" fill="#8e1b33"/>
<line x1="457.70" y1="100.85" x2="457.70" y2="105.91" stroke="#8e1b33" stroke-width="0.7"/>
<line x1="456.40" y1="100.85" x2="459.00" y2="100.85" stroke="#8e1b33" stroke-width="0.7"/>
<line x1="456.40" y1="105.91" x2="459.00" y2="105.91" stroke="#8e1b33" stroke-width="0.7"/>
<rect x="455.75" y="101.43" width="3.91" height="3.91" fill="#8e1b33"/>
<line x1="483.30" y1="95.80" x2="483.30" y2="100.13" stroke="#8e1b33" stroke-width="0.7"/>
<line x1="482.00" y1="95.80" x2="484.60" y2="95.80" stroke="#8e1b33" stroke-width="0.7"/>
<line x1="482.00" y1="100.13" x2="484.60" y2="100.13" stroke="#8e1b33" stroke-width="0.7"/>
<rect x="481.35" y="96.01" width="3.91" height="3.91" fill="#8e1b33"/>
<circle cx="376.50" cy="99.77" r="2.07" fill="#1c2640"/>
<line x1="385.20" y1="77.75" x2="385.20" y2="80.64" stroke="#1c2640" stroke-width="0.7"/>
<line x1="383.90" y1="77.75" x2="386.50" y2="77.75" stroke="#1c2640" stroke-width="0.7"/>
<line x1="383.90" y1="80.64" x2="386.50" y2="80.64" stroke="#1c2640" stroke-width="0.7"/>
<circle cx="385.20" cy="79.19" r="2.07" fill="#1c2640"/>
<line x1="396.80" y1="90.75" x2="396.80" y2="97.24" stroke="#1c2640" stroke-width="0.7"/>
<line x1="395.50" y1="90.75" x2="398.10" y2="90.75" stroke="#1c2640" stroke-width="0.7"/>
<line x1="395.50" y1="97.24" x2="398.10" y2="97.24" stroke="#1c2640" stroke-width="0.7"/>
<circle cx="396.80" cy="94.00" r="2.07" fill="#1c2640"/>
<line x1="417.10" y1="104.10" x2="417.10" y2="107.71" stroke="#1c2640" stroke-width="0.7"/>
<line x1="415.80" y1="104.10" x2="418.40" y2="104.10" stroke="#1c2640" stroke-width="0.7"/>
<line x1="415.80" y1="107.71" x2="418.40" y2="107.71" stroke="#1c2640" stroke-width="0.7"/>
<circle cx="417.10" cy="105.91" r="2.07" fill="#1c2640"/>
<line x1="437.40" y1="104.83" x2="437.40" y2="106.99" stroke="#1c2640" stroke-width="0.7"/>
<line x1="436.10" y1="104.83" x2="438.70" y2="104.83" stroke="#1c2640" stroke-width="0.7"/>
<line x1="436.10" y1="106.99" x2="438.70" y2="106.99" stroke="#1c2640" stroke-width="0.7"/>
<circle cx="437.40" cy="105.91" r="2.07" fill="#1c2640"/>
<line x1="457.70" y1="103.74" x2="457.70" y2="107.35" stroke="#1c2640" stroke-width="0.7"/>
<line x1="456.40" y1="103.74" x2="459.00" y2="103.74" stroke="#1c2640" stroke-width="0.7"/>
<line x1="456.40" y1="107.35" x2="459.00" y2="107.35" stroke="#1c2640" stroke-width="0.7"/>
<circle cx="457.70" cy="105.55" r="2.07" fill="#1c2640"/>
<line x1="483.30" y1="96.52" x2="483.30" y2="102.30" stroke="#1c2640" stroke-width="0.7"/>
<line x1="482.00" y1="96.52" x2="484.60" y2="96.52" stroke="#1c2640" stroke-width="0.7"/>
<line x1="482.00" y1="102.30" x2="484.60" y2="102.30" stroke="#1c2640" stroke-width="0.7"/>
<circle cx="483.30" cy="99.41" r="2.07" fill="#1c2640"/>
<path d="M423.90,55.26 L426.10,51.30 L428.30,55.26 Z" fill="#2f6e3c"/>
<text x="431.0" y="55.8" font-size="6.6" fill="#5cab5c" stroke="#5cab5c" stroke-width="0.12" textLength="55.0" lengthAdjust="spacingAndGlyphs">Cohort 1 :<tspan font-style="italic">P</tspan> = .016</text>
<rect x="424.23" y="59.83" width="3.74" height="3.74" fill="#8e1b33"/>
<text x="431.0" y="64.0" font-size="6.6" fill="#c8344c" stroke="#c8344c" stroke-width="0.12" textLength="55.0" lengthAdjust="spacingAndGlyphs">Cohort 2 :<tspan font-style="italic">P</tspan> = .002</text>
<circle cx="426.10" cy="69.90" r="1.98" fill="#1c2640"/>
<text x="431.0" y="72.2" font-size="6.6" fill="#3d5e92" stroke="#3d5e92" stroke-width="0.12" textLength="55.0" lengthAdjust="spacingAndGlyphs">Cohort 3 :<tspan font-style="italic">P</tspan> = .054</text>
<path d="M423.90,76.34 L426.10,80.30 L428.30,76.34 Z" fill="#505050"/>
<text x="431.0" y="80.39999999999999" font-size="6.6" fill="#cfcfcf" stroke="#cfcfcf" stroke-width="0.12" textLength="50.5" lengthAdjust="spacingAndGlyphs">Placebo :<tspan font-style="italic">P</tspan> = .087</text>
<line x1="376.30" y1="162.90" x2="376.30" y2="238.20" stroke="#2a2a2a" stroke-width="1.0"/>
<line x1="373.70" y1="237.80" x2="376.30" y2="237.80" stroke="#2a2a2a" stroke-width="0.9"/>
<text x="370.0" y="240.4" font-size="7.3" fill="#2a2a2a" text-anchor="end" stroke="#2a2a2a" stroke-width="0.22">0</text>
<line x1="373.70" y1="223.43" x2="376.30" y2="223.43" stroke="#2a2a2a" stroke-width="0.9"/>
<text x="370.0" y="226.03" font-size="7.3" fill="#2a2a2a" text-anchor="end" stroke="#2a2a2a" stroke-width="0.22">20</text>
<line x1="373.70" y1="209.06" x2="376.30" y2="209.06" stroke="#2a2a2a" stroke-width="0.9"/>
<text x="370.0" y="211.66" font-size="7.3" fill="#2a2a2a" text-anchor="end" stroke="#2a2a2a" stroke-width="0.22">40</text>
<line x1="373.70" y1="194.69" x2="376.30" y2="194.69" stroke="#2a2a2a" stroke-width="0.9"/>
<text x="370.0" y="197.29" font-size="7.3" fill="#2a2a2a" text-anchor="end" stroke="#2a2a2a" stroke-width="0.22">60</text>
<line x1="373.70" y1="180.32" x2="376.30" y2="180.32" stroke="#2a2a2a" stroke-width="0.9"/>
<text x="370.0" y="182.92" font-size="7.3" fill="#2a2a2a" text-anchor="end" stroke="#2a2a2a" stroke-width="0.22">80</text>
<line x1="373.70" y1="165.95" x2="376.30" y2="165.95" stroke="#2a2a2a" stroke-width="0.9"/>
<text x="370.0" y="168.54999999999998" font-size="7.3" fill="#2a2a2a" text-anchor="end" stroke="#2a2a2a" stroke-width="0.22">100</text>
<line x1="376.30" y1="237.80" x2="469.40" y2="237.80" stroke="#2a2a2a" stroke-width="1.0"/>
<line x1="472.90" y1="237.80" x2="486.70" y2="237.80" stroke="#2a2a2a" stroke-width="1.0"/>
<line x1="469.40" y1="234.50" x2="469.40" y2="241.10" stroke="#2a2a2a" stroke-width="0.9"/>
<line x1="472.90" y1="234.50" x2="472.90" y2="241.10" stroke="#2a2a2a" stroke-width="0.9"/>
<line x1="376.50" y1="237.80" x2="376.50" y2="240.40" stroke="#2a2a2a" stroke-width="0.9"/>
<text x="376.5" y="251.6" font-size="7.5" fill="#2a2a2a" text-anchor="middle" stroke="#2a2a2a" stroke-width="0.22">0</text>
<line x1="396.80" y1="237.80" x2="396.80" y2="240.40" stroke="#2a2a2a" stroke-width="0.9"/>
<text x="396.8" y="251.6" font-size="7.5" fill="#2a2a2a" text-anchor="middle" stroke="#2a2a2a" stroke-width="0.22">7</text>
<line x1="417.10" y1="237.80" x2="417.10" y2="240.40" stroke="#2a2a2a" stroke-width="0.9"/>
<text x="417.1" y="251.6" font-size="7.5" fill="#2a2a2a" text-anchor="middle" stroke="#2a2a2a" stroke-width="0.22">14</text>
<line x1="437.40" y1="237.80" x2="437.40" y2="240.40" stroke="#2a2a2a" stroke-width="0.9"/>
<text x="437.4" y="251.6" font-size="7.5" fill="#2a2a2a" text-anchor="middle" stroke="#2a2a2a" stroke-width="0.22">21</text>
<line x1="457.70" y1="237.80" x2="457.70" y2="240.40" stroke="#2a2a2a" stroke-width="0.9"/>
<text x="457.7" y="251.6" font-size="7.5" fill="#2a2a2a" text-anchor="middle" stroke="#2a2a2a" stroke-width="0.22">28</text>
<line x1="483.30" y1="237.80" x2="483.30" y2="240.40" stroke="#2a2a2a" stroke-width="0.9"/>
<text x="483.3" y="251.6" font-size="7.5" fill="#2a2a2a" text-anchor="middle" stroke="#2a2a2a" stroke-width="0.22">56</text>
<text x="400.0" y="264.2" font-size="9.22" fill="#2a2a2a" font-weight="bold" textLength="62.6" lengthAdjust="spacingAndGlyphs">Days after treatment</text>
<text x="0" y="0" font-size="9.22" fill="#2a2a2a" font-weight="bold" transform="translate(338.8 234.1) rotate(-90)" textLength="63.9" lengthAdjust="spacingAndGlyphs">Absolute cell number</text>
<text x="0" y="0" font-size="9.22" fill="#2a2a2a" font-weight="bold" transform="translate(350.3 222.0) rotate(-90)" textLength="40.8" lengthAdjust="spacingAndGlyphs">(cells / mm<tspan font-size="5.5" dy="-3">3</tspan><tspan dy="3">​</tspan>)</text>
<path d="M376.50,215.53 L385.20,217.68 L396.80,214.45 L417.10,202.59 L437.40,215.24 L457.70,216.10" fill="none" stroke="#d8d8d8" stroke-width="1.0"/>
<path d="M457.70,216.10 L483.30,200.29" fill="none" stroke="#d8d8d8" stroke-width="1.0" stroke-dasharray="5.5 2.5"/>
<path d="M376.50,201.30 L385.20,210.93 L396.80,210.93 L417.10,194.69 L437.40,195.12 L457.70,204.89" fill="none" stroke="#86c98a" stroke-width="1.0"/>
<path d="M457.70,204.89 L483.30,196.34" fill="none" stroke="#86c98a" stroke-width="1.0" stroke-dasharray="5.5 2.5"/>
<path d="M376.50,201.30 L385.20,220.56 L396.80,202.09 L417.10,194.83 L437.40,189.95 L457.70,199.43" fill="none" stroke="#e0707e" stroke-width="1.0"/>
<path d="M457.70,199.43 L483.30,190.52" fill="none" stroke="#e0707e" stroke-width="1.0" stroke-dasharray="5.5 2.5"/>
<path d="M376.50,215.74 L385.20,215.74 L396.80,208.92 L417.10,211.07 L437.40,211.50 L457.70,213.08" fill="none" stroke="#6f95c4" stroke-width="1.0"/>
<path d="M457.70,213.08 L483.30,197.85" fill="none" stroke="#6f95c4" stroke-width="1.0" stroke-dasharray="5.5 2.5"/>
<path d="M374.20,213.69 L376.50,217.83 L378.80,213.69 Z" fill="#505050"/>
<line x1="385.20" y1="213.37" x2="385.20" y2="221.99" stroke="#505050" stroke-width="0.7"/>
<line x1="383.90" y1="213.37" x2="386.50" y2="213.37" stroke="#505050" stroke-width="0.7"/>
<line x1="383.90" y1="221.99" x2="386.50" y2="221.99" stroke="#505050" stroke-width="0.7"/>
<path d="M382.90,215.84 L385.20,219.98 L387.50,215.84 Z" fill="#505050"/>
<line x1="396.80" y1="210.86" x2="396.80" y2="218.04" stroke="#505050" stroke-width="0.7"/>
<line x1="395.50" y1="210.86" x2="398.10" y2="210.86" stroke="#505050" stroke-width="0.7"/>
<line x1="395.50" y1="218.04" x2="398.10" y2="218.04" stroke="#505050" stroke-width="0.7"/>
<path d="M394.50,212.61 L396.80,216.75 L399.10,212.61 Z" fill="#505050"/>
<line x1="417.10" y1="196.85" x2="417.10" y2="208.34" stroke="#505050" stroke-width="0.7"/>
<line x1="415.80" y1="196.85" x2="418.40" y2="196.85" stroke="#505050" stroke-width="0.7"/>
<line x1="415.80" y1="208.34" x2="418.40" y2="208.34" stroke="#505050" stroke-width="0.7"/>
<path d="M414.80,200.75 L417.10,204.89 L419.40,200.75 Z" fill="#505050"/>
<line x1="437.40" y1="212.37" x2="437.40" y2="218.11" stroke="#505050" stroke-width="0.7"/>
<line x1="436.10" y1="212.37" x2="438.70" y2="212.37" stroke="#505050" stroke-width="0.7"/>
<line x1="436.10" y1="218.11" x2="438.70" y2="218.11" stroke="#505050" stroke-width="0.7"/>
<path d="M435.10,213.40 L437.40,217.54 L439.70,213.40 Z" fill="#505050"/>
<line x1="457.70" y1="211.79" x2="457.70" y2="220.41" stroke="#505050" stroke-width="0.7"/>
<line x1="456.40" y1="211.79" x2="459.00" y2="211.79" stroke="#505050" stroke-width="0.7"/>
<line x1="456.40" y1="220.41" x2="459.00" y2="220.41" stroke="#505050" stroke-width="0.7"/>
<path d="M455.40,214.26 L457.70,218.40 L460.00,214.26 Z" fill="#505050"/>
<line x1="483.30" y1="195.98" x2="483.30" y2="204.61" stroke="#505050" stroke-width="0.7"/>
<line x1="482.00" y1="195.98" x2="484.60" y2="195.98" stroke="#505050" stroke-width="0.7"/>
<line x1="482.00" y1="204.61" x2="484.60" y2="204.61" stroke="#505050" stroke-width="0.7"/>
<path d="M481.00,198.45 L483.30,202.59 L485.60,198.45 Z" fill="#505050"/>
<line x1="376.50" y1="192.68" x2="376.50" y2="209.92" stroke="#2f6e3c" stroke-width="0.7"/>
<line x1="375.20" y1="192.68" x2="377.80" y2="192.68" stroke="#2f6e3c" stroke-width="0.7"/>
<line x1="375.20" y1="209.92" x2="377.80" y2="209.92" stroke="#2f6e3c" stroke-width="0.7"/>
<path d="M374.20,203.14 L376.50,199.00 L378.80,203.14 Z" fill="#2f6e3c"/>
<line x1="385.20" y1="205.18" x2="385.20" y2="216.68" stroke="#2f6e3c" stroke-width="0.7"/>
<line x1="383.90" y1="205.18" x2="386.50" y2="205.18" stroke="#2f6e3c" stroke-width="0.7"/>
<line x1="383.90" y1="216.68" x2="386.50" y2="216.68" stroke="#2f6e3c" stroke-width="0.7"/>
<path d="M382.90,212.77 L385.20,208.63 L387.50,212.77 Z" fill="#2f6e3c"/>
<line x1="396.80" y1="205.90" x2="396.80" y2="215.96" stroke="#2f6e3c" stroke-width="0.7"/>
<line x1="395.50" y1="205.90" x2="398.10" y2="205.90" stroke="#2f6e3c" stroke-width="0.7"/>
<line x1="395.50" y1="215.96" x2="398.10" y2="215.96" stroke="#2f6e3c" stroke-width="0.7"/>
<path d="M394.50,212.77 L396.80,208.63 L399.10,212.77 Z" fill="#2f6e3c"/>
<line x1="417.10" y1="187.50" x2="417.10" y2="201.88" stroke="#2f6e3c" stroke-width="0.7"/>
<line x1="415.80" y1="187.50" x2="418.40" y2="187.50" stroke="#2f6e3c" stroke-width="0.7"/>
<line x1="415.80" y1="201.88" x2="418.40" y2="201.88" stroke="#2f6e3c" stroke-width="0.7"/>
<path d="M414.80,196.53 L417.10,192.39 L419.40,196.53 Z" fill="#2f6e3c"/>
<line x1="437.40" y1="191.53" x2="437.40" y2="198.71" stroke="#2f6e3c" stroke-width="0.7"/>
<line x1="436.10" y1="191.53" x2="438.70" y2="191.53" stroke="#2f6e3c" stroke-width="0.7"/>
<line x1="436.10" y1="198.71" x2="438.70" y2="198.71" stroke="#2f6e3c" stroke-width="0.7"/>
<path d="M435.10,196.96 L437.40,192.82 L439.70,196.96 Z" fill="#2f6e3c"/>
<line x1="457.70" y1="199.14" x2="457.70" y2="210.64" stroke="#2f6e3c" stroke-width="0.7"/>
<line x1="456.40" y1="199.14" x2="459.00" y2="199.14" stroke="#2f6e3c" stroke-width="0.7"/>
<line x1="456.40" y1="210.64" x2="459.00" y2="210.64" stroke="#2f6e3c" stroke-width="0.7"/>
<path d="M455.40,206.73 L457.70,202.59 L460.00,206.73 Z" fill="#2f6e3c"/>
<line x1="483.30" y1="192.03" x2="483.30" y2="200.65" stroke="#2f6e3c" stroke-width="0.7"/>
<line x1="482.00" y1="192.03" x2="484.60" y2="192.03" stroke="#2f6e3c" stroke-width="0.7"/>
<line x1="482.00" y1="200.65" x2="484.60" y2="200.65" stroke="#2f6e3c" stroke-width="0.7"/>
<path d="M481.00,198.18 L483.30,194.04 L485.60,198.18 Z" fill="#2f6e3c"/>
<line x1="376.50" y1="195.55" x2="376.50" y2="207.05" stroke="#8e1b33" stroke-width="0.7"/>
<line x1="375.20" y1="195.55" x2="377.80" y2="195.55" stroke="#8e1b33" stroke-width="0.7"/>
<line x1="375.20" y1="207.05" x2="377.80" y2="207.05" stroke="#8e1b33" stroke-width="0.7"/>
<rect x="374.55" y="199.35" width="3.91" height="3.91" fill="#8e1b33"/>
<line x1="385.20" y1="217.68" x2="385.20" y2="223.43" stroke="#8e1b33" stroke-width="0.7"/>
<line x1="383.90" y1="217.68" x2="386.50" y2="217.68" stroke="#8e1b33" stroke-width="0.7"/>
<line x1="383.90" y1="223.43" x2="386.50" y2="223.43" stroke="#8e1b33" stroke-width="0.7"/>
<rect x="383.25" y="218.60" width="3.91" height="3.91" fill="#8e1b33"/>
<line x1="396.80" y1="197.78" x2="396.80" y2="206.40" stroke="#8e1b33" stroke-width="0.7"/>
<line x1="395.50" y1="197.78" x2="398.10" y2="197.78" stroke="#8e1b33" stroke-width="0.7"/>
<line x1="395.50" y1="206.40" x2="398.10" y2="206.40" stroke="#8e1b33" stroke-width="0.7"/>
<rect x="394.85" y="200.14" width="3.91" height="3.91" fill="#8e1b33"/>
<line x1="417.10" y1="184.77" x2="417.10" y2="204.89" stroke="#8e1b33" stroke-width="0.7"/>
<line x1="415.80" y1="184.77" x2="418.40" y2="184.77" stroke="#8e1b33" stroke-width="0.7"/>
<line x1="415.80" y1="204.89" x2="418.40" y2="204.89" stroke="#8e1b33" stroke-width="0.7"/>
<rect x="415.15" y="192.88" width="3.91" height="3.91" fill="#8e1b33"/>
<line x1="437.40" y1="186.36" x2="437.40" y2="193.54" stroke="#8e1b33" stroke-width="0.7"/>
<line x1="436.10" y1="186.36" x2="438.70" y2="186.36" stroke="#8e1b33" stroke-width="0.7"/>
<line x1="436.10" y1="193.54" x2="438.70" y2="193.54" stroke="#8e1b33" stroke-width="0.7"/>
<rect x="435.44" y="187.99" width="3.91" height="3.91" fill="#8e1b33"/>
<line x1="457.70" y1="193.68" x2="457.70" y2="205.18" stroke="#8e1b33" stroke-width="0.7"/>
<line x1="456.40" y1="193.68" x2="459.00" y2="193.68" stroke="#8e1b33" stroke-width="0.7"/>
<line x1="456.40" y1="205.18" x2="459.00" y2="205.18" stroke="#8e1b33" stroke-width="0.7"/>
<rect x="455.75" y="197.48" width="3.91" height="3.91" fill="#8e1b33"/>
<line x1="483.30" y1="179.03" x2="483.30" y2="202.02" stroke="#8e1b33" stroke-width="0.7"/>
<line x1="482.00" y1="179.03" x2="484.60" y2="179.03" stroke="#8e1b33" stroke-width="0.7"/>
<line x1="482.00" y1="202.02" x2="484.60" y2="202.02" stroke="#8e1b33" stroke-width="0.7"/>
<rect x="481.35" y="188.57" width="3.91" height="3.91" fill="#8e1b33"/>
<line x1="376.50" y1="212.87" x2="376.50" y2="218.62" stroke="#1c2640" stroke-width="0.7"/>
<line x1="375.20" y1="212.87" x2="377.80" y2="212.87" stroke="#1c2640" stroke-width="0.7"/>
<line x1="375.20" y1="218.62" x2="377.80" y2="218.62" stroke="#1c2640" stroke-width="0.7"/>
<circle cx="376.50" cy="215.74" r="2.07" fill="#1c2640"/>
<line x1="385.20" y1="212.15" x2="385.20" y2="219.33" stroke="#1c2640" stroke-width="0.7"/>
<line x1="383.90" y1="212.15" x2="386.50" y2="212.15" stroke="#1c2640" stroke-width="0.7"/>
<line x1="383.90" y1="219.33" x2="386.50" y2="219.33" stroke="#1c2640" stroke-width="0.7"/>
<circle cx="385.20" cy="215.74" r="2.07" fill="#1c2640"/>
<line x1="396.80" y1="204.61" x2="396.80" y2="213.23" stroke="#1c2640" stroke-width="0.7"/>
<line x1="395.50" y1="204.61" x2="398.10" y2="204.61" stroke="#1c2640" stroke-width="0.7"/>
<line x1="395.50" y1="213.23" x2="398.10" y2="213.23" stroke="#1c2640" stroke-width="0.7"/>
<circle cx="396.80" cy="208.92" r="2.07" fill="#1c2640"/>
<line x1="417.10" y1="202.45" x2="417.10" y2="219.69" stroke="#1c2640" stroke-width="0.7"/>
<line x1="415.80" y1="202.45" x2="418.40" y2="202.45" stroke="#1c2640" stroke-width="0.7"/>
<line x1="415.80" y1="219.69" x2="418.40" y2="219.69" stroke="#1c2640" stroke-width="0.7"/>
<circle cx="417.10" cy="211.07" r="2.07" fill="#1c2640"/>
<line x1="437.40" y1="208.63" x2="437.40" y2="214.38" stroke="#1c2640" stroke-width="0.7"/>
<line x1="436.10" y1="208.63" x2="438.70" y2="208.63" stroke="#1c2640" stroke-width="0.7"/>
<line x1="436.10" y1="214.38" x2="438.70" y2="214.38" stroke="#1c2640" stroke-width="0.7"/>
<circle cx="437.40" cy="211.50" r="2.07" fill="#1c2640"/>
<line x1="457.70" y1="207.34" x2="457.70" y2="218.83" stroke="#1c2640" stroke-width="0.7"/>
<line x1="456.40" y1="207.34" x2="459.00" y2="207.34" stroke="#1c2640" stroke-width="0.7"/>
<line x1="456.40" y1="218.83" x2="459.00" y2="218.83" stroke="#1c2640" stroke-width="0.7"/>
<circle cx="457.70" cy="213.08" r="2.07" fill="#1c2640"/>
<line x1="483.30" y1="193.54" x2="483.30" y2="202.16" stroke="#1c2640" stroke-width="0.7"/>
<line x1="482.00" y1="193.54" x2="484.60" y2="193.54" stroke="#1c2640" stroke-width="0.7"/>
<line x1="482.00" y1="202.16" x2="484.60" y2="202.16" stroke="#1c2640" stroke-width="0.7"/>
<circle cx="483.30" cy="197.85" r="2.07" fill="#1c2640"/>
<path d="M426.00,152.88 L428.10,149.10 L430.20,152.88 Z" fill="#2f6e3c"/>
<text x="433.2" y="153.39999999999998" font-size="6.3" fill="#5cab5c" stroke="#5cab5c" stroke-width="0.12" textLength="52.1" lengthAdjust="spacingAndGlyphs">Cohort 1 : <tspan font-style="italic">P</tspan> = .07</text>
<rect x="426.31" y="156.76" width="3.57" height="3.57" fill="#8e1b33"/>
<text x="433.2" y="160.74999999999997" font-size="6.3" fill="#c8344c" stroke="#c8344c" stroke-width="0.12" textLength="52.1" lengthAdjust="spacingAndGlyphs">Cohort 2 : <tspan font-style="italic">P</tspan> = .32</text>
<circle cx="428.10" cy="165.90" r="1.89" fill="#1c2640"/>
<text x="433.2" y="168.09999999999997" font-size="6.3" fill="#3d5e92" stroke="#3d5e92" stroke-width="0.12" textLength="52.1" lengthAdjust="spacingAndGlyphs">Cohort 3 : <tspan font-style="italic">P</tspan> = .07</text>
<path d="M426.00,171.57 L428.10,175.35 L430.20,171.57 Z" fill="#505050"/>
<text x="433.2" y="175.45" font-size="6.3" fill="#cfcfcf" stroke="#cfcfcf" stroke-width="0.12" textLength="47.0" lengthAdjust="spacingAndGlyphs">Placebo : <tspan font-style="italic">P</tspan> = .18</text>
<line x1="360.40" y1="328.60" x2="371.30" y2="328.60" stroke="#d2506a" stroke-width="1.0"/>
<circle cx="366.20" cy="328.60" r="1.80" fill="#8e1b33"/>
<text x="373.3" y="331.1" font-size="6.4" fill="#333" stroke="#333" stroke-width="0.12" textLength="12.1" lengthAdjust="spacingAndGlyphs">Treg</text>
<line x1="389.20" y1="328.60" x2="399.60" y2="328.60" stroke="#4a6fa0" stroke-width="1.0"/>
<path d="M392.50,328.60 L394.40,326.51 L396.30,328.60 L394.40,330.69 Z" fill="#1c2640"/>
<text x="401.5" y="331.1" font-size="6.4" fill="#333" stroke="#333" stroke-width="0.12" textLength="17.0" lengthAdjust="spacingAndGlyphs">CD4<tspan font-size="4.8" dy="-2.6">+</tspan><tspan dy="2.6">​</tspan></text>
<line x1="421.30" y1="328.60" x2="430.00" y2="328.60" stroke="#6ab46a" stroke-width="1.0"/>
<rect x="423.68" y="327.08" width="3.04" height="3.04" fill="#8fbf86" stroke="#2f6e3c" stroke-width="0.8"/>
<text x="433.8" y="331.1" font-size="6.4" fill="#333" stroke="#333" stroke-width="0.12" textLength="17.4" lengthAdjust="spacingAndGlyphs">CD8<tspan font-size="4.8" dy="-2.6">+</tspan><tspan dy="2.6">​</tspan></text>
<line x1="360.10" y1="338.70" x2="360.10" y2="413.60" stroke="#2a2a2a" stroke-width="1.0"/>
<line x1="357.50" y1="413.60" x2="360.10" y2="413.60" stroke="#2a2a2a" stroke-width="0.9"/>
<text x="353.8" y="415.8" font-size="6.5" fill="#2a2a2a" stroke="#2a2a2a" stroke-width="0.12" text-anchor="end">0</text>
<line x1="357.50" y1="399.24" x2="360.10" y2="399.24" stroke="#2a2a2a" stroke-width="0.9"/>
<text x="353.8" y="401.44" font-size="6.5" fill="#2a2a2a" stroke="#2a2a2a" stroke-width="0.12" text-anchor="end">10</text>
<line x1="357.50" y1="384.88" x2="360.10" y2="384.88" stroke="#2a2a2a" stroke-width="0.9"/>
<text x="353.8" y="387.08" font-size="6.5" fill="#2a2a2a" stroke="#2a2a2a" stroke-width="0.12" text-anchor="end">20</text>
<line x1="357.50" y1="370.52" x2="360.10" y2="370.52" stroke="#2a2a2a" stroke-width="0.9"/>
<text x="353.8" y="372.72" font-size="6.5" fill="#2a2a2a" stroke="#2a2a2a" stroke-width="0.12" text-anchor="end">30</text>
<line x1="357.50" y1="356.16" x2="360.10" y2="356.16" stroke="#2a2a2a" stroke-width="0.9"/>
<text x="353.8" y="358.36" font-size="6.5" fill="#2a2a2a" stroke="#2a2a2a" stroke-width="0.12" text-anchor="end">40</text>
<line x1="357.50" y1="341.80" x2="360.10" y2="341.80" stroke="#2a2a2a" stroke-width="0.9"/>
<text x="353.8" y="344.0" font-size="6.5" fill="#2a2a2a" stroke="#2a2a2a" stroke-width="0.12" text-anchor="end">50</text>
<line x1="360.10" y1="413.60" x2="518.00" y2="413.60" stroke="#2a2a2a" stroke-width="1.0"/>
<line x1="399.80" y1="336.50" x2="399.80" y2="413.60" stroke="#444" stroke-width="0.8" stroke-dasharray="0.7 0.9"/>
<line x1="439.60" y1="336.50" x2="439.60" y2="413.60" stroke="#444" stroke-width="0.8" stroke-dasharray="0.7 0.9"/>
<line x1="479.40" y1="336.50" x2="479.40" y2="413.60" stroke="#444" stroke-width="0.8" stroke-dasharray="0.7 0.9"/>
<text x="367.6" y="344.2" font-size="6.4" fill="#333" stroke="#333" stroke-width="0.12" textLength="24.0" lengthAdjust="spacingAndGlyphs">Cohort 1</text>
<text x="407.5" y="344.2" font-size="6.4" fill="#333" stroke="#333" stroke-width="0.12" textLength="24.5" lengthAdjust="spacingAndGlyphs">Cohort 2</text>
<text x="447.2" y="344.2" font-size="6.4" fill="#333" stroke="#333" stroke-width="0.12" textLength="25.0" lengthAdjust="spacingAndGlyphs">Cohort 3</text>
<text x="487.6" y="344.2" font-size="6.4" fill="#333" stroke="#333" stroke-width="0.12" textLength="23.5" lengthAdjust="spacingAndGlyphs">Placebo</text>
<text x="0" y="0" font-size="8.48" fill="#2a2a2a" font-weight="bold" transform="translate(342.0 399.4) rotate(-90)" textLength="47.5" lengthAdjust="spacingAndGlyphs">% of Ki-67<tspan font-size="5" dy="-2.8">+</tspan><tspan dy="2.8">​</tspan> cells</text>
<path d="M364.20,412.16 L372.20,407.14 L380.20,401.68 L388.20,409.29 L396.20,411.88" fill="none" stroke="#6ab46a" stroke-width="1.0"/>
<path d="M364.20,412.45 L372.20,407.57 L380.20,406.85 L388.20,408.00 L396.20,411.88" fill="none" stroke="#4a6fa0" stroke-width="1.0"/>
<path d="M364.20,406.85 L372.20,402.54 L380.20,405.27 L388.20,406.85 L396.20,407.28" fill="none" stroke="#d2506a" stroke-width="1.0"/>
<rect x="362.44" y="410.40" width="3.52" height="3.52" fill="#8fbf86" stroke="#2f6e3c" stroke-width="0.8"/>
<line x1="372.20" y1="405.70" x2="372.20" y2="408.57" stroke="#2f6e3c" stroke-width="0.6"/>
<line x1="371.10" y1="405.70" x2="373.30" y2="405.70" stroke="#2f6e3c" stroke-width="0.6"/>
<line x1="371.10" y1="408.57" x2="373.30" y2="408.57" stroke="#2f6e3c" stroke-width="0.6"/>
<rect x="370.44" y="405.38" width="3.52" height="3.52" fill="#8fbf86" stroke="#2f6e3c" stroke-width="0.8"/>
<line x1="380.20" y1="399.53" x2="380.20" y2="403.84" stroke="#2f6e3c" stroke-width="0.6"/>
<line x1="379.10" y1="399.53" x2="381.30" y2="399.53" stroke="#2f6e3c" stroke-width="0.6"/>
<line x1="379.10" y1="403.84" x2="381.30" y2="403.84" stroke="#2f6e3c" stroke-width="0.6"/>
<rect x="378.44" y="399.92" width="3.52" height="3.52" fill="#8fbf86" stroke="#2f6e3c" stroke-width="0.8"/>
<line x1="388.20" y1="407.86" x2="388.20" y2="410.73" stroke="#2f6e3c" stroke-width="0.6"/>
<line x1="387.10" y1="407.86" x2="389.30" y2="407.86" stroke="#2f6e3c" stroke-width="0.6"/>
<line x1="387.10" y1="410.73" x2="389.30" y2="410.73" stroke="#2f6e3c" stroke-width="0.6"/>
<rect x="386.44" y="407.53" width="3.52" height="3.52" fill="#8fbf86" stroke="#2f6e3c" stroke-width="0.8"/>
<line x1="396.20" y1="411.16" x2="396.20" y2="412.59" stroke="#2f6e3c" stroke-width="0.6"/>
<line x1="395.10" y1="411.16" x2="397.30" y2="411.16" stroke="#2f6e3c" stroke-width="0.6"/>
<line x1="395.10" y1="412.59" x2="397.30" y2="412.59" stroke="#2f6e3c" stroke-width="0.6"/>
<rect x="394.44" y="410.12" width="3.52" height="3.52" fill="#8fbf86" stroke="#2f6e3c" stroke-width="0.8"/>
<path d="M362.00,412.45 L364.20,410.03 L366.40,412.45 L364.20,414.87 Z" fill="#1c2640"/>
<line x1="372.20" y1="406.42" x2="372.20" y2="408.72" stroke="#1c2640" stroke-width="0.6"/>
<line x1="371.10" y1="406.42" x2="373.30" y2="406.42" stroke="#1c2640" stroke-width="0.6"/>
<line x1="371.10" y1="408.72" x2="373.30" y2="408.72" stroke="#1c2640" stroke-width="0.6"/>
<path d="M370.00,407.57 L372.20,405.15 L374.40,407.57 L372.20,409.99 Z" fill="#1c2640"/>
<line x1="380.20" y1="405.13" x2="380.20" y2="408.57" stroke="#1c2640" stroke-width="0.6"/>
<line x1="379.10" y1="405.13" x2="381.30" y2="405.13" stroke="#1c2640" stroke-width="0.6"/>
<line x1="379.10" y1="408.57" x2="381.30" y2="408.57" stroke="#1c2640" stroke-width="0.6"/>
<path d="M378.00,406.85 L380.20,404.43 L382.40,406.85 L380.20,409.27 Z" fill="#1c2640"/>
<line x1="388.20" y1="406.85" x2="388.20" y2="409.15" stroke="#1c2640" stroke-width="0.6"/>
<line x1="387.10" y1="406.85" x2="389.30" y2="406.85" stroke="#1c2640" stroke-width="0.6"/>
<line x1="387.10" y1="409.15" x2="389.30" y2="409.15" stroke="#1c2640" stroke-width="0.6"/>
<path d="M386.00,408.00 L388.20,405.58 L390.40,408.00 L388.20,410.42 Z" fill="#1c2640"/>
<line x1="396.20" y1="411.16" x2="396.20" y2="412.59" stroke="#1c2640" stroke-width="0.6"/>
<line x1="395.10" y1="411.16" x2="397.30" y2="411.16" stroke="#1c2640" stroke-width="0.6"/>
<line x1="395.10" y1="412.59" x2="397.30" y2="412.59" stroke="#1c2640" stroke-width="0.6"/>
<path d="M394.00,411.88 L396.20,409.46 L398.40,411.88 L396.20,414.30 Z" fill="#1c2640"/>
<line x1="364.20" y1="406.13" x2="364.20" y2="407.57" stroke="#8e1b33" stroke-width="0.6"/>
<line x1="363.10" y1="406.13" x2="365.30" y2="406.13" stroke="#8e1b33" stroke-width="0.6"/>
<line x1="363.10" y1="407.57" x2="365.30" y2="407.57" stroke="#8e1b33" stroke-width="0.6"/>
<circle cx="364.20" cy="406.85" r="1.98" fill="#8e1b33"/>
<line x1="372.20" y1="400.82" x2="372.20" y2="404.27" stroke="#8e1b33" stroke-width="0.6"/>
<line x1="371.10" y1="400.82" x2="373.30" y2="400.82" stroke="#8e1b33" stroke-width="0.6"/>
<line x1="371.10" y1="404.27" x2="373.30" y2="404.27" stroke="#8e1b33" stroke-width="0.6"/>
<circle cx="372.20" cy="402.54" r="1.98" fill="#8e1b33"/>
<line x1="380.20" y1="403.84" x2="380.20" y2="406.71" stroke="#8e1b33" stroke-width="0.6"/>
<line x1="379.10" y1="403.84" x2="381.30" y2="403.84" stroke="#8e1b33" stroke-width="0.6"/>
<line x1="379.10" y1="406.71" x2="381.30" y2="406.71" stroke="#8e1b33" stroke-width="0.6"/>
<circle cx="380.20" cy="405.27" r="1.98" fill="#8e1b33"/>
<line x1="388.20" y1="405.70" x2="388.20" y2="408.00" stroke="#8e1b33" stroke-width="0.6"/>
<line x1="387.10" y1="405.70" x2="389.30" y2="405.70" stroke="#8e1b33" stroke-width="0.6"/>
<line x1="387.10" y1="408.00" x2="389.30" y2="408.00" stroke="#8e1b33" stroke-width="0.6"/>
<circle cx="388.20" cy="406.85" r="1.98" fill="#8e1b33"/>
<line x1="396.20" y1="406.56" x2="396.20" y2="408.00" stroke="#8e1b33" stroke-width="0.6"/>
<line x1="395.10" y1="406.56" x2="397.30" y2="406.56" stroke="#8e1b33" stroke-width="0.6"/>
<line x1="395.10" y1="408.00" x2="397.30" y2="408.00" stroke="#8e1b33" stroke-width="0.6"/>
<circle cx="396.20" cy="407.28" r="1.98" fill="#8e1b33"/>
<line x1="364.20" y1="413.60" x2="364.20" y2="416.00" stroke="#2a2a2a" stroke-width="0.9"/>
<line x1="372.20" y1="413.60" x2="372.20" y2="416.00" stroke="#2a2a2a" stroke-width="0.9"/>
<line x1="380.20" y1="413.60" x2="380.20" y2="416.00" stroke="#2a2a2a" stroke-width="0.9"/>
<line x1="388.20" y1="413.60" x2="388.20" y2="416.00" stroke="#2a2a2a" stroke-width="0.9"/>
<line x1="396.20" y1="413.60" x2="396.20" y2="416.00" stroke="#2a2a2a" stroke-width="0.9"/>
<path d="M404.25,410.15 L412.25,394.07 L420.25,359.61 L428.25,406.85 L436.25,412.16" fill="none" stroke="#6ab46a" stroke-width="1.0"/>
<path d="M404.25,410.15 L412.25,400.10 L420.25,383.73 L428.25,406.85 L436.25,412.45" fill="none" stroke="#4a6fa0" stroke-width="1.0"/>
<path d="M404.25,406.85 L412.25,404.55 L420.25,404.55 L428.25,406.85 L436.25,406.85" fill="none" stroke="#d2506a" stroke-width="1.0"/>
<line x1="404.25" y1="409.44" x2="404.25" y2="410.87" stroke="#2f6e3c" stroke-width="0.6"/>
<line x1="403.15" y1="409.44" x2="405.35" y2="409.44" stroke="#2f6e3c" stroke-width="0.6"/>
<line x1="403.15" y1="410.87" x2="405.35" y2="410.87" stroke="#2f6e3c" stroke-width="0.6"/>
<rect x="402.49" y="408.39" width="3.52" height="3.52" fill="#8fbf86" stroke="#2f6e3c" stroke-width="0.8"/>
<line x1="412.25" y1="389.76" x2="412.25" y2="398.38" stroke="#2f6e3c" stroke-width="0.6"/>
<line x1="411.15" y1="389.76" x2="413.35" y2="389.76" stroke="#2f6e3c" stroke-width="0.6"/>
<line x1="411.15" y1="398.38" x2="413.35" y2="398.38" stroke="#2f6e3c" stroke-width="0.6"/>
<rect x="410.49" y="392.31" width="3.52" height="3.52" fill="#8fbf86" stroke="#2f6e3c" stroke-width="0.8"/>
<line x1="420.25" y1="352.00" x2="420.25" y2="367.22" stroke="#2f6e3c" stroke-width="0.6"/>
<line x1="419.15" y1="352.00" x2="421.35" y2="352.00" stroke="#2f6e3c" stroke-width="0.6"/>
<line x1="419.15" y1="367.22" x2="421.35" y2="367.22" stroke="#2f6e3c" stroke-width="0.6"/>
<rect x="418.49" y="357.85" width="3.52" height="3.52" fill="#8fbf86" stroke="#2f6e3c" stroke-width="0.8"/>
<line x1="428.25" y1="405.41" x2="428.25" y2="408.29" stroke="#2f6e3c" stroke-width="0.6"/>
<line x1="427.15" y1="405.41" x2="429.35" y2="405.41" stroke="#2f6e3c" stroke-width="0.6"/>
<line x1="427.15" y1="408.29" x2="429.35" y2="408.29" stroke="#2f6e3c" stroke-width="0.6"/>
<rect x="426.49" y="405.09" width="3.52" height="3.52" fill="#8fbf86" stroke="#2f6e3c" stroke-width="0.8"/>
<line x1="436.25" y1="411.45" x2="436.25" y2="412.88" stroke="#2f6e3c" stroke-width="0.6"/>
<line x1="435.15" y1="411.45" x2="437.35" y2="411.45" stroke="#2f6e3c" stroke-width="0.6"/>
<line x1="435.15" y1="412.88" x2="437.35" y2="412.88" stroke="#2f6e3c" stroke-width="0.6"/>
<rect x="434.49" y="410.40" width="3.52" height="3.52" fill="#8fbf86" stroke="#2f6e3c" stroke-width="0.8"/>
<line x1="404.25" y1="409.44" x2="404.25" y2="410.87" stroke="#1c2640" stroke-width="0.6"/>
<line x1="403.15" y1="409.44" x2="405.35" y2="409.44" stroke="#1c2640" stroke-width="0.6"/>
<line x1="403.15" y1="410.87" x2="405.35" y2="410.87" stroke="#1c2640" stroke-width="0.6"/>
<path d="M402.05,410.15 L404.25,407.73 L406.45,410.15 L404.25,412.57 Z" fill="#1c2640"/>
<line x1="412.25" y1="397.95" x2="412.25" y2="402.26" stroke="#1c2640" stroke-width="0.6"/>
<line x1="411.15" y1="397.95" x2="413.35" y2="397.95" stroke="#1c2640" stroke-width="0.6"/>
<line x1="411.15" y1="402.26" x2="413.35" y2="402.26" stroke="#1c2640" stroke-width="0.6"/>
<path d="M410.05,400.10 L412.25,397.68 L414.45,400.10 L412.25,402.52 Z" fill="#1c2640"/>
<line x1="420.25" y1="380.00" x2="420.25" y2="387.46" stroke="#1c2640" stroke-width="0.6"/>
<line x1="419.15" y1="380.00" x2="421.35" y2="380.00" stroke="#1c2640" stroke-width="0.6"/>
<line x1="419.15" y1="387.46" x2="421.35" y2="387.46" stroke="#1c2640" stroke-width="0.6"/>
<path d="M418.05,383.73 L420.25,381.31 L422.45,383.73 L420.25,386.15 Z" fill="#1c2640"/>
<line x1="428.25" y1="405.41" x2="428.25" y2="408.29" stroke="#1c2640" stroke-width="0.6"/>
<line x1="427.15" y1="405.41" x2="429.35" y2="405.41" stroke="#1c2640" stroke-width="0.6"/>
<line x1="427.15" y1="408.29" x2="429.35" y2="408.29" stroke="#1c2640" stroke-width="0.6"/>
<path d="M426.05,406.85 L428.25,404.43 L430.45,406.85 L428.25,409.27 Z" fill="#1c2640"/>
<line x1="436.25" y1="411.73" x2="436.25" y2="413.17" stroke="#1c2640" stroke-width="0.6"/>
<line x1="435.15" y1="411.73" x2="437.35" y2="411.73" stroke="#1c2640" stroke-width="0.6"/>
<line x1="435.15" y1="413.17" x2="437.35" y2="413.17" stroke="#1c2640" stroke-width="0.6"/>
<path d="M434.05,412.45 L436.25,410.03 L438.45,412.45 L436.25,414.87 Z" fill="#1c2640"/>
<line x1="404.25" y1="405.41" x2="404.25" y2="408.29" stroke="#8e1b33" stroke-width="0.6"/>
<line x1="403.15" y1="405.41" x2="405.35" y2="405.41" stroke="#8e1b33" stroke-width="0.6"/>
<line x1="403.15" y1="408.29" x2="405.35" y2="408.29" stroke="#8e1b33" stroke-width="0.6"/>
<circle cx="404.25" cy="406.85" r="1.98" fill="#8e1b33"/>
<line x1="412.25" y1="402.40" x2="412.25" y2="406.71" stroke="#8e1b33" stroke-width="0.6"/>
<line x1="411.15" y1="402.40" x2="413.35" y2="402.40" stroke="#8e1b33" stroke-width="0.6"/>
<line x1="411.15" y1="406.71" x2="413.35" y2="406.71" stroke="#8e1b33" stroke-width="0.6"/>
<circle cx="412.25" cy="404.55" r="1.98" fill="#8e1b33"/>
<line x1="420.25" y1="403.12" x2="420.25" y2="405.99" stroke="#8e1b33" stroke-width="0.6"/>
<line x1="419.15" y1="403.12" x2="421.35" y2="403.12" stroke="#8e1b33" stroke-width="0.6"/>
<line x1="419.15" y1="405.99" x2="421.35" y2="405.99" stroke="#8e1b33" stroke-width="0.6"/>
<circle cx="420.25" cy="404.55" r="1.98" fill="#8e1b33"/>
<line x1="428.25" y1="405.70" x2="428.25" y2="408.00" stroke="#8e1b33" stroke-width="0.6"/>
<line x1="427.15" y1="405.70" x2="429.35" y2="405.70" stroke="#8e1b33" stroke-width="0.6"/>
<line x1="427.15" y1="408.00" x2="429.35" y2="408.00" stroke="#8e1b33" stroke-width="0.6"/>
<circle cx="428.25" cy="406.85" r="1.98" fill="#8e1b33"/>
<line x1="436.25" y1="405.13" x2="436.25" y2="408.57" stroke="#8e1b33" stroke-width="0.6"/>
<line x1="435.15" y1="405.13" x2="437.35" y2="405.13" stroke="#8e1b33" stroke-width="0.6"/>
<line x1="435.15" y1="408.57" x2="437.35" y2="408.57" stroke="#8e1b33" stroke-width="0.6"/>
<circle cx="436.25" cy="406.85" r="1.98" fill="#8e1b33"/>
<line x1="404.25" y1="413.60" x2="404.25" y2="416.00" stroke="#2a2a2a" stroke-width="0.9"/>
<line x1="412.25" y1="413.60" x2="412.25" y2="416.00" stroke="#2a2a2a" stroke-width="0.9"/>
<line x1="420.25" y1="413.60" x2="420.25" y2="416.00" stroke="#2a2a2a" stroke-width="0.9"/>
<line x1="428.25" y1="413.60" x2="428.25" y2="416.00" stroke="#2a2a2a" stroke-width="0.9"/>
<line x1="436.25" y1="413.60" x2="436.25" y2="416.00" stroke="#2a2a2a" stroke-width="0.9"/>
<path d="M444.30,411.88 L452.30,383.16 L460.30,365.49 L468.30,405.99 L476.30,409.00" fill="none" stroke="#6ab46a" stroke-width="1.0"/>
<path d="M444.30,411.88 L452.30,390.34 L460.30,383.73 L468.30,398.95 L476.30,410.15" fill="none" stroke="#4a6fa0" stroke-width="1.0"/>
<path d="M444.30,407.57 L452.30,402.26 L460.30,409.00 L468.30,406.28 L476.30,404.55" fill="none" stroke="#d2506a" stroke-width="1.0"/>
<rect x="442.54" y="410.12" width="3.52" height="3.52" fill="#8fbf86" stroke="#2f6e3c" stroke-width="0.8"/>
<line x1="452.30" y1="375.98" x2="452.30" y2="390.34" stroke="#2f6e3c" stroke-width="0.6"/>
<line x1="451.20" y1="375.98" x2="453.40" y2="375.98" stroke="#2f6e3c" stroke-width="0.6"/>
<line x1="451.20" y1="390.34" x2="453.40" y2="390.34" stroke="#2f6e3c" stroke-width="0.6"/>
<rect x="450.54" y="381.40" width="3.52" height="3.52" fill="#8fbf86" stroke="#2f6e3c" stroke-width="0.8"/>
<line x1="460.30" y1="357.60" x2="460.30" y2="373.39" stroke="#2f6e3c" stroke-width="0.6"/>
<line x1="459.20" y1="357.60" x2="461.40" y2="357.60" stroke="#2f6e3c" stroke-width="0.6"/>
<line x1="459.20" y1="373.39" x2="461.40" y2="373.39" stroke="#2f6e3c" stroke-width="0.6"/>
<rect x="458.54" y="363.73" width="3.52" height="3.52" fill="#8fbf86" stroke="#2f6e3c" stroke-width="0.8"/>
<line x1="468.30" y1="404.55" x2="468.30" y2="407.43" stroke="#2f6e3c" stroke-width="0.6"/>
<line x1="467.20" y1="404.55" x2="469.40" y2="404.55" stroke="#2f6e3c" stroke-width="0.6"/>
<line x1="467.20" y1="407.43" x2="469.40" y2="407.43" stroke="#2f6e3c" stroke-width="0.6"/>
<rect x="466.54" y="404.23" width="3.52" height="3.52" fill="#8fbf86" stroke="#2f6e3c" stroke-width="0.8"/>
<line x1="476.30" y1="408.29" x2="476.30" y2="409.72" stroke="#2f6e3c" stroke-width="0.6"/>
<line x1="475.20" y1="408.29" x2="477.40" y2="408.29" stroke="#2f6e3c" stroke-width="0.6"/>
<line x1="475.20" y1="409.72" x2="477.40" y2="409.72" stroke="#2f6e3c" stroke-width="0.6"/>
<rect x="474.54" y="407.24" width="3.52" height="3.52" fill="#8fbf86" stroke="#2f6e3c" stroke-width="0.8"/>
<path d="M442.10,411.88 L444.30,409.46 L446.50,411.88 L444.30,414.30 Z" fill="#1c2640"/>
<line x1="452.30" y1="386.03" x2="452.30" y2="394.64" stroke="#1c2640" stroke-width="0.6"/>
<line x1="451.20" y1="386.03" x2="453.40" y2="386.03" stroke="#1c2640" stroke-width="0.6"/>
<line x1="451.20" y1="394.64" x2="453.40" y2="394.64" stroke="#1c2640" stroke-width="0.6"/>
<path d="M450.10,390.34 L452.30,387.92 L454.50,390.34 L452.30,392.76 Z" fill="#1c2640"/>
<line x1="460.30" y1="378.85" x2="460.30" y2="388.61" stroke="#1c2640" stroke-width="0.6"/>
<line x1="459.20" y1="378.85" x2="461.40" y2="378.85" stroke="#1c2640" stroke-width="0.6"/>
<line x1="459.20" y1="388.61" x2="461.40" y2="388.61" stroke="#1c2640" stroke-width="0.6"/>
<path d="M458.10,383.73 L460.30,381.31 L462.50,383.73 L460.30,386.15 Z" fill="#1c2640"/>
<line x1="468.30" y1="397.52" x2="468.30" y2="400.39" stroke="#1c2640" stroke-width="0.6"/>
<line x1="467.20" y1="397.52" x2="469.40" y2="397.52" stroke="#1c2640" stroke-width="0.6"/>
<line x1="467.20" y1="400.39" x2="469.40" y2="400.39" stroke="#1c2640" stroke-width="0.6"/>
<path d="M466.10,398.95 L468.30,396.53 L470.50,398.95 L468.30,401.37 Z" fill="#1c2640"/>
<line x1="476.30" y1="409.44" x2="476.30" y2="410.87" stroke="#1c2640" stroke-width="0.6"/>
<line x1="475.20" y1="409.44" x2="477.40" y2="409.44" stroke="#1c2640" stroke-width="0.6"/>
<line x1="475.20" y1="410.87" x2="477.40" y2="410.87" stroke="#1c2640" stroke-width="0.6"/>
<path d="M474.10,410.15 L476.30,407.73 L478.50,410.15 L476.30,412.57 Z" fill="#1c2640"/>
<line x1="444.30" y1="406.42" x2="444.30" y2="408.72" stroke="#8e1b33" stroke-width="0.6"/>
<line x1="443.20" y1="406.42" x2="445.40" y2="406.42" stroke="#8e1b33" stroke-width="0.6"/>
<line x1="443.20" y1="408.72" x2="445.40" y2="408.72" stroke="#8e1b33" stroke-width="0.6"/>
<circle cx="444.30" cy="407.57" r="1.98" fill="#8e1b33"/>
<line x1="452.30" y1="400.10" x2="452.30" y2="404.41" stroke="#8e1b33" stroke-width="0.6"/>
<line x1="451.20" y1="400.10" x2="453.40" y2="400.10" stroke="#8e1b33" stroke-width="0.6"/>
<line x1="451.20" y1="404.41" x2="453.40" y2="404.41" stroke="#8e1b33" stroke-width="0.6"/>
<circle cx="452.30" cy="402.26" r="1.98" fill="#8e1b33"/>
<line x1="460.30" y1="407.86" x2="460.30" y2="410.15" stroke="#8e1b33" stroke-width="0.6"/>
<line x1="459.20" y1="407.86" x2="461.40" y2="407.86" stroke="#8e1b33" stroke-width="0.6"/>
<line x1="459.20" y1="410.15" x2="461.40" y2="410.15" stroke="#8e1b33" stroke-width="0.6"/>
<circle cx="460.30" cy="409.00" r="1.98" fill="#8e1b33"/>
<line x1="468.30" y1="405.13" x2="468.30" y2="407.43" stroke="#8e1b33" stroke-width="0.6"/>
<line x1="467.20" y1="405.13" x2="469.40" y2="405.13" stroke="#8e1b33" stroke-width="0.6"/>
<line x1="467.20" y1="407.43" x2="469.40" y2="407.43" stroke="#8e1b33" stroke-width="0.6"/>
<circle cx="468.30" cy="406.28" r="1.98" fill="#8e1b33"/>
<line x1="476.30" y1="403.12" x2="476.30" y2="405.99" stroke="#8e1b33" stroke-width="0.6"/>
<line x1="475.20" y1="403.12" x2="477.40" y2="403.12" stroke="#8e1b33" stroke-width="0.6"/>
<line x1="475.20" y1="405.99" x2="477.40" y2="405.99" stroke="#8e1b33" stroke-width="0.6"/>
<circle cx="476.30" cy="404.55" r="1.98" fill="#8e1b33"/>
<line x1="444.30" y1="413.60" x2="444.30" y2="416.00" stroke="#2a2a2a" stroke-width="0.9"/>
<line x1="452.30" y1="413.60" x2="452.30" y2="416.00" stroke="#2a2a2a" stroke-width="0.9"/>
<line x1="460.30" y1="413.60" x2="460.30" y2="416.00" stroke="#2a2a2a" stroke-width="0.9"/>
<line x1="468.30" y1="413.60" x2="468.30" y2="416.00" stroke="#2a2a2a" stroke-width="0.9"/>
<line x1="476.30" y1="413.60" x2="476.30" y2="416.00" stroke="#2a2a2a" stroke-width="0.9"/>
<path d="M484.35,411.73 L492.35,411.73 L500.35,411.73 L508.35,411.73 L516.35,411.73" fill="none" stroke="#6ab46a" stroke-width="1.0"/>
<path d="M484.35,411.88 L492.35,411.88 L500.35,411.88 L508.35,411.88 L516.35,411.88" fill="none" stroke="#4a6fa0" stroke-width="1.0"/>
<path d="M484.35,404.55 L492.35,402.97 L500.35,404.27 L508.35,406.28 L516.35,404.55" fill="none" stroke="#d2506a" stroke-width="1.0"/>
<rect x="482.59" y="409.97" width="3.52" height="3.52" fill="#8fbf86" stroke="#2f6e3c" stroke-width="0.8"/>
<rect x="490.59" y="409.97" width="3.52" height="3.52" fill="#8fbf86" stroke="#2f6e3c" stroke-width="0.8"/>
<rect x="498.59" y="409.97" width="3.52" height="3.52" fill="#8fbf86" stroke="#2f6e3c" stroke-width="0.8"/>
<rect x="506.59" y="409.97" width="3.52" height="3.52" fill="#8fbf86" stroke="#2f6e3c" stroke-width="0.8"/>
<rect x="514.59" y="409.97" width="3.52" height="3.52" fill="#8fbf86" stroke="#2f6e3c" stroke-width="0.8"/>
<path d="M482.15,411.88 L484.35,409.46 L486.55,411.88 L484.35,414.30 Z" fill="#1c2640"/>
<path d="M490.15,411.88 L492.35,409.46 L494.55,411.88 L492.35,414.30 Z" fill="#1c2640"/>
<path d="M498.15,411.88 L500.35,409.46 L502.55,411.88 L500.35,414.30 Z" fill="#1c2640"/>
<path d="M506.15,411.88 L508.35,409.46 L510.55,411.88 L508.35,414.30 Z" fill="#1c2640"/>
<path d="M514.15,411.88 L516.35,409.46 L518.55,411.88 L516.35,414.30 Z" fill="#1c2640"/>
<line x1="484.35" y1="403.40" x2="484.35" y2="405.70" stroke="#8e1b33" stroke-width="0.6"/>
<line x1="483.25" y1="403.40" x2="485.45" y2="403.40" stroke="#8e1b33" stroke-width="0.6"/>
<line x1="483.25" y1="405.70" x2="485.45" y2="405.70" stroke="#8e1b33" stroke-width="0.6"/>
<circle cx="484.35" cy="404.55" r="1.98" fill="#8e1b33"/>
<line x1="492.35" y1="402.11" x2="492.35" y2="403.84" stroke="#8e1b33" stroke-width="0.6"/>
<line x1="491.25" y1="402.11" x2="493.45" y2="402.11" stroke="#8e1b33" stroke-width="0.6"/>
<line x1="491.25" y1="403.84" x2="493.45" y2="403.84" stroke="#8e1b33" stroke-width="0.6"/>
<circle cx="492.35" cy="402.97" r="1.98" fill="#8e1b33"/>
<line x1="500.35" y1="402.83" x2="500.35" y2="405.70" stroke="#8e1b33" stroke-width="0.6"/>
<line x1="499.25" y1="402.83" x2="501.45" y2="402.83" stroke="#8e1b33" stroke-width="0.6"/>
<line x1="499.25" y1="405.70" x2="501.45" y2="405.70" stroke="#8e1b33" stroke-width="0.6"/>
<circle cx="500.35" cy="404.27" r="1.98" fill="#8e1b33"/>
<line x1="508.35" y1="405.41" x2="508.35" y2="407.14" stroke="#8e1b33" stroke-width="0.6"/>
<line x1="507.25" y1="405.41" x2="509.45" y2="405.41" stroke="#8e1b33" stroke-width="0.6"/>
<line x1="507.25" y1="407.14" x2="509.45" y2="407.14" stroke="#8e1b33" stroke-width="0.6"/>
<circle cx="508.35" cy="406.28" r="1.98" fill="#8e1b33"/>
<line x1="516.35" y1="403.40" x2="516.35" y2="405.70" stroke="#8e1b33" stroke-width="0.6"/>
<line x1="515.25" y1="403.40" x2="517.45" y2="403.40" stroke="#8e1b33" stroke-width="0.6"/>
<line x1="515.25" y1="405.70" x2="517.45" y2="405.70" stroke="#8e1b33" stroke-width="0.6"/>
<circle cx="516.35" cy="404.55" r="1.98" fill="#8e1b33"/>
<line x1="484.35" y1="413.60" x2="484.35" y2="416.00" stroke="#2a2a2a" stroke-width="0.9"/>
<line x1="492.35" y1="413.60" x2="492.35" y2="416.00" stroke="#2a2a2a" stroke-width="0.9"/>
<line x1="500.35" y1="413.60" x2="500.35" y2="416.00" stroke="#2a2a2a" stroke-width="0.9"/>
<line x1="508.35" y1="413.60" x2="508.35" y2="416.00" stroke="#2a2a2a" stroke-width="0.9"/>
<line x1="516.35" y1="413.60" x2="516.35" y2="416.00" stroke="#2a2a2a" stroke-width="0.9"/>
<text x="364.2" y="425.4" font-size="6.3" fill="#2a2a2a" stroke="#2a2a2a" stroke-width="0.12" text-anchor="middle">0</text>
<text x="372.2" y="425.4" font-size="6.3" fill="#2a2a2a" stroke="#2a2a2a" stroke-width="0.12" text-anchor="middle">3</text>
<text x="380.2" y="425.4" font-size="6.3" fill="#2a2a2a" stroke="#2a2a2a" stroke-width="0.12" text-anchor="middle">7</text>
<text x="392.2" y="425.4" font-size="6.3" fill="#2a2a2a" stroke="#2a2a2a" stroke-width="0.12" text-anchor="middle" textLength="12.8" lengthAdjust="spacingAndGlyphs">1421</text>
<text x="404.25" y="425.4" font-size="6.3" fill="#2a2a2a" stroke="#2a2a2a" stroke-width="0.12" text-anchor="middle">0</text>
<text x="412.25" y="425.4" font-size="6.3" fill="#2a2a2a" stroke="#2a2a2a" stroke-width="0.12" text-anchor="middle">3</text>
<text x="420.25" y="425.4" font-size="6.3" fill="#2a2a2a" stroke="#2a2a2a" stroke-width="0.12" text-anchor="middle">7</text>
<text x="432.25" y="425.4" font-size="6.3" fill="#2a2a2a" stroke="#2a2a2a" stroke-width="0.12" text-anchor="middle" textLength="12.8" lengthAdjust="spacingAndGlyphs">1421</text>
<text x="444.29999999999995" y="425.4" font-size="6.3" fill="#2a2a2a" stroke="#2a2a2a" stroke-width="0.12" text-anchor="middle">0</text>
<text x="452.29999999999995" y="425.4" font-size="6.3" fill="#2a2a2a" stroke="#2a2a2a" stroke-width="0.12" text-anchor="middle">3</text>
<text x="460.29999999999995" y="425.4" font-size="6.3" fill="#2a2a2a" stroke="#2a2a2a" stroke-width="0.12" text-anchor="middle">7</text>
<text x="472.29999999999995" y="425.4" font-size="6.3" fill="#2a2a2a" stroke="#2a2a2a" stroke-width="0.12" text-anchor="middle" textLength="12.8" lengthAdjust="spacingAndGlyphs">1421</text>
<text x="484.34999999999997" y="425.4" font-size="6.3" fill="#2a2a2a" stroke="#2a2a2a" stroke-width="0.12" text-anchor="middle">0</text>
<text x="492.34999999999997" y="425.4" font-size="6.3" fill="#2a2a2a" stroke="#2a2a2a" stroke-width="0.12" text-anchor="middle">3</text>
<text x="500.34999999999997" y="425.4" font-size="6.3" fill="#2a2a2a" stroke="#2a2a2a" stroke-width="0.12" text-anchor="middle">7</text>
<text x="512.3499999999999" y="425.4" font-size="6.3" fill="#2a2a2a" stroke="#2a2a2a" stroke-width="0.12" text-anchor="middle" textLength="12.8" lengthAdjust="spacingAndGlyphs">1421</text>
<text x="410.0" y="437.5" font-size="9.01" fill="#2a2a2a" font-weight="bold" textLength="61.9" lengthAdjust="spacingAndGlyphs">Days after treatment</text>
<ellipse cx="20.30" cy="103.20" rx="0.9" ry="1.1" fill="#231f20"/>
<ellipse cx="20.30" cy="113.30" rx="0.9" ry="1.1" fill="#231f20"/>
<ellipse cx="131.20" cy="103.40" rx="0.9" ry="1.1" fill="#231f20"/>
<ellipse cx="251.20" cy="102.50" rx="0.9" ry="1.1" fill="#231f20"/>
<ellipse cx="145.60" cy="118.00" rx="1.3" ry="0.8" fill="#231f20"/>
<ellipse cx="268.50" cy="118.20" rx="1.3" ry="0.8" fill="#231f20"/>
<ellipse cx="36.80" cy="241.90" rx="1.6" ry="0.8" fill="#231f20"/>
<ellipse cx="113.80" cy="241.90" rx="1.6" ry="0.8" fill="#231f20"/>
<ellipse cx="190.80" cy="241.90" rx="1.6" ry="0.8" fill="#231f20"/>
<ellipse cx="267.70" cy="241.90" rx="1.6" ry="0.8" fill="#231f20"/>
<ellipse cx="20.60" cy="359.20" rx="0.9" ry="1.2" fill="#231f20"/>
<ellipse cx="35.90" cy="375.30" rx="1.6" ry="0.8" fill="#231f20"/>
<ellipse cx="35.90" cy="471.60" rx="1.6" ry="0.8" fill="#231f20"/>
<ellipse cx="97.50" cy="359.20" rx="0.9" ry="1.2" fill="#231f20"/>
<ellipse cx="112.80" cy="375.30" rx="1.6" ry="0.8" fill="#231f20"/>
<ellipse cx="112.80" cy="471.60" rx="1.6" ry="0.8" fill="#231f20"/>
<ellipse cx="175.00" cy="359.20" rx="0.9" ry="1.2" fill="#231f20"/>
<ellipse cx="190.30" cy="375.30" rx="1.6" ry="0.8" fill="#231f20"/>
<ellipse cx="190.30" cy="471.60" rx="1.6" ry="0.8" fill="#231f20"/>
<ellipse cx="251.20" cy="359.20" rx="0.9" ry="1.2" fill="#231f20"/>
<ellipse cx="266.50" cy="375.30" rx="1.6" ry="0.8" fill="#231f20"/>
<ellipse cx="266.50" cy="471.60" rx="1.6" ry="0.8" fill="#231f20"/>
</svg>
</body></html>
